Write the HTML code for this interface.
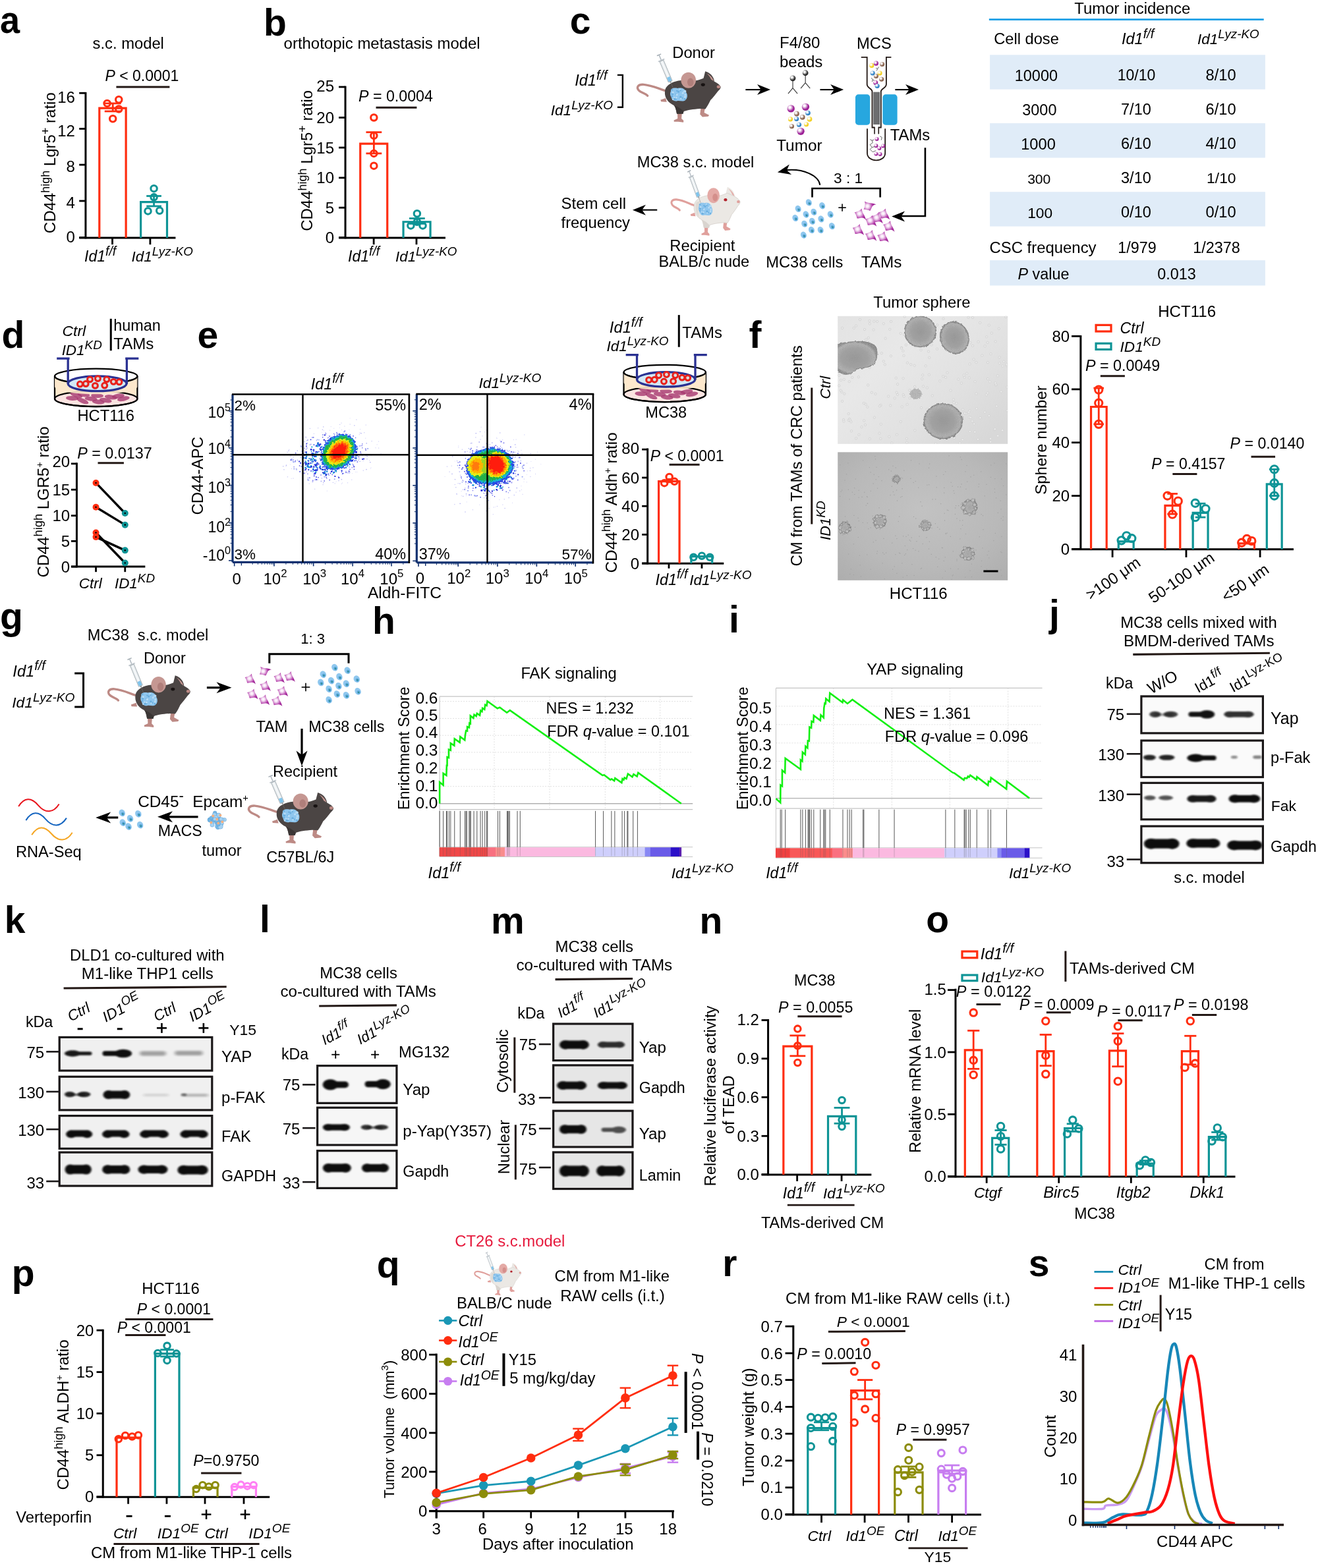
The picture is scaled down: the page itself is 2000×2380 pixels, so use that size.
<!DOCTYPE html>
<html><head><meta charset="utf-8"><title>Figure</title>
<style>html,body{margin:0;padding:0;background:#fff}svg{display:block}text{font-family:"Liberation Sans",sans-serif;fill:#000;white-space:pre}</style></head>
<body>
<svg width="2000" height="2380" viewBox="0 0 2000 2380">
<defs>
<radialGradient id="tamg" cx="0.42" cy="0.45" r="0.55"><stop offset="0" stop-color="#fff"/><stop offset="0.25" stop-color="#f6e3f5"/><stop offset="0.8" stop-color="#b23aa8"/><stop offset="1" stop-color="#a02898"/></radialGradient>
<radialGradient id="sg2b2b2b" cx="0.38" cy="0.36" r="0.65" fx="0.34" fy="0.32"><stop offset="0" stop-color="#fff"/><stop offset="0.18" stop-color="#fff" stop-opacity="0.9"/><stop offset="0.75" stop-color="#2b2b2b"/><stop offset="1" stop-color="#2b2b2b"/></radialGradient>
<radialGradient id="sg9c1f96" cx="0.38" cy="0.36" r="0.65" fx="0.34" fy="0.32"><stop offset="0" stop-color="#fff"/><stop offset="0.18" stop-color="#fff" stop-opacity="0.9"/><stop offset="0.75" stop-color="#9c1f96"/><stop offset="1" stop-color="#9c1f96"/></radialGradient>
<radialGradient id="sg87604a" cx="0.38" cy="0.36" r="0.65" fx="0.34" fy="0.32"><stop offset="0" stop-color="#fff"/><stop offset="0.18" stop-color="#fff" stop-opacity="0.9"/><stop offset="0.75" stop-color="#87604a"/><stop offset="1" stop-color="#87604a"/></radialGradient>
<radialGradient id="sg2a7fc4" cx="0.38" cy="0.36" r="0.65" fx="0.34" fy="0.32"><stop offset="0" stop-color="#fff"/><stop offset="0.18" stop-color="#fff" stop-opacity="0.9"/><stop offset="0.75" stop-color="#2a7fc4"/><stop offset="1" stop-color="#2a7fc4"/></radialGradient>
<radialGradient id="sgf2cf1f" cx="0.38" cy="0.36" r="0.65" fx="0.34" fy="0.32"><stop offset="0" stop-color="#fff"/><stop offset="0.18" stop-color="#fff" stop-opacity="0.9"/><stop offset="0.75" stop-color="#f2cf1f"/><stop offset="1" stop-color="#f2cf1f"/></radialGradient>
<filter id="bl1" x="-50%" y="-50%" width="200%" height="200%"><feGaussianBlur stdDeviation="0.8"/></filter>
<filter id="bl2" x="-50%" y="-50%" width="200%" height="200%"><feGaussianBlur stdDeviation="1.6"/></filter>
<filter id="bl3" x="-50%" y="-50%" width="200%" height="200%"><feGaussianBlur stdDeviation="2.6"/></filter>
<filter id="rough" x="-20%" y="-20%" width="140%" height="140%"><feTurbulence type="fractalNoise" baseFrequency="0.33" numOctaves="2" seed="4" result="n"/><feDisplacementMap in="SourceGraphic" in2="n" scale="8" xChannelSelector="R" yChannelSelector="G"/><feGaussianBlur stdDeviation="0.45"/></filter>
<linearGradient id="mg1" x1="0" y1="0" x2="1" y2="0.8"><stop offset="0" stop-color="#e3e3e3"/><stop offset="0.35" stop-color="#e8e8e8"/><stop offset="0.7" stop-color="#e1e1e1"/><stop offset="1" stop-color="#d8d8d8"/></linearGradient>
<filter id="grain" x="-10%" y="-10%" width="120%" height="120%"><feTurbulence type="fractalNoise" baseFrequency="0.28" numOctaves="2" seed="8" result="d"/><feDisplacementMap in="SourceGraphic" in2="d" scale="3.5" xChannelSelector="R" yChannelSelector="G" result="s"/><feTurbulence type="fractalNoise" baseFrequency="0.85" numOctaves="2" seed="2" result="n"/><feColorMatrix in="n" type="matrix" values="0 0 0 0 0.35  0 0 0 0 0.35  0 0 0 0 0.35  0.9 0.9 0.9 0 -1.05" result="g"/><feComposite in="g" in2="s" operator="in" result="gg"/><feMerge><feMergeNode in="s"/><feMergeNode in="gg"/></feMerge></filter>
<radialGradient id="mg2" cx="0.5" cy="0.45" r="0.75"><stop offset="0" stop-color="#c2c2c2"/><stop offset="0.6" stop-color="#b9b9b9"/><stop offset="1" stop-color="#adadad"/></radialGradient>
<radialGradient id="ms1" cx="0.5" cy="0.5" r="0.5"><stop offset="0" stop-color="#959595"/><stop offset="0.6" stop-color="#a2a2a2"/><stop offset="0.9" stop-color="#b6b6b6"/><stop offset="1" stop-color="#8a8a8a"/></radialGradient>
<radialGradient id="ms2" cx="0.5" cy="0.5" r="0.5"><stop offset="0" stop-color="#a8a8a8"/><stop offset="0.6" stop-color="#b4b4b4"/><stop offset="0.9" stop-color="#a0a0a0"/><stop offset="1" stop-color="#8a8a8a"/></radialGradient>
<clipPath id="mc1"><rect x="1271.22" y="479.83" width="257.93" height="193.98"/></clipPath>
<filter id="bb1" x="-20%" y="-80%" width="140%" height="260%"><feGaussianBlur stdDeviation="1.6 1.3"/></filter>
<filter id="bb2" x="-20%" y="-80%" width="140%" height="260%"><feGaussianBlur stdDeviation="2.4 1.8"/></filter>
</defs>
<rect width="2000" height="2380" fill="#fff"/>
<g id="p-a">
<text transform="translate(-0.09 49.75) scale(0.95 1)" font-size="57" font-weight="bold">a</text>
<text x="140.59" y="73.7" font-size="23.78">s.c. model</text>
<text x="159.41" y="122.9" font-size="23.02"><tspan font-style="italic">P</tspan><tspan> &lt; 0.0001</tspan></text>
<line x1="176.42" y1="131.97" x2="257.37" y2="131.97" stroke="#231815" stroke-width="3" />
<line x1="129.93" y1="139.91" x2="129.93" y2="362.3" stroke="#000" stroke-width="3" />
<line x1="120.18" y1="361" x2="266.44" y2="361" stroke="#000" stroke-width="3" />
<line x1="120.18" y1="141.27" x2="129.93" y2="141.27" stroke="#000" stroke-width="2.8" />
<text x="113.83" y="156.45" font-size="24" text-anchor="end">16</text>
<line x1="120.18" y1="195.46" x2="129.93" y2="195.46" stroke="#000" stroke-width="2.8" />
<text x="113.83" y="207.24" font-size="24" text-anchor="end">12</text>
<line x1="120.18" y1="250.11" x2="129.93" y2="250.11" stroke="#000" stroke-width="2.8" />
<text x="113.83" y="261.43" font-size="24" text-anchor="end">8</text>
<line x1="120.18" y1="304.99" x2="129.93" y2="304.99" stroke="#000" stroke-width="2.8" />
<text x="113.83" y="316.31" font-size="24" text-anchor="end">4</text>
<line x1="120.18" y1="360.54" x2="129.93" y2="360.54" stroke="#000" stroke-width="2.8" />
<text x="113.83" y="368.01" font-size="24" text-anchor="end">0</text>
<line x1="170.52" y1="361" x2="170.52" y2="371.2" stroke="#000" stroke-width="2.8" />
<line x1="227.89" y1="361" x2="227.89" y2="371.2" stroke="#000" stroke-width="2.8" />
<path d="M150.81 361 V164.19 H191.14 V361" fill="none" stroke="#ff2d0f" stroke-width="3.2" stroke-linejoin="miter"/>
<path d="M213.62 361 V306.59 H253.5 V361" fill="none" stroke="#0e9496" stroke-width="3.2" stroke-linejoin="miter"/>
<line x1="171.2" y1="156.92" x2="171.2" y2="168.93" stroke="#ff2d0f" stroke-width="2.8" />
<line x1="158.73" y1="156.92" x2="183.67" y2="156.92" stroke="#ff2d0f" stroke-width="2.8" />
<line x1="158.73" y1="168.93" x2="183.67" y2="168.93" stroke="#ff2d0f" stroke-width="2.8" />
<circle cx="180.27" cy="151.25" r="4.7" fill="none" stroke="#ff2d0f" stroke-width="3.1" />
<circle cx="162.59" cy="156.92" r="4.7" fill="none" stroke="#ff2d0f" stroke-width="3.1" />
<circle cx="180.27" cy="165.53" r="4.7" fill="none" stroke="#ff2d0f" stroke-width="3.1" />
<circle cx="171.2" cy="180.27" r="4.7" fill="none" stroke="#ff2d0f" stroke-width="3.1" />
<line x1="233.56" y1="297.51" x2="233.56" y2="312.93" stroke="#0e9496" stroke-width="2.8" />
<line x1="222.22" y1="297.51" x2="244.9" y2="297.51" stroke="#0e9496" stroke-width="2.8" />
<line x1="222.22" y1="312.93" x2="244.9" y2="312.93" stroke="#0e9496" stroke-width="2.8" />
<circle cx="233.56" cy="286.17" r="4.7" fill="none" stroke="#0e9496" stroke-width="3.1" />
<circle cx="233.56" cy="299.32" r="4.7" fill="none" stroke="#0e9496" stroke-width="3.1" />
<circle cx="224.49" cy="320.41" r="4.7" fill="none" stroke="#0e9496" stroke-width="3.1" />
<circle cx="242.18" cy="319.73" r="4.7" fill="none" stroke="#0e9496" stroke-width="3.1" />
<text x="84.35" y="354.2" font-size="24" transform="rotate(-90 84.35 354.2)"><tspan>CD44</tspan><tspan font-size="18" dy="-9.12">high</tspan><tspan dy="9.12"> Lgr5</tspan><tspan font-size="18" dy="-9.12">+</tspan><tspan dy="9.12"> ratio</tspan></text>
<text x="128.12" y="396.83" font-size="23"><tspan font-style="italic">Id1</tspan><tspan font-style="italic" font-size="19.32" dy="-9.2">f/f</tspan></text>
<text x="199.55" y="396.83" font-size="22.37"><tspan font-style="italic">Id1</tspan><tspan font-style="italic" font-size="18.79" dy="-8.95">Lyz-KO</tspan></text>
</g>
<g id="p-b">
<text transform="translate(399.91 54.29) scale(1 1)" font-size="57" font-weight="bold">b</text>
<text x="430.61" y="73.7" font-size="23.95">orthotopic metastasis model</text>
<text x="543.99" y="154.2" font-size="23.21"><tspan font-style="italic">P</tspan><tspan> = 0.0004</tspan></text>
<line x1="570.52" y1="163.27" x2="632.43" y2="163.27" stroke="#231815" stroke-width="3" />
<line x1="524.04" y1="130.61" x2="524.04" y2="362.3" stroke="#000" stroke-width="3" />
<line x1="514.06" y1="361" x2="675.96" y2="361" stroke="#000" stroke-width="3" />
<line x1="514.06" y1="131.97" x2="524.04" y2="131.97" stroke="#000" stroke-width="2.8" />
<text x="507.03" y="139.07" font-size="24" text-anchor="end">25</text>
<line x1="514.06" y1="178.46" x2="524.04" y2="178.46" stroke="#000" stroke-width="2.8" />
<text x="507.03" y="187.06" font-size="24" text-anchor="end">20</text>
<line x1="514.06" y1="224.04" x2="524.04" y2="224.04" stroke="#000" stroke-width="2.8" />
<text x="507.03" y="232.64" font-size="24" text-anchor="end">15</text>
<line x1="514.06" y1="269.84" x2="524.04" y2="269.84" stroke="#000" stroke-width="2.8" />
<text x="507.03" y="278.44" font-size="24" text-anchor="end">10</text>
<line x1="514.06" y1="315.19" x2="524.04" y2="315.19" stroke="#000" stroke-width="2.8" />
<text x="507.03" y="323.79" font-size="24" text-anchor="end">5</text>
<line x1="514.06" y1="360.54" x2="524.04" y2="360.54" stroke="#000" stroke-width="2.8" />
<text x="507.03" y="369.14" font-size="24" text-anchor="end">0</text>
<line x1="567.12" y1="361" x2="567.12" y2="371.2" stroke="#000" stroke-width="2.8" />
<line x1="631.97" y1="361" x2="631.97" y2="371.2" stroke="#000" stroke-width="2.8" />
<path d="M546.72 361 V218.15 H587.74 V361" fill="none" stroke="#ff2d0f" stroke-width="3.2" stroke-linejoin="miter"/>
<path d="M612.03 361 V336.75 H653.05 V361" fill="none" stroke="#0e9496" stroke-width="3.2" stroke-linejoin="miter"/>
<line x1="567.35" y1="200.68" x2="567.35" y2="232.88" stroke="#ff2d0f" stroke-width="2.8" />
<line x1="555.44" y1="200.68" x2="579.25" y2="200.68" stroke="#ff2d0f" stroke-width="2.8" />
<line x1="555.44" y1="232.88" x2="579.25" y2="232.88" stroke="#ff2d0f" stroke-width="2.8" />
<circle cx="567.35" cy="178.46" r="4.7" fill="none" stroke="#ff2d0f" stroke-width="3.1" />
<circle cx="567.35" cy="205.9" r="4.7" fill="none" stroke="#ff2d0f" stroke-width="3.1" />
<circle cx="567.35" cy="232.88" r="4.7" fill="none" stroke="#ff2d0f" stroke-width="3.1" />
<circle cx="567.35" cy="251.7" r="4.7" fill="none" stroke="#ff2d0f" stroke-width="3.1" />
<line x1="632.88" y1="331.52" x2="632.88" y2="339.46" stroke="#0e9496" stroke-width="2.8" />
<line x1="620.98" y1="331.52" x2="644.78" y2="331.52" stroke="#0e9496" stroke-width="2.8" />
<line x1="620.98" y1="339.46" x2="644.78" y2="339.46" stroke="#0e9496" stroke-width="2.8" />
<circle cx="632.88" cy="324.26" r="4.7" fill="none" stroke="#0e9496" stroke-width="3.1" />
<circle cx="623.36" cy="342.4" r="4.7" fill="none" stroke="#0e9496" stroke-width="3.1" />
<circle cx="641.5" cy="342.4" r="4.7" fill="none" stroke="#0e9496" stroke-width="3.1" />
<circle cx="632.88" cy="336.73" r="4.7" fill="none" stroke="#0e9496" stroke-width="3.1" />
<text x="473.7" y="350.79" font-size="24" transform="rotate(-90 473.7 350.79)"><tspan>CD44</tspan><tspan font-size="18" dy="-9.12">high</tspan><tspan dy="9.12"> Lgr5</tspan><tspan font-size="18" dy="-9.12">+</tspan><tspan dy="9.12"> ratio</tspan></text>
<text x="528.12" y="396.83" font-size="23"><tspan font-style="italic">Id1</tspan><tspan font-style="italic" font-size="19.32" dy="-9.2">f/f</tspan></text>
<text x="600" y="396.83" font-size="22.37"><tspan font-style="italic">Id1</tspan><tspan font-style="italic" font-size="18.79" dy="-8.95">Lyz-KO</tspan></text>
</g>
<g id="p-c">
<text transform="translate(864.87 50.6) scale(1 1)" font-size="57" font-weight="bold">c</text>
<text x="1020.24" y="87.7" font-size="23.75">Donor</text>
<text x="872.22" y="130.16" font-size="23.54"><tspan font-style="italic">Id1</tspan><tspan font-style="italic" font-size="19.77" dy="-9.42">f/f</tspan></text>
<text x="835.71" y="175" font-size="22.62"><tspan font-style="italic">Id1</tspan><tspan font-style="italic" font-size="19" dy="-9.05">Lyz-KO</tspan></text>
<path d="M936.9 113.89 H944.84 V162.7 H936.9" fill="none" stroke="#000" stroke-width="2.4" />
<text x="1182.94" y="72.62" font-size="24.05">F4/80</text>
<text x="1182.94" y="101.59" font-size="24.03">beads</text>
<text x="1300" y="73.81" font-size="23.75">MCS</text>
<text x="1178.17" y="228.57" font-size="24.35">Tumor</text>
<text x="1350.79" y="212.7" font-size="23.78">TAMs</text>
<text x="966.67" y="254.37" font-size="23.7">MC38 s.c. model</text>
<text x="1265.08" y="277.87" font-size="22.64">3 : 1</text>
<text x="851.59" y="317.07" font-size="23.93">Stem cell</text>
<text x="851.59" y="345.64" font-size="23.76">frequency</text>
<text x="1016.27" y="381.35" font-size="23.8">Recipient</text>
<text x="999.6" y="405.16" font-size="23.59">BALB/c nude</text>
<text x="1162.3" y="406.35" font-size="23.67">MC38 cells</text>
<text x="1306.75" y="406.35" font-size="24.25">TAMs</text>
<line x1="1131.35" y1="136.11" x2="1155.05" y2="136.11" stroke="#000" stroke-width="2.1" />
<path d="M1169.05 136.11 L1149.05 128.11 L1154.65 136.11 L1149.05 144.11 Z" fill="#000" />
<line x1="1244.44" y1="136.11" x2="1266.16" y2="136.11" stroke="#000" stroke-width="2.1" />
<path d="M1280.16 136.11 L1260.16 128.11 L1265.76 136.11 L1260.16 144.11 Z" fill="#000" />
<line x1="1358.33" y1="136.11" x2="1380.05" y2="136.11" stroke="#000" stroke-width="2.1" />
<path d="M1394.05 136.11 L1374.05 128.11 L1379.65 136.11 L1374.05 144.11 Z" fill="#000" />
<line x1="997.22" y1="318.65" x2="973.92" y2="318.65" stroke="#000" stroke-width="2.1" />
<path d="M959.92 318.65 L979.92 326.65 L974.32 318.65 L979.92 310.65 Z" fill="#000" />
<path d="M1403.92 224.21 V328.01 H1366.34" fill="none" stroke="#000" stroke-width="2.6" />
<path d="M1353.07 328.45 L1373.07 336.45 L1367.47 328.45 L1373.07 320.45 Z" fill="#000" />
<path d="M1232.51 299.57 V286.01 H1335.68 V299.57" fill="none" stroke="#000" stroke-width="2.7" />
<path d="M1244.3 280.85 C1242.54 266.85 1218.95 255.06 1191.69 258.3" fill="none" stroke="#000" stroke-width="2" />
<path d="M1179.9 261.39 L1201.12 265.06 L1193.98 258.4 L1197.8 249.41 Z" fill="#000" />
<line x1="1272.31" y1="315.19" x2="1283.8" y2="315.19" stroke="#000" stroke-width="1.6" />
<line x1="1278.05" y1="309.59" x2="1278.05" y2="320.79" stroke="#000" stroke-width="1.6" />
<g transform="translate(1227.35 307.38) rotate(-25)">
<ellipse cx="0" cy="0" rx="4.37" ry="5.29" fill="#8fc7ee" />
<ellipse cx="0.3" cy="1.61" rx="2.3" ry="2.53" fill="#5aa6dc" />
<circle cx="0.3" cy="1.84" r="1.2" fill="#2f8f8f" />
</g>
<g transform="translate(1247.69 312.24) rotate(-25)">
<ellipse cx="0" cy="0" rx="4.37" ry="5.29" fill="#8fc7ee" />
<ellipse cx="0.3" cy="1.61" rx="2.3" ry="2.53" fill="#5aa6dc" />
<circle cx="0.3" cy="1.84" r="1.2" fill="#2f8f8f" />
</g>
<g transform="translate(1211.14 316.96) rotate(-25)">
<ellipse cx="0" cy="0" rx="4.37" ry="5.29" fill="#8fc7ee" />
<ellipse cx="0.3" cy="1.61" rx="2.3" ry="2.53" fill="#5aa6dc" />
<circle cx="0.3" cy="1.84" r="1.2" fill="#2f8f8f" />
</g>
<g transform="translate(1234.87 321.82) rotate(-25)">
<ellipse cx="0" cy="0" rx="4.37" ry="5.29" fill="#8fc7ee" />
<ellipse cx="0.3" cy="1.61" rx="2.3" ry="2.53" fill="#5aa6dc" />
<circle cx="0.3" cy="1.84" r="1.2" fill="#2f8f8f" />
</g>
<g transform="translate(1223.08 325.5) rotate(-25)">
<ellipse cx="0" cy="0" rx="4.37" ry="5.29" fill="#8fc7ee" />
<ellipse cx="0.3" cy="1.61" rx="2.3" ry="2.53" fill="#5aa6dc" />
<circle cx="0.3" cy="1.84" r="1.2" fill="#2f8f8f" />
</g>
<g transform="translate(1260.22 325.5) rotate(-25)">
<ellipse cx="0" cy="0" rx="4.37" ry="5.29" fill="#8fc7ee" />
<ellipse cx="0.3" cy="1.61" rx="2.3" ry="2.53" fill="#5aa6dc" />
<circle cx="0.3" cy="1.84" r="1.2" fill="#2f8f8f" />
</g>
<g transform="translate(1206.87 330.96) rotate(-25)">
<ellipse cx="0" cy="0" rx="4.37" ry="5.29" fill="#8fc7ee" />
<ellipse cx="0.3" cy="1.61" rx="2.3" ry="2.53" fill="#5aa6dc" />
<circle cx="0.3" cy="1.84" r="1.2" fill="#2f8f8f" />
</g>
<g transform="translate(1245.92 332.43) rotate(-25)">
<ellipse cx="0" cy="0" rx="4.37" ry="5.29" fill="#8fc7ee" />
<ellipse cx="0.3" cy="1.61" rx="2.3" ry="2.53" fill="#5aa6dc" />
<circle cx="0.3" cy="1.84" r="1.2" fill="#2f8f8f" />
</g>
<g transform="translate(1232.51 335.82) rotate(-25)">
<ellipse cx="0" cy="0" rx="4.37" ry="5.29" fill="#8fc7ee" />
<ellipse cx="0.3" cy="1.61" rx="2.3" ry="2.53" fill="#5aa6dc" />
<circle cx="0.3" cy="1.84" r="1.2" fill="#2f8f8f" />
</g>
<g transform="translate(1220.72 339.8) rotate(-25)">
<ellipse cx="0" cy="0" rx="4.37" ry="5.29" fill="#8fc7ee" />
<ellipse cx="0.3" cy="1.61" rx="2.3" ry="2.53" fill="#5aa6dc" />
<circle cx="0.3" cy="1.84" r="1.2" fill="#2f8f8f" />
</g>
<g transform="translate(1262.43 343.19) rotate(-25)">
<ellipse cx="0" cy="0" rx="4.37" ry="5.29" fill="#8fc7ee" />
<ellipse cx="0.3" cy="1.61" rx="2.3" ry="2.53" fill="#5aa6dc" />
<circle cx="0.3" cy="1.84" r="1.2" fill="#2f8f8f" />
</g>
<g transform="translate(1231.48 349.09) rotate(-25)">
<ellipse cx="0" cy="0" rx="4.37" ry="5.29" fill="#8fc7ee" />
<ellipse cx="0.3" cy="1.61" rx="2.3" ry="2.53" fill="#5aa6dc" />
<circle cx="0.3" cy="1.84" r="1.2" fill="#2f8f8f" />
</g>
<g transform="translate(1245.19 349.09) rotate(-25)">
<ellipse cx="0" cy="0" rx="4.37" ry="5.29" fill="#8fc7ee" />
<ellipse cx="0.3" cy="1.61" rx="2.3" ry="2.53" fill="#5aa6dc" />
<circle cx="0.3" cy="1.84" r="1.2" fill="#2f8f8f" />
</g>
<g transform="translate(1219.4 356.75) rotate(-25)">
<ellipse cx="0" cy="0" rx="4.37" ry="5.29" fill="#8fc7ee" />
<ellipse cx="0.3" cy="1.61" rx="2.3" ry="2.53" fill="#5aa6dc" />
<circle cx="0.3" cy="1.84" r="1.2" fill="#2f8f8f" />
</g>
<g transform="translate(1317.7 312.54) rotate(-55) scale(1.0000)">
<path d="M-8.4 -2.8 C-5 -3.5 0 -5 2.3 -8.6 C2.8 -5 4 -2 5.6 0.5 C7 3 8 5.5 8.8 8.4 C6.5 6 4.5 5.2 2.5 5.4 C0 5.8 -2.5 6.4 -4.6 6.4 C-5.5 3 -6.5 0 -8.4 -2.8Z" fill="url(#tamg)" />
</g>
<g transform="translate(1305.17 325.06) rotate(0) scale(1.0000)">
<path d="M-8.4 -2.8 C-5 -3.5 0 -5 2.3 -8.6 C2.8 -5 4 -2 5.6 0.5 C7 3 8 5.5 8.8 8.4 C6.5 6 4.5 5.2 2.5 5.4 C0 5.8 -2.5 6.4 -4.6 6.4 C-5.5 3 -6.5 0 -8.4 -2.8Z" fill="url(#tamg)" />
</g>
<g transform="translate(1341.28 325.06) rotate(0) scale(1.0000)">
<path d="M-8.4 -2.8 C-5 -3.5 0 -5 2.3 -8.6 C2.8 -5 4 -2 5.6 0.5 C7 3 8 5.5 8.8 8.4 C6.5 6 4.5 5.2 2.5 5.4 C0 5.8 -2.5 6.4 -4.6 6.4 C-5.5 3 -6.5 0 -8.4 -2.8Z" fill="url(#tamg)" />
</g>
<g transform="translate(1330.97 330.96) rotate(0) scale(1.0000)">
<path d="M-8.4 -2.8 C-5 -3.5 0 -5 2.3 -8.6 C2.8 -5 4 -2 5.6 0.5 C7 3 8 5.5 8.8 8.4 C6.5 6 4.5 5.2 2.5 5.4 C0 5.8 -2.5 6.4 -4.6 6.4 C-5.5 3 -6.5 0 -8.4 -2.8Z" fill="url(#tamg)" />
</g>
<g transform="translate(1321.39 335.38) rotate(0) scale(1.0000)">
<path d="M-8.4 -2.8 C-5 -3.5 0 -5 2.3 -8.6 C2.8 -5 4 -2 5.6 0.5 C7 3 8 5.5 8.8 8.4 C6.5 6 4.5 5.2 2.5 5.4 C0 5.8 -2.5 6.4 -4.6 6.4 C-5.5 3 -6.5 0 -8.4 -2.8Z" fill="url(#tamg)" />
</g>
<g transform="translate(1348.65 343.49) rotate(0) scale(1.0000)">
<path d="M-8.4 -2.8 C-5 -3.5 0 -5 2.3 -8.6 C2.8 -5 4 -2 5.6 0.5 C7 3 8 5.5 8.8 8.4 C6.5 6 4.5 5.2 2.5 5.4 C0 5.8 -2.5 6.4 -4.6 6.4 C-5.5 3 -6.5 0 -8.4 -2.8Z" fill="url(#tamg)" />
</g>
<g transform="translate(1302.23 348.64) rotate(0) scale(1.0000)">
<path d="M-8.4 -2.8 C-5 -3.5 0 -5 2.3 -8.6 C2.8 -5 4 -2 5.6 0.5 C7 3 8 5.5 8.8 8.4 C6.5 6 4.5 5.2 2.5 5.4 C0 5.8 -2.5 6.4 -4.6 6.4 C-5.5 3 -6.5 0 -8.4 -2.8Z" fill="url(#tamg)" />
</g>
<g transform="translate(1321.39 357.49) rotate(0) scale(1.0000)">
<path d="M-8.4 -2.8 C-5 -3.5 0 -5 2.3 -8.6 C2.8 -5 4 -2 5.6 0.5 C7 3 8 5.5 8.8 8.4 C6.5 6 4.5 5.2 2.5 5.4 C0 5.8 -2.5 6.4 -4.6 6.4 C-5.5 3 -6.5 0 -8.4 -2.8Z" fill="url(#tamg)" />
</g>
<g transform="translate(1339.81 359.7) rotate(0) scale(1.0000)">
<path d="M-8.4 -2.8 C-5 -3.5 0 -5 2.3 -8.6 C2.8 -5 4 -2 5.6 0.5 C7 3 8 5.5 8.8 8.4 C6.5 6 4.5 5.2 2.5 5.4 C0 5.8 -2.5 6.4 -4.6 6.4 C-5.5 3 -6.5 0 -8.4 -2.8Z" fill="url(#tamg)" />
</g>
<g transform="translate(950 60) scale(0.11338 0.11338)">
<path d="M540 690 C450 665 350 612 235 603 C160 598 135 640 170 680 C200 712 262 722 288 752" fill="none" stroke="#bd8a85" stroke-width="30" stroke-linecap="round"/>
<path d="M530 785 L462 808 L468 832 L545 835 Z" fill="#bd8a85" />
<path d="M1035 525 L1060 425 C1125 445 1172 492 1182 560 Z" fill="#4b4544" />
<path d="M1078 452 C1122 472 1160 512 1176 556 L1140 535 C1125 500 1105 475 1078 452Z" fill="#c59792" />
<path d="M688 985 L748 985 L742 1058 L770 1085 L768 1108 L700 1100 L642 1100 L640 1080 L690 1058 Z" fill="#bd8a85" />
<path d="M1000 920 L1056 920 L1046 978 L1112 1012 L1100 1030 L1022 1036 L990 1000 Z" fill="#bd8a85" />
<path d="M520 700 C520 620 600 572 700 552 C800 532 900 562 960 545 C1000 532 1030 520 1060 512 L1180 560 C1222 585 1252 600 1266 630 C1272 652 1250 672 1230 692 C1200 732 1160 782 1130 812 C1110 852 1092 892 1062 930 L990 925 C900 932 820 942 772 962 L762 995 L680 995 C672 952 662 902 640 882 C570 852 512 782 520 700 Z" fill="#4b4544" />
<path d="M640 882 C662 902 672 952 680 995 L762 995 L772 962 C740 930 700 900 640 882Z" fill="#3b3635" />
<ellipse cx="835" cy="545" rx="100" ry="106" fill="#c59792" />
<ellipse cx="862" cy="572" rx="42" ry="55" fill="#b07f7b" />
<ellipse cx="1030" cy="605" rx="27" ry="21" fill="#171212" />
<ellipse cx="1238" cy="632" rx="24" ry="20" fill="#bd8a85" />
<path d="M600 690 C590 655 640 640 690 652 C740 640 790 655 800 700 C830 740 825 790 790 815 C760 835 720 815 690 820 C650 835 610 810 605 770 C585 740 590 710 600 690Z" fill="#8fc6ee" />
<circle cx="730.24" cy="768.85" r="14.77" fill="#6aaede" />
<circle cx="789.35" cy="768.59" r="15.53" fill="#b9dcf5" />
<circle cx="620.37" cy="730.19" r="15.66" fill="#6aaede" />
<circle cx="735.06" cy="791.13" r="10.68" fill="#b9dcf5" />
<circle cx="701.78" cy="699.52" r="13.26" fill="#6aaede" />
<circle cx="721.18" cy="666.84" r="11.3" fill="#b9dcf5" />
<circle cx="666.7" cy="793.29" r="14.59" fill="#6aaede" />
<circle cx="644.53" cy="776.6" r="10.83" fill="#b9dcf5" />
<circle cx="729.23" cy="682.74" r="10.01" fill="#6aaede" />
<circle cx="776.21" cy="694.32" r="11.29" fill="#b9dcf5" />
<circle cx="796.75" cy="787.14" r="11.74" fill="#6aaede" />
<circle cx="792.87" cy="740.49" r="14.07" fill="#b9dcf5" />
<circle cx="652.88" cy="796.74" r="14.14" fill="#6aaede" />
<circle cx="793.81" cy="790.12" r="11.79" fill="#b9dcf5" />
<circle cx="681.82" cy="688.23" r="10.87" fill="#6aaede" />
<circle cx="627.05" cy="707.19" r="13.62" fill="#b9dcf5" />
<circle cx="615.63" cy="759.91" r="12.03" fill="#6aaede" />
<circle cx="672.34" cy="779.59" r="12.88" fill="#b9dcf5" />
<circle cx="673.42" cy="732.37" r="14.23" fill="#6aaede" />
<circle cx="625.55" cy="801.51" r="10.14" fill="#b9dcf5" />
<circle cx="753.71" cy="783.28" r="10.11" fill="#6aaede" />
<circle cx="760.73" cy="716.27" r="13.47" fill="#b9dcf5" />
<circle cx="616.68" cy="671.54" r="11.09" fill="#6aaede" />
<circle cx="791.71" cy="692.51" r="14.53" fill="#b9dcf5" />
<circle cx="786.99" cy="796.89" r="12.07" fill="#6aaede" />
<circle cx="680.64" cy="738.46" r="14.65" fill="#b9dcf5" />
<g transform="translate(440 203) rotate(-23)">
<rect x="-30" y="-4" width="60" height="13" fill="#a4adb4" rx="3" />
<rect x="-7" y="8" width="14" height="70" fill="#b4bcc3" />
<rect x="-46" y="74" width="92" height="15" fill="#c3cad0" rx="3" />
<rect x="-28" y="89" width="56" height="300" fill="#e6ebee" stroke="#8f999f" stroke-width="6" />
<rect x="-9" y="100" width="18" height="220" fill="#f7f9fa" />
<rect x="-22" y="325" width="44" height="60" fill="#7fc4ec" />
<rect x="-10" y="389" width="20" height="18" fill="#8f999f" />
<line x1="0" y1="405" x2="0" y2="490" stroke="#777" stroke-width="4" />
</g>
</g>
<g transform="translate(1004.46 237.62) scale(0.09365 0.10840)">
<path d="M540 690 C450 665 350 612 235 603 C160 598 135 640 170 680 C200 712 262 722 288 752" fill="none" stroke="#e0a09c" stroke-width="30" stroke-linecap="round"/>
<path d="M530 785 L462 808 L468 832 L545 835 Z" fill="#e0a09c" />
<path d="M1035 525 L1060 425 C1125 445 1172 492 1182 560 Z" fill="#ebe8e4" />
<path d="M1078 452 C1122 472 1160 512 1176 556 L1140 535 C1125 500 1105 475 1078 452Z" fill="#e4aaa6" />
<path d="M688 985 L748 985 L742 1058 L770 1085 L768 1108 L700 1100 L642 1100 L640 1080 L690 1058 Z" fill="#e0a09c" />
<path d="M1000 920 L1056 920 L1046 978 L1112 1012 L1100 1030 L1022 1036 L990 1000 Z" fill="#e0a09c" />
<path d="M520 700 C520 620 600 572 700 552 C800 532 900 562 960 545 C1000 532 1030 520 1060 512 L1180 560 C1222 585 1252 600 1266 630 C1272 652 1250 672 1230 692 C1200 732 1160 782 1130 812 C1110 852 1092 892 1062 930 L990 925 C900 932 820 942 772 962 L762 995 L680 995 C672 952 662 902 640 882 C570 852 512 782 520 700 Z" fill="#ebe8e4" stroke="#d2ccc7" stroke-width="7" />
<path d="M560 640 C530 700 540 790 600 850 C590 780 590 700 620 620Z" fill="#d9d4cf" opacity="0.7"/>
<path d="M640 882 C662 902 672 952 680 995 L762 995 L772 962 C740 930 700 900 640 882Z" fill="#d9d4cf" />
<ellipse cx="835" cy="545" rx="100" ry="106" fill="#e4aaa6" />
<ellipse cx="862" cy="572" rx="42" ry="55" fill="#d48f8b" />
<ellipse cx="1030" cy="605" rx="27" ry="21" fill="#b0202a" />
<ellipse cx="1238" cy="632" rx="24" ry="20" fill="#e0a09c" />
<path d="M600 690 C590 655 640 640 690 652 C740 640 790 655 800 700 C830 740 825 790 790 815 C760 835 720 815 690 820 C650 835 610 810 605 770 C585 740 590 710 600 690Z" fill="#8fc6ee" />
<circle cx="730.24" cy="768.85" r="14.77" fill="#6aaede" />
<circle cx="789.35" cy="768.59" r="15.53" fill="#b9dcf5" />
<circle cx="620.37" cy="730.19" r="15.66" fill="#6aaede" />
<circle cx="735.06" cy="791.13" r="10.68" fill="#b9dcf5" />
<circle cx="701.78" cy="699.52" r="13.26" fill="#6aaede" />
<circle cx="721.18" cy="666.84" r="11.3" fill="#b9dcf5" />
<circle cx="666.7" cy="793.29" r="14.59" fill="#6aaede" />
<circle cx="644.53" cy="776.6" r="10.83" fill="#b9dcf5" />
<circle cx="729.23" cy="682.74" r="10.01" fill="#6aaede" />
<circle cx="776.21" cy="694.32" r="11.29" fill="#b9dcf5" />
<circle cx="796.75" cy="787.14" r="11.74" fill="#6aaede" />
<circle cx="792.87" cy="740.49" r="14.07" fill="#b9dcf5" />
<circle cx="652.88" cy="796.74" r="14.14" fill="#6aaede" />
<circle cx="793.81" cy="790.12" r="11.79" fill="#b9dcf5" />
<circle cx="681.82" cy="688.23" r="10.87" fill="#6aaede" />
<circle cx="627.05" cy="707.19" r="13.62" fill="#b9dcf5" />
<circle cx="615.63" cy="759.91" r="12.03" fill="#6aaede" />
<circle cx="672.34" cy="779.59" r="12.88" fill="#b9dcf5" />
<circle cx="673.42" cy="732.37" r="14.23" fill="#6aaede" />
<circle cx="625.55" cy="801.51" r="10.14" fill="#b9dcf5" />
<circle cx="753.71" cy="783.28" r="10.11" fill="#6aaede" />
<circle cx="760.73" cy="716.27" r="13.47" fill="#b9dcf5" />
<circle cx="616.68" cy="671.54" r="11.09" fill="#6aaede" />
<circle cx="791.71" cy="692.51" r="14.53" fill="#b9dcf5" />
<circle cx="786.99" cy="796.89" r="12.07" fill="#6aaede" />
<circle cx="680.64" cy="738.46" r="14.65" fill="#b9dcf5" />
<g transform="translate(440 203) rotate(-23)">
<rect x="-30" y="-4" width="60" height="13" fill="#a4adb4" rx="3" />
<rect x="-7" y="8" width="14" height="70" fill="#b4bcc3" />
<rect x="-46" y="74" width="92" height="15" fill="#c3cad0" rx="3" />
<rect x="-28" y="89" width="56" height="300" fill="#e6ebee" stroke="#8f999f" stroke-width="6" />
<rect x="-9" y="100" width="18" height="220" fill="#f7f9fa" />
<rect x="-22" y="325" width="44" height="60" fill="#7fc4ec" />
<rect x="-10" y="389" width="20" height="18" fill="#8f999f" />
<line x1="0" y1="405" x2="0" y2="490" stroke="#777" stroke-width="4" />
</g>
</g>
<line x1="1203.02" y1="122.36" x2="1203.02" y2="133.7" stroke="#333" stroke-width="1.1" />
<line x1="1203.02" y1="133.7" x2="1195.94" y2="142.2" stroke="#333" stroke-width="1.1" />
<line x1="1203.02" y1="133.7" x2="1210.11" y2="142.2" stroke="#333" stroke-width="1.1" />
<circle cx="1203.02" cy="118.82" r="4.4" fill="url(#sg2b2b2b)" />
<line x1="1222.15" y1="114.28" x2="1222.15" y2="125.62" stroke="#333" stroke-width="1.1" />
<line x1="1222.15" y1="125.62" x2="1215.07" y2="134.12" stroke="#333" stroke-width="1.1" />
<line x1="1222.15" y1="125.62" x2="1229.24" y2="134.12" stroke="#333" stroke-width="1.1" />
<circle cx="1222.15" cy="110.74" r="4.4" fill="url(#sg2b2b2b)" />
<circle cx="1200.19" cy="164.88" r="5.67" fill="url(#sg9c1f96)" />
<circle cx="1222.44" cy="162.32" r="5.67" fill="url(#sg9c1f96)" />
<circle cx="1208.97" cy="172.67" r="3.83" fill="url(#sg87604a)" />
<circle cx="1225.98" cy="171.54" r="3.83" fill="url(#sg2a7fc4)" />
<circle cx="1217.76" cy="177.91" r="3.83" fill="url(#sg87604a)" />
<circle cx="1199.48" cy="180.89" r="3.54" fill="url(#sgf2cf1f)" />
<circle cx="1208.69" cy="180.46" r="3.54" fill="url(#sg2a7fc4)" />
<circle cx="1228.53" cy="180.89" r="3.83" fill="url(#sgf2cf1f)" />
<circle cx="1212.52" cy="189.25" r="3.54" fill="url(#sg2a7fc4)" />
<circle cx="1223.57" cy="188.68" r="3.54" fill="url(#sgf2cf1f)" />
<circle cx="1201.46" cy="191.8" r="3.54" fill="url(#sg87604a)" />
<circle cx="1215.07" cy="199.31" r="5.67" fill="url(#sg9c1f96)" />
<rect x="1297.98" y="143.33" width="22.25" height="46.34" fill="#27a7df" rx="4.5" />
<rect x="1339.36" y="143.33" width="22.25" height="46.34" fill="#27a7df" rx="4.5" />
<rect x="1325.19" y="139.65" width="9.92" height="49.32" fill="#6d6e70" />
<path d="M1306.76 86.93 H1315.69 V128.03 C1315.69 133.7 1323.49 134.4 1323.49 138.66 V193.5 H1327.03" fill="none" stroke="#231815" stroke-width="1.8" />
<path d="M1352.4 86.93 H1344.89 V128.03 C1344.89 133.7 1336.81 134.4 1336.81 138.66 V193.5 H1333.27" fill="none" stroke="#231815" stroke-width="1.8" />
<line x1="1327.03" y1="192.65" x2="1327.03" y2="203.42" stroke="#231815" stroke-width="1.6" />
<line x1="1333.27" y1="192.65" x2="1333.27" y2="203.42" stroke="#231815" stroke-width="1.6" />
<path d="M1315.98 195.35 V232.19 C1315.98 247.07 1343.19 247.07 1343.19 232.19 V195.35" fill="none" stroke="#231815" stroke-width="1.8" />
<circle cx="1322.78" cy="99.4" r="3.54" fill="url(#sgf2cf1f)" />
<circle cx="1329.44" cy="96.14" r="3.54" fill="url(#sg9c1f96)" />
<circle cx="1338.65" cy="97.56" r="3.54" fill="url(#sg87604a)" />
<circle cx="1324.2" cy="111.02" r="3.54" fill="url(#sg2a7fc4)" />
<circle cx="1335.11" cy="111.02" r="3.54" fill="url(#sgf2cf1f)" />
<circle cx="1329.44" cy="115.56" r="3.54" fill="url(#sg87604a)" />
<circle cx="1337.66" cy="120.23" r="3.54" fill="url(#sg87604a)" />
<circle cx="1328.73" cy="125.48" r="3.54" fill="url(#sg9c1f96)" />
<circle cx="1331.14" cy="130.44" r="3.54" fill="url(#sg2a7fc4)" />
<path d="M1333.69 101.38 l-2 3 l-2.5 -1 m2.5 1 l-1.5 3" fill="none" stroke="#222" stroke-width="0.7" />
<path d="M1322.35 118.11 l2 3 l2.5 1 m-2.5 -1 l-1 3" fill="none" stroke="#222" stroke-width="0.7" />
<circle cx="1330.57" cy="210.94" r="2.98" fill="url(#sg9c1f96)" />
<circle cx="1329.44" cy="221.28" r="2.98" fill="url(#sg9c1f96)" />
<circle cx="1334.4" cy="225.11" r="2.98" fill="url(#sg9c1f96)" />
<circle cx="1340.07" cy="221.56" r="2.98" fill="url(#sg9c1f96)" />
<circle cx="1329.44" cy="233.61" r="2.98" fill="url(#sg9c1f96)" />
<circle cx="1335.53" cy="234.04" r="2.98" fill="url(#sg9c1f96)" />
<path d="M1320.23 211.64 l3 1.5 l3 -1 m-3 1 l1 3.5 l-4 3 l3 4 l4 -1 m-4 1 l-3 3 l4 4 l5 -2 m6 -22 l3 2 l-1 4" fill="none" stroke="#222" stroke-width="0.7" />
<text x="1630.23" y="20.67" font-size="23.95">Tumor incidence</text>
<line x1="1500.83" y1="29.62" x2="1917.73" y2="29.62" stroke="#1c9fe6" stroke-width="2.6" />
<rect x="1502.07" y="83.26" width="417.84" height="52.39" fill="#e0ecf8" />
<rect x="1502.07" y="187.09" width="417.84" height="52.39" fill="#e0ecf8" />
<rect x="1502.07" y="291.24" width="417.84" height="52.39" fill="#e0ecf8" />
<rect x="1502.07" y="395.07" width="417.84" height="38.35" fill="#e0ecf8" />
<text x="1508.31" y="67.44" font-size="23.63">Cell dose</text>
<text x="1701.95" y="67.44" font-size="23.57"><tspan font-style="italic">Id1</tspan><tspan font-style="italic" font-size="19.8" dy="-9.43">f/f</tspan></text>
<text x="1817.01" y="67.44" font-size="22.48"><tspan font-style="italic">Id1</tspan><tspan font-style="italic" font-size="18.88" dy="-8.99">Lyz-KO</tspan></text>
<text x="1539.8" y="122.94" font-size="23.44">10000</text>
<text x="1695.71" y="122.01" font-size="23.05">10/10</text>
<text x="1829.48" y="122.01" font-size="23.71">8/10</text>
<text x="1551.34" y="175.02" font-size="23.41">3000</text>
<text x="1701.01" y="174.39" font-size="23.55">7/10</text>
<text x="1829.48" y="174.39" font-size="23.71">6/10</text>
<text x="1549.16" y="226.78" font-size="23.69">1000</text>
<text x="1701.01" y="226.16" font-size="23.55">6/10</text>
<text x="1829.48" y="226.16" font-size="23.71">4/10</text>
<text x="1559.14" y="279.48" font-size="21.12">300</text>
<text x="1701.01" y="277.92" font-size="23.55">3/10</text>
<text x="1831.04" y="277.92" font-size="22.91">1/10</text>
<text x="1559.14" y="330.93" font-size="22.8">100</text>
<text x="1701.01" y="329.99" font-size="23.55">0/10</text>
<text x="1829.48" y="329.99" font-size="23.71">0/10</text>
<text x="1501.45" y="383.94" font-size="23.91">CSC frequency</text>
<text x="1696.34" y="383.94" font-size="23.3">1/979</text>
<text x="1810.15" y="383.94" font-size="23.45">1/2378</text>
<text x="1544.48" y="424.47" font-size="23.37"><tspan font-style="italic">P</tspan><tspan> value</tspan></text>
<text x="1756.21" y="424.47" font-size="23.43">0.013</text>
</g>
<g id="p-d">
<text transform="translate(2.49 528.46) scale(1 1)" font-size="57" font-weight="bold">d</text>
<text x="94.44" y="509.68" font-size="22.96" font-style="italic">Ctrl</text>
<text x="93.65" y="539.37" font-size="22.44"><tspan font-style="italic">ID1</tspan><tspan font-style="italic" font-size="18.85" dy="-8.98">KD</tspan></text>
<line x1="168.25" y1="483.81" x2="168.25" y2="532.22" stroke="#000" stroke-width="3" />
<text x="172.22" y="502.06" font-size="23.36">human</text>
<text x="172.22" y="530.32" font-size="24.09">TAMs</text>
<text x="117.46" y="639.37" font-size="23.7">HCT116</text>
<path d="M83.02 571.11 V605.24 A62.7 11.9 0 0 0 208.41 605.24 V571.11 A62.7 11.43 0 0 1 83.02 571.11 Z" fill="#fde8cc" />
<ellipse cx="145.71" cy="605.24" rx="62.7" ry="11.9" fill="#fbe4e1" stroke="#000" stroke-width="2.3" />
<ellipse cx="109.52" cy="604.44" rx="9.52" ry="3.49" fill="#a6376f" opacity="0.8" transform="rotate(3.1 109.52 604.44)"/>
<ellipse cx="126.98" cy="598.89" rx="9.52" ry="3.49" fill="#a6376f" opacity="0.8" transform="rotate(7.39 126.98 598.89)"/>
<ellipse cx="125.4" cy="608.41" rx="9.52" ry="3.49" fill="#a6376f" opacity="0.8" transform="rotate(21.97 125.4 608.41)"/>
<ellipse cx="147.62" cy="600.48" rx="9.52" ry="3.49" fill="#a6376f" opacity="0.8" transform="rotate(3.63 147.62 600.48)"/>
<ellipse cx="149.21" cy="610" rx="9.52" ry="3.49" fill="#a6376f" opacity="0.8" transform="rotate(5.31 149.21 610)"/>
<ellipse cx="168.25" cy="602.86" rx="9.52" ry="3.49" fill="#a6376f" opacity="0.8" transform="rotate(8.5 168.25 602.86)"/>
<ellipse cx="179.37" cy="601.27" rx="9.52" ry="3.49" fill="#a6376f" opacity="0.8" transform="rotate(-7.61 179.37 601.27)"/>
<ellipse cx="138.1" cy="605.24" rx="9.52" ry="3.49" fill="#a6376f" opacity="0.8" transform="rotate(5.48 138.1 605.24)"/>
<ellipse cx="160.32" cy="607.62" rx="9.52" ry="3.49" fill="#a6376f" opacity="0.8" transform="rotate(10.2 160.32 607.62)"/>
<ellipse cx="115.87" cy="599.68" rx="9.52" ry="3.49" fill="#a6376f" opacity="0.8" transform="rotate(16.72 115.87 599.68)"/>
<ellipse cx="187.3" cy="605.24" rx="9.52" ry="3.49" fill="#a6376f" opacity="0.8" transform="rotate(-11.24 187.3 605.24)"/>
<ellipse cx="145.71" cy="571.11" rx="62.7" ry="11.43" fill="#fff" stroke="#000" stroke-width="2.3" />
<path d="M83.02 571.11 V605.24 A62.7 11.9 0 0 0 208.41 605.24 V571.11" fill="none" stroke="#000" stroke-width="2.3" />
<path d="M83.02 571.11 A62.7 11.43 0 0 0 208.41 571.11 V586.98 A62.7 11.43 0 0 1 83.02 586.98 Z" fill="#fde8cc" opacity="0.9"/>
<path d="M83.02 571.11 A62.7 11.43 0 0 0 208.41 571.11" fill="none" stroke="#000" stroke-width="2.3" />
<ellipse cx="147.62" cy="582.22" rx="44.44" ry="11.43" fill="#d3e9f5" stroke="#2a3192" stroke-width="3.3" />
<rect x="101.59" y="569.52" width="92.38" height="12.7" fill="#fff" opacity="0"/>
<circle cx="121.43" cy="583.02" r="3.97" fill="#dcdcdc" stroke="#e8211c" stroke-width="3" />
<circle cx="130.16" cy="582.54" r="3.97" fill="#dcdcdc" stroke="#e8211c" stroke-width="3" />
<circle cx="136.51" cy="575.87" r="3.97" fill="#dcdcdc" stroke="#e8211c" stroke-width="3" />
<circle cx="148.41" cy="574.6" r="3.97" fill="#dcdcdc" stroke="#e8211c" stroke-width="3" />
<circle cx="161.9" cy="575.87" r="3.97" fill="#dcdcdc" stroke="#e8211c" stroke-width="3" />
<circle cx="144.44" cy="585.4" r="3.97" fill="#dcdcdc" stroke="#e8211c" stroke-width="3" />
<circle cx="158.73" cy="585.08" r="3.97" fill="#dcdcdc" stroke="#e8211c" stroke-width="3" />
<circle cx="172.22" cy="579.37" r="3.97" fill="#dcdcdc" stroke="#e8211c" stroke-width="3" />
<circle cx="180.95" cy="579.84" r="3.97" fill="#dcdcdc" stroke="#e8211c" stroke-width="3" />
<line x1="103.17" y1="544.13" x2="103.17" y2="583.02" stroke="#2a3192" stroke-width="3.3" />
<line x1="192.38" y1="544.13" x2="192.38" y2="583.02" stroke="#2a3192" stroke-width="3.3" />
<line x1="86.19" y1="544.13" x2="105.56" y2="544.13" stroke="#2a3192" stroke-width="3.3" />
<line x1="190.16" y1="544.13" x2="210.32" y2="544.13" stroke="#2a3192" stroke-width="3.3" />
<text x="73.69" y="876.5" font-size="24.3" transform="rotate(-90 73.69 876.5)"><tspan>CD44</tspan><tspan font-size="18.23" dy="-9.23">high</tspan><tspan dy="9.23"> LGR5</tspan><tspan font-size="14.58" dy="-8.75">+</tspan><tspan dy="8.75"> ratio</tspan></text>
<text x="117.17" y="696.08" font-size="23.33"><tspan font-style="italic">P</tspan><tspan> = 0.0137</tspan></text>
<line x1="148.49" y1="702.71" x2="187.91" y2="702.71" stroke="#231815" stroke-width="3" />
<line x1="116.43" y1="702.34" x2="116.43" y2="861.34" stroke="#000" stroke-width="3" />
<line x1="107.96" y1="860.04" x2="220.34" y2="860.04" stroke="#000" stroke-width="3" />
<line x1="107.96" y1="703.82" x2="116.43" y2="703.82" stroke="#000" stroke-width="2.8" />
<text x="106.12" y="709.42" font-size="24" text-anchor="end">20</text>
<line x1="107.96" y1="743.24" x2="116.43" y2="743.24" stroke="#000" stroke-width="2.8" />
<text x="106.12" y="751.84" font-size="24" text-anchor="end">15</text>
<line x1="107.96" y1="782.67" x2="116.43" y2="782.67" stroke="#000" stroke-width="2.8" />
<text x="106.12" y="791.27" font-size="24" text-anchor="end">10</text>
<line x1="107.96" y1="821.36" x2="116.43" y2="821.36" stroke="#000" stroke-width="2.8" />
<text x="106.12" y="829.96" font-size="24" text-anchor="end">5</text>
<line x1="107.96" y1="860.04" x2="116.43" y2="860.04" stroke="#000" stroke-width="2.8" />
<text x="106.12" y="868.64" font-size="24" text-anchor="end">0</text>
<line x1="145.54" y1="860.04" x2="145.54" y2="868.15" stroke="#000" stroke-width="2.8" />
<line x1="189.76" y1="860.04" x2="189.76" y2="868.15" stroke="#000" stroke-width="2.8" />
<line x1="145.54" y1="732.93" x2="189.76" y2="778.98" stroke="#000" stroke-width="3.4" />
<line x1="145.54" y1="769.77" x2="189.76" y2="796.67" stroke="#000" stroke-width="3.4" />
<line x1="145.54" y1="808.46" x2="189.76" y2="854.52" stroke="#000" stroke-width="3.4" />
<line x1="145.54" y1="815.09" x2="189.76" y2="835.36" stroke="#000" stroke-width="3.4" />
<circle cx="145.54" cy="732.93" r="5" fill="#ff2d0f" />
<circle cx="145.54" cy="732.93" r="1.3" fill="#000" />
<circle cx="145.54" cy="769.77" r="5" fill="#ff2d0f" />
<circle cx="145.54" cy="769.77" r="1.3" fill="#000" />
<circle cx="145.54" cy="808.46" r="5" fill="#ff2d0f" />
<circle cx="145.54" cy="808.46" r="1.3" fill="#000" />
<circle cx="145.54" cy="815.09" r="5" fill="#ff2d0f" />
<circle cx="145.54" cy="815.09" r="1.3" fill="#000" />
<circle cx="189.76" cy="778.98" r="5" fill="#0e9496" />
<circle cx="189.76" cy="778.98" r="1.3" fill="#000" />
<circle cx="189.76" cy="796.67" r="5" fill="#0e9496" />
<circle cx="189.76" cy="796.67" r="1.3" fill="#000" />
<circle cx="189.76" cy="854.52" r="5" fill="#0e9496" />
<circle cx="189.76" cy="854.52" r="1.3" fill="#000" />
<circle cx="189.76" cy="835.36" r="5" fill="#0e9496" />
<circle cx="189.76" cy="835.36" r="1.3" fill="#000" />
<text x="119.75" y="893.21" font-size="22.51" font-style="italic">Ctrl</text>
<text x="173.91" y="893.21" font-size="22.46"><tspan font-style="italic">ID1</tspan><tspan font-style="italic" font-size="18.87" dy="-8.98">KD</tspan></text>
</g>
<g id="p-e">
<text transform="translate(299.45 527.59) scale(1 1)" font-size="57" font-weight="bold">e</text>
<rect x="352.98" y="598.44" width="267.87" height="254.97" fill="#fff" />
<line x1="352.98" y1="598.44" x2="352.98" y2="853.41" stroke="#10306f" stroke-width="3.2" />
<line x1="352.98" y1="853.41" x2="620.85" y2="853.41" stroke="#10306f" stroke-width="3.2" />
<line x1="355.66" y1="853.41" x2="355.66" y2="859.41" stroke="#10306f" stroke-width="1.6" />
<line x1="366.38" y1="853.41" x2="366.38" y2="858.41" stroke="#10306f" stroke-width="1.4" />
<line x1="352.98" y1="850.86" x2="346.98" y2="850.86" stroke="#10306f" stroke-width="1.6" />
<line x1="415.93" y1="853.41" x2="415.93" y2="859.41" stroke="#10306f" stroke-width="1.6" />
<line x1="352.98" y1="793.49" x2="346.98" y2="793.49" stroke="#10306f" stroke-width="1.6" />
<line x1="383.17" y1="853.41" x2="383.17" y2="856.91" stroke="#10306f" stroke-width="1" />
<line x1="352.98" y1="824.68" x2="349.48" y2="824.68" stroke="#10306f" stroke-width="1" />
<line x1="391.42" y1="853.41" x2="391.42" y2="856.91" stroke="#10306f" stroke-width="1" />
<line x1="352.98" y1="816.82" x2="349.48" y2="816.82" stroke="#10306f" stroke-width="1" />
<line x1="397.28" y1="853.41" x2="397.28" y2="856.91" stroke="#10306f" stroke-width="1" />
<line x1="352.98" y1="811.25" x2="349.48" y2="811.25" stroke="#10306f" stroke-width="1" />
<line x1="401.82" y1="853.41" x2="401.82" y2="856.91" stroke="#10306f" stroke-width="1" />
<line x1="352.98" y1="806.93" x2="349.48" y2="806.93" stroke="#10306f" stroke-width="1" />
<line x1="405.53" y1="853.41" x2="405.53" y2="856.91" stroke="#10306f" stroke-width="1" />
<line x1="352.98" y1="803.39" x2="349.48" y2="803.39" stroke="#10306f" stroke-width="1" />
<line x1="408.67" y1="853.41" x2="408.67" y2="856.91" stroke="#10306f" stroke-width="1" />
<line x1="352.98" y1="800.4" x2="349.48" y2="800.4" stroke="#10306f" stroke-width="1" />
<line x1="411.39" y1="853.41" x2="411.39" y2="856.91" stroke="#10306f" stroke-width="1" />
<line x1="352.98" y1="797.82" x2="349.48" y2="797.82" stroke="#10306f" stroke-width="1" />
<line x1="413.79" y1="853.41" x2="413.79" y2="856.91" stroke="#10306f" stroke-width="1" />
<line x1="352.98" y1="795.53" x2="349.48" y2="795.53" stroke="#10306f" stroke-width="1" />
<line x1="475.67" y1="853.41" x2="475.67" y2="859.41" stroke="#10306f" stroke-width="1.6" />
<line x1="352.98" y1="736.63" x2="346.98" y2="736.63" stroke="#10306f" stroke-width="1.6" />
<line x1="433.92" y1="853.41" x2="433.92" y2="856.91" stroke="#10306f" stroke-width="1" />
<line x1="352.98" y1="776.38" x2="349.48" y2="776.38" stroke="#10306f" stroke-width="1" />
<line x1="444.43" y1="853.41" x2="444.43" y2="856.91" stroke="#10306f" stroke-width="1" />
<line x1="352.98" y1="766.36" x2="349.48" y2="766.36" stroke="#10306f" stroke-width="1" />
<line x1="451.9" y1="853.41" x2="451.9" y2="856.91" stroke="#10306f" stroke-width="1" />
<line x1="352.98" y1="759.26" x2="349.48" y2="759.26" stroke="#10306f" stroke-width="1" />
<line x1="457.69" y1="853.41" x2="457.69" y2="856.91" stroke="#10306f" stroke-width="1" />
<line x1="352.98" y1="753.75" x2="349.48" y2="753.75" stroke="#10306f" stroke-width="1" />
<line x1="462.42" y1="853.41" x2="462.42" y2="856.91" stroke="#10306f" stroke-width="1" />
<line x1="352.98" y1="749.25" x2="349.48" y2="749.25" stroke="#10306f" stroke-width="1" />
<line x1="466.42" y1="853.41" x2="466.42" y2="856.91" stroke="#10306f" stroke-width="1" />
<line x1="352.98" y1="745.44" x2="349.48" y2="745.44" stroke="#10306f" stroke-width="1" />
<line x1="469.88" y1="853.41" x2="469.88" y2="856.91" stroke="#10306f" stroke-width="1" />
<line x1="352.98" y1="742.14" x2="349.48" y2="742.14" stroke="#10306f" stroke-width="1" />
<line x1="472.94" y1="853.41" x2="472.94" y2="856.91" stroke="#10306f" stroke-width="1" />
<line x1="352.98" y1="739.24" x2="349.48" y2="739.24" stroke="#10306f" stroke-width="1" />
<line x1="535.14" y1="853.41" x2="535.14" y2="859.41" stroke="#10306f" stroke-width="1.6" />
<line x1="352.98" y1="680.03" x2="346.98" y2="680.03" stroke="#10306f" stroke-width="1.6" />
<line x1="493.57" y1="853.41" x2="493.57" y2="856.91" stroke="#10306f" stroke-width="1" />
<line x1="352.98" y1="719.59" x2="349.48" y2="719.59" stroke="#10306f" stroke-width="1" />
<line x1="504.04" y1="853.41" x2="504.04" y2="856.91" stroke="#10306f" stroke-width="1" />
<line x1="352.98" y1="709.63" x2="349.48" y2="709.63" stroke="#10306f" stroke-width="1" />
<line x1="511.47" y1="853.41" x2="511.47" y2="856.91" stroke="#10306f" stroke-width="1" />
<line x1="352.98" y1="702.55" x2="349.48" y2="702.55" stroke="#10306f" stroke-width="1" />
<line x1="517.23" y1="853.41" x2="517.23" y2="856.91" stroke="#10306f" stroke-width="1" />
<line x1="352.98" y1="697.07" x2="349.48" y2="697.07" stroke="#10306f" stroke-width="1" />
<line x1="521.94" y1="853.41" x2="521.94" y2="856.91" stroke="#10306f" stroke-width="1" />
<line x1="352.98" y1="692.59" x2="349.48" y2="692.59" stroke="#10306f" stroke-width="1" />
<line x1="525.92" y1="853.41" x2="525.92" y2="856.91" stroke="#10306f" stroke-width="1" />
<line x1="352.98" y1="688.8" x2="349.48" y2="688.8" stroke="#10306f" stroke-width="1" />
<line x1="529.37" y1="853.41" x2="529.37" y2="856.91" stroke="#10306f" stroke-width="1" />
<line x1="352.98" y1="685.51" x2="349.48" y2="685.51" stroke="#10306f" stroke-width="1" />
<line x1="532.42" y1="853.41" x2="532.42" y2="856.91" stroke="#10306f" stroke-width="1" />
<line x1="352.98" y1="682.62" x2="349.48" y2="682.62" stroke="#10306f" stroke-width="1" />
<line x1="594.07" y1="853.41" x2="594.07" y2="859.41" stroke="#10306f" stroke-width="1.6" />
<line x1="352.98" y1="623.94" x2="346.98" y2="623.94" stroke="#10306f" stroke-width="1.6" />
<line x1="552.88" y1="853.41" x2="552.88" y2="856.91" stroke="#10306f" stroke-width="1" />
<line x1="352.98" y1="663.14" x2="349.48" y2="663.14" stroke="#10306f" stroke-width="1" />
<line x1="563.25" y1="853.41" x2="563.25" y2="856.91" stroke="#10306f" stroke-width="1" />
<line x1="352.98" y1="653.27" x2="349.48" y2="653.27" stroke="#10306f" stroke-width="1" />
<line x1="570.62" y1="853.41" x2="570.62" y2="856.91" stroke="#10306f" stroke-width="1" />
<line x1="352.98" y1="646.26" x2="349.48" y2="646.26" stroke="#10306f" stroke-width="1" />
<line x1="576.33" y1="853.41" x2="576.33" y2="856.91" stroke="#10306f" stroke-width="1" />
<line x1="352.98" y1="640.82" x2="349.48" y2="640.82" stroke="#10306f" stroke-width="1" />
<line x1="580.99" y1="853.41" x2="580.99" y2="856.91" stroke="#10306f" stroke-width="1" />
<line x1="352.98" y1="636.38" x2="349.48" y2="636.38" stroke="#10306f" stroke-width="1" />
<line x1="584.94" y1="853.41" x2="584.94" y2="856.91" stroke="#10306f" stroke-width="1" />
<line x1="352.98" y1="632.62" x2="349.48" y2="632.62" stroke="#10306f" stroke-width="1" />
<line x1="588.36" y1="853.41" x2="588.36" y2="856.91" stroke="#10306f" stroke-width="1" />
<line x1="352.98" y1="629.37" x2="349.48" y2="629.37" stroke="#10306f" stroke-width="1" />
<line x1="591.37" y1="853.41" x2="591.37" y2="856.91" stroke="#10306f" stroke-width="1" />
<line x1="352.98" y1="626.5" x2="349.48" y2="626.5" stroke="#10306f" stroke-width="1" />
<line x1="611.81" y1="853.41" x2="611.81" y2="856.91" stroke="#10306f" stroke-width="1" />
<line x1="352.98" y1="607.05" x2="349.48" y2="607.05" stroke="#10306f" stroke-width="1" />
<line x1="351.98" y1="598.44" x2="622.15" y2="598.44" stroke="#000" stroke-width="2.6" />
<line x1="620.85" y1="598.44" x2="620.85" y2="854.91" stroke="#000" stroke-width="2.6" />
<text x="471.63" y="590.83" font-size="23.44"><tspan font-style="italic">Id1</tspan><tspan font-style="italic" font-size="19.69" dy="-9.38">f/f</tspan></text>
<text x="355.56" y="622.89" font-size="22.43">2%</text>
<text x="569.27" y="622.89" font-size="23.38">55%</text>
<text x="355.56" y="848.75" font-size="22.43">3%</text>
<text x="569.27" y="848.75" font-size="23.38">40%</text>
<text x="350.04" y="634.07" font-size="23" text-anchor="end"><tspan>10</tspan><tspan font-size="16.1" dy="-10.35">5</tspan></text>
<text x="350.04" y="689.34" font-size="23" text-anchor="end"><tspan>10</tspan><tspan font-size="16.1" dy="-10.35">4</tspan></text>
<text x="350.04" y="748.29" font-size="23" text-anchor="end"><tspan>10</tspan><tspan font-size="16.1" dy="-10.35">3</tspan></text>
<text x="350.04" y="808.35" font-size="23" text-anchor="end"><tspan>10</tspan><tspan font-size="16.1" dy="-10.35">2</tspan></text>
<text x="350.04" y="851.46" font-size="23" text-anchor="end"><tspan>-10</tspan><tspan font-size="16.1" dy="-10.35">0</tspan></text>
<text x="308.16" y="781.56" font-size="24" transform="rotate(-90 308.16 781.56)">CD44-APC</text>
<text x="359.25" y="886.57" font-size="24" text-anchor="middle">0</text>
<text x="417.46" y="886.57" font-size="24" text-anchor="middle"><tspan>10</tspan><tspan font-size="16.8" dy="-10.08">2</tspan></text>
<text x="477.16" y="886.57" font-size="24" text-anchor="middle"><tspan>10</tspan><tspan font-size="16.8" dy="-10.08">3</tspan></text>
<text x="535" y="886.57" font-size="24" text-anchor="middle"><tspan>10</tspan><tspan font-size="16.8" dy="-10.08">4</tspan></text>
<text x="594.33" y="886.57" font-size="24" text-anchor="middle"><tspan>10</tspan><tspan font-size="16.8" dy="-10.08">5</tspan></text>
<text x="614" y="908" font-size="24.6" text-anchor="middle">Aldh-FITC</text>
<rect x="508.5" y="713.0" width="2.4" height="2.4" fill="#2a50ea"/><rect x="553.9" y="680.5" width="1.8" height="1.8" fill="#8a8af0"/><rect x="449.3" y="712.2" width="1.5" height="1.5" fill="#9aa8f4"/><rect x="455.7" y="675.8" width="1.5" height="1.5" fill="#b8b8f6"/><rect x="490.8" y="666.7" width="2" height="2" fill="#1818d8"/><rect x="495.7" y="668.3" width="1.6" height="1.6" fill="#2a50ea"/><rect x="506.6" y="677.0" width="2.4" height="2.4" fill="#20b0d0"/><rect x="475.7" y="657.6" width="1.4" height="1.4" fill="#dcdcfa"/><rect x="504.8" y="671.5" width="2" height="2" fill="#2030e0"/><rect x="526.8" y="732.1" width="1.4" height="1.4" fill="#dcdcfa"/><rect x="514.1" y="672.8" width="2" height="2" fill="#1f8fd8"/><rect x="471.0" y="695.7" width="2" height="2" fill="#2030e0"/><rect x="463.5" y="662.8" width="1.4" height="1.4" fill="#b4b4f2"/><rect x="537.1" y="645.1" width="1.4" height="1.4" fill="#c4c4f6"/><rect x="472.3" y="677.5" width="2" height="2" fill="#20b0d0"/><rect x="540.3" y="636.4" width="1.2" height="1.2" fill="#c4c4f6"/><rect x="504.5" y="672.6" width="1.6" height="1.6" fill="#2030e0"/><rect x="494.6" y="724.1" width="1.2" height="1.2" fill="#2525dd"/><rect x="457.7" y="684.0" width="1.8" height="1.8" fill="#9aa8f4"/><rect x="466.6" y="688.8" width="2" height="2" fill="#2a50ea"/><rect x="524.1" y="685.4" width="1.6" height="1.6" fill="#1818d8"/><rect x="513.8" y="706.3" width="2" height="2" fill="#20b0d0"/><rect x="513.4" y="676.5" width="2.4" height="2.4" fill="#2030e0"/><rect x="466.1" y="727.4" width="1.8" height="1.8" fill="#9aa8f4"/><rect x="523.1" y="664.9" width="1.8" height="1.8" fill="#2525dd"/><rect x="549.0" y="673.1" width="1.5" height="1.5" fill="#8a8af0"/><rect x="465.0" y="679.3" width="1.5" height="1.5" fill="#8a8af0"/><rect x="532.9" y="680.0" width="2" height="2" fill="#20b0d0"/><rect x="529.3" y="685.5" width="2" height="2" fill="#20b0d0"/><rect x="539.2" y="684.7" width="2" height="2" fill="#3040e0"/><rect x="539.0" y="691.2" width="2" height="2" fill="#1f8fd8"/><rect x="484.8" y="680.4" width="2" height="2" fill="#3040e0"/><rect x="541.6" y="691.2" width="1.5" height="1.5" fill="#8a8af0"/><rect x="480.8" y="685.8" width="2" height="2" fill="#20b0d0"/><rect x="493.8" y="657.8" width="1.5" height="1.5" fill="#8a8af0"/><rect x="517.4" y="641.5" width="1.2" height="1.2" fill="#d2d2f8"/><rect x="459.2" y="702.9" width="2" height="2" fill="#2a50ea"/><rect x="486.4" y="720.4" width="1.2" height="1.2" fill="#2525dd"/><rect x="438.1" y="681.7" width="1.2" height="1.2" fill="#d2d2f8"/><rect x="515.1" y="643.8" width="1.2" height="1.2" fill="#c4c4f6"/><rect x="478.2" y="691.7" width="1.6" height="1.6" fill="#1818d8"/><rect x="510.3" y="655.9" width="1.5" height="1.5" fill="#5a5ae8"/><rect x="479.2" y="727.1" width="1.8" height="1.8" fill="#2525dd"/><rect x="495.0" y="725.3" width="1.5" height="1.5" fill="#8a8af0"/><rect x="487.4" y="711.3" width="2.4" height="2.4" fill="#1f8fd8"/><rect x="529.3" y="688.4" width="1.6" height="1.6" fill="#2030e0"/><rect x="448.8" y="710.7" width="1.8" height="1.8" fill="#b8b8f6"/><rect x="441.7" y="725.9" width="1" height="1" fill="#d2d2f8"/><rect x="489.6" y="659.3" width="1.5" height="1.5" fill="#b8b8f6"/><rect x="440.7" y="697.2" width="1.8" height="1.8" fill="#2525dd"/><rect x="505.7" y="669.4" width="2.4" height="2.4" fill="#2030e0"/><rect x="493.8" y="719.8" width="2.4" height="2.4" fill="#20b0d0"/><rect x="561.9" y="688.9" width="1.2" height="1.2" fill="#c4c4f6"/><rect x="561.7" y="710.8" width="1" height="1" fill="#dcdcfa"/><rect x="447.8" y="698.6" width="1.2" height="1.2" fill="#5a5ae8"/><rect x="506.2" y="649.7" width="1" height="1" fill="#d2d2f8"/><rect x="464.1" y="703.5" width="1.6" height="1.6" fill="#1f8fd8"/><rect x="497.3" y="678.6" width="2.4" height="2.4" fill="#20b0d0"/><rect x="524.8" y="690.5" width="1.6" height="1.6" fill="#1818d8"/><rect x="532.3" y="689.9" width="1.6" height="1.6" fill="#1818d8"/><rect x="467.1" y="698.7" width="2" height="2" fill="#2030e0"/><rect x="526.9" y="692.8" width="2" height="2" fill="#1f8fd8"/><rect x="455.7" y="693.8" width="1.2" height="1.2" fill="#9aa8f4"/><rect x="462.3" y="708.7" width="2.4" height="2.4" fill="#20b0d0"/><rect x="461.4" y="679.7" width="1.5" height="1.5" fill="#8a8af0"/><rect x="526.3" y="679.0" width="2" height="2" fill="#1818d8"/><rect x="508.0" y="704.4" width="1.6" height="1.6" fill="#20b0d0"/><rect x="477.2" y="741.8" width="1" height="1" fill="#b4b4f2"/><rect x="509.6" y="664.1" width="2.4" height="2.4" fill="#20b0d0"/><rect x="470.9" y="673.5" width="1.8" height="1.8" fill="#b8b8f6"/><rect x="533.5" y="698.0" width="2.4" height="2.4" fill="#1818d8"/><rect x="536.3" y="707.5" width="1.8" height="1.8" fill="#2525dd"/><rect x="554.5" y="682.7" width="1.2" height="1.2" fill="#2525dd"/><rect x="517.5" y="664.1" width="2" height="2" fill="#3040e0"/><rect x="451.9" y="689.0" width="1.8" height="1.8" fill="#2525dd"/><rect x="455.2" y="701.9" width="1.8" height="1.8" fill="#2525dd"/><rect x="488.7" y="651.5" width="1.4" height="1.4" fill="#c4c4f6"/><rect x="489.1" y="716.4" width="2" height="2" fill="#1818d8"/><rect x="540.3" y="680.9" width="2.4" height="2.4" fill="#1f8fd8"/><rect x="505.6" y="715.7" width="2.4" height="2.4" fill="#2a50ea"/><rect x="525.6" y="681.3" width="2.4" height="2.4" fill="#2030e0"/><rect x="530.5" y="643.3" width="1.4" height="1.4" fill="#dcdcfa"/><rect x="463.9" y="691.4" width="2.4" height="2.4" fill="#20b0d0"/><rect x="519.7" y="702.4" width="2" height="2" fill="#2030e0"/><rect x="542.7" y="698.1" width="1.5" height="1.5" fill="#b8b8f6"/><rect x="447.9" y="686.9" width="1.5" height="1.5" fill="#5a5ae8"/><rect x="433.8" y="705.5" width="1.4" height="1.4" fill="#b4b4f2"/><rect x="487.4" y="676.9" width="2" height="2" fill="#20b0d0"/><rect x="515.9" y="677.5" width="2.4" height="2.4" fill="#2a50ea"/><rect x="445.4" y="710.7" width="1.8" height="1.8" fill="#9aa8f4"/><rect x="463.2" y="705.1" width="1.6" height="1.6" fill="#1f8fd8"/><rect x="456.4" y="707.2" width="1.8" height="1.8" fill="#9aa8f4"/><rect x="544.8" y="659.2" width="1" height="1" fill="#c4c4f6"/><rect x="511.4" y="702.3" width="1.6" height="1.6" fill="#2030e0"/><rect x="515.3" y="679.5" width="2" height="2" fill="#1818d8"/><rect x="504.8" y="731.8" width="1.2" height="1.2" fill="#c4c4f6"/><rect x="458.7" y="712.0" width="1.2" height="1.2" fill="#8a8af0"/><rect x="525.5" y="688.2" width="2.4" height="2.4" fill="#1f8fd8"/><rect x="538.7" y="694.2" width="2.4" height="2.4" fill="#3040e0"/><rect x="476.5" y="713.1" width="2" height="2" fill="#1818d8"/><rect x="528.7" y="693.4" width="2" height="2" fill="#1f8fd8"/><rect x="561.1" y="701.0" width="1.4" height="1.4" fill="#b4b4f2"/><rect x="498.9" y="661.3" width="1.8" height="1.8" fill="#8a8af0"/><rect x="475.6" y="674.3" width="1.6" height="1.6" fill="#2a50ea"/><rect x="490.0" y="647.2" width="1.4" height="1.4" fill="#c4c4f6"/><rect x="474.1" y="699.6" width="2" height="2" fill="#3040e0"/><rect x="478.9" y="676.0" width="2" height="2" fill="#2030e0"/><rect x="534.2" y="718.2" width="1" height="1" fill="#dcdcfa"/><rect x="531.7" y="698.5" width="2.4" height="2.4" fill="#2a50ea"/><rect x="459.7" y="693.7" width="2.4" height="2.4" fill="#1f8fd8"/><rect x="543.5" y="692.7" width="1.8" height="1.8" fill="#b8b8f6"/><rect x="473.0" y="690.7" width="2" height="2" fill="#1818d8"/><rect x="524.9" y="701.4" width="2" height="2" fill="#2a50ea"/><rect x="483.4" y="675.3" width="2.4" height="2.4" fill="#2a50ea"/><rect x="454.4" y="715.1" width="1.5" height="1.5" fill="#2525dd"/><rect x="526.8" y="705.1" width="1.6" height="1.6" fill="#3040e0"/><rect x="439.5" y="692.1" width="1" height="1" fill="#c4c4f6"/><rect x="482.7" y="673.8" width="2.4" height="2.4" fill="#3040e0"/><rect x="511.6" y="660.5" width="1.8" height="1.8" fill="#b8b8f6"/><rect x="520.8" y="701.4" width="2" height="2" fill="#2030e0"/><rect x="508.1" y="722.3" width="1.5" height="1.5" fill="#2525dd"/><rect x="545.9" y="651.0" width="1.2" height="1.2" fill="#dcdcfa"/><rect x="463.0" y="693.9" width="2.4" height="2.4" fill="#3040e0"/><rect x="541.2" y="676.9" width="1.8" height="1.8" fill="#8a8af0"/><rect x="462.8" y="704.5" width="1.6" height="1.6" fill="#3040e0"/><rect x="541.6" y="700.4" width="1.5" height="1.5" fill="#5a5ae8"/><rect x="524.0" y="708.7" width="2" height="2" fill="#2030e0"/><rect x="514.7" y="648.8" width="1" height="1" fill="#dcdcfa"/><rect x="430.5" y="691.7" width="1" height="1" fill="#d2d2f8"/><rect x="471.8" y="684.6" width="1.6" height="1.6" fill="#1f8fd8"/><rect x="520.6" y="679.4" width="2" height="2" fill="#2a50ea"/><rect x="551.2" y="695.6" width="1.8" height="1.8" fill="#2525dd"/><rect x="487.7" y="725.3" width="1.2" height="1.2" fill="#9aa8f4"/><rect x="518.7" y="662.9" width="1.5" height="1.5" fill="#9aa8f4"/><rect x="460.4" y="710.1" width="1.2" height="1.2" fill="#9aa8f4"/><rect x="506.8" y="726.4" width="1.8" height="1.8" fill="#9aa8f4"/><rect x="485.3" y="710.4" width="2" height="2" fill="#1818d8"/><rect x="503.0" y="709.1" width="2" height="2" fill="#1f8fd8"/><rect x="468.6" y="689.2" width="1.6" height="1.6" fill="#3040e0"/><rect x="529.5" y="703.7" width="2.4" height="2.4" fill="#1f8fd8"/><rect x="529.6" y="716.9" width="1.5" height="1.5" fill="#9aa8f4"/><rect x="533.0" y="688.4" width="2" height="2" fill="#2030e0"/><rect x="529.3" y="695.9" width="2" height="2" fill="#2030e0"/><rect x="478.5" y="685.8" width="1.6" height="1.6" fill="#1818d8"/><rect x="504.6" y="676.3" width="2" height="2" fill="#1f8fd8"/><rect x="464.6" y="703.2" width="2" height="2" fill="#1818d8"/><rect x="479.2" y="685.2" width="1.6" height="1.6" fill="#1818d8"/><rect x="458.3" y="658.4" width="1" height="1" fill="#c4c4f6"/><rect x="540.8" y="690.1" width="2" height="2" fill="#2a50ea"/><rect x="533.5" y="664.6" width="1.5" height="1.5" fill="#8a8af0"/><rect x="552.2" y="656.1" width="1.2" height="1.2" fill="#c4c4f6"/><rect x="493.1" y="717.8" width="1.6" height="1.6" fill="#1f8fd8"/><rect x="474.4" y="710.4" width="2" height="2" fill="#20b0d0"/><rect x="450.8" y="697.8" width="1.2" height="1.2" fill="#9aa8f4"/><rect x="521.3" y="654.5" width="1.8" height="1.8" fill="#9aa8f4"/><rect x="504.9" y="671.7" width="2.4" height="2.4" fill="#1f8fd8"/><rect x="477.9" y="726.5" width="1.8" height="1.8" fill="#b8b8f6"/><rect x="490.7" y="653.1" width="1.2" height="1.2" fill="#dcdcfa"/><rect x="491.9" y="659.5" width="1.8" height="1.8" fill="#2525dd"/><rect x="513.3" y="724.2" width="1.8" height="1.8" fill="#2525dd"/><rect x="517.6" y="672.6" width="2" height="2" fill="#3040e0"/><rect x="524.4" y="716.3" width="1.5" height="1.5" fill="#2525dd"/><rect x="538.7" y="694.8" width="1.6" height="1.6" fill="#2030e0"/><rect x="563.4" y="668.9" width="1.4" height="1.4" fill="#d2d2f8"/><rect x="515.4" y="669.8" width="2" height="2" fill="#20b0d0"/><rect x="502.7" y="668.9" width="2.4" height="2.4" fill="#2030e0"/><rect x="574.0" y="679.5" width="1.2" height="1.2" fill="#d2d2f8"/><rect x="529.6" y="694.8" width="1.6" height="1.6" fill="#2030e0"/><rect x="464.1" y="677.1" width="1.5" height="1.5" fill="#8a8af0"/><rect x="472.7" y="687.1" width="2" height="2" fill="#1818d8"/><rect x="513.9" y="666.8" width="2" height="2" fill="#1f8fd8"/><rect x="494.1" y="719.0" width="2" height="2" fill="#2a50ea"/><rect x="524.0" y="714.7" width="1.8" height="1.8" fill="#b8b8f6"/><rect x="492.4" y="674.6" width="1.6" height="1.6" fill="#3040e0"/><rect x="489.1" y="711.9" width="2" height="2" fill="#1818d8"/><rect x="537.8" y="669.3" width="1.5" height="1.5" fill="#b8b8f6"/><rect x="529.1" y="674.5" width="2" height="2" fill="#1f8fd8"/><rect x="554.1" y="664.6" width="1.2" height="1.2" fill="#dcdcfa"/><rect x="554.6" y="644.4" width="1.4" height="1.4" fill="#dcdcfa"/><rect x="518.6" y="679.6" width="2" height="2" fill="#1818d8"/><rect x="523.8" y="703.5" width="2.4" height="2.4" fill="#1818d8"/><rect x="546.8" y="687.2" width="1.5" height="1.5" fill="#8a8af0"/><rect x="478.3" y="704.9" width="2" height="2" fill="#3040e0"/><rect x="495.7" y="677.8" width="2.4" height="2.4" fill="#1818d8"/><rect x="495.8" y="711.4" width="2" height="2" fill="#1818d8"/><rect x="533.6" y="708.9" width="1.5" height="1.5" fill="#8a8af0"/><rect x="555.6" y="672.3" width="1.2" height="1.2" fill="#8a8af0"/><rect x="444.3" y="725.4" width="1.4" height="1.4" fill="#dcdcfa"/><rect x="521.2" y="682.2" width="2.4" height="2.4" fill="#1818d8"/><rect x="484.6" y="708.7" width="2" height="2" fill="#2a50ea"/><rect x="528.3" y="674.8" width="2" height="2" fill="#1818d8"/><rect x="569.5" y="679.3" width="1" height="1" fill="#c4c4f6"/><rect x="548.6" y="675.6" width="1.5" height="1.5" fill="#8a8af0"/><rect x="478.6" y="704.7" width="1.6" height="1.6" fill="#1818d8"/><rect x="480.4" y="701.7" width="2.4" height="2.4" fill="#3040e0"/><rect x="482.8" y="703.7" width="1.6" height="1.6" fill="#1818d8"/><rect x="467.2" y="712.0" width="2" height="2" fill="#3040e0"/><rect x="539.0" y="663.9" width="1.2" height="1.2" fill="#5a5ae8"/><rect x="488.9" y="659.2" width="1.8" height="1.8" fill="#9aa8f4"/><rect x="495.9" y="676.2" width="2" height="2" fill="#2030e0"/><rect x="507.9" y="671.0" width="2.4" height="2.4" fill="#20b0d0"/><rect x="477.5" y="717.1" width="2" height="2" fill="#2a50ea"/><rect x="499.6" y="672.1" width="2" height="2" fill="#2a50ea"/><rect x="435.7" y="723.1" width="1.4" height="1.4" fill="#d2d2f8"/><rect x="491.7" y="715.0" width="2.4" height="2.4" fill="#1f8fd8"/><rect x="524.1" y="657.4" width="1.8" height="1.8" fill="#b8b8f6"/><rect x="500.4" y="708.0" width="1.6" height="1.6" fill="#20b0d0"/><rect x="477.7" y="699.2" width="2" height="2" fill="#3040e0"/><rect x="537.5" y="698.6" width="1.6" height="1.6" fill="#2a50ea"/><rect x="439.8" y="704.5" width="1" height="1" fill="#dcdcfa"/><rect x="494.3" y="709.4" width="2.4" height="2.4" fill="#3040e0"/><rect x="524.6" y="678.7" width="2" height="2" fill="#1818d8"/><rect x="490.2" y="718.0" width="2" height="2" fill="#20b0d0"/><rect x="529.5" y="688.4" width="1.6" height="1.6" fill="#1f8fd8"/><rect x="430.2" y="712.1" width="1.4" height="1.4" fill="#c4c4f6"/><rect x="453.2" y="699.5" width="1.8" height="1.8" fill="#2525dd"/><rect x="522.4" y="653.4" width="1.8" height="1.8" fill="#8a8af0"/><rect x="521.6" y="692.4" width="2.4" height="2.4" fill="#1f8fd8"/><rect x="501.9" y="714.8" width="2" height="2" fill="#1818d8"/><rect x="517.9" y="733.9" width="1" height="1" fill="#d2d2f8"/><rect x="541.6" y="679.6" width="1.6" height="1.6" fill="#3040e0"/><rect x="527.4" y="716.9" width="1.2" height="1.2" fill="#5a5ae8"/><rect x="518.7" y="718.5" width="1.5" height="1.5" fill="#9aa8f4"/><rect x="496.7" y="710.5" width="1.6" height="1.6" fill="#20b0d0"/><rect x="440.2" y="696.7" width="1.4" height="1.4" fill="#c4c4f6"/><rect x="513.8" y="671.0" width="2" height="2" fill="#3040e0"/><rect x="444.3" y="699.9" width="1.8" height="1.8" fill="#9aa8f4"/><rect x="474.1" y="711.7" width="2.4" height="2.4" fill="#2a50ea"/><rect x="522.5" y="702.6" width="2" height="2" fill="#1f8fd8"/><rect x="497.1" y="677.2" width="2" height="2" fill="#3040e0"/><rect x="491.4" y="729.3" width="1.5" height="1.5" fill="#5a5ae8"/><rect x="577.5" y="688.1" width="1.4" height="1.4" fill="#dcdcfa"/><rect x="557.2" y="680.0" width="1.8" height="1.8" fill="#9aa8f4"/><rect x="481.3" y="676.1" width="1.6" height="1.6" fill="#2a50ea"/><rect x="465.4" y="706.9" width="2" height="2" fill="#2a50ea"/><rect x="466.9" y="707.4" width="2" height="2" fill="#3040e0"/><rect x="459.4" y="687.2" width="1.8" height="1.8" fill="#8a8af0"/><rect x="508.5" y="676.6" width="2" height="2" fill="#2a50ea"/><rect x="521.4" y="709.3" width="2" height="2" fill="#2030e0"/><rect x="493.7" y="679.7" width="2" height="2" fill="#1f8fd8"/><rect x="471.0" y="706.0" width="2" height="2" fill="#20b0d0"/><rect x="533.7" y="681.0" width="1.6" height="1.6" fill="#1f8fd8"/><rect x="528.8" y="692.6" width="2" height="2" fill="#20b0d0"/><rect x="554.6" y="690.7" width="1.2" height="1.2" fill="#9aa8f4"/><rect x="526.1" y="682.9" width="1.6" height="1.6" fill="#2030e0"/><rect x="441.7" y="696.0" width="1.8" height="1.8" fill="#9aa8f4"/><rect x="524.3" y="663.8" width="1.2" height="1.2" fill="#8a8af0"/><rect x="494.9" y="714.4" width="2.4" height="2.4" fill="#1f8fd8"/><rect x="476.5" y="717.7" width="2.4" height="2.4" fill="#1818d8"/><rect x="478.0" y="716.5" width="1.6" height="1.6" fill="#2030e0"/><rect x="512.4" y="707.9" width="1.6" height="1.6" fill="#2030e0"/><rect x="546.2" y="685.0" width="1.8" height="1.8" fill="#8a8af0"/><rect x="476.5" y="704.4" width="2" height="2" fill="#3040e0"/><rect x="463.0" y="712.1" width="1.8" height="1.8" fill="#2525dd"/><rect x="516.8" y="675.1" width="2" height="2" fill="#1f8fd8"/><rect x="515.3" y="678.1" width="1.6" height="1.6" fill="#2030e0"/><rect x="511.3" y="666.4" width="2.4" height="2.4" fill="#1818d8"/><rect x="526.4" y="688.0" width="2.4" height="2.4" fill="#1818d8"/><rect x="500.4" y="710.2" width="2.4" height="2.4" fill="#20b0d0"/><rect x="435.4" y="685.8" width="1.2" height="1.2" fill="#b4b4f2"/><rect x="497.3" y="718.7" width="1.6" height="1.6" fill="#3040e0"/><rect x="556.5" y="691.9" width="1.2" height="1.2" fill="#8a8af0"/><rect x="511.2" y="675.6" width="1.6" height="1.6" fill="#1f8fd8"/><rect x="507.9" y="675.0" width="2" height="2" fill="#1f8fd8"/><rect x="529.1" y="675.2" width="1.6" height="1.6" fill="#20b0d0"/><rect x="529.9" y="715.2" width="1.5" height="1.5" fill="#b8b8f6"/><rect x="495.8" y="744.7" width="1" height="1" fill="#d2d2f8"/><rect x="475.1" y="691.1" width="2" height="2" fill="#20b0d0"/><rect x="474.6" y="690.1" width="2" height="2" fill="#20b0d0"/><rect x="486.5" y="729.6" width="1.8" height="1.8" fill="#b8b8f6"/><rect x="529.6" y="691.4" width="2" height="2" fill="#2a50ea"/><rect x="445.5" y="708.1" width="1.2" height="1.2" fill="#5a5ae8"/><rect x="521.7" y="676.5" width="2" height="2" fill="#2030e0"/><rect x="472.4" y="699.5" width="1.6" height="1.6" fill="#3040e0"/><rect x="506.7" y="708.0" width="2" height="2" fill="#2030e0"/><rect x="498.6" y="709.1" width="2" height="2" fill="#1818d8"/><rect x="520.5" y="705.2" width="2" height="2" fill="#2030e0"/><rect x="505.8" y="674.0" width="2" height="2" fill="#2030e0"/><rect x="480.9" y="676.1" width="2.4" height="2.4" fill="#20b0d0"/><rect x="464.0" y="686.5" width="2" height="2" fill="#1f8fd8"/><rect x="549.0" y="690.1" width="1.5" height="1.5" fill="#9aa8f4"/><rect x="470.4" y="697.5" width="2" height="2" fill="#1f8fd8"/><rect x="478.2" y="711.9" width="2" height="2" fill="#1f8fd8"/><rect x="471.3" y="714.1" width="1.6" height="1.6" fill="#2030e0"/><rect x="490.6" y="677.9" width="2" height="2" fill="#3040e0"/><rect x="444.6" y="700.5" width="1.8" height="1.8" fill="#9aa8f4"/><rect x="443.6" y="698.0" width="1.5" height="1.5" fill="#9aa8f4"/><rect x="463.3" y="703.0" width="2" height="2" fill="#3040e0"/><rect x="463.8" y="681.4" width="1.8" height="1.8" fill="#b8b8f6"/><rect x="490.1" y="731.9" width="1.4" height="1.4" fill="#b4b4f2"/><rect x="491.5" y="711.4" width="2" height="2" fill="#3040e0"/><rect x="523.8" y="676.6" width="2" height="2" fill="#20b0d0"/><rect x="478.3" y="706.2" width="2" height="2" fill="#2030e0"/><rect x="515.9" y="662.3" width="1.8" height="1.8" fill="#8a8af0"/><rect x="541.5" y="716.1" width="1" height="1" fill="#dcdcfa"/><rect x="468.4" y="695.1" width="2" height="2" fill="#1f8fd8"/><rect x="531.5" y="697.3" width="2" height="2" fill="#1f8fd8"/><rect x="500.0" y="708.0" width="1.6" height="1.6" fill="#2a50ea"/><rect x="476.3" y="719.0" width="1.8" height="1.8" fill="#8a8af0"/><rect x="501.7" y="647.1" width="1" height="1" fill="#d2d2f8"/><rect x="548.6" y="676.0" width="1.2" height="1.2" fill="#8a8af0"/><rect x="539.8" y="698.2" width="1.2" height="1.2" fill="#2525dd"/><rect x="524.7" y="683.7" width="2" height="2" fill="#1818d8"/><rect x="532.8" y="688.9" width="2" height="2" fill="#20b0d0"/><rect x="467.4" y="727.8" width="1.8" height="1.8" fill="#9aa8f4"/><rect x="464.0" y="691.9" width="2" height="2" fill="#1f8fd8"/><rect x="497.3" y="707.0" width="2" height="2" fill="#1f8fd8"/><rect x="496.2" y="671.0" width="2" height="2" fill="#2030e0"/><rect x="504.8" y="716.9" width="2" height="2" fill="#20b0d0"/><rect x="544.7" y="676.3" width="1.5" height="1.5" fill="#9aa8f4"/><rect x="458.1" y="695.7" width="2" height="2" fill="#20b0d0"/><rect x="540.5" y="694.7" width="1.2" height="1.2" fill="#2525dd"/><rect x="481.1" y="672.2" width="2.4" height="2.4" fill="#20b0d0"/><rect x="485.0" y="673.2" width="2.4" height="2.4" fill="#3040e0"/><rect x="503.6" y="719.9" width="1.2" height="1.2" fill="#2525dd"/><rect x="498.5" y="720.7" width="1.2" height="1.2" fill="#5a5ae8"/><rect x="534.3" y="687.4" width="2" height="2" fill="#2a50ea"/><rect x="545.5" y="699.8" width="1.2" height="1.2" fill="#9aa8f4"/><rect x="505.6" y="671.5" width="2" height="2" fill="#3040e0"/><rect x="475.3" y="684.2" width="1.6" height="1.6" fill="#2030e0"/><rect x="490.9" y="716.7" width="2" height="2" fill="#20b0d0"/><rect x="525.8" y="687.9" width="2.4" height="2.4" fill="#2030e0"/><rect x="478.5" y="691.6" width="2.4" height="2.4" fill="#20b0d0"/><rect x="469.6" y="674.2" width="1.8" height="1.8" fill="#b8b8f6"/><rect x="480.2" y="704.4" width="2" height="2" fill="#1818d8"/><rect x="503.8" y="669.9" width="2" height="2" fill="#1818d8"/><rect x="530.4" y="672.9" width="2" height="2" fill="#20b0d0"/><rect x="527.5" y="699.8" width="2" height="2" fill="#1f8fd8"/><rect x="489.1" y="663.0" width="1.2" height="1.2" fill="#2525dd"/><rect x="539.6" y="685.1" width="2.4" height="2.4" fill="#1818d8"/><rect x="485.6" y="681.7" width="2.4" height="2.4" fill="#1f8fd8"/><rect x="496.3" y="708.1" width="2" height="2" fill="#2030e0"/><rect x="543.9" y="695.7" width="1.8" height="1.8" fill="#b8b8f6"/><rect x="498.4" y="670.4" width="2" height="2" fill="#3040e0"/><rect x="539.9" y="695.2" width="1.6" height="1.6" fill="#20b0d0"/><rect x="473.6" y="699.5" width="1.6" height="1.6" fill="#1f8fd8"/><rect x="464.6" y="715.4" width="1.5" height="1.5" fill="#b8b8f6"/><rect x="478.2" y="704.7" width="2" height="2" fill="#1818d8"/><rect x="491.5" y="722.9" width="1.5" height="1.5" fill="#8a8af0"/><rect x="519.9" y="695.0" width="2.4" height="2.4" fill="#1f8fd8"/><rect x="508.6" y="714.3" width="2.4" height="2.4" fill="#20b0d0"/><rect x="478.5" y="697.6" width="2" height="2" fill="#1f8fd8"/><rect x="468.9" y="724.4" width="1.8" height="1.8" fill="#8a8af0"/><rect x="507.1" y="673.0" width="2.4" height="2.4" fill="#3040e0"/><rect x="464.3" y="685.1" width="1.6" height="1.6" fill="#3040e0"/><rect x="474.6" y="687.3" width="2.4" height="2.4" fill="#1f8fd8"/><rect x="464.1" y="701.2" width="2" height="2" fill="#20b0d0"/><rect x="536.7" y="685.5" width="1.6" height="1.6" fill="#3040e0"/><rect x="500.1" y="652.6" width="1" height="1" fill="#c4c4f6"/><rect x="437.4" y="683.5" width="1.4" height="1.4" fill="#b4b4f2"/><rect x="529.4" y="652.1" width="1" height="1" fill="#dcdcfa"/><rect x="529.5" y="708.0" width="1.5" height="1.5" fill="#9aa8f4"/><rect x="492.5" y="712.5" width="2" height="2" fill="#1818d8"/><rect x="462.5" y="694.4" width="2" height="2" fill="#2a50ea"/><rect x="511.9" y="706.6" width="2" height="2" fill="#2030e0"/><rect x="517.7" y="727.0" width="1.4" height="1.4" fill="#b4b4f2"/><rect x="463.8" y="695.4" width="1.6" height="1.6" fill="#1f8fd8"/><rect x="476.3" y="697.6" width="2" height="2" fill="#2030e0"/><rect x="492.4" y="659.6" width="1.5" height="1.5" fill="#2525dd"/><rect x="490.3" y="707.4" width="2" height="2" fill="#2a50ea"/><rect x="545.6" y="656.6" width="1.2" height="1.2" fill="#c4c4f6"/><rect x="516.1" y="679.4" width="2" height="2" fill="#2a50ea"/><rect x="461.2" y="717.5" width="1.8" height="1.8" fill="#8a8af0"/><rect x="493.0" y="668.4" width="1.6" height="1.6" fill="#1818d8"/><rect x="515.0" y="702.5" width="2" height="2" fill="#20b0d0"/><rect x="500.7" y="666.8" width="2.4" height="2.4" fill="#1818d8"/><rect x="524.0" y="670.6" width="2.4" height="2.4" fill="#1818d8"/><rect x="461.5" y="712.7" width="1.5" height="1.5" fill="#5a5ae8"/><rect x="549.0" y="679.0" width="1.5" height="1.5" fill="#8a8af0"/><rect x="499.4" y="727.8" width="1.5" height="1.5" fill="#5a5ae8"/><rect x="484.3" y="708.7" width="1.6" height="1.6" fill="#2a50ea"/><rect x="521.3" y="679.6" width="2.4" height="2.4" fill="#20b0d0"/><rect x="523.1" y="692.9" width="1.6" height="1.6" fill="#2030e0"/><rect x="482.2" y="649.2" width="1" height="1" fill="#b4b4f2"/><rect x="508.7" y="706.2" width="1.6" height="1.6" fill="#1818d8"/><rect x="474.8" y="681.7" width="2.4" height="2.4" fill="#2a50ea"/><rect x="466.1" y="667.0" width="1.8" height="1.8" fill="#b8b8f6"/><rect x="556.3" y="696.0" width="1.4" height="1.4" fill="#c4c4f6"/><rect x="549.8" y="696.7" width="1.2" height="1.2" fill="#8a8af0"/><rect x="518.0" y="715.8" width="1.2" height="1.2" fill="#2525dd"/><rect x="433.5" y="706.9" width="1.2" height="1.2" fill="#d2d2f8"/><rect x="479.7" y="667.9" width="1.5" height="1.5" fill="#b8b8f6"/><rect x="497.3" y="664.0" width="1.2" height="1.2" fill="#2525dd"/><rect x="481.6" y="671.3" width="2" height="2" fill="#1818d8"/><rect x="495.9" y="673.2" width="2" height="2" fill="#3040e0"/><rect x="469.9" y="707.7" width="2.4" height="2.4" fill="#3040e0"/><rect x="535.3" y="705.3" width="1.8" height="1.8" fill="#8a8af0"/><rect x="539.2" y="715.9" width="1.2" height="1.2" fill="#dcdcfa"/><rect x="513.4" y="729.0" width="1.2" height="1.2" fill="#b4b4f2"/><rect x="482.2" y="724.0" width="1.5" height="1.5" fill="#5a5ae8"/><rect x="484.6" y="706.5" width="2.4" height="2.4" fill="#1f8fd8"/><rect x="531.5" y="678.8" width="1.6" height="1.6" fill="#2030e0"/><rect x="492.0" y="674.2" width="2.4" height="2.4" fill="#1818d8"/><rect x="447.0" y="699.7" width="1.8" height="1.8" fill="#8a8af0"/><rect x="522.9" y="671.1" width="2.4" height="2.4" fill="#3040e0"/><rect x="500.2" y="661.7" width="1.2" height="1.2" fill="#8a8af0"/><rect x="470.3" y="701.9" width="2" height="2" fill="#3040e0"/><rect x="509.9" y="703.2" width="2" height="2" fill="#2030e0"/><rect x="533.0" y="727.6" width="1.4" height="1.4" fill="#dcdcfa"/><rect x="477.2" y="691.9" width="2" height="2" fill="#3040e0"/><rect x="509.7" y="663.8" width="2" height="2" fill="#1818d8"/><rect x="471.9" y="707.5" width="2" height="2" fill="#1818d8"/><rect x="466.5" y="707.0" width="2.4" height="2.4" fill="#2a50ea"/><rect x="473.4" y="693.4" width="1.6" height="1.6" fill="#20b0d0"/><rect x="550.5" y="698.7" width="1.2" height="1.2" fill="#b8b8f6"/><rect x="467.8" y="703.9" width="1.6" height="1.6" fill="#20b0d0"/><rect x="535.5" y="684.2" width="2" height="2" fill="#3040e0"/><rect x="517.4" y="699.2" width="2" height="2" fill="#2030e0"/><rect x="527.0" y="658.5" width="1.5" height="1.5" fill="#b8b8f6"/><rect x="521.5" y="702.1" width="2.4" height="2.4" fill="#3040e0"/><rect x="562.7" y="690.1" width="1.4" height="1.4" fill="#c4c4f6"/><rect x="481.5" y="672.4" width="2.4" height="2.4" fill="#2a50ea"/><rect x="528.8" y="714.5" width="1.5" height="1.5" fill="#2525dd"/><rect x="494.3" y="674.8" width="2" height="2" fill="#1f8fd8"/><rect x="470.8" y="666.6" width="1.5" height="1.5" fill="#2525dd"/><rect x="519.3" y="677.4" width="1.6" height="1.6" fill="#1f8fd8"/><rect x="535.8" y="669.9" width="1.8" height="1.8" fill="#8a8af0"/><rect x="518.8" y="732.4" width="1.2" height="1.2" fill="#dcdcfa"/><rect x="488.4" y="680.7" width="2" height="2" fill="#2030e0"/><rect x="475.8" y="721.5" width="1.8" height="1.8" fill="#5a5ae8"/><rect x="515.1" y="700.1" width="2.4" height="2.4" fill="#2030e0"/><rect x="545.9" y="675.7" width="1.8" height="1.8" fill="#b8b8f6"/><rect x="508.8" y="671.6" width="2.4" height="2.4" fill="#2030e0"/><rect x="530.6" y="634.4" width="1" height="1" fill="#dcdcfa"/><rect x="517.6" y="713.4" width="2" height="2" fill="#2030e0"/><rect x="508.2" y="674.3" width="2.4" height="2.4" fill="#2a50ea"/><rect x="464.1" y="676.2" width="1.8" height="1.8" fill="#5a5ae8"/><rect x="524.2" y="684.0" width="2" height="2" fill="#20b0d0"/><rect x="485.9" y="678.1" width="2" height="2" fill="#2030e0"/><rect x="472.6" y="696.7" width="2" height="2" fill="#20b0d0"/><rect x="463.7" y="710.3" width="1.6" height="1.6" fill="#1818d8"/><rect x="429.0" y="707.1" width="1.4" height="1.4" fill="#c4c4f6"/><rect x="517.4" y="673.9" width="2" height="2" fill="#1818d8"/><rect x="494.1" y="709.8" width="2" height="2" fill="#3040e0"/><rect x="507.6" y="733.1" width="1.4" height="1.4" fill="#dcdcfa"/><rect x="478.2" y="712.9" width="2.4" height="2.4" fill="#2030e0"/><rect x="549.2" y="696.0" width="1.8" height="1.8" fill="#2525dd"/><rect x="465.1" y="668.0" width="1.5" height="1.5" fill="#b8b8f6"/><rect x="480.6" y="709.3" width="2" height="2" fill="#2a50ea"/><rect x="470.9" y="681.1" width="2.4" height="2.4" fill="#1818d8"/><rect x="507.1" y="722.1" width="1.5" height="1.5" fill="#2525dd"/><rect x="444.1" y="696.9" width="1.8" height="1.8" fill="#b8b8f6"/><rect x="479.1" y="723.2" width="1.8" height="1.8" fill="#5a5ae8"/><rect x="464.1" y="664.5" width="1" height="1" fill="#dcdcfa"/><rect x="574.1" y="669.6" width="1" height="1" fill="#c4c4f6"/><rect x="530.1" y="711.7" width="1.5" height="1.5" fill="#5a5ae8"/><rect x="529.8" y="681.1" width="2" height="2" fill="#1818d8"/><rect x="521.0" y="717.9" width="1.2" height="1.2" fill="#9aa8f4"/><rect x="543.9" y="692.6" width="1.2" height="1.2" fill="#5a5ae8"/><rect x="473.5" y="730.4" width="1.8" height="1.8" fill="#b8b8f6"/><rect x="483.1" y="684.7" width="1.6" height="1.6" fill="#3040e0"/><rect x="493.5" y="720.2" width="2" height="2" fill="#1818d8"/><rect x="526.5" y="706.8" width="1.6" height="1.6" fill="#1f8fd8"/><rect x="555.3" y="711.9" width="1.4" height="1.4" fill="#b4b4f2"/><rect x="519.4" y="718.1" width="1.5" height="1.5" fill="#2525dd"/><rect x="519.8" y="694.2" width="2" height="2" fill="#1f8fd8"/><rect x="562.4" y="709.4" width="1" height="1" fill="#d2d2f8"/><rect x="461.2" y="669.7" width="1.5" height="1.5" fill="#b8b8f6"/><rect x="528.8" y="696.4" width="1.6" height="1.6" fill="#1f8fd8"/><rect x="507.7" y="709.3" width="2" height="2" fill="#3040e0"/><rect x="560.2" y="698.5" width="1" height="1" fill="#c4c4f6"/><rect x="512.8" y="722.9" width="1.5" height="1.5" fill="#8a8af0"/><rect x="524.1" y="675.0" width="1.6" height="1.6" fill="#1818d8"/><rect x="504.1" y="674.2" width="1.6" height="1.6" fill="#20b0d0"/><rect x="526.8" y="687.1" width="1.6" height="1.6" fill="#1818d8"/><rect x="522.2" y="664.4" width="1.5" height="1.5" fill="#b8b8f6"/><rect x="456.0" y="676.9" width="1.8" height="1.8" fill="#9aa8f4"/><rect x="477.5" y="727.9" width="1.2" height="1.2" fill="#8a8af0"/><rect x="500.9" y="676.4" width="2.4" height="2.4" fill="#3040e0"/><rect x="515.0" y="699.8" width="2" height="2" fill="#3040e0"/><rect x="467.0" y="702.3" width="2.4" height="2.4" fill="#1818d8"/><rect x="526.4" y="663.5" width="1.5" height="1.5" fill="#b8b8f6"/><rect x="462.6" y="699.3" width="2" height="2" fill="#1f8fd8"/><rect x="506.1" y="657.6" width="1.2" height="1.2" fill="#5a5ae8"/><rect x="482.3" y="671.7" width="1.6" height="1.6" fill="#20b0d0"/><rect x="507.4" y="712.1" width="2" height="2" fill="#1f8fd8"/><rect x="493.0" y="674.7" width="2.4" height="2.4" fill="#1f8fd8"/><rect x="476.0" y="697.1" width="2.4" height="2.4" fill="#1f8fd8"/><rect x="502.1" y="676.1" width="2" height="2" fill="#3040e0"/><rect x="536.3" y="677.0" width="2.4" height="2.4" fill="#2a50ea"/><rect x="466.8" y="707.8" width="2.4" height="2.4" fill="#20b0d0"/><rect x="479.9" y="712.4" width="2.4" height="2.4" fill="#3040e0"/><rect x="493.6" y="722.8" width="1.5" height="1.5" fill="#b8b8f6"/><rect x="486.4" y="681.7" width="2" height="2" fill="#2030e0"/><rect x="478.9" y="707.4" width="2.4" height="2.4" fill="#1f8fd8"/><rect x="571.6" y="674.2" width="1.2" height="1.2" fill="#dcdcfa"/><rect x="475.6" y="718.6" width="1.8" height="1.8" fill="#8a8af0"/><rect x="547.4" y="657.0" width="1.4" height="1.4" fill="#b4b4f2"/><rect x="527.0" y="687.5" width="2" height="2" fill="#1818d8"/><rect x="453.8" y="706.2" width="1.5" height="1.5" fill="#5a5ae8"/><rect x="469.8" y="649.8" width="1.2" height="1.2" fill="#c4c4f6"/><rect x="504.3" y="707.3" width="1.6" height="1.6" fill="#1f8fd8"/><rect x="472.7" y="701.9" width="1.6" height="1.6" fill="#1f8fd8"/><rect x="489.5" y="734.9" width="1.4" height="1.4" fill="#d2d2f8"/><rect x="510.6" y="678.3" width="2" height="2" fill="#2a50ea"/><rect x="468.5" y="708.3" width="2" height="2" fill="#1f8fd8"/><rect x="522.8" y="680.3" width="2" height="2" fill="#1f8fd8"/><rect x="466.8" y="725.0" width="1.2" height="1.2" fill="#8a8af0"/><rect x="535.1" y="660.9" width="1.8" height="1.8" fill="#8a8af0"/><rect x="517.6" y="672.9" width="2" height="2" fill="#2a50ea"/><rect x="529.1" y="678.7" width="2.4" height="2.4" fill="#2a50ea"/><rect x="466.5" y="698.2" width="1.6" height="1.6" fill="#1f8fd8"/><rect x="526.7" y="717.1" width="1.2" height="1.2" fill="#b8b8f6"/><rect x="509.6" y="730.5" width="1" height="1" fill="#d2d2f8"/><rect x="524.5" y="708.4" width="1.6" height="1.6" fill="#20b0d0"/><rect x="474.9" y="663.2" width="1.5" height="1.5" fill="#5a5ae8"/><rect x="480.6" y="684.9" width="1.6" height="1.6" fill="#2030e0"/><rect x="492.4" y="680.3" width="2" height="2" fill="#2a50ea"/><rect x="531.0" y="689.7" width="2" height="2" fill="#2a50ea"/><rect x="474.3" y="694.9" width="2.4" height="2.4" fill="#20b0d0"/><rect x="441.0" y="691.3" width="1.2" height="1.2" fill="#c4c4f6"/><rect x="480.2" y="674.7" width="2" height="2" fill="#1f8fd8"/><rect x="476.5" y="691.8" width="2" height="2" fill="#2030e0"/><rect x="506.9" y="670.5" width="2.4" height="2.4" fill="#1818d8"/><rect x="484.8" y="680.9" width="1.6" height="1.6" fill="#2030e0"/><rect x="481.4" y="727.6" width="1.2" height="1.2" fill="#8a8af0"/><rect x="518.2" y="678.8" width="2" height="2" fill="#2a50ea"/><rect x="462.1" y="685.4" width="1.5" height="1.5" fill="#5a5ae8"/><rect x="472.9" y="696.7" width="2" height="2" fill="#20b0d0"/><rect x="473.0" y="663.1" width="1.8" height="1.8" fill="#9aa8f4"/><rect x="527.7" y="694.0" width="1.6" height="1.6" fill="#20b0d0"/><rect x="530.5" y="686.0" width="2" height="2" fill="#2a50ea"/><rect x="511.8" y="707.0" width="1.6" height="1.6" fill="#3040e0"/><rect x="459.4" y="717.5" width="1.8" height="1.8" fill="#5a5ae8"/><rect x="450.7" y="683.5" width="1.2" height="1.2" fill="#9aa8f4"/><rect x="500.7" y="717.6" width="1.6" height="1.6" fill="#3040e0"/><rect x="512.3" y="668.0" width="2" height="2" fill="#2a50ea"/><rect x="536.8" y="711.7" width="1.2" height="1.2" fill="#2525dd"/><rect x="503.0" y="666.4" width="2.4" height="2.4" fill="#1818d8"/><rect x="529.0" y="685.3" width="2.4" height="2.4" fill="#3040e0"/><rect x="505.7" y="707.0" width="2" height="2" fill="#20b0d0"/><rect x="466.1" y="688.9" width="2.4" height="2.4" fill="#20b0d0"/><rect x="463.5" y="685.8" width="1.6" height="1.6" fill="#3040e0"/><rect x="493.6" y="671.9" width="2" height="2" fill="#3040e0"/><rect x="516.3" y="702.3" width="2" height="2" fill="#1818d8"/><rect x="506.4" y="677.6" width="2.4" height="2.4" fill="#20b0d0"/><rect x="491.3" y="717.4" width="2" height="2" fill="#1818d8"/><rect x="550.7" y="713.6" width="1.2" height="1.2" fill="#c4c4f6"/><rect x="479.3" y="702.8" width="1.6" height="1.6" fill="#1f8fd8"/><rect x="476.3" y="697.0" width="2.4" height="2.4" fill="#2a50ea"/><rect x="525.4" y="684.2" width="2.4" height="2.4" fill="#2030e0"/><rect x="512.1" y="706.0" width="1.6" height="1.6" fill="#3040e0"/><rect x="532.9" y="686.2" width="2" height="2" fill="#1f8fd8"/><rect x="464.9" y="671.8" width="1.8" height="1.8" fill="#9aa8f4"/><rect x="479.9" y="688.4" width="1.6" height="1.6" fill="#1f8fd8"/><rect x="511.0" y="672.3" width="2" height="2" fill="#1818d8"/><rect x="533.0" y="682.9" width="2" height="2" fill="#1f8fd8"/><rect x="488.6" y="708.3" width="1.6" height="1.6" fill="#2030e0"/><rect x="461.9" y="701.5" width="2" height="2" fill="#1818d8"/><rect x="477.6" y="689.4" width="1.6" height="1.6" fill="#1f8fd8"/><rect x="534.6" y="703.8" width="1.2" height="1.2" fill="#8a8af0"/><rect x="461.1" y="682.6" width="1.2" height="1.2" fill="#b8b8f6"/><rect x="458.1" y="693.6" width="1.5" height="1.5" fill="#9aa8f4"/><rect x="530.5" y="668.2" width="2" height="2" fill="#2a50ea"/><rect x="473.8" y="728.5" width="1.8" height="1.8" fill="#8a8af0"/><rect x="461.3" y="690.2" width="2" height="2" fill="#3040e0"/><rect x="484.4" y="708.7" width="2" height="2" fill="#2a50ea"/><rect x="492.1" y="674.8" width="2.4" height="2.4" fill="#2a50ea"/><rect x="519.2" y="672.8" width="1.6" height="1.6" fill="#1818d8"/><rect x="475.0" y="707.4" width="2.4" height="2.4" fill="#3040e0"/><rect x="468.7" y="733.6" width="1" height="1" fill="#b4b4f2"/><rect x="523.0" y="690.3" width="2.4" height="2.4" fill="#1f8fd8"/><rect x="458.1" y="687.7" width="1.2" height="1.2" fill="#8a8af0"/><rect x="510.6" y="676.0" width="2.4" height="2.4" fill="#3040e0"/><rect x="491.9" y="723.4" width="1.2" height="1.2" fill="#9aa8f4"/><rect x="477.8" y="688.1" width="2" height="2" fill="#2a50ea"/><rect x="474.7" y="682.1" width="2" height="2" fill="#3040e0"/><rect x="515.5" y="670.2" width="2" height="2" fill="#2030e0"/><rect x="483.1" y="666.9" width="1.5" height="1.5" fill="#9aa8f4"/><rect x="517.8" y="651.8" width="1.4" height="1.4" fill="#dcdcfa"/><rect x="480.9" y="711.6" width="1.6" height="1.6" fill="#2030e0"/><rect x="442.1" y="710.9" width="1" height="1" fill="#c4c4f6"/><rect x="487.8" y="655.7" width="1" height="1" fill="#dcdcfa"/><rect x="522.4" y="646.5" width="1" height="1" fill="#c4c4f6"/><rect x="480.8" y="666.5" width="1.5" height="1.5" fill="#9aa8f4"/><rect x="524.6" y="688.8" width="2" height="2" fill="#1818d8"/><rect x="478.6" y="685.1" width="1.6" height="1.6" fill="#2030e0"/><rect x="444.4" y="693.2" width="1.2" height="1.2" fill="#b8b8f6"/><rect x="465.7" y="704.8" width="2.4" height="2.4" fill="#1f8fd8"/><rect x="464.4" y="673.1" width="1.5" height="1.5" fill="#2525dd"/><rect x="518.3" y="677.5" width="2" height="2" fill="#3040e0"/><rect x="466.2" y="718.6" width="1.5" height="1.5" fill="#8a8af0"/><rect x="499.8" y="706.0" width="2.4" height="2.4" fill="#3040e0"/><rect x="529.1" y="698.6" width="2" height="2" fill="#20b0d0"/><rect x="478.4" y="715.7" width="2" height="2" fill="#20b0d0"/><rect x="503.8" y="676.0" width="2" height="2" fill="#2030e0"/><rect x="493.2" y="656.4" width="1.8" height="1.8" fill="#b8b8f6"/><rect x="474.2" y="714.9" width="1.6" height="1.6" fill="#20b0d0"/>
<g filter="url(#rough)">
<ellipse cx="513.5" cy="686" rx="30.5" ry="23.5" fill="#2a4ce4" transform="rotate(-47 513.5 686)"/>
<ellipse cx="513.5" cy="686" rx="28.5" ry="21.5" fill="#18b4d4" transform="rotate(-47 513.5 686)"/>
<ellipse cx="513.5" cy="686" rx="26.5" ry="19.5" fill="#22b04a" transform="rotate(-47 513.5 686)"/>
<ellipse cx="514" cy="686" rx="22.5" ry="16" fill="#e6ee18" transform="rotate(-47 514 686)"/>
<ellipse cx="514.3" cy="685.7" rx="19.5" ry="13.5" fill="#ffb400" transform="rotate(-47 514.3 685.7)"/>
<ellipse cx="514.5" cy="685.5" rx="16" ry="11" fill="#ff5a08" transform="rotate(-47 514.5 685.5)"/>
<ellipse cx="514.5" cy="685" rx="12.5" ry="8.5" fill="#ff1a08" transform="rotate(-47 514.5 685)"/>
</g>
<line x1="459.47" y1="598.44" x2="459.47" y2="853.41" stroke="#000" stroke-width="2.4" />
<line x1="352.98" y1="690.18" x2="620.85" y2="690.18" stroke="#000" stroke-width="2.4" />
<rect x="632.31" y="598.16" width="267.69" height="255.78" fill="#fff" />
<line x1="632.31" y1="598.16" x2="632.31" y2="853.95" stroke="#10306f" stroke-width="3.2" />
<line x1="632.31" y1="853.95" x2="900" y2="853.95" stroke="#10306f" stroke-width="3.2" />
<line x1="634.99" y1="853.95" x2="634.99" y2="859.95" stroke="#10306f" stroke-width="1.6" />
<line x1="645.7" y1="853.95" x2="645.7" y2="858.95" stroke="#10306f" stroke-width="1.4" />
<line x1="632.31" y1="851.39" x2="626.31" y2="851.39" stroke="#10306f" stroke-width="1.6" />
<line x1="695.22" y1="853.95" x2="695.22" y2="859.95" stroke="#10306f" stroke-width="1.6" />
<line x1="632.31" y1="793.84" x2="626.31" y2="793.84" stroke="#10306f" stroke-width="1.6" />
<line x1="662.48" y1="853.95" x2="662.48" y2="857.45" stroke="#10306f" stroke-width="1" />
<line x1="632.31" y1="825.12" x2="628.81" y2="825.12" stroke="#10306f" stroke-width="1" />
<line x1="670.73" y1="853.95" x2="670.73" y2="857.45" stroke="#10306f" stroke-width="1" />
<line x1="632.31" y1="817.24" x2="628.81" y2="817.24" stroke="#10306f" stroke-width="1" />
<line x1="676.58" y1="853.95" x2="676.58" y2="857.45" stroke="#10306f" stroke-width="1" />
<line x1="632.31" y1="811.65" x2="628.81" y2="811.65" stroke="#10306f" stroke-width="1" />
<line x1="681.12" y1="853.95" x2="681.12" y2="857.45" stroke="#10306f" stroke-width="1" />
<line x1="632.31" y1="807.31" x2="628.81" y2="807.31" stroke="#10306f" stroke-width="1" />
<line x1="684.83" y1="853.95" x2="684.83" y2="857.45" stroke="#10306f" stroke-width="1" />
<line x1="632.31" y1="803.77" x2="628.81" y2="803.77" stroke="#10306f" stroke-width="1" />
<line x1="687.96" y1="853.95" x2="687.96" y2="857.45" stroke="#10306f" stroke-width="1" />
<line x1="632.31" y1="800.77" x2="628.81" y2="800.77" stroke="#10306f" stroke-width="1" />
<line x1="690.68" y1="853.95" x2="690.68" y2="857.45" stroke="#10306f" stroke-width="1" />
<line x1="632.31" y1="798.17" x2="628.81" y2="798.17" stroke="#10306f" stroke-width="1" />
<line x1="693.08" y1="853.95" x2="693.08" y2="857.45" stroke="#10306f" stroke-width="1" />
<line x1="632.31" y1="795.88" x2="628.81" y2="795.88" stroke="#10306f" stroke-width="1" />
<line x1="754.91" y1="853.95" x2="754.91" y2="859.95" stroke="#10306f" stroke-width="1.6" />
<line x1="632.31" y1="736.8" x2="626.31" y2="736.8" stroke="#10306f" stroke-width="1.6" />
<line x1="713.19" y1="853.95" x2="713.19" y2="857.45" stroke="#10306f" stroke-width="1" />
<line x1="632.31" y1="776.67" x2="628.81" y2="776.67" stroke="#10306f" stroke-width="1" />
<line x1="723.7" y1="853.95" x2="723.7" y2="857.45" stroke="#10306f" stroke-width="1" />
<line x1="632.31" y1="766.62" x2="628.81" y2="766.62" stroke="#10306f" stroke-width="1" />
<line x1="731.16" y1="853.95" x2="731.16" y2="857.45" stroke="#10306f" stroke-width="1" />
<line x1="632.31" y1="759.5" x2="628.81" y2="759.5" stroke="#10306f" stroke-width="1" />
<line x1="736.94" y1="853.95" x2="736.94" y2="857.45" stroke="#10306f" stroke-width="1" />
<line x1="632.31" y1="753.97" x2="628.81" y2="753.97" stroke="#10306f" stroke-width="1" />
<line x1="741.67" y1="853.95" x2="741.67" y2="857.45" stroke="#10306f" stroke-width="1" />
<line x1="632.31" y1="749.45" x2="628.81" y2="749.45" stroke="#10306f" stroke-width="1" />
<line x1="745.67" y1="853.95" x2="745.67" y2="857.45" stroke="#10306f" stroke-width="1" />
<line x1="632.31" y1="745.63" x2="628.81" y2="745.63" stroke="#10306f" stroke-width="1" />
<line x1="749.13" y1="853.95" x2="749.13" y2="857.45" stroke="#10306f" stroke-width="1" />
<line x1="632.31" y1="742.32" x2="628.81" y2="742.32" stroke="#10306f" stroke-width="1" />
<line x1="752.18" y1="853.95" x2="752.18" y2="857.45" stroke="#10306f" stroke-width="1" />
<line x1="632.31" y1="739.41" x2="628.81" y2="739.41" stroke="#10306f" stroke-width="1" />
<line x1="814.34" y1="853.95" x2="814.34" y2="859.95" stroke="#10306f" stroke-width="1.6" />
<line x1="632.31" y1="680.01" x2="626.31" y2="680.01" stroke="#10306f" stroke-width="1.6" />
<line x1="772.8" y1="853.95" x2="772.8" y2="857.45" stroke="#10306f" stroke-width="1" />
<line x1="632.31" y1="719.7" x2="628.81" y2="719.7" stroke="#10306f" stroke-width="1" />
<line x1="783.27" y1="853.95" x2="783.27" y2="857.45" stroke="#10306f" stroke-width="1" />
<line x1="632.31" y1="709.7" x2="628.81" y2="709.7" stroke="#10306f" stroke-width="1" />
<line x1="790.69" y1="853.95" x2="790.69" y2="857.45" stroke="#10306f" stroke-width="1" />
<line x1="632.31" y1="702.61" x2="628.81" y2="702.61" stroke="#10306f" stroke-width="1" />
<line x1="796.45" y1="853.95" x2="796.45" y2="857.45" stroke="#10306f" stroke-width="1" />
<line x1="632.31" y1="697.11" x2="628.81" y2="697.11" stroke="#10306f" stroke-width="1" />
<line x1="801.16" y1="853.95" x2="801.16" y2="857.45" stroke="#10306f" stroke-width="1" />
<line x1="632.31" y1="692.61" x2="628.81" y2="692.61" stroke="#10306f" stroke-width="1" />
<line x1="805.13" y1="853.95" x2="805.13" y2="857.45" stroke="#10306f" stroke-width="1" />
<line x1="632.31" y1="688.81" x2="628.81" y2="688.81" stroke="#10306f" stroke-width="1" />
<line x1="808.58" y1="853.95" x2="808.58" y2="857.45" stroke="#10306f" stroke-width="1" />
<line x1="632.31" y1="685.52" x2="628.81" y2="685.52" stroke="#10306f" stroke-width="1" />
<line x1="811.62" y1="853.95" x2="811.62" y2="857.45" stroke="#10306f" stroke-width="1" />
<line x1="632.31" y1="682.61" x2="628.81" y2="682.61" stroke="#10306f" stroke-width="1" />
<line x1="873.23" y1="853.95" x2="873.23" y2="859.95" stroke="#10306f" stroke-width="1.6" />
<line x1="632.31" y1="623.74" x2="626.31" y2="623.74" stroke="#10306f" stroke-width="1.6" />
<line x1="832.07" y1="853.95" x2="832.07" y2="857.45" stroke="#10306f" stroke-width="1" />
<line x1="632.31" y1="663.07" x2="628.81" y2="663.07" stroke="#10306f" stroke-width="1" />
<line x1="842.44" y1="853.95" x2="842.44" y2="857.45" stroke="#10306f" stroke-width="1" />
<line x1="632.31" y1="653.16" x2="628.81" y2="653.16" stroke="#10306f" stroke-width="1" />
<line x1="849.8" y1="853.95" x2="849.8" y2="857.45" stroke="#10306f" stroke-width="1" />
<line x1="632.31" y1="646.13" x2="628.81" y2="646.13" stroke="#10306f" stroke-width="1" />
<line x1="855.5" y1="853.95" x2="855.5" y2="857.45" stroke="#10306f" stroke-width="1" />
<line x1="632.31" y1="640.68" x2="628.81" y2="640.68" stroke="#10306f" stroke-width="1" />
<line x1="860.17" y1="853.95" x2="860.17" y2="857.45" stroke="#10306f" stroke-width="1" />
<line x1="632.31" y1="636.23" x2="628.81" y2="636.23" stroke="#10306f" stroke-width="1" />
<line x1="864.11" y1="853.95" x2="864.11" y2="857.45" stroke="#10306f" stroke-width="1" />
<line x1="632.31" y1="632.46" x2="628.81" y2="632.46" stroke="#10306f" stroke-width="1" />
<line x1="867.52" y1="853.95" x2="867.52" y2="857.45" stroke="#10306f" stroke-width="1" />
<line x1="632.31" y1="629.19" x2="628.81" y2="629.19" stroke="#10306f" stroke-width="1" />
<line x1="870.54" y1="853.95" x2="870.54" y2="857.45" stroke="#10306f" stroke-width="1" />
<line x1="632.31" y1="626.32" x2="628.81" y2="626.32" stroke="#10306f" stroke-width="1" />
<line x1="890.96" y1="853.95" x2="890.96" y2="857.45" stroke="#10306f" stroke-width="1" />
<line x1="632.31" y1="606.8" x2="628.81" y2="606.8" stroke="#10306f" stroke-width="1" />
<line x1="631.31" y1="598.16" x2="901.3" y2="598.16" stroke="#000" stroke-width="2.6" />
<line x1="900" y1="598.16" x2="900" y2="855.45" stroke="#000" stroke-width="2.6" />
<text x="726.53" y="589.14" font-size="22.73"><tspan font-style="italic">Id1</tspan><tspan font-style="italic" font-size="19.09" dy="-9.09">Lyz-KO</tspan></text>
<text x="635.71" y="622.47" font-size="23.53">2%</text>
<text x="863.61" y="622.47" font-size="23.53">4%</text>
<text x="635.71" y="848.66" font-size="23.45">37%</text>
<text x="852.38" y="848.66" font-size="22.6">57%</text>
<text x="637.41" y="886.26" font-size="24" text-anchor="middle">0</text>
<text x="696.26" y="886.26" font-size="24" text-anchor="middle"><tspan>10</tspan><tspan font-size="16.8" dy="-10.08">2</tspan></text>
<text x="754.76" y="886.26" font-size="24" text-anchor="middle"><tspan>10</tspan><tspan font-size="16.8" dy="-10.08">3</tspan></text>
<text x="814.29" y="886.26" font-size="24" text-anchor="middle"><tspan>10</tspan><tspan font-size="16.8" dy="-10.08">4</tspan></text>
<text x="873.81" y="886.26" font-size="24" text-anchor="middle"><tspan>10</tspan><tspan font-size="16.8" dy="-10.08">5</tspan></text>
<rect x="719.3" y="712.4" width="2" height="2" fill="#1818d8"/><rect x="769.5" y="713.9" width="2" height="2" fill="#1818d8"/><rect x="767.0" y="721.4" width="1.6" height="1.6" fill="#20b0d0"/><rect x="774.1" y="697.3" width="1.6" height="1.6" fill="#20b0d0"/><rect x="719.3" y="706.7" width="1.6" height="1.6" fill="#2030e0"/><rect x="718.5" y="730.9" width="2" height="2" fill="#20b0d0"/><rect x="706.2" y="707.0" width="1.8" height="1.8" fill="#2525dd"/><rect x="778.3" y="727.0" width="1.2" height="1.2" fill="#b8b8f6"/><rect x="718.8" y="699.5" width="2.4" height="2.4" fill="#20b0d0"/><rect x="743.5" y="688.3" width="2" height="2" fill="#1f8fd8"/><rect x="736.0" y="752.0" width="1.2" height="1.2" fill="#5a5ae8"/><rect x="714.1" y="705.8" width="2.4" height="2.4" fill="#2a50ea"/><rect x="737.1" y="774.8" width="1.4" height="1.4" fill="#c4c4f6"/><rect x="710.1" y="737.3" width="1.5" height="1.5" fill="#5a5ae8"/><rect x="692.1" y="749.0" width="1.4" height="1.4" fill="#c4c4f6"/><rect x="694.5" y="701.4" width="1.5" height="1.5" fill="#8a8af0"/><rect x="727.0" y="687.6" width="2.4" height="2.4" fill="#20b0d0"/><rect x="744.1" y="747.1" width="1.2" height="1.2" fill="#2525dd"/><rect x="737.2" y="694.9" width="2.4" height="2.4" fill="#20b0d0"/><rect x="741.4" y="734.8" width="2" height="2" fill="#3040e0"/><rect x="770.7" y="711.6" width="1.6" height="1.6" fill="#2030e0"/><rect x="739.7" y="749.2" width="1.5" height="1.5" fill="#9aa8f4"/><rect x="765.8" y="695.9" width="2.4" height="2.4" fill="#2030e0"/><rect x="728.6" y="726.0" width="2.4" height="2.4" fill="#2030e0"/><rect x="753.7" y="697.5" width="2" height="2" fill="#1f8fd8"/><rect x="729.7" y="695.4" width="2" height="2" fill="#2030e0"/><rect x="708.9" y="712.4" width="2" height="2" fill="#2a50ea"/><rect x="727.9" y="690.6" width="1.6" height="1.6" fill="#20b0d0"/><rect x="697.1" y="733.3" width="1.5" height="1.5" fill="#b8b8f6"/><rect x="725.5" y="729.4" width="2.4" height="2.4" fill="#1f8fd8"/><rect x="764.0" y="721.9" width="1.6" height="1.6" fill="#1818d8"/><rect x="763.2" y="687.6" width="2" height="2" fill="#2030e0"/><rect x="773.7" y="699.2" width="1.6" height="1.6" fill="#1f8fd8"/><rect x="767.3" y="725.9" width="2.4" height="2.4" fill="#1f8fd8"/><rect x="763.2" y="721.7" width="2.4" height="2.4" fill="#2a50ea"/><rect x="804.2" y="710.1" width="1" height="1" fill="#b4b4f2"/><rect x="715.1" y="671.9" width="1.4" height="1.4" fill="#b4b4f2"/><rect x="763.4" y="683.3" width="1.8" height="1.8" fill="#8a8af0"/><rect x="742.5" y="685.8" width="2" height="2" fill="#20b0d0"/><rect x="716.8" y="694.3" width="2" height="2" fill="#2030e0"/><rect x="754.1" y="677.7" width="1.2" height="1.2" fill="#5a5ae8"/><rect x="719.7" y="714.8" width="1.6" height="1.6" fill="#1818d8"/><rect x="745.8" y="688.1" width="2" height="2" fill="#2030e0"/><rect x="691.2" y="739.2" width="1.2" height="1.2" fill="#b4b4f2"/><rect x="721.7" y="720.5" width="1.6" height="1.6" fill="#1f8fd8"/><rect x="708.2" y="723.3" width="1.6" height="1.6" fill="#3040e0"/><rect x="717.2" y="740.3" width="1.5" height="1.5" fill="#5a5ae8"/><rect x="760.5" y="694.6" width="2" height="2" fill="#3040e0"/><rect x="798.7" y="731.2" width="1.2" height="1.2" fill="#dcdcfa"/><rect x="699.8" y="752.0" width="1" height="1" fill="#d2d2f8"/><rect x="717.5" y="704.0" width="2" height="2" fill="#3040e0"/><rect x="714.4" y="698.7" width="2" height="2" fill="#1f8fd8"/><rect x="764.3" y="732.6" width="1.6" height="1.6" fill="#1818d8"/><rect x="749.2" y="677.7" width="1.8" height="1.8" fill="#2525dd"/><rect x="754.1" y="736.7" width="2" height="2" fill="#20b0d0"/><rect x="745.5" y="735.8" width="1.6" height="1.6" fill="#2030e0"/><rect x="760.5" y="698.7" width="2.4" height="2.4" fill="#1f8fd8"/><rect x="759.6" y="669.5" width="1.8" height="1.8" fill="#5a5ae8"/><rect x="763.7" y="731.1" width="2" height="2" fill="#1f8fd8"/><rect x="705.8" y="695.2" width="1.2" height="1.2" fill="#5a5ae8"/><rect x="768.7" y="732.6" width="1.6" height="1.6" fill="#1818d8"/><rect x="733.4" y="738.7" width="2.4" height="2.4" fill="#20b0d0"/><rect x="724.6" y="710.0" width="1.6" height="1.6" fill="#2a50ea"/><rect x="742.6" y="686.7" width="1.6" height="1.6" fill="#20b0d0"/><rect x="738.0" y="664.7" width="1.2" height="1.2" fill="#dcdcfa"/><rect x="717.8" y="700.2" width="2" height="2" fill="#20b0d0"/><rect x="729.6" y="692.4" width="2.4" height="2.4" fill="#20b0d0"/><rect x="724.3" y="715.5" width="2" height="2" fill="#20b0d0"/><rect x="785.3" y="683.5" width="1.2" height="1.2" fill="#d2d2f8"/><rect x="716.3" y="683.5" width="1.8" height="1.8" fill="#5a5ae8"/><rect x="725.5" y="699.3" width="2" height="2" fill="#2a50ea"/><rect x="765.6" y="702.4" width="2" height="2" fill="#1f8fd8"/><rect x="789.0" y="702.2" width="1.8" height="1.8" fill="#5a5ae8"/><rect x="718.0" y="728.6" width="2.4" height="2.4" fill="#2a50ea"/><rect x="753.4" y="729.6" width="2" height="2" fill="#3040e0"/><rect x="774.6" y="710.9" width="1.6" height="1.6" fill="#1f8fd8"/><rect x="723.9" y="734.3" width="1.6" height="1.6" fill="#2a50ea"/><rect x="790.4" y="737.2" width="1" height="1" fill="#d2d2f8"/><rect x="761.5" y="718.7" width="2" height="2" fill="#2030e0"/><rect x="737.6" y="672.6" width="1.5" height="1.5" fill="#8a8af0"/><rect x="782.5" y="746.4" width="1.4" height="1.4" fill="#dcdcfa"/><rect x="736.5" y="730.1" width="2" height="2" fill="#3040e0"/><rect x="773.3" y="695.7" width="1.6" height="1.6" fill="#2a50ea"/><rect x="699.6" y="745.2" width="1" height="1" fill="#d2d2f8"/><rect x="738.0" y="731.5" width="2" height="2" fill="#2030e0"/><rect x="710.3" y="729.9" width="2" height="2" fill="#2a50ea"/><rect x="674.6" y="722.9" width="1" height="1" fill="#dcdcfa"/><rect x="750.3" y="690.1" width="2.4" height="2.4" fill="#1f8fd8"/><rect x="763.1" y="705.9" width="2" height="2" fill="#2030e0"/><rect x="723.4" y="751.7" width="1.5" height="1.5" fill="#5a5ae8"/><rect x="811.9" y="696.7" width="1" height="1" fill="#d2d2f8"/><rect x="782.2" y="721.9" width="1.5" height="1.5" fill="#8a8af0"/><rect x="763.5" y="671.4" width="1.8" height="1.8" fill="#8a8af0"/><rect x="747.2" y="730.8" width="2" height="2" fill="#1f8fd8"/><rect x="761.2" y="730.1" width="2" height="2" fill="#2a50ea"/><rect x="804.7" y="687.9" width="1" height="1" fill="#b4b4f2"/><rect x="794.4" y="713.9" width="1.5" height="1.5" fill="#5a5ae8"/><rect x="755.3" y="729.3" width="2.4" height="2.4" fill="#1818d8"/><rect x="742.0" y="745.3" width="1.6" height="1.6" fill="#2030e0"/><rect x="785.0" y="727.8" width="1.5" height="1.5" fill="#5a5ae8"/><rect x="720.0" y="705.5" width="2" height="2" fill="#2a50ea"/><rect x="787.6" y="693.6" width="1.8" height="1.8" fill="#5a5ae8"/><rect x="772.5" y="683.4" width="1.5" height="1.5" fill="#b8b8f6"/><rect x="740.5" y="677.9" width="1.2" height="1.2" fill="#9aa8f4"/><rect x="740.9" y="743.7" width="1.6" height="1.6" fill="#2030e0"/><rect x="755.3" y="679.3" width="1.8" height="1.8" fill="#b8b8f6"/><rect x="711.0" y="733.6" width="1.2" height="1.2" fill="#b8b8f6"/><rect x="774.3" y="687.4" width="1.2" height="1.2" fill="#b8b8f6"/><rect x="753.6" y="684.9" width="2" height="2" fill="#3040e0"/><rect x="695.1" y="678.5" width="1.2" height="1.2" fill="#dcdcfa"/><rect x="708.8" y="707.7" width="2" height="2" fill="#3040e0"/><rect x="749.0" y="676.5" width="1.8" height="1.8" fill="#b8b8f6"/><rect x="770.8" y="723.0" width="2.4" height="2.4" fill="#3040e0"/><rect x="745.3" y="748.5" width="1.2" height="1.2" fill="#5a5ae8"/><rect x="728.3" y="654.8" width="1.2" height="1.2" fill="#dcdcfa"/><rect x="794.8" y="726.6" width="1" height="1" fill="#b4b4f2"/><rect x="713.1" y="696.8" width="2" height="2" fill="#1818d8"/><rect x="730.3" y="743.5" width="2" height="2" fill="#3040e0"/><rect x="715.3" y="720.7" width="1.6" height="1.6" fill="#3040e0"/><rect x="724.5" y="684.9" width="1.8" height="1.8" fill="#8a8af0"/><rect x="715.2" y="715.3" width="1.6" height="1.6" fill="#1f8fd8"/><rect x="773.8" y="706.4" width="1.6" height="1.6" fill="#2a50ea"/><rect x="700.7" y="731.0" width="1.5" height="1.5" fill="#9aa8f4"/><rect x="707.0" y="751.8" width="1" height="1" fill="#d2d2f8"/><rect x="681.4" y="715.5" width="1.4" height="1.4" fill="#d2d2f8"/><rect x="751.4" y="687.4" width="2" height="2" fill="#1818d8"/><rect x="757.2" y="757.9" width="1.2" height="1.2" fill="#dcdcfa"/><rect x="716.3" y="719.0" width="2" height="2" fill="#2a50ea"/><rect x="724.2" y="727.2" width="2" height="2" fill="#1818d8"/><rect x="784.1" y="706.2" width="1.2" height="1.2" fill="#9aa8f4"/><rect x="783.8" y="708.5" width="1.5" height="1.5" fill="#8a8af0"/><rect x="767.0" y="717.6" width="1.6" height="1.6" fill="#20b0d0"/><rect x="729.4" y="733.5" width="1.6" height="1.6" fill="#2a50ea"/><rect x="720.0" y="690.1" width="2" height="2" fill="#2030e0"/><rect x="768.2" y="704.2" width="2" height="2" fill="#2a50ea"/><rect x="742.6" y="674.3" width="1.2" height="1.2" fill="#9aa8f4"/><rect x="751.2" y="682.4" width="2" height="2" fill="#20b0d0"/><rect x="735.9" y="689.9" width="2" height="2" fill="#2030e0"/><rect x="689.7" y="726.9" width="1" height="1" fill="#d2d2f8"/><rect x="721.4" y="720.4" width="2" height="2" fill="#2a50ea"/><rect x="727.9" y="654.7" width="1.2" height="1.2" fill="#b4b4f2"/><rect x="728.7" y="699.8" width="2.4" height="2.4" fill="#20b0d0"/><rect x="772.6" y="729.7" width="2" height="2" fill="#1818d8"/><rect x="698.0" y="720.8" width="1.2" height="1.2" fill="#b8b8f6"/><rect x="722.8" y="722.4" width="2.4" height="2.4" fill="#1f8fd8"/><rect x="763.8" y="720.4" width="2" height="2" fill="#1818d8"/><rect x="747.2" y="729.5" width="2" height="2" fill="#20b0d0"/><rect x="770.0" y="684.1" width="1.5" height="1.5" fill="#9aa8f4"/><rect x="719.7" y="731.1" width="2" height="2" fill="#1f8fd8"/><rect x="741.8" y="770.9" width="1.4" height="1.4" fill="#d2d2f8"/><rect x="708.2" y="718.5" width="1.6" height="1.6" fill="#2030e0"/><rect x="743.4" y="729.7" width="2.4" height="2.4" fill="#1f8fd8"/><rect x="725.0" y="724.2" width="2" height="2" fill="#1818d8"/><rect x="782.1" y="713.2" width="1.8" height="1.8" fill="#9aa8f4"/><rect x="790.4" y="682.9" width="1.2" height="1.2" fill="#dcdcfa"/><rect x="763.8" y="731.7" width="1.6" height="1.6" fill="#3040e0"/><rect x="777.6" y="694.1" width="1.2" height="1.2" fill="#9aa8f4"/><rect x="771.4" y="692.5" width="2" height="2" fill="#2a50ea"/><rect x="718.5" y="697.8" width="1.6" height="1.6" fill="#1f8fd8"/><rect x="761.8" y="720.7" width="2" height="2" fill="#20b0d0"/><rect x="738.3" y="737.4" width="2" height="2" fill="#2a50ea"/><rect x="753.9" y="767.9" width="1" height="1" fill="#b4b4f2"/><rect x="772.3" y="711.4" width="2.4" height="2.4" fill="#3040e0"/><rect x="723.6" y="726.2" width="1.6" height="1.6" fill="#1f8fd8"/><rect x="724.2" y="682.8" width="1.8" height="1.8" fill="#8a8af0"/><rect x="737.7" y="755.6" width="1.2" height="1.2" fill="#2525dd"/><rect x="724.8" y="720.0" width="1.6" height="1.6" fill="#2a50ea"/><rect x="769.2" y="700.6" width="2" height="2" fill="#2030e0"/><rect x="689.9" y="727.0" width="1.4" height="1.4" fill="#c4c4f6"/><rect x="761.0" y="727.6" width="1.6" height="1.6" fill="#2030e0"/><rect x="706.8" y="749.0" width="1.4" height="1.4" fill="#b4b4f2"/><rect x="721.9" y="694.4" width="1.6" height="1.6" fill="#1f8fd8"/><rect x="733.7" y="747.9" width="1.5" height="1.5" fill="#8a8af0"/><rect x="701.9" y="742.6" width="1.2" height="1.2" fill="#b8b8f6"/><rect x="716.7" y="743.8" width="1.5" height="1.5" fill="#8a8af0"/><rect x="778.9" y="725.0" width="1.5" height="1.5" fill="#5a5ae8"/><rect x="716.1" y="711.5" width="2" height="2" fill="#2a50ea"/><rect x="736.5" y="688.9" width="2.4" height="2.4" fill="#3040e0"/><rect x="748.8" y="743.3" width="1.6" height="1.6" fill="#1f8fd8"/><rect x="726.5" y="733.5" width="2" height="2" fill="#1818d8"/><rect x="722.3" y="703.6" width="1.6" height="1.6" fill="#2a50ea"/><rect x="746.1" y="747.8" width="1.5" height="1.5" fill="#8a8af0"/><rect x="737.3" y="748.2" width="1.8" height="1.8" fill="#b8b8f6"/><rect x="732.9" y="690.3" width="2" height="2" fill="#1f8fd8"/><rect x="778.1" y="685.6" width="1.5" height="1.5" fill="#5a5ae8"/><rect x="767.4" y="745.4" width="1.8" height="1.8" fill="#8a8af0"/><rect x="742.6" y="682.8" width="2" height="2" fill="#2a50ea"/><rect x="702.8" y="729.6" width="1.2" height="1.2" fill="#b8b8f6"/><rect x="718.2" y="715.7" width="2" height="2" fill="#2030e0"/><rect x="716.2" y="735.4" width="2" height="2" fill="#1f8fd8"/><rect x="760.2" y="729.9" width="1.6" height="1.6" fill="#1818d8"/><rect x="769.3" y="723.3" width="2.4" height="2.4" fill="#3040e0"/><rect x="694.6" y="733.0" width="1.4" height="1.4" fill="#d2d2f8"/><rect x="700.2" y="711.3" width="1.5" height="1.5" fill="#2525dd"/><rect x="739.1" y="741.5" width="2" height="2" fill="#2a50ea"/><rect x="746.2" y="729.2" width="2" height="2" fill="#2030e0"/><rect x="763.8" y="689.8" width="1.6" height="1.6" fill="#2a50ea"/><rect x="689.1" y="764.9" width="1.4" height="1.4" fill="#d2d2f8"/><rect x="750.7" y="681.3" width="1.6" height="1.6" fill="#1818d8"/><rect x="794.2" y="705.3" width="1.5" height="1.5" fill="#5a5ae8"/><rect x="777.1" y="762.8" width="1" height="1" fill="#d2d2f8"/><rect x="714.2" y="750.3" width="1.8" height="1.8" fill="#9aa8f4"/><rect x="746.9" y="751.0" width="1.2" height="1.2" fill="#2525dd"/><rect x="713.3" y="691.5" width="1.2" height="1.2" fill="#8a8af0"/><rect x="765.6" y="713.8" width="2" height="2" fill="#1818d8"/><rect x="728.5" y="666.4" width="1.2" height="1.2" fill="#c4c4f6"/><rect x="725.0" y="727.8" width="2" height="2" fill="#20b0d0"/><rect x="714.8" y="718.7" width="1.6" height="1.6" fill="#1f8fd8"/><rect x="747.9" y="680.5" width="1.6" height="1.6" fill="#2030e0"/><rect x="725.7" y="697.6" width="2.4" height="2.4" fill="#2a50ea"/><rect x="779.0" y="704.2" width="1.6" height="1.6" fill="#1f8fd8"/><rect x="735.4" y="741.0" width="2.4" height="2.4" fill="#2a50ea"/><rect x="704.3" y="742.2" width="1.8" height="1.8" fill="#8a8af0"/><rect x="761.8" y="743.8" width="1.2" height="1.2" fill="#5a5ae8"/><rect x="720.6" y="707.0" width="2" height="2" fill="#2030e0"/><rect x="774.5" y="710.1" width="2.4" height="2.4" fill="#3040e0"/><rect x="774.9" y="723.9" width="2" height="2" fill="#2a50ea"/><rect x="757.7" y="724.9" width="2" height="2" fill="#20b0d0"/><rect x="699.0" y="723.2" width="1.5" height="1.5" fill="#5a5ae8"/><rect x="790.8" y="742.8" width="1.2" height="1.2" fill="#dcdcfa"/><rect x="798.9" y="719.9" width="1" height="1" fill="#dcdcfa"/><rect x="768.2" y="690.9" width="2" height="2" fill="#2030e0"/><rect x="714.7" y="696.7" width="2.4" height="2.4" fill="#2030e0"/><rect x="721.7" y="732.7" width="2" height="2" fill="#1f8fd8"/><rect x="758.3" y="722.1" width="2" height="2" fill="#3040e0"/><rect x="774.9" y="714.7" width="1.6" height="1.6" fill="#3040e0"/><rect x="729.3" y="698.2" width="2.4" height="2.4" fill="#1f8fd8"/><rect x="708.5" y="709.4" width="2.4" height="2.4" fill="#2a50ea"/><rect x="739.0" y="729.5" width="2" height="2" fill="#1f8fd8"/><rect x="719.4" y="725.0" width="1.6" height="1.6" fill="#1818d8"/><rect x="719.0" y="699.6" width="2.4" height="2.4" fill="#2030e0"/><rect x="740.0" y="674.8" width="1.2" height="1.2" fill="#9aa8f4"/><rect x="748.7" y="691.0" width="2" height="2" fill="#1818d8"/><rect x="731.0" y="731.6" width="1.6" height="1.6" fill="#1f8fd8"/><rect x="760.3" y="700.8" width="1.6" height="1.6" fill="#3040e0"/><rect x="772.0" y="716.7" width="2" height="2" fill="#1f8fd8"/><rect x="710.6" y="696.2" width="1.2" height="1.2" fill="#2525dd"/><rect x="783.6" y="740.1" width="1.2" height="1.2" fill="#8a8af0"/><rect x="722.0" y="683.8" width="1.2" height="1.2" fill="#5a5ae8"/><rect x="755.3" y="684.2" width="2" height="2" fill="#2a50ea"/><rect x="732.5" y="742.4" width="2" height="2" fill="#1f8fd8"/><rect x="751.2" y="769.2" width="1" height="1" fill="#dcdcfa"/><rect x="711.6" y="701.7" width="2" height="2" fill="#2030e0"/><rect x="717.3" y="735.6" width="2" height="2" fill="#2a50ea"/><rect x="707.6" y="713.1" width="2.4" height="2.4" fill="#2a50ea"/><rect x="710.8" y="708.7" width="2" height="2" fill="#1818d8"/><rect x="777.4" y="705.5" width="2" height="2" fill="#1f8fd8"/><rect x="747.7" y="780.1" width="1.2" height="1.2" fill="#d2d2f8"/><rect x="752.5" y="742.0" width="2" height="2" fill="#1818d8"/><rect x="748.4" y="696.6" width="2" height="2" fill="#3040e0"/><rect x="732.4" y="678.0" width="1.2" height="1.2" fill="#5a5ae8"/><rect x="739.4" y="743.9" width="2" height="2" fill="#1f8fd8"/><rect x="753.6" y="743.3" width="1.6" height="1.6" fill="#1818d8"/><rect x="766.1" y="709.3" width="2" height="2" fill="#1818d8"/><rect x="717.3" y="712.6" width="2" height="2" fill="#2a50ea"/><rect x="757.9" y="740.3" width="2" height="2" fill="#1f8fd8"/><rect x="788.0" y="744.4" width="1.4" height="1.4" fill="#d2d2f8"/><rect x="704.9" y="685.2" width="1.5" height="1.5" fill="#8a8af0"/><rect x="758.0" y="656.3" width="1.4" height="1.4" fill="#c4c4f6"/><rect x="758.1" y="667.7" width="1.4" height="1.4" fill="#dcdcfa"/><rect x="777.6" y="692.9" width="1.2" height="1.2" fill="#5a5ae8"/><rect x="717.6" y="713.0" width="2" height="2" fill="#2030e0"/><rect x="785.3" y="719.5" width="1.8" height="1.8" fill="#2525dd"/><rect x="684.6" y="706.6" width="1.2" height="1.2" fill="#d2d2f8"/><rect x="758.5" y="739.3" width="2.4" height="2.4" fill="#20b0d0"/><rect x="738.4" y="731.4" width="2.4" height="2.4" fill="#1818d8"/><rect x="760.5" y="679.3" width="1.2" height="1.2" fill="#9aa8f4"/><rect x="737.4" y="689.5" width="1.6" height="1.6" fill="#2030e0"/><rect x="745.9" y="744.5" width="2" height="2" fill="#1818d8"/><rect x="781.0" y="674.2" width="1.4" height="1.4" fill="#b4b4f2"/><rect x="777.9" y="717.1" width="2.4" height="2.4" fill="#3040e0"/><rect x="713.6" y="672.3" width="1.2" height="1.2" fill="#b4b4f2"/><rect x="695.3" y="676.4" width="1" height="1" fill="#d2d2f8"/><rect x="731.5" y="661.3" width="1" height="1" fill="#b4b4f2"/><rect x="756.7" y="696.9" width="2.4" height="2.4" fill="#2030e0"/><rect x="769.1" y="691.1" width="2.4" height="2.4" fill="#3040e0"/><rect x="714.0" y="722.9" width="1.6" height="1.6" fill="#1818d8"/><rect x="708.9" y="732.8" width="1.5" height="1.5" fill="#b8b8f6"/><rect x="745.3" y="691.0" width="1.6" height="1.6" fill="#20b0d0"/><rect x="780.0" y="701.6" width="1.2" height="1.2" fill="#2525dd"/><rect x="770.0" y="732.8" width="1.6" height="1.6" fill="#1818d8"/><rect x="721.3" y="705.4" width="1.6" height="1.6" fill="#20b0d0"/><rect x="768.7" y="682.7" width="1.2" height="1.2" fill="#9aa8f4"/><rect x="803.7" y="713.8" width="1.4" height="1.4" fill="#c4c4f6"/><rect x="720.9" y="698.1" width="1.6" height="1.6" fill="#2030e0"/><rect x="746.9" y="681.2" width="2" height="2" fill="#2a50ea"/><rect x="735.6" y="729.2" width="2" height="2" fill="#2a50ea"/><rect x="738.0" y="664.9" width="1.2" height="1.2" fill="#dcdcfa"/><rect x="722.6" y="729.0" width="2" height="2" fill="#1818d8"/><rect x="704.9" y="705.4" width="1.8" height="1.8" fill="#2525dd"/><rect x="737.7" y="652.4" width="1.2" height="1.2" fill="#c4c4f6"/><rect x="714.7" y="719.5" width="2.4" height="2.4" fill="#2030e0"/><rect x="686.1" y="692.2" width="1.4" height="1.4" fill="#b4b4f2"/><rect x="760.8" y="703.6" width="2" height="2" fill="#2030e0"/><rect x="746.2" y="678.9" width="1.8" height="1.8" fill="#2525dd"/><rect x="786.3" y="684.9" width="1.2" height="1.2" fill="#c4c4f6"/><rect x="751.1" y="728.4" width="2" height="2" fill="#20b0d0"/><rect x="711.4" y="750.5" width="1.5" height="1.5" fill="#5a5ae8"/><rect x="769.8" y="729.7" width="1.6" height="1.6" fill="#3040e0"/><rect x="733.1" y="730.9" width="2.4" height="2.4" fill="#2030e0"/><rect x="716.4" y="686.4" width="1.5" height="1.5" fill="#5a5ae8"/><rect x="706.1" y="733.9" width="1.2" height="1.2" fill="#b8b8f6"/><rect x="765.3" y="726.8" width="2" height="2" fill="#3040e0"/><rect x="723.5" y="715.6" width="2" height="2" fill="#3040e0"/><rect x="721.6" y="657.0" width="1.4" height="1.4" fill="#b4b4f2"/><rect x="781.3" y="700.6" width="1.2" height="1.2" fill="#2525dd"/><rect x="697.5" y="763.7" width="1.4" height="1.4" fill="#b4b4f2"/><rect x="740.1" y="730.6" width="1.6" height="1.6" fill="#1818d8"/><rect x="740.9" y="759.0" width="1.2" height="1.2" fill="#9aa8f4"/><rect x="791.8" y="707.9" width="1.8" height="1.8" fill="#9aa8f4"/><rect x="765.5" y="770.9" width="1.2" height="1.2" fill="#b4b4f2"/><rect x="762.2" y="712.0" width="2.4" height="2.4" fill="#3040e0"/><rect x="761.3" y="682.1" width="1.8" height="1.8" fill="#b8b8f6"/><rect x="708.4" y="684.6" width="1.2" height="1.2" fill="#b8b8f6"/><rect x="723.0" y="687.6" width="2.4" height="2.4" fill="#1f8fd8"/><rect x="734.6" y="743.5" width="2.4" height="2.4" fill="#1818d8"/><rect x="748.0" y="734.7" width="2" height="2" fill="#3040e0"/><rect x="747.0" y="735.7" width="1.6" height="1.6" fill="#1f8fd8"/><rect x="722.0" y="700.8" width="2" height="2" fill="#3040e0"/><rect x="758.2" y="698.1" width="2.4" height="2.4" fill="#1818d8"/><rect x="762.2" y="667.1" width="1" height="1" fill="#c4c4f6"/><rect x="721.1" y="663.2" width="1.4" height="1.4" fill="#d2d2f8"/><rect x="721.4" y="752.1" width="1.8" height="1.8" fill="#9aa8f4"/><rect x="755.0" y="735.3" width="2" height="2" fill="#1818d8"/><rect x="717.4" y="714.4" width="2" height="2" fill="#1f8fd8"/><rect x="685.3" y="718.7" width="1.4" height="1.4" fill="#b4b4f2"/><rect x="762.5" y="715.8" width="1.6" height="1.6" fill="#1f8fd8"/><rect x="768.9" y="710.4" width="2" height="2" fill="#1f8fd8"/><rect x="738.4" y="735.1" width="2" height="2" fill="#20b0d0"/><rect x="805.3" y="700.0" width="1" height="1" fill="#dcdcfa"/><rect x="779.6" y="750.8" width="1.4" height="1.4" fill="#c4c4f6"/><rect x="760.5" y="739.9" width="2" height="2" fill="#3040e0"/><rect x="713.4" y="681.8" width="1.5" height="1.5" fill="#9aa8f4"/><rect x="784.4" y="704.8" width="1.5" height="1.5" fill="#5a5ae8"/><rect x="719.5" y="751.6" width="1.8" height="1.8" fill="#8a8af0"/><rect x="731.6" y="727.0" width="2" height="2" fill="#1f8fd8"/><rect x="699.5" y="725.3" width="1.5" height="1.5" fill="#8a8af0"/><rect x="746.9" y="731.2" width="2.4" height="2.4" fill="#1f8fd8"/><rect x="713.8" y="732.0" width="2" height="2" fill="#3040e0"/><rect x="757.7" y="726.0" width="1.6" height="1.6" fill="#1f8fd8"/><rect x="772.8" y="722.5" width="2" height="2" fill="#2a50ea"/><rect x="720.1" y="713.1" width="1.6" height="1.6" fill="#20b0d0"/><rect x="762.8" y="717.6" width="1.6" height="1.6" fill="#20b0d0"/><rect x="696.9" y="700.4" width="1.5" height="1.5" fill="#5a5ae8"/><rect x="775.1" y="684.9" width="1.8" height="1.8" fill="#5a5ae8"/><rect x="765.8" y="689.6" width="2" height="2" fill="#1818d8"/><rect x="760.8" y="742.3" width="1.2" height="1.2" fill="#b8b8f6"/><rect x="737.6" y="690.0" width="1.6" height="1.6" fill="#1818d8"/><rect x="764.8" y="729.2" width="2.4" height="2.4" fill="#1818d8"/><rect x="714.4" y="719.5" width="1.6" height="1.6" fill="#20b0d0"/><rect x="757.4" y="727.1" width="2.4" height="2.4" fill="#3040e0"/><rect x="712.8" y="681.4" width="1.5" height="1.5" fill="#8a8af0"/><rect x="693.1" y="749.5" width="1" height="1" fill="#c4c4f6"/><rect x="716.1" y="693.7" width="1.6" height="1.6" fill="#1818d8"/><rect x="710.5" y="697.2" width="1.2" height="1.2" fill="#8a8af0"/><rect x="714.4" y="716.3" width="1.6" height="1.6" fill="#2030e0"/><rect x="752.7" y="733.8" width="2" height="2" fill="#2030e0"/><rect x="776.1" y="725.5" width="2.4" height="2.4" fill="#2a50ea"/><rect x="743.8" y="684.9" width="2" height="2" fill="#2030e0"/><rect x="720.9" y="726.2" width="1.6" height="1.6" fill="#20b0d0"/><rect x="749.7" y="695.3" width="2.4" height="2.4" fill="#1f8fd8"/><rect x="716.9" y="773.3" width="1" height="1" fill="#b4b4f2"/><rect x="712.8" y="685.6" width="1.2" height="1.2" fill="#8a8af0"/><rect x="737.4" y="731.2" width="1.6" height="1.6" fill="#20b0d0"/><rect x="726.4" y="670.1" width="1.8" height="1.8" fill="#b8b8f6"/><rect x="763.8" y="715.1" width="1.6" height="1.6" fill="#1818d8"/><rect x="771.5" y="754.8" width="1.4" height="1.4" fill="#c4c4f6"/><rect x="768.8" y="692.0" width="2" height="2" fill="#20b0d0"/><rect x="712.2" y="693.8" width="1.8" height="1.8" fill="#b8b8f6"/><rect x="716.0" y="694.5" width="1.6" height="1.6" fill="#2030e0"/><rect x="710.8" y="680.1" width="1.2" height="1.2" fill="#9aa8f4"/><rect x="771.0" y="691.3" width="2" height="2" fill="#2a50ea"/><rect x="745.4" y="684.6" width="2" height="2" fill="#2a50ea"/><rect x="775.2" y="711.0" width="1.6" height="1.6" fill="#20b0d0"/><rect x="713.1" y="718.6" width="2.4" height="2.4" fill="#1818d8"/><rect x="690.0" y="699.5" width="1" height="1" fill="#dcdcfa"/><rect x="767.6" y="710.6" width="2" height="2" fill="#20b0d0"/><rect x="718.5" y="720.9" width="1.6" height="1.6" fill="#1818d8"/><rect x="780.5" y="707.4" width="1.2" height="1.2" fill="#2525dd"/><rect x="724.1" y="719.4" width="2" height="2" fill="#20b0d0"/><rect x="706.2" y="730.7" width="1.5" height="1.5" fill="#2525dd"/><rect x="742.9" y="678.1" width="1.8" height="1.8" fill="#5a5ae8"/><rect x="741.0" y="694.8" width="2.4" height="2.4" fill="#20b0d0"/><rect x="689.8" y="735.1" width="1" height="1" fill="#b4b4f2"/><rect x="779.1" y="709.6" width="1.6" height="1.6" fill="#20b0d0"/><rect x="728.8" y="727.9" width="2" height="2" fill="#20b0d0"/><rect x="786.2" y="694.2" width="1.2" height="1.2" fill="#b8b8f6"/><rect x="727.2" y="765.6" width="1.2" height="1.2" fill="#dcdcfa"/><rect x="746.4" y="692.1" width="2" height="2" fill="#3040e0"/><rect x="722.5" y="699.7" width="2.4" height="2.4" fill="#1f8fd8"/><rect x="781.3" y="693.0" width="1.5" height="1.5" fill="#b8b8f6"/><rect x="779.9" y="700.8" width="1.5" height="1.5" fill="#b8b8f6"/><rect x="765.5" y="682.8" width="1.2" height="1.2" fill="#2525dd"/><rect x="724.0" y="705.0" width="2" height="2" fill="#1f8fd8"/><rect x="720.3" y="740.7" width="1.2" height="1.2" fill="#b8b8f6"/><rect x="747.2" y="695.2" width="2" height="2" fill="#1818d8"/><rect x="744.9" y="736.0" width="1.6" height="1.6" fill="#20b0d0"/><rect x="795.2" y="659.3" width="1.2" height="1.2" fill="#d2d2f8"/><rect x="785.4" y="699.4" width="1.8" height="1.8" fill="#b8b8f6"/><rect x="743.5" y="687.0" width="1.6" height="1.6" fill="#20b0d0"/><rect x="714.4" y="711.6" width="2" height="2" fill="#1f8fd8"/><rect x="746.3" y="677.7" width="1.5" height="1.5" fill="#5a5ae8"/><rect x="710.4" y="697.8" width="1.8" height="1.8" fill="#9aa8f4"/><rect x="750.9" y="728.1" width="2.4" height="2.4" fill="#1818d8"/><rect x="751.6" y="675.5" width="1.5" height="1.5" fill="#5a5ae8"/><rect x="693.0" y="699.0" width="1.2" height="1.2" fill="#b4b4f2"/><rect x="747.0" y="694.9" width="2" height="2" fill="#20b0d0"/><rect x="721.3" y="732.3" width="2" height="2" fill="#2030e0"/><rect x="708.9" y="689.9" width="1.5" height="1.5" fill="#5a5ae8"/><rect x="722.4" y="704.8" width="1.6" height="1.6" fill="#20b0d0"/><rect x="761.3" y="688.8" width="2" height="2" fill="#20b0d0"/><rect x="746.5" y="751.1" width="1.2" height="1.2" fill="#9aa8f4"/><rect x="780.5" y="693.8" width="1.2" height="1.2" fill="#b8b8f6"/><rect x="693.7" y="705.8" width="1.5" height="1.5" fill="#9aa8f4"/><rect x="791.3" y="688.5" width="1.4" height="1.4" fill="#c4c4f6"/><rect x="700.8" y="681.6" width="1.2" height="1.2" fill="#c4c4f6"/><rect x="794.5" y="730.8" width="1" height="1" fill="#dcdcfa"/><rect x="814.9" y="685.6" width="1" height="1" fill="#d2d2f8"/><rect x="762.1" y="713.8" width="1.6" height="1.6" fill="#2a50ea"/><rect x="782.0" y="678.3" width="1.2" height="1.2" fill="#c4c4f6"/><rect x="745.9" y="678.3" width="1.2" height="1.2" fill="#9aa8f4"/><rect x="762.3" y="721.2" width="2" height="2" fill="#1818d8"/><rect x="730.9" y="698.3" width="2.4" height="2.4" fill="#20b0d0"/><rect x="737.1" y="729.4" width="2" height="2" fill="#1818d8"/><rect x="800.0" y="714.4" width="1" height="1" fill="#d2d2f8"/><rect x="785.1" y="687.5" width="1.5" height="1.5" fill="#5a5ae8"/><rect x="794.9" y="690.5" width="1" height="1" fill="#dcdcfa"/><rect x="721.3" y="699.1" width="2" height="2" fill="#2a50ea"/><rect x="751.5" y="688.7" width="2" height="2" fill="#3040e0"/><rect x="781.6" y="718.5" width="1.2" height="1.2" fill="#b8b8f6"/><rect x="728.3" y="723.9" width="2" height="2" fill="#1818d8"/><rect x="723.0" y="708.4" width="2" height="2" fill="#2030e0"/><rect x="721.7" y="717.9" width="1.6" height="1.6" fill="#1f8fd8"/><rect x="763.6" y="731.4" width="2" height="2" fill="#3040e0"/><rect x="696.8" y="705.5" width="1.5" height="1.5" fill="#2525dd"/><rect x="734.8" y="655.1" width="1.2" height="1.2" fill="#dcdcfa"/><rect x="798.9" y="702.5" width="1.2" height="1.2" fill="#c4c4f6"/><rect x="738.0" y="760.0" width="1.4" height="1.4" fill="#c4c4f6"/><rect x="722.8" y="698.0" width="2" height="2" fill="#20b0d0"/><rect x="716.1" y="716.1" width="2" height="2" fill="#20b0d0"/><rect x="757.1" y="732.5" width="2" height="2" fill="#1f8fd8"/><rect x="755.7" y="688.2" width="2" height="2" fill="#2030e0"/><rect x="774.5" y="723.4" width="2" height="2" fill="#1f8fd8"/><rect x="721.6" y="689.2" width="2" height="2" fill="#2030e0"/><rect x="736.4" y="691.4" width="1.6" height="1.6" fill="#3040e0"/><rect x="720.0" y="714.7" width="2.4" height="2.4" fill="#2a50ea"/><rect x="766.4" y="721.2" width="2" height="2" fill="#1f8fd8"/><rect x="754.3" y="698.4" width="2" height="2" fill="#2030e0"/><rect x="781.7" y="714.1" width="1.8" height="1.8" fill="#b8b8f6"/><rect x="754.7" y="694.6" width="1.6" height="1.6" fill="#1f8fd8"/><rect x="775.5" y="731.6" width="1.8" height="1.8" fill="#8a8af0"/><rect x="761.1" y="688.2" width="2" height="2" fill="#1818d8"/><rect x="778.8" y="666.9" width="1.2" height="1.2" fill="#dcdcfa"/><rect x="712.4" y="716.1" width="2" height="2" fill="#20b0d0"/><rect x="808.2" y="709.1" width="1.4" height="1.4" fill="#d2d2f8"/><rect x="749.9" y="753.0" width="1.2" height="1.2" fill="#2525dd"/><rect x="777.7" y="726.6" width="1.5" height="1.5" fill="#5a5ae8"/><rect x="776.7" y="710.4" width="2.4" height="2.4" fill="#20b0d0"/><rect x="704.2" y="714.9" width="1.5" height="1.5" fill="#2525dd"/><rect x="765.3" y="683.1" width="1.5" height="1.5" fill="#2525dd"/><rect x="766.7" y="727.0" width="2" height="2" fill="#20b0d0"/><rect x="762.8" y="691.0" width="2" height="2" fill="#2030e0"/><rect x="766.3" y="732.2" width="2.4" height="2.4" fill="#3040e0"/><rect x="772.7" y="743.6" width="1.8" height="1.8" fill="#9aa8f4"/><rect x="705.1" y="740.2" width="1.2" height="1.2" fill="#b8b8f6"/><rect x="702.1" y="752.7" width="1.2" height="1.2" fill="#b4b4f2"/><rect x="709.1" y="743.9" width="1.8" height="1.8" fill="#9aa8f4"/><rect x="753.3" y="664.7" width="1.4" height="1.4" fill="#dcdcfa"/><rect x="772.6" y="716.7" width="2" height="2" fill="#3040e0"/><rect x="747.1" y="735.7" width="1.6" height="1.6" fill="#3040e0"/><rect x="726.6" y="736.6" width="2" height="2" fill="#1818d8"/><rect x="718.2" y="728.2" width="2" height="2" fill="#1818d8"/><rect x="792.4" y="749.7" width="1.4" height="1.4" fill="#dcdcfa"/><rect x="812.1" y="718.9" width="1" height="1" fill="#c4c4f6"/><rect x="761.8" y="686.4" width="2" height="2" fill="#3040e0"/><rect x="707.1" y="690.1" width="1.8" height="1.8" fill="#2525dd"/><rect x="804.4" y="723.1" width="1" height="1" fill="#b4b4f2"/><rect x="714.2" y="723.9" width="2.4" height="2.4" fill="#2030e0"/><rect x="740.0" y="735.5" width="2" height="2" fill="#2a50ea"/><rect x="695.8" y="709.1" width="1.8" height="1.8" fill="#b8b8f6"/><rect x="708.4" y="705.3" width="2" height="2" fill="#2030e0"/><rect x="714.1" y="725.0" width="2.4" height="2.4" fill="#20b0d0"/><rect x="722.8" y="720.3" width="2" height="2" fill="#2030e0"/><rect x="752.7" y="737.6" width="2.4" height="2.4" fill="#1f8fd8"/><rect x="766.2" y="710.5" width="2" height="2" fill="#2030e0"/><rect x="714.6" y="709.0" width="2" height="2" fill="#2a50ea"/><rect x="737.4" y="750.9" width="1.8" height="1.8" fill="#5a5ae8"/><rect x="791.7" y="722.8" width="1.8" height="1.8" fill="#9aa8f4"/><rect x="767.0" y="717.2" width="2" height="2" fill="#1f8fd8"/><rect x="762.2" y="765.5" width="1.2" height="1.2" fill="#d2d2f8"/><rect x="734.1" y="732.4" width="2" height="2" fill="#3040e0"/><rect x="702.3" y="691.1" width="1.2" height="1.2" fill="#b8b8f6"/><rect x="733.9" y="677.9" width="1.5" height="1.5" fill="#9aa8f4"/><rect x="745.6" y="678.3" width="1.5" height="1.5" fill="#5a5ae8"/><rect x="741.2" y="683.8" width="2.4" height="2.4" fill="#1f8fd8"/><rect x="773.0" y="701.0" width="2" height="2" fill="#1f8fd8"/><rect x="762.7" y="687.6" width="2.4" height="2.4" fill="#1f8fd8"/><rect x="732.9" y="697.5" width="2" height="2" fill="#2a50ea"/><rect x="728.6" y="737.3" width="2.4" height="2.4" fill="#20b0d0"/><rect x="729.5" y="647.8" width="1.2" height="1.2" fill="#dcdcfa"/><rect x="738.1" y="740.2" width="2.4" height="2.4" fill="#2030e0"/><rect x="711.8" y="705.0" width="2" height="2" fill="#1818d8"/><rect x="728.4" y="754.0" width="1.5" height="1.5" fill="#5a5ae8"/><rect x="754.2" y="733.6" width="1.6" height="1.6" fill="#1818d8"/><rect x="774.8" y="715.9" width="2" height="2" fill="#1f8fd8"/><rect x="777.1" y="688.5" width="1.8" height="1.8" fill="#b8b8f6"/><rect x="772.7" y="707.5" width="2.4" height="2.4" fill="#20b0d0"/><rect x="727.5" y="729.2" width="2" height="2" fill="#20b0d0"/><rect x="721.0" y="731.1" width="2" height="2" fill="#3040e0"/><rect x="782.6" y="666.5" width="1.2" height="1.2" fill="#dcdcfa"/><rect x="712.9" y="729.8" width="2" height="2" fill="#20b0d0"/><rect x="722.5" y="682.1" width="1.2" height="1.2" fill="#2525dd"/><rect x="730.5" y="731.4" width="2" height="2" fill="#1818d8"/><rect x="769.1" y="687.4" width="1.5" height="1.5" fill="#b8b8f6"/><rect x="719.2" y="697.2" width="2" height="2" fill="#20b0d0"/><rect x="762.2" y="738.3" width="1.6" height="1.6" fill="#20b0d0"/><rect x="705.3" y="776.4" width="1.4" height="1.4" fill="#c4c4f6"/><rect x="709.8" y="739.6" width="1.8" height="1.8" fill="#8a8af0"/><rect x="734.0" y="755.0" width="1.2" height="1.2" fill="#b8b8f6"/><rect x="711.8" y="718.9" width="2" height="2" fill="#2a50ea"/><rect x="718.6" y="706.9" width="2" height="2" fill="#1818d8"/><rect x="771.4" y="739.4" width="1.2" height="1.2" fill="#2525dd"/><rect x="696.6" y="715.3" width="1.5" height="1.5" fill="#b8b8f6"/><rect x="785.6" y="708.5" width="1.2" height="1.2" fill="#8a8af0"/><rect x="734.6" y="694.1" width="1.6" height="1.6" fill="#2030e0"/><rect x="766.9" y="692.0" width="2" height="2" fill="#2a50ea"/><rect x="721.1" y="723.7" width="2" height="2" fill="#1818d8"/><rect x="764.9" y="690.4" width="2.4" height="2.4" fill="#1818d8"/><rect x="792.7" y="706.0" width="1.5" height="1.5" fill="#9aa8f4"/><rect x="728.1" y="724.0" width="1.6" height="1.6" fill="#1f8fd8"/><rect x="747.9" y="734.3" width="2" height="2" fill="#3040e0"/><rect x="723.7" y="728.0" width="2.4" height="2.4" fill="#3040e0"/><rect x="793.2" y="710.5" width="1.2" height="1.2" fill="#2525dd"/><rect x="757.9" y="729.5" width="2" height="2" fill="#1818d8"/><rect x="726.6" y="728.8" width="2.4" height="2.4" fill="#2a50ea"/><rect x="729.4" y="743.2" width="2.4" height="2.4" fill="#1818d8"/><rect x="750.3" y="693.2" width="2.4" height="2.4" fill="#2030e0"/><rect x="753.2" y="728.2" width="2.4" height="2.4" fill="#2030e0"/><rect x="779.7" y="713.7" width="2" height="2" fill="#2a50ea"/><rect x="757.8" y="736.8" width="2.4" height="2.4" fill="#2030e0"/><rect x="701.5" y="728.5" width="1.2" height="1.2" fill="#5a5ae8"/><rect x="717.3" y="735.2" width="2" height="2" fill="#20b0d0"/><rect x="739.0" y="738.0" width="2" height="2" fill="#2030e0"/><rect x="761.8" y="683.7" width="2" height="2" fill="#3040e0"/><rect x="718.8" y="703.6" width="2" height="2" fill="#2a50ea"/><rect x="721.3" y="731.9" width="1.6" height="1.6" fill="#2030e0"/><rect x="762.0" y="680.4" width="1.2" height="1.2" fill="#9aa8f4"/><rect x="721.4" y="692.6" width="1.6" height="1.6" fill="#2a50ea"/><rect x="770.9" y="747.2" width="1.2" height="1.2" fill="#8a8af0"/><rect x="720.1" y="709.0" width="2" height="2" fill="#20b0d0"/><rect x="762.5" y="742.9" width="1.2" height="1.2" fill="#2525dd"/><rect x="738.9" y="753.7" width="1.5" height="1.5" fill="#9aa8f4"/><rect x="719.5" y="751.0" width="1.8" height="1.8" fill="#9aa8f4"/><rect x="774.1" y="677.7" width="1.5" height="1.5" fill="#5a5ae8"/><rect x="756.8" y="729.7" width="2" height="2" fill="#3040e0"/><rect x="731.1" y="691.3" width="2" height="2" fill="#1f8fd8"/><rect x="740.9" y="730.5" width="2" height="2" fill="#20b0d0"/><rect x="752.8" y="729.3" width="1.6" height="1.6" fill="#1f8fd8"/><rect x="708.4" y="708.9" width="2" height="2" fill="#2030e0"/><rect x="705.1" y="704.6" width="1.5" height="1.5" fill="#8a8af0"/><rect x="723.1" y="690.9" width="1.6" height="1.6" fill="#1818d8"/><rect x="758.8" y="676.8" width="1.2" height="1.2" fill="#8a8af0"/><rect x="762.5" y="688.6" width="1.6" height="1.6" fill="#3040e0"/><rect x="778.8" y="701.2" width="1.5" height="1.5" fill="#2525dd"/><rect x="764.7" y="757.2" width="1.2" height="1.2" fill="#c4c4f6"/><rect x="731.0" y="694.1" width="2" height="2" fill="#3040e0"/><rect x="766.1" y="701.2" width="2.4" height="2.4" fill="#2a50ea"/><rect x="705.7" y="717.7" width="1.5" height="1.5" fill="#5a5ae8"/><rect x="714.3" y="679.8" width="1.5" height="1.5" fill="#5a5ae8"/><rect x="723.3" y="677.8" width="1.2" height="1.2" fill="#8a8af0"/><rect x="677.8" y="707.5" width="1.4" height="1.4" fill="#d2d2f8"/><rect x="748.7" y="769.4" width="1.2" height="1.2" fill="#d2d2f8"/><rect x="727.9" y="691.9" width="2" height="2" fill="#1f8fd8"/><rect x="714.3" y="691.3" width="1.8" height="1.8" fill="#5a5ae8"/><rect x="766.7" y="731.2" width="1.6" height="1.6" fill="#2a50ea"/><rect x="701.3" y="709.1" width="1.8" height="1.8" fill="#5a5ae8"/><rect x="721.9" y="690.6" width="2.4" height="2.4" fill="#1f8fd8"/><rect x="740.8" y="733.9" width="1.6" height="1.6" fill="#2030e0"/><rect x="762.7" y="716.2" width="1.6" height="1.6" fill="#2030e0"/><rect x="731.0" y="691.9" width="2" height="2" fill="#1818d8"/><rect x="734.3" y="736.9" width="2" height="2" fill="#2a50ea"/><rect x="820.3" y="704.1" width="1" height="1" fill="#dcdcfa"/><rect x="739.2" y="693.6" width="2" height="2" fill="#3040e0"/><rect x="767.9" y="725.0" width="2.4" height="2.4" fill="#1f8fd8"/><rect x="758.8" y="736.2" width="2" height="2" fill="#1818d8"/><rect x="771.3" y="692.4" width="2" height="2" fill="#3040e0"/><rect x="707.7" y="761.4" width="1" height="1" fill="#d2d2f8"/><rect x="746.0" y="671.4" width="1.5" height="1.5" fill="#b8b8f6"/><rect x="721.0" y="739.1" width="2" height="2" fill="#2a50ea"/><rect x="780.6" y="685.8" width="1.2" height="1.2" fill="#8a8af0"/><rect x="752.9" y="663.6" width="1" height="1" fill="#dcdcfa"/><rect x="768.5" y="699.6" width="2" height="2" fill="#1f8fd8"/><rect x="776.3" y="706.3" width="1.6" height="1.6" fill="#3040e0"/><rect x="769.8" y="732.6" width="1.6" height="1.6" fill="#1f8fd8"/><rect x="789.6" y="699.1" width="1.2" height="1.2" fill="#9aa8f4"/><rect x="751.3" y="732.7" width="2.4" height="2.4" fill="#1818d8"/><rect x="781.5" y="718.2" width="1.2" height="1.2" fill="#8a8af0"/><rect x="711.3" y="731.0" width="2" height="2" fill="#2030e0"/>
<g filter="url(#rough)">
<ellipse cx="743" cy="708" rx="36.5" ry="28" fill="#2a4ce4" transform="rotate(-8 743 708)"/>
<ellipse cx="743" cy="707.5" rx="34" ry="25.5" fill="#18b4d4" transform="rotate(-8 743 707.5)"/>
<ellipse cx="743" cy="707" rx="31.5" ry="23" fill="#22b04a" transform="rotate(-8 743 707)"/>
<ellipse cx="753" cy="705.5" rx="19.5" ry="19.5" fill="#e6ee18" transform="rotate(-30 753 705.5)"/>
<ellipse cx="723.5" cy="707" rx="14.5" ry="16" fill="#e6ee18" transform="rotate(0 723.5 707)"/>
<ellipse cx="738" cy="707" rx="10" ry="12" fill="#9ad420" transform="rotate(0 738 707)"/>
<ellipse cx="753" cy="705.5" rx="16.5" ry="17" fill="#ffb400" transform="rotate(-30 753 705.5)"/>
<ellipse cx="723" cy="707" rx="10" ry="11.5" fill="#ffb400" transform="rotate(0 723 707)"/>
<ellipse cx="753" cy="705" rx="13.5" ry="15" fill="#ff5a08" transform="rotate(-35 753 705)"/>
<ellipse cx="721.5" cy="707.5" rx="6" ry="7" fill="#ff7a08" transform="rotate(0 721.5 707.5)"/>
<ellipse cx="753" cy="705" rx="11" ry="13.5" fill="#ff1a08" transform="rotate(-35 753 705)"/>
</g>
<line x1="739.46" y1="598.16" x2="739.46" y2="853.95" stroke="#000" stroke-width="2.4" />
<line x1="632.31" y1="690.68" x2="900" y2="690.68" stroke="#000" stroke-width="2.4" />
<text x="924.83" y="505.13" font-size="23.76"><tspan font-style="italic">Id1</tspan><tspan font-style="italic" font-size="19.96" dy="-9.5">f/f</tspan></text>
<text x="920.41" y="533.36" font-size="22.56"><tspan font-style="italic">Id1</tspan><tspan font-style="italic" font-size="18.95" dy="-9.03">Lyz-KO</tspan></text>
<line x1="1030.27" y1="478.1" x2="1030.27" y2="526.73" stroke="#000" stroke-width="3" />
<text x="1035.37" y="512.61" font-size="23.87">TAMs</text>
<text x="979.25" y="634.38" font-size="23.59">MC38</text>
<path d="M946.51 565.04 V598.42 A62.19 11.65 0 0 0 1070.9 598.42 V565.04 A62.19 11.18 0 0 1 946.51 565.04 Z" fill="#fde8cc" />
<ellipse cx="1008.71" cy="598.42" rx="62.19" ry="11.65" fill="#fbe4e1" stroke="#000" stroke-width="2.3" />
<ellipse cx="972.81" cy="597.65" rx="9.45" ry="3.42" fill="#a6376f" opacity="0.8" transform="rotate(3.1 972.81 597.65)"/>
<ellipse cx="990.13" cy="592.21" rx="9.45" ry="3.42" fill="#a6376f" opacity="0.8" transform="rotate(7.39 990.13 592.21)"/>
<ellipse cx="988.55" cy="601.53" rx="9.45" ry="3.42" fill="#a6376f" opacity="0.8" transform="rotate(21.97 988.55 601.53)"/>
<ellipse cx="1010.59" cy="593.76" rx="9.45" ry="3.42" fill="#a6376f" opacity="0.8" transform="rotate(3.63 1010.59 593.76)"/>
<ellipse cx="1012.17" cy="603.08" rx="9.45" ry="3.42" fill="#a6376f" opacity="0.8" transform="rotate(5.31 1012.17 603.08)"/>
<ellipse cx="1031.06" cy="596.09" rx="9.45" ry="3.42" fill="#a6376f" opacity="0.8" transform="rotate(8.5 1031.06 596.09)"/>
<ellipse cx="1042.09" cy="594.54" rx="9.45" ry="3.42" fill="#a6376f" opacity="0.8" transform="rotate(-7.61 1042.09 594.54)"/>
<ellipse cx="1001.15" cy="598.42" rx="9.45" ry="3.42" fill="#a6376f" opacity="0.8" transform="rotate(5.48 1001.15 598.42)"/>
<ellipse cx="1023.19" cy="600.75" rx="9.45" ry="3.42" fill="#a6376f" opacity="0.8" transform="rotate(10.2 1023.19 600.75)"/>
<ellipse cx="979.1" cy="592.99" rx="9.45" ry="3.42" fill="#a6376f" opacity="0.8" transform="rotate(16.72 979.1 592.99)"/>
<ellipse cx="1049.96" cy="598.42" rx="9.45" ry="3.42" fill="#a6376f" opacity="0.8" transform="rotate(-11.24 1049.96 598.42)"/>
<ellipse cx="1008.71" cy="565.04" rx="62.19" ry="11.18" fill="#fff" stroke="#000" stroke-width="2.3" />
<path d="M946.51 565.04 V598.42 A62.19 11.65 0 0 0 1070.9 598.42 V565.04" fill="none" stroke="#000" stroke-width="2.3" />
<path d="M946.51 565.04 A62.19 11.18 0 0 0 1070.9 565.04 V580.56 A62.19 11.18 0 0 1 946.51 580.56 Z" fill="#fde8cc" opacity="0.9"/>
<path d="M946.51 565.04 A62.19 11.18 0 0 0 1070.9 565.04" fill="none" stroke="#000" stroke-width="2.3" />
<ellipse cx="1010.59" cy="575.91" rx="44.09" ry="11.18" fill="#d3e9f5" stroke="#2a3192" stroke-width="3.3" />
<rect x="964.93" y="563.48" width="91.64" height="12.42" fill="#fff" opacity="0"/>
<circle cx="984.61" cy="576.68" r="3.94" fill="#dcdcdc" stroke="#e8211c" stroke-width="3" />
<circle cx="993.27" cy="576.22" r="3.94" fill="#dcdcdc" stroke="#e8211c" stroke-width="3" />
<circle cx="999.57" cy="569.7" r="3.94" fill="#dcdcdc" stroke="#e8211c" stroke-width="3" />
<circle cx="1011.38" cy="568.45" r="3.94" fill="#dcdcdc" stroke="#e8211c" stroke-width="3" />
<circle cx="1024.77" cy="569.7" r="3.94" fill="#dcdcdc" stroke="#e8211c" stroke-width="3" />
<circle cx="1007.45" cy="579.01" r="3.94" fill="#dcdcdc" stroke="#e8211c" stroke-width="3" />
<circle cx="1021.62" cy="578.7" r="3.94" fill="#dcdcdc" stroke="#e8211c" stroke-width="3" />
<circle cx="1035" cy="573.11" r="3.94" fill="#dcdcdc" stroke="#e8211c" stroke-width="3" />
<circle cx="1043.66" cy="573.58" r="3.94" fill="#dcdcdc" stroke="#e8211c" stroke-width="3" />
<line x1="966.51" y1="538.64" x2="966.51" y2="576.68" stroke="#2a3192" stroke-width="3.3" />
<line x1="1055" y1="538.64" x2="1055" y2="576.68" stroke="#2a3192" stroke-width="3.3" />
<line x1="949.66" y1="538.64" x2="968.87" y2="538.64" stroke="#2a3192" stroke-width="3.3" />
<line x1="1052.79" y1="538.64" x2="1072.79" y2="538.64" stroke="#2a3192" stroke-width="3.3" />
<line x1="982.65" y1="680.48" x2="982.65" y2="856.61" stroke="#000" stroke-width="3" />
<line x1="974.15" y1="855.31" x2="1098.3" y2="855.31" stroke="#000" stroke-width="3" />
<line x1="974.15" y1="682.18" x2="982.65" y2="682.18" stroke="#000" stroke-width="2.8" />
<text x="970.07" y="688.78" font-size="24" text-anchor="end">80</text>
<line x1="974.15" y1="725.03" x2="982.65" y2="725.03" stroke="#000" stroke-width="2.8" />
<text x="970.07" y="733.63" font-size="24" text-anchor="end">60</text>
<line x1="974.15" y1="768.23" x2="982.65" y2="768.23" stroke="#000" stroke-width="2.8" />
<text x="970.07" y="776.83" font-size="24" text-anchor="end">40</text>
<line x1="974.15" y1="811.43" x2="982.65" y2="811.43" stroke="#000" stroke-width="2.8" />
<text x="970.07" y="820.03" font-size="24" text-anchor="end">20</text>
<line x1="974.15" y1="854.97" x2="982.65" y2="854.97" stroke="#000" stroke-width="2.8" />
<text x="970.07" y="863.57" font-size="24" text-anchor="end">0</text>
<line x1="1014.97" y1="855.31" x2="1014.97" y2="862.79" stroke="#000" stroke-width="2.8" />
<line x1="1064.97" y1="855.31" x2="1064.97" y2="862.79" stroke="#000" stroke-width="2.8" />
<text x="986.73" y="699.68" font-size="23"><tspan font-style="italic">P</tspan><tspan> &lt; 0.0001</tspan></text>
<line x1="1015.65" y1="705.31" x2="1061.56" y2="705.31" stroke="#231815" stroke-width="3" />
<path d="M999.56 855.31 V730.72 H1031.05 V855.31" fill="none" stroke="#ff2d0f" stroke-width="3.2" stroke-linejoin="miter"/>
<path d="M1048.88 855.31 V844.66 H1080.71 V855.31" fill="none" stroke="#0e9496" stroke-width="3.2" stroke-linejoin="miter"/>
<line x1="1015.65" y1="727.41" x2="1015.65" y2="731.84" stroke="#ff2d0f" stroke-width="2.8" />
<line x1="1010.54" y1="727.41" x2="1020.75" y2="727.41" stroke="#ff2d0f" stroke-width="2.8" />
<line x1="1010.54" y1="731.84" x2="1020.75" y2="731.84" stroke="#ff2d0f" stroke-width="2.8" />
<circle cx="1015.65" cy="724.01" r="4.7" fill="none" stroke="#ff2d0f" stroke-width="3.1" />
<circle cx="1008.16" cy="733.2" r="4.7" fill="none" stroke="#ff2d0f" stroke-width="3.1" />
<circle cx="1023.47" cy="730.82" r="4.7" fill="none" stroke="#ff2d0f" stroke-width="3.1" />
<circle cx="1052.38" cy="845.78" r="4.7" fill="none" stroke="#0e9496" stroke-width="3.1" />
<circle cx="1064.97" cy="843.74" r="4.7" fill="none" stroke="#0e9496" stroke-width="3.1" />
<circle cx="1077.21" cy="845.78" r="4.7" fill="none" stroke="#0e9496" stroke-width="3.1" />
<text x="935.53" y="869.45" font-size="24.3" transform="rotate(-90 935.53 869.45)"><tspan>CD44</tspan><tspan font-size="18.23" dy="-9.23">high</tspan><tspan dy="9.23"> Aldh</tspan><tspan font-size="14.58" dy="-8.75">+</tspan><tspan dy="8.75"> ratio</tspan></text>
<text x="994.56" y="887.78" font-size="23.43"><tspan font-style="italic">Id1</tspan><tspan font-style="italic" font-size="19.68" dy="-9.37">f/f</tspan></text>
<text x="1046.26" y="887.78" font-size="22.56"><tspan font-style="italic">Id1</tspan><tspan font-style="italic" font-size="18.95" dy="-9.03">Lyz-KO</tspan></text>
</g>
<g id="p-f">
<text transform="translate(1136.39 528.26) scale(1 1)" font-size="57" font-weight="bold">f</text>
<text x="1325.31" y="466.8" font-size="23.77">Tumor sphere</text>
<text x="1216.9" y="859.52" font-size="24" transform="rotate(-90 1216.9 859.52)">CM from TAMs of CRC patients</text>
<line x1="1231.79" y1="588.54" x2="1231.79" y2="795.57" stroke="#231815" stroke-width="3" />
<text x="1260.33" y="605.86" font-size="22.5" transform="rotate(-90 1260.33 605.86)" font-style="italic">Ctrl</text>
<text x="1260.33" y="820.09" font-size="22" transform="rotate(-90 1260.33 820.09)"><tspan font-style="italic">ID1</tspan><tspan font-style="italic" font-size="18.48" dy="-8.8">KD</tspan></text>
<text x="1349.82" y="908.58" font-size="24.09">HCT116</text>
<rect x="1271.22" y="479.83" width="257.93" height="193.98" fill="url(#mg1)" />
<g clip-path="url(#mc1)">
<circle cx="1313.8" cy="613.6" r="1.7" fill="#eaeaea" stroke="#cfcfcf" stroke-width="0.7"/><circle cx="1435.0" cy="572.8" r="1.7" fill="#eaeaea" stroke="#cfcfcf" stroke-width="0.7"/><circle cx="1326.9" cy="633.6" r="1.7" fill="#eaeaea" stroke="#cfcfcf" stroke-width="0.7"/><circle cx="1479.6" cy="579.2" r="1.7" fill="#eaeaea" stroke="#cfcfcf" stroke-width="0.7"/><circle cx="1401.5" cy="525.6" r="1.7" fill="#eaeaea" stroke="#cfcfcf" stroke-width="0.7"/><circle cx="1272.0" cy="551.8" r="1.7" fill="#eaeaea" stroke="#cfcfcf" stroke-width="0.7"/><circle cx="1422.2" cy="493.3" r="1.7" fill="#eaeaea" stroke="#cfcfcf" stroke-width="0.7"/><circle cx="1476.0" cy="524.9" r="1.7" fill="#eaeaea" stroke="#cfcfcf" stroke-width="0.7"/><circle cx="1331.2" cy="488.0" r="1.7" fill="#eaeaea" stroke="#cfcfcf" stroke-width="0.7"/><circle cx="1528.5" cy="623.1" r="1.7" fill="#eaeaea" stroke="#cfcfcf" stroke-width="0.7"/><circle cx="1496.9" cy="599.3" r="1.7" fill="#eaeaea" stroke="#cfcfcf" stroke-width="0.7"/><circle cx="1280.0" cy="543.6" r="1.7" fill="#eaeaea" stroke="#cfcfcf" stroke-width="0.7"/><circle cx="1399.6" cy="502.3" r="1.7" fill="#eaeaea" stroke="#cfcfcf" stroke-width="0.7"/><circle cx="1516.8" cy="551.3" r="1.7" fill="#eaeaea" stroke="#cfcfcf" stroke-width="0.7"/><circle cx="1311.2" cy="638.4" r="1.7" fill="#eaeaea" stroke="#cfcfcf" stroke-width="0.7"/><circle cx="1303.4" cy="659.8" r="1.7" fill="#eaeaea" stroke="#cfcfcf" stroke-width="0.7"/><circle cx="1388.1" cy="586.9" r="1.7" fill="#eaeaea" stroke="#cfcfcf" stroke-width="0.7"/><circle cx="1359.7" cy="573.8" r="1.7" fill="#eaeaea" stroke="#cfcfcf" stroke-width="0.7"/><circle cx="1319.4" cy="487.0" r="1.7" fill="#eaeaea" stroke="#cfcfcf" stroke-width="0.7"/><circle cx="1494.6" cy="525.4" r="1.7" fill="#eaeaea" stroke="#cfcfcf" stroke-width="0.7"/><circle cx="1472.5" cy="520.3" r="1.7" fill="#eaeaea" stroke="#cfcfcf" stroke-width="0.7"/><circle cx="1521.1" cy="653.2" r="1.7" fill="#eaeaea" stroke="#cfcfcf" stroke-width="0.7"/><circle cx="1465.9" cy="627.8" r="1.7" fill="#eaeaea" stroke="#cfcfcf" stroke-width="0.7"/><circle cx="1421.0" cy="621.4" r="1.7" fill="#eaeaea" stroke="#cfcfcf" stroke-width="0.7"/><circle cx="1302.8" cy="572.2" r="1.7" fill="#eaeaea" stroke="#cfcfcf" stroke-width="0.7"/><circle cx="1484.5" cy="518.8" r="1.7" fill="#eaeaea" stroke="#cfcfcf" stroke-width="0.7"/><circle cx="1509.3" cy="652.0" r="1.7" fill="#eaeaea" stroke="#cfcfcf" stroke-width="0.7"/><circle cx="1376.9" cy="550.7" r="1.7" fill="#eaeaea" stroke="#cfcfcf" stroke-width="0.7"/><circle cx="1387.6" cy="554.7" r="1.7" fill="#eaeaea" stroke="#cfcfcf" stroke-width="0.7"/><circle cx="1527.8" cy="554.8" r="1.7" fill="#eaeaea" stroke="#cfcfcf" stroke-width="0.7"/><circle cx="1278.1" cy="497.9" r="1.7" fill="#eaeaea" stroke="#cfcfcf" stroke-width="0.7"/><circle cx="1456.4" cy="672.4" r="1.7" fill="#eaeaea" stroke="#cfcfcf" stroke-width="0.7"/><circle cx="1399.2" cy="575.2" r="1.7" fill="#eaeaea" stroke="#cfcfcf" stroke-width="0.7"/><circle cx="1413.2" cy="625.0" r="1.7" fill="#eaeaea" stroke="#cfcfcf" stroke-width="0.7"/><circle cx="1328.5" cy="597.9" r="1.7" fill="#eaeaea" stroke="#cfcfcf" stroke-width="0.7"/><circle cx="1414.8" cy="600.6" r="1.7" fill="#eaeaea" stroke="#cfcfcf" stroke-width="0.7"/><circle cx="1317.8" cy="512.8" r="1.7" fill="#eaeaea" stroke="#cfcfcf" stroke-width="0.7"/><circle cx="1361.0" cy="659.7" r="1.7" fill="#eaeaea" stroke="#cfcfcf" stroke-width="0.7"/><circle cx="1360.6" cy="595.7" r="1.7" fill="#eaeaea" stroke="#cfcfcf" stroke-width="0.7"/><circle cx="1350.3" cy="499.9" r="1.7" fill="#eaeaea" stroke="#cfcfcf" stroke-width="0.7"/><circle cx="1288.2" cy="637.7" r="1.7" fill="#eaeaea" stroke="#cfcfcf" stroke-width="0.7"/><circle cx="1471.6" cy="552.5" r="1.7" fill="#eaeaea" stroke="#cfcfcf" stroke-width="0.7"/><circle cx="1447.5" cy="610.9" r="1.7" fill="#eaeaea" stroke="#cfcfcf" stroke-width="0.7"/><circle cx="1503.0" cy="665.7" r="1.7" fill="#eaeaea" stroke="#cfcfcf" stroke-width="0.7"/><circle cx="1376.2" cy="671.7" r="1.7" fill="#eaeaea" stroke="#cfcfcf" stroke-width="0.7"/><circle cx="1519.2" cy="594.4" r="1.7" fill="#eaeaea" stroke="#cfcfcf" stroke-width="0.7"/><circle cx="1499.0" cy="575.1" r="1.7" fill="#eaeaea" stroke="#cfcfcf" stroke-width="0.7"/><circle cx="1368.1" cy="527.8" r="1.7" fill="#eaeaea" stroke="#cfcfcf" stroke-width="0.7"/><circle cx="1497.2" cy="511.3" r="1.7" fill="#eaeaea" stroke="#cfcfcf" stroke-width="0.7"/><circle cx="1289.1" cy="636.0" r="1.7" fill="#eaeaea" stroke="#cfcfcf" stroke-width="0.7"/><circle cx="1470.8" cy="573.6" r="1.7" fill="#eaeaea" stroke="#cfcfcf" stroke-width="0.7"/><circle cx="1487.1" cy="489.9" r="1.7" fill="#eaeaea" stroke="#cfcfcf" stroke-width="0.7"/><circle cx="1337.8" cy="536.1" r="1.7" fill="#eaeaea" stroke="#cfcfcf" stroke-width="0.7"/><circle cx="1379.4" cy="512.9" r="1.7" fill="#eaeaea" stroke="#cfcfcf" stroke-width="0.7"/><circle cx="1289.1" cy="545.4" r="1.7" fill="#eaeaea" stroke="#cfcfcf" stroke-width="0.7"/><circle cx="1503.1" cy="670.6" r="1.7" fill="#eaeaea" stroke="#cfcfcf" stroke-width="0.7"/><circle cx="1463.6" cy="572.7" r="1.7" fill="#eaeaea" stroke="#cfcfcf" stroke-width="0.7"/><circle cx="1336.3" cy="665.8" r="1.7" fill="#eaeaea" stroke="#cfcfcf" stroke-width="0.7"/><circle cx="1406.8" cy="621.2" r="1.7" fill="#eaeaea" stroke="#cfcfcf" stroke-width="0.7"/><circle cx="1278.5" cy="521.0" r="1.7" fill="#eaeaea" stroke="#cfcfcf" stroke-width="0.7"/><circle cx="1487.4" cy="634.1" r="1.7" fill="#eaeaea" stroke="#cfcfcf" stroke-width="0.7"/><circle cx="1498.6" cy="596.5" r="1.7" fill="#eaeaea" stroke="#cfcfcf" stroke-width="0.7"/><circle cx="1381.1" cy="592.6" r="1.7" fill="#eaeaea" stroke="#cfcfcf" stroke-width="0.7"/><circle cx="1490.3" cy="539.6" r="1.7" fill="#eaeaea" stroke="#cfcfcf" stroke-width="0.7"/><circle cx="1409.0" cy="533.4" r="1.7" fill="#eaeaea" stroke="#cfcfcf" stroke-width="0.7"/><circle cx="1469.4" cy="481.8" r="1.7" fill="#eaeaea" stroke="#cfcfcf" stroke-width="0.7"/><circle cx="1448.0" cy="664.9" r="1.7" fill="#eaeaea" stroke="#cfcfcf" stroke-width="0.7"/><circle cx="1277.3" cy="595.0" r="1.7" fill="#eaeaea" stroke="#cfcfcf" stroke-width="0.7"/><circle cx="1437.3" cy="645.0" r="1.7" fill="#eaeaea" stroke="#cfcfcf" stroke-width="0.7"/><circle cx="1421.9" cy="529.7" r="1.7" fill="#eaeaea" stroke="#cfcfcf" stroke-width="0.7"/><circle cx="1375.8" cy="665.8" r="1.7" fill="#eaeaea" stroke="#cfcfcf" stroke-width="0.7"/><circle cx="1504.8" cy="505.7" r="1.7" fill="#eaeaea" stroke="#cfcfcf" stroke-width="0.7"/><circle cx="1295.7" cy="498.0" r="1.7" fill="#eaeaea" stroke="#cfcfcf" stroke-width="0.7"/><circle cx="1277.8" cy="566.5" r="1.7" fill="#eaeaea" stroke="#cfcfcf" stroke-width="0.7"/><circle cx="1307.5" cy="648.1" r="1.7" fill="#eaeaea" stroke="#cfcfcf" stroke-width="0.7"/><circle cx="1440.2" cy="504.4" r="1.7" fill="#eaeaea" stroke="#cfcfcf" stroke-width="0.7"/><circle cx="1410.2" cy="542.7" r="1.7" fill="#eaeaea" stroke="#cfcfcf" stroke-width="0.7"/><circle cx="1398.6" cy="522.4" r="1.7" fill="#eaeaea" stroke="#cfcfcf" stroke-width="0.7"/><circle cx="1314.1" cy="515.5" r="1.7" fill="#eaeaea" stroke="#cfcfcf" stroke-width="0.7"/><circle cx="1368.7" cy="617.5" r="1.7" fill="#eaeaea" stroke="#cfcfcf" stroke-width="0.7"/><circle cx="1413.1" cy="488.8" r="1.7" fill="#eaeaea" stroke="#cfcfcf" stroke-width="0.7"/><circle cx="1454.6" cy="649.3" r="1.7" fill="#eaeaea" stroke="#cfcfcf" stroke-width="0.7"/><circle cx="1470.9" cy="633.2" r="1.7" fill="#eaeaea" stroke="#cfcfcf" stroke-width="0.7"/><circle cx="1273.2" cy="569.8" r="1.7" fill="#eaeaea" stroke="#cfcfcf" stroke-width="0.7"/><circle cx="1287.6" cy="628.0" r="1.7" fill="#eaeaea" stroke="#cfcfcf" stroke-width="0.7"/><circle cx="1316.4" cy="617.8" r="1.7" fill="#eaeaea" stroke="#cfcfcf" stroke-width="0.7"/><circle cx="1336.5" cy="615.0" r="1.7" fill="#eaeaea" stroke="#cfcfcf" stroke-width="0.7"/><circle cx="1352.1" cy="488.0" r="1.7" fill="#eaeaea" stroke="#cfcfcf" stroke-width="0.7"/><circle cx="1371.5" cy="539.8" r="1.7" fill="#eaeaea" stroke="#cfcfcf" stroke-width="0.7"/><circle cx="1503.5" cy="537.1" r="1.7" fill="#eaeaea" stroke="#cfcfcf" stroke-width="0.7"/><circle cx="1401.0" cy="586.4" r="1.7" fill="#eaeaea" stroke="#cfcfcf" stroke-width="0.7"/><circle cx="1515.8" cy="498.9" r="1.7" fill="#eaeaea" stroke="#cfcfcf" stroke-width="0.7"/><circle cx="1426.3" cy="578.4" r="1.7" fill="#eaeaea" stroke="#cfcfcf" stroke-width="0.7"/><circle cx="1460.7" cy="667.4" r="1.7" fill="#eaeaea" stroke="#cfcfcf" stroke-width="0.7"/><circle cx="1351.2" cy="615.5" r="1.7" fill="#eaeaea" stroke="#cfcfcf" stroke-width="0.7"/><circle cx="1406.8" cy="588.6" r="1.7" fill="#eaeaea" stroke="#cfcfcf" stroke-width="0.7"/><circle cx="1287.7" cy="637.9" r="1.7" fill="#eaeaea" stroke="#cfcfcf" stroke-width="0.7"/><circle cx="1523.2" cy="548.7" r="1.7" fill="#eaeaea" stroke="#cfcfcf" stroke-width="0.7"/><circle cx="1353.3" cy="672.5" r="1.7" fill="#eaeaea" stroke="#cfcfcf" stroke-width="0.7"/><circle cx="1299.0" cy="494.6" r="1.7" fill="#eaeaea" stroke="#cfcfcf" stroke-width="0.7"/><circle cx="1290.1" cy="637.8" r="1.7" fill="#eaeaea" stroke="#cfcfcf" stroke-width="0.7"/><circle cx="1467.2" cy="566.7" r="1.7" fill="#eaeaea" stroke="#cfcfcf" stroke-width="0.7"/><circle cx="1431.5" cy="483.7" r="1.7" fill="#eaeaea" stroke="#cfcfcf" stroke-width="0.7"/><circle cx="1437.5" cy="565.7" r="1.7" fill="#eaeaea" stroke="#cfcfcf" stroke-width="0.7"/><circle cx="1404.7" cy="555.4" r="1.7" fill="#eaeaea" stroke="#cfcfcf" stroke-width="0.7"/><circle cx="1374.8" cy="523.6" r="1.7" fill="#eaeaea" stroke="#cfcfcf" stroke-width="0.7"/><circle cx="1283.8" cy="564.0" r="1.7" fill="#eaeaea" stroke="#cfcfcf" stroke-width="0.7"/><circle cx="1334.9" cy="616.4" r="1.7" fill="#eaeaea" stroke="#cfcfcf" stroke-width="0.7"/><circle cx="1482.0" cy="620.2" r="1.7" fill="#eaeaea" stroke="#cfcfcf" stroke-width="0.7"/><circle cx="1388.8" cy="525.7" r="1.7" fill="#eaeaea" stroke="#cfcfcf" stroke-width="0.7"/><circle cx="1370.6" cy="574.3" r="1.7" fill="#eaeaea" stroke="#cfcfcf" stroke-width="0.7"/><circle cx="1434.2" cy="666.7" r="1.7" fill="#eaeaea" stroke="#cfcfcf" stroke-width="0.7"/><circle cx="1293.2" cy="572.9" r="1.7" fill="#eaeaea" stroke="#cfcfcf" stroke-width="0.7"/><circle cx="1398.1" cy="618.9" r="1.7" fill="#eaeaea" stroke="#cfcfcf" stroke-width="0.7"/><circle cx="1500.9" cy="631.0" r="1.7" fill="#eaeaea" stroke="#cfcfcf" stroke-width="0.7"/><circle cx="1432.9" cy="627.0" r="1.7" fill="#eaeaea" stroke="#cfcfcf" stroke-width="0.7"/><circle cx="1443.5" cy="646.4" r="1.7" fill="#eaeaea" stroke="#cfcfcf" stroke-width="0.7"/><circle cx="1451.5" cy="612.3" r="1.7" fill="#eaeaea" stroke="#cfcfcf" stroke-width="0.7"/><circle cx="1334.5" cy="657.6" r="1.7" fill="#eaeaea" stroke="#cfcfcf" stroke-width="0.7"/><circle cx="1370.8" cy="599.1" r="1.7" fill="#eaeaea" stroke="#cfcfcf" stroke-width="0.7"/><circle cx="1484.0" cy="666.8" r="1.7" fill="#eaeaea" stroke="#cfcfcf" stroke-width="0.7"/><circle cx="1526.4" cy="481.1" r="1.7" fill="#eaeaea" stroke="#cfcfcf" stroke-width="0.7"/><circle cx="1351.9" cy="540.3" r="1.7" fill="#eaeaea" stroke="#cfcfcf" stroke-width="0.7"/><circle cx="1372.1" cy="508.0" r="1.7" fill="#eaeaea" stroke="#cfcfcf" stroke-width="0.7"/><circle cx="1413.9" cy="495.3" r="1.7" fill="#eaeaea" stroke="#cfcfcf" stroke-width="0.7"/><circle cx="1349.3" cy="662.8" r="1.7" fill="#eaeaea" stroke="#cfcfcf" stroke-width="0.7"/><circle cx="1462.7" cy="569.5" r="1.7" fill="#eaeaea" stroke="#cfcfcf" stroke-width="0.7"/><circle cx="1299.1" cy="665.3" r="1.7" fill="#eaeaea" stroke="#cfcfcf" stroke-width="0.7"/><circle cx="1452.8" cy="519.8" r="1.7" fill="#eaeaea" stroke="#cfcfcf" stroke-width="0.7"/><circle cx="1357.7" cy="604.3" r="1.7" fill="#eaeaea" stroke="#cfcfcf" stroke-width="0.7"/><circle cx="1447.0" cy="530.4" r="1.7" fill="#eaeaea" stroke="#cfcfcf" stroke-width="0.7"/><circle cx="1516.6" cy="542.3" r="1.7" fill="#eaeaea" stroke="#cfcfcf" stroke-width="0.7"/><circle cx="1336.8" cy="643.8" r="1.7" fill="#eaeaea" stroke="#cfcfcf" stroke-width="0.7"/><circle cx="1310.8" cy="612.0" r="1.7" fill="#eaeaea" stroke="#cfcfcf" stroke-width="0.7"/><circle cx="1322.8" cy="595.8" r="1.7" fill="#eaeaea" stroke="#cfcfcf" stroke-width="0.7"/><circle cx="1342.8" cy="553.3" r="1.7" fill="#eaeaea" stroke="#cfcfcf" stroke-width="0.7"/><circle cx="1513.9" cy="570.4" r="1.7" fill="#eaeaea" stroke="#cfcfcf" stroke-width="0.7"/><circle cx="1383.9" cy="599.5" r="1.7" fill="#eaeaea" stroke="#cfcfcf" stroke-width="0.7"/><circle cx="1343.6" cy="513.6" r="1.7" fill="#eaeaea" stroke="#cfcfcf" stroke-width="0.7"/><circle cx="1370.4" cy="532.7" r="1.7" fill="#eaeaea" stroke="#cfcfcf" stroke-width="0.7"/><circle cx="1319.8" cy="666.2" r="1.7" fill="#eaeaea" stroke="#cfcfcf" stroke-width="0.7"/><circle cx="1280.1" cy="637.0" r="1.7" fill="#eaeaea" stroke="#cfcfcf" stroke-width="0.7"/><circle cx="1512.3" cy="616.5" r="1.7" fill="#eaeaea" stroke="#cfcfcf" stroke-width="0.7"/><circle cx="1276.1" cy="577.0" r="1.7" fill="#eaeaea" stroke="#cfcfcf" stroke-width="0.7"/><circle cx="1281.3" cy="597.7" r="1.7" fill="#eaeaea" stroke="#cfcfcf" stroke-width="0.7"/><circle cx="1451.9" cy="526.4" r="1.7" fill="#eaeaea" stroke="#cfcfcf" stroke-width="0.7"/><circle cx="1273.2" cy="585.4" r="1.7" fill="#eaeaea" stroke="#cfcfcf" stroke-width="0.7"/><circle cx="1295.6" cy="539.8" r="1.7" fill="#eaeaea" stroke="#cfcfcf" stroke-width="0.7"/><circle cx="1388.3" cy="653.3" r="1.7" fill="#eaeaea" stroke="#cfcfcf" stroke-width="0.7"/><circle cx="1366.7" cy="506.0" r="1.7" fill="#eaeaea" stroke="#cfcfcf" stroke-width="0.7"/><circle cx="1475.4" cy="639.3" r="1.7" fill="#eaeaea" stroke="#cfcfcf" stroke-width="0.7"/><circle cx="1407.8" cy="489.4" r="1.7" fill="#eaeaea" stroke="#cfcfcf" stroke-width="0.7"/><circle cx="1319.6" cy="558.0" r="1.7" fill="#eaeaea" stroke="#cfcfcf" stroke-width="0.7"/><circle cx="1413.6" cy="523.5" r="1.7" fill="#eaeaea" stroke="#cfcfcf" stroke-width="0.7"/><circle cx="1478.2" cy="643.4" r="1.7" fill="#eaeaea" stroke="#cfcfcf" stroke-width="0.7"/><circle cx="1509.8" cy="651.2" r="1.7" fill="#eaeaea" stroke="#cfcfcf" stroke-width="0.7"/><circle cx="1275.8" cy="592.7" r="1.7" fill="#eaeaea" stroke="#cfcfcf" stroke-width="0.7"/><circle cx="1292.0" cy="654.3" r="1.7" fill="#eaeaea" stroke="#cfcfcf" stroke-width="0.7"/><circle cx="1463.9" cy="627.1" r="1.7" fill="#eaeaea" stroke="#cfcfcf" stroke-width="0.7"/><circle cx="1319.8" cy="491.4" r="1.7" fill="#eaeaea" stroke="#cfcfcf" stroke-width="0.7"/><circle cx="1481.5" cy="597.5" r="1.7" fill="#eaeaea" stroke="#cfcfcf" stroke-width="0.7"/><circle cx="1431.2" cy="571.2" r="1.7" fill="#eaeaea" stroke="#cfcfcf" stroke-width="0.7"/><circle cx="1477.6" cy="545.4" r="1.7" fill="#eaeaea" stroke="#cfcfcf" stroke-width="0.7"/><circle cx="1340.8" cy="548.3" r="1.7" fill="#eaeaea" stroke="#cfcfcf" stroke-width="0.7"/><circle cx="1348.1" cy="601.5" r="1.7" fill="#eaeaea" stroke="#cfcfcf" stroke-width="0.7"/><circle cx="1500.8" cy="493.6" r="1.7" fill="#eaeaea" stroke="#cfcfcf" stroke-width="0.7"/><circle cx="1288.7" cy="579.1" r="1.7" fill="#eaeaea" stroke="#cfcfcf" stroke-width="0.7"/><circle cx="1446.1" cy="516.6" r="1.7" fill="#eaeaea" stroke="#cfcfcf" stroke-width="0.7"/><circle cx="1340.8" cy="491.2" r="1.7" fill="#eaeaea" stroke="#cfcfcf" stroke-width="0.7"/><circle cx="1280.8" cy="575.9" r="1.7" fill="#eaeaea" stroke="#cfcfcf" stroke-width="0.7"/><circle cx="1446.8" cy="606.5" r="1.7" fill="#eaeaea" stroke="#cfcfcf" stroke-width="0.7"/><circle cx="1312.0" cy="500.0" r="1.7" fill="#eaeaea" stroke="#cfcfcf" stroke-width="0.7"/><circle cx="1511.3" cy="584.3" r="1.7" fill="#eaeaea" stroke="#cfcfcf" stroke-width="0.7"/><circle cx="1376.6" cy="613.8" r="1.7" fill="#eaeaea" stroke="#cfcfcf" stroke-width="0.7"/><circle cx="1458.9" cy="581.6" r="1.7" fill="#eaeaea" stroke="#cfcfcf" stroke-width="0.7"/><circle cx="1291.4" cy="640.3" r="1.7" fill="#eaeaea" stroke="#cfcfcf" stroke-width="0.7"/><circle cx="1326.3" cy="487.7" r="1.7" fill="#eaeaea" stroke="#cfcfcf" stroke-width="0.7"/><circle cx="1362.1" cy="583.1" r="1.7" fill="#eaeaea" stroke="#cfcfcf" stroke-width="0.7"/><circle cx="1433.3" cy="513.6" r="1.7" fill="#eaeaea" stroke="#cfcfcf" stroke-width="0.7"/><circle cx="1454.3" cy="575.6" r="1.7" fill="#eaeaea" stroke="#cfcfcf" stroke-width="0.7"/><circle cx="1313.0" cy="644.9" r="1.7" fill="#eaeaea" stroke="#cfcfcf" stroke-width="0.7"/><circle cx="1479.3" cy="655.6" r="1.7" fill="#eaeaea" stroke="#cfcfcf" stroke-width="0.7"/><circle cx="1446.5" cy="522.0" r="1.7" fill="#eaeaea" stroke="#cfcfcf" stroke-width="0.7"/><circle cx="1471.8" cy="654.9" r="1.7" fill="#eaeaea" stroke="#cfcfcf" stroke-width="0.7"/><circle cx="1408.8" cy="656.1" r="1.7" fill="#eaeaea" stroke="#cfcfcf" stroke-width="0.7"/><circle cx="1521.5" cy="555.5" r="1.7" fill="#eaeaea" stroke="#cfcfcf" stroke-width="0.7"/><circle cx="1514.1" cy="661.5" r="1.7" fill="#eaeaea" stroke="#cfcfcf" stroke-width="0.7"/><circle cx="1476.0" cy="482.0" r="1.7" fill="#eaeaea" stroke="#cfcfcf" stroke-width="0.7"/><circle cx="1362.0" cy="598.9" r="1.7" fill="#eaeaea" stroke="#cfcfcf" stroke-width="0.7"/><circle cx="1427.8" cy="626.4" r="1.7" fill="#eaeaea" stroke="#cfcfcf" stroke-width="0.7"/><circle cx="1438.1" cy="511.1" r="1.7" fill="#eaeaea" stroke="#cfcfcf" stroke-width="0.7"/><circle cx="1511.3" cy="583.8" r="1.7" fill="#eaeaea" stroke="#cfcfcf" stroke-width="0.7"/><circle cx="1498.6" cy="519.9" r="1.7" fill="#eaeaea" stroke="#cfcfcf" stroke-width="0.7"/><circle cx="1528.6" cy="587.5" r="1.7" fill="#eaeaea" stroke="#cfcfcf" stroke-width="0.7"/><circle cx="1471.3" cy="623.4" r="1.7" fill="#eaeaea" stroke="#cfcfcf" stroke-width="0.7"/><circle cx="1498.9" cy="550.1" r="1.7" fill="#eaeaea" stroke="#cfcfcf" stroke-width="0.7"/><circle cx="1292.6" cy="558.5" r="1.7" fill="#eaeaea" stroke="#cfcfcf" stroke-width="0.7"/><circle cx="1317.2" cy="584.5" r="1.7" fill="#eaeaea" stroke="#cfcfcf" stroke-width="0.7"/><circle cx="1481.4" cy="550.1" r="1.7" fill="#eaeaea" stroke="#cfcfcf" stroke-width="0.7"/><circle cx="1305.0" cy="485.1" r="1.7" fill="#eaeaea" stroke="#cfcfcf" stroke-width="0.7"/><circle cx="1380.3" cy="592.4" r="1.7" fill="#eaeaea" stroke="#cfcfcf" stroke-width="0.7"/><circle cx="1278.0" cy="608.9" r="1.7" fill="#eaeaea" stroke="#cfcfcf" stroke-width="0.7"/><circle cx="1325.6" cy="500.6" r="1.7" fill="#eaeaea" stroke="#cfcfcf" stroke-width="0.7"/><circle cx="1510.5" cy="581.3" r="1.7" fill="#eaeaea" stroke="#cfcfcf" stroke-width="0.7"/><circle cx="1502.1" cy="579.5" r="1.7" fill="#eaeaea" stroke="#cfcfcf" stroke-width="0.7"/><circle cx="1302.9" cy="526.4" r="1.7" fill="#eaeaea" stroke="#cfcfcf" stroke-width="0.7"/><circle cx="1380.6" cy="604.1" r="1.7" fill="#eaeaea" stroke="#cfcfcf" stroke-width="0.7"/><circle cx="1470.1" cy="625.6" r="1.7" fill="#eaeaea" stroke="#cfcfcf" stroke-width="0.7"/><circle cx="1439.1" cy="528.9" r="1.7" fill="#eaeaea" stroke="#cfcfcf" stroke-width="0.7"/><circle cx="1382.2" cy="553.2" r="1.7" fill="#eaeaea" stroke="#cfcfcf" stroke-width="0.7"/><circle cx="1397.5" cy="531.3" r="1.7" fill="#eaeaea" stroke="#cfcfcf" stroke-width="0.7"/><circle cx="1409.9" cy="568.8" r="1.7" fill="#eaeaea" stroke="#cfcfcf" stroke-width="0.7"/><circle cx="1280.4" cy="639.5" r="1.7" fill="#eaeaea" stroke="#cfcfcf" stroke-width="0.7"/><circle cx="1422.5" cy="635.5" r="1.7" fill="#eaeaea" stroke="#cfcfcf" stroke-width="0.7"/><circle cx="1461.2" cy="621.6" r="1.7" fill="#eaeaea" stroke="#cfcfcf" stroke-width="0.7"/><circle cx="1527.5" cy="552.9" r="1.7" fill="#eaeaea" stroke="#cfcfcf" stroke-width="0.7"/><circle cx="1372.7" cy="480.6" r="1.7" fill="#eaeaea" stroke="#cfcfcf" stroke-width="0.7"/><circle cx="1442.6" cy="592.6" r="1.7" fill="#eaeaea" stroke="#cfcfcf" stroke-width="0.7"/><circle cx="1419.9" cy="673.3" r="1.7" fill="#eaeaea" stroke="#cfcfcf" stroke-width="0.7"/><circle cx="1322.0" cy="523.9" r="1.7" fill="#eaeaea" stroke="#cfcfcf" stroke-width="0.7"/><circle cx="1460.6" cy="637.4" r="1.7" fill="#eaeaea" stroke="#cfcfcf" stroke-width="0.7"/><circle cx="1395.8" cy="490.5" r="1.7" fill="#eaeaea" stroke="#cfcfcf" stroke-width="0.7"/><circle cx="1366.8" cy="640.1" r="1.7" fill="#eaeaea" stroke="#cfcfcf" stroke-width="0.7"/><circle cx="1400.1" cy="569.3" r="1.7" fill="#eaeaea" stroke="#cfcfcf" stroke-width="0.7"/><circle cx="1371.7" cy="601.7" r="1.7" fill="#eaeaea" stroke="#cfcfcf" stroke-width="0.7"/><circle cx="1425.6" cy="614.3" r="1.7" fill="#eaeaea" stroke="#cfcfcf" stroke-width="0.7"/><circle cx="1494.4" cy="625.6" r="1.7" fill="#eaeaea" stroke="#cfcfcf" stroke-width="0.7"/><circle cx="1367.9" cy="528.4" r="1.7" fill="#eaeaea" stroke="#cfcfcf" stroke-width="0.7"/><circle cx="1472.9" cy="633.6" r="1.7" fill="#eaeaea" stroke="#cfcfcf" stroke-width="0.7"/><circle cx="1510.6" cy="518.4" r="1.7" fill="#eaeaea" stroke="#cfcfcf" stroke-width="0.7"/>
<g filter="url(#grain)">
<ellipse cx="1396.45" cy="503.27" rx="23.98" ry="23.45" fill="url(#ms1)" stroke="#787878" stroke-width="1.1" transform="rotate(0 1396.45 503.27)"/>
<ellipse cx="1448.41" cy="512.6" rx="21.32" ry="24.51" fill="url(#ms1)" stroke="#787878" stroke-width="1.1" transform="rotate(-20 1448.41 512.6)"/>
<ellipse cx="1431.09" cy="639.17" rx="29.31" ry="26.65" fill="url(#ms1)" stroke="#787878" stroke-width="1.1" transform="rotate(0 1431.09 639.17)"/>
<path d="M1263.23 531.25 C1265 529.7 1267.67 524.06 1273.88 521.93 C1280.1 519.79 1293.2 518.77 1300.53 518.46 C1307.86 518.15 1313.05 518.6 1317.85 520.06 C1322.65 521.53 1327.22 523.61 1329.31 527.26 C1331.39 530.9 1330.95 537.69 1330.37 541.91 C1329.8 546.13 1328.6 549.9 1325.84 552.57 C1323.09 555.23 1318.07 556.65 1313.85 557.9 C1309.63 559.14 1304.08 558.7 1300.53 560.03 C1296.98 561.36 1295.65 564.56 1292.54 565.89 C1289.43 567.22 1285.43 568.47 1281.88 568.02 C1278.33 567.58 1274.33 565.36 1271.22 563.23 C1268.11 561.1 1264.56 560.56 1263.23 555.23 C1261.89 549.9 1263.23 535.25 1263.23 531.25Z" fill="url(#ms1)" stroke="#787878" stroke-width="1.1" />
<ellipse cx="1389.79" cy="597.87" rx="9" ry="8" fill="#bdbdbd"/>
</g>
</g>
<rect x="1271.22" y="686.33" width="257.93" height="194.51" fill="url(#mg2)" />
<rect x="1488.5" y="859.2" width="1.2" height="1.2" fill="#a3a3a3"/><rect x="1292.8" y="746.6" width="1.2" height="1.2" fill="#a3a3a3"/><rect x="1434.1" y="715.4" width="1.2" height="1.2" fill="#a3a3a3"/><rect x="1484.3" y="738.3" width="1.2" height="1.2" fill="#a3a3a3"/><rect x="1446.5" y="744.3" width="1.2" height="1.2" fill="#a3a3a3"/><rect x="1328.6" y="727.1" width="1.2" height="1.2" fill="#a3a3a3"/><rect x="1399.6" y="824.9" width="1.2" height="1.2" fill="#a3a3a3"/><rect x="1328.5" y="819.7" width="1.2" height="1.2" fill="#a3a3a3"/><rect x="1358.3" y="812.6" width="1.2" height="1.2" fill="#a3a3a3"/><rect x="1366.7" y="724.5" width="1.2" height="1.2" fill="#a3a3a3"/><rect x="1309.0" y="698.3" width="1.2" height="1.2" fill="#a3a3a3"/><rect x="1450.0" y="767.0" width="1.2" height="1.2" fill="#a3a3a3"/><rect x="1304.5" y="857.2" width="1.2" height="1.2" fill="#a3a3a3"/><rect x="1439.5" y="691.2" width="1.2" height="1.2" fill="#a3a3a3"/><rect x="1457.3" y="802.0" width="1.2" height="1.2" fill="#a3a3a3"/><rect x="1385.9" y="783.8" width="1.2" height="1.2" fill="#a3a3a3"/><rect x="1517.6" y="759.4" width="1.2" height="1.2" fill="#a3a3a3"/><rect x="1434.8" y="809.9" width="1.2" height="1.2" fill="#a3a3a3"/><rect x="1366.1" y="754.0" width="1.2" height="1.2" fill="#a3a3a3"/><rect x="1464.9" y="809.9" width="1.2" height="1.2" fill="#a3a3a3"/><rect x="1389.2" y="786.4" width="1.2" height="1.2" fill="#a3a3a3"/><rect x="1330.0" y="839.6" width="1.2" height="1.2" fill="#a3a3a3"/><rect x="1278.3" y="811.4" width="1.2" height="1.2" fill="#a3a3a3"/><rect x="1388.7" y="729.9" width="1.2" height="1.2" fill="#a3a3a3"/><rect x="1422.2" y="799.8" width="1.2" height="1.2" fill="#a3a3a3"/><rect x="1295.3" y="781.8" width="1.2" height="1.2" fill="#a3a3a3"/><rect x="1315.1" y="841.5" width="1.2" height="1.2" fill="#a3a3a3"/><rect x="1356.2" y="750.6" width="1.2" height="1.2" fill="#a3a3a3"/><rect x="1327.9" y="696.4" width="1.2" height="1.2" fill="#a3a3a3"/><rect x="1320.6" y="716.4" width="1.2" height="1.2" fill="#a3a3a3"/><rect x="1431.7" y="850.8" width="1.2" height="1.2" fill="#a3a3a3"/><rect x="1329.3" y="708.7" width="1.2" height="1.2" fill="#a3a3a3"/><rect x="1408.9" y="709.5" width="1.2" height="1.2" fill="#a3a3a3"/><rect x="1376.1" y="834.1" width="1.2" height="1.2" fill="#a3a3a3"/><rect x="1324.8" y="822.3" width="1.2" height="1.2" fill="#a3a3a3"/><rect x="1410.0" y="703.5" width="1.2" height="1.2" fill="#a3a3a3"/><rect x="1334.8" y="802.9" width="1.2" height="1.2" fill="#a3a3a3"/><rect x="1297.7" y="726.5" width="1.2" height="1.2" fill="#a3a3a3"/><rect x="1419.7" y="845.2" width="1.2" height="1.2" fill="#a3a3a3"/><rect x="1405.4" y="815.3" width="1.2" height="1.2" fill="#a3a3a3"/><rect x="1275.5" y="745.6" width="1.2" height="1.2" fill="#a3a3a3"/><rect x="1354.0" y="863.6" width="1.2" height="1.2" fill="#a3a3a3"/><rect x="1364.0" y="838.7" width="1.2" height="1.2" fill="#a3a3a3"/><rect x="1281.9" y="783.4" width="1.2" height="1.2" fill="#a3a3a3"/><rect x="1499.6" y="836.1" width="1.2" height="1.2" fill="#a3a3a3"/><rect x="1420.4" y="722.3" width="1.2" height="1.2" fill="#a3a3a3"/><rect x="1508.4" y="702.5" width="1.2" height="1.2" fill="#a3a3a3"/><rect x="1518.2" y="837.1" width="1.2" height="1.2" fill="#a3a3a3"/><rect x="1456.0" y="789.6" width="1.2" height="1.2" fill="#a3a3a3"/><rect x="1314.9" y="753.0" width="1.2" height="1.2" fill="#a3a3a3"/><rect x="1441.8" y="813.8" width="1.2" height="1.2" fill="#a3a3a3"/><rect x="1372.1" y="841.9" width="1.2" height="1.2" fill="#a3a3a3"/><rect x="1286.8" y="742.6" width="1.2" height="1.2" fill="#a3a3a3"/><rect x="1296.2" y="749.9" width="1.2" height="1.2" fill="#a3a3a3"/><rect x="1474.6" y="832.7" width="1.2" height="1.2" fill="#a3a3a3"/><rect x="1311.1" y="746.7" width="1.2" height="1.2" fill="#a3a3a3"/><rect x="1301.7" y="815.0" width="1.2" height="1.2" fill="#a3a3a3"/><rect x="1385.6" y="731.9" width="1.2" height="1.2" fill="#a3a3a3"/><rect x="1368.2" y="854.3" width="1.2" height="1.2" fill="#a3a3a3"/><rect x="1381.2" y="820.6" width="1.2" height="1.2" fill="#a3a3a3"/><rect x="1432.6" y="778.6" width="1.2" height="1.2" fill="#a3a3a3"/><rect x="1414.5" y="757.4" width="1.2" height="1.2" fill="#a3a3a3"/><rect x="1323.6" y="782.6" width="1.2" height="1.2" fill="#a3a3a3"/><rect x="1350.5" y="750.9" width="1.2" height="1.2" fill="#a3a3a3"/><rect x="1320.6" y="863.6" width="1.2" height="1.2" fill="#a3a3a3"/><rect x="1381.3" y="725.8" width="1.2" height="1.2" fill="#a3a3a3"/><rect x="1281.3" y="728.5" width="1.2" height="1.2" fill="#a3a3a3"/><rect x="1493.7" y="752.2" width="1.2" height="1.2" fill="#a3a3a3"/><rect x="1442.6" y="731.7" width="1.2" height="1.2" fill="#a3a3a3"/><rect x="1438.4" y="774.1" width="1.2" height="1.2" fill="#a3a3a3"/><rect x="1460.2" y="789.2" width="1.2" height="1.2" fill="#a3a3a3"/><rect x="1368.5" y="741.2" width="1.2" height="1.2" fill="#a3a3a3"/><rect x="1424.1" y="847.8" width="1.2" height="1.2" fill="#a3a3a3"/><rect x="1448.8" y="779.9" width="1.2" height="1.2" fill="#a3a3a3"/><rect x="1356.6" y="859.3" width="1.2" height="1.2" fill="#a3a3a3"/><rect x="1488.1" y="715.3" width="1.2" height="1.2" fill="#a3a3a3"/><rect x="1445.7" y="836.3" width="1.2" height="1.2" fill="#a3a3a3"/><rect x="1444.8" y="873.4" width="1.2" height="1.2" fill="#a3a3a3"/><rect x="1496.4" y="734.7" width="1.2" height="1.2" fill="#a3a3a3"/><rect x="1526.3" y="750.4" width="1.2" height="1.2" fill="#a3a3a3"/><rect x="1369.7" y="875.7" width="1.2" height="1.2" fill="#a3a3a3"/><rect x="1315.7" y="763.5" width="1.2" height="1.2" fill="#a3a3a3"/><rect x="1432.2" y="739.8" width="1.2" height="1.2" fill="#a3a3a3"/><rect x="1341.0" y="840.6" width="1.2" height="1.2" fill="#a3a3a3"/><rect x="1428.8" y="830.8" width="1.2" height="1.2" fill="#a3a3a3"/><rect x="1473.8" y="855.6" width="1.2" height="1.2" fill="#a3a3a3"/><rect x="1500.1" y="846.2" width="1.2" height="1.2" fill="#a3a3a3"/><rect x="1521.7" y="783.6" width="1.2" height="1.2" fill="#a3a3a3"/><rect x="1451.4" y="786.4" width="1.2" height="1.2" fill="#a3a3a3"/><rect x="1519.4" y="813.7" width="1.2" height="1.2" fill="#a3a3a3"/><rect x="1382.6" y="815.4" width="1.2" height="1.2" fill="#a3a3a3"/><rect x="1348.1" y="712.1" width="1.2" height="1.2" fill="#a3a3a3"/><rect x="1371.3" y="713.6" width="1.2" height="1.2" fill="#a3a3a3"/><rect x="1274.2" y="705.0" width="1.2" height="1.2" fill="#a3a3a3"/><rect x="1388.6" y="834.6" width="1.2" height="1.2" fill="#a3a3a3"/><rect x="1285.5" y="810.1" width="1.2" height="1.2" fill="#a3a3a3"/><rect x="1301.5" y="785.7" width="1.2" height="1.2" fill="#a3a3a3"/><rect x="1348.3" y="773.3" width="1.2" height="1.2" fill="#a3a3a3"/><rect x="1454.0" y="767.0" width="1.2" height="1.2" fill="#a3a3a3"/><rect x="1372.7" y="827.9" width="1.2" height="1.2" fill="#a3a3a3"/><rect x="1302.6" y="754.5" width="1.2" height="1.2" fill="#a3a3a3"/><rect x="1451.4" y="848.4" width="1.2" height="1.2" fill="#a3a3a3"/><rect x="1521.9" y="736.8" width="1.2" height="1.2" fill="#a3a3a3"/><rect x="1432.0" y="747.5" width="1.2" height="1.2" fill="#a3a3a3"/><rect x="1451.4" y="850.6" width="1.2" height="1.2" fill="#a3a3a3"/><rect x="1307.5" y="753.8" width="1.2" height="1.2" fill="#a3a3a3"/><rect x="1511.0" y="755.2" width="1.2" height="1.2" fill="#a3a3a3"/><rect x="1433.7" y="845.2" width="1.2" height="1.2" fill="#a3a3a3"/><rect x="1344.0" y="838.5" width="1.2" height="1.2" fill="#a3a3a3"/><rect x="1274.1" y="752.9" width="1.2" height="1.2" fill="#a3a3a3"/><rect x="1315.6" y="753.9" width="1.2" height="1.2" fill="#a3a3a3"/><rect x="1327.3" y="692.0" width="1.2" height="1.2" fill="#a3a3a3"/><rect x="1477.2" y="720.6" width="1.2" height="1.2" fill="#a3a3a3"/><rect x="1418.8" y="794.2" width="1.2" height="1.2" fill="#a3a3a3"/><rect x="1488.9" y="850.7" width="1.2" height="1.2" fill="#a3a3a3"/><rect x="1431.1" y="719.8" width="1.2" height="1.2" fill="#a3a3a3"/><rect x="1466.4" y="706.0" width="1.2" height="1.2" fill="#a3a3a3"/><rect x="1509.0" y="746.7" width="1.2" height="1.2" fill="#a3a3a3"/><rect x="1337.4" y="729.0" width="1.2" height="1.2" fill="#a3a3a3"/><rect x="1373.8" y="840.0" width="1.2" height="1.2" fill="#a3a3a3"/><rect x="1490.3" y="831.3" width="1.2" height="1.2" fill="#a3a3a3"/><rect x="1458.4" y="734.3" width="1.2" height="1.2" fill="#a3a3a3"/><rect x="1354.8" y="745.9" width="1.2" height="1.2" fill="#a3a3a3"/><rect x="1383.3" y="856.1" width="1.2" height="1.2" fill="#a3a3a3"/><rect x="1526.1" y="703.3" width="1.2" height="1.2" fill="#a3a3a3"/><rect x="1518.2" y="864.5" width="1.2" height="1.2" fill="#a3a3a3"/><rect x="1390.3" y="821.0" width="1.2" height="1.2" fill="#a3a3a3"/><rect x="1472.4" y="723.2" width="1.2" height="1.2" fill="#a3a3a3"/><rect x="1429.6" y="876.8" width="1.2" height="1.2" fill="#a3a3a3"/><rect x="1496.8" y="863.2" width="1.2" height="1.2" fill="#a3a3a3"/><rect x="1294.7" y="825.2" width="1.2" height="1.2" fill="#a3a3a3"/><rect x="1396.8" y="862.8" width="1.2" height="1.2" fill="#a3a3a3"/><rect x="1315.6" y="793.1" width="1.2" height="1.2" fill="#a3a3a3"/><rect x="1303.8" y="842.5" width="1.2" height="1.2" fill="#a3a3a3"/><rect x="1456.7" y="693.1" width="1.2" height="1.2" fill="#a3a3a3"/><rect x="1351.8" y="714.5" width="1.2" height="1.2" fill="#a3a3a3"/><rect x="1434.6" y="808.8" width="1.2" height="1.2" fill="#a3a3a3"/><rect x="1289.1" y="870.8" width="1.2" height="1.2" fill="#a3a3a3"/><rect x="1518.3" y="772.3" width="1.2" height="1.2" fill="#a3a3a3"/><rect x="1419.0" y="757.3" width="1.2" height="1.2" fill="#a3a3a3"/><rect x="1427.1" y="764.1" width="1.2" height="1.2" fill="#a3a3a3"/><rect x="1385.1" y="832.0" width="1.2" height="1.2" fill="#a3a3a3"/><rect x="1320.6" y="744.7" width="1.2" height="1.2" fill="#a3a3a3"/><rect x="1467.1" y="730.6" width="1.2" height="1.2" fill="#a3a3a3"/><rect x="1290.7" y="863.2" width="1.2" height="1.2" fill="#a3a3a3"/><rect x="1313.7" y="766.5" width="1.2" height="1.2" fill="#a3a3a3"/><rect x="1352.8" y="737.7" width="1.2" height="1.2" fill="#a3a3a3"/><rect x="1362.7" y="790.9" width="1.2" height="1.2" fill="#a3a3a3"/><rect x="1302.7" y="790.1" width="1.2" height="1.2" fill="#a3a3a3"/><rect x="1286.2" y="702.4" width="1.2" height="1.2" fill="#a3a3a3"/><rect x="1324.6" y="733.5" width="1.2" height="1.2" fill="#a3a3a3"/><rect x="1359.9" y="743.4" width="1.2" height="1.2" fill="#a3a3a3"/><rect x="1485.7" y="814.2" width="1.2" height="1.2" fill="#a3a3a3"/><rect x="1393.4" y="836.1" width="1.2" height="1.2" fill="#a3a3a3"/><rect x="1447.4" y="748.1" width="1.2" height="1.2" fill="#a3a3a3"/><rect x="1429.6" y="831.1" width="1.2" height="1.2" fill="#a3a3a3"/><rect x="1408.9" y="832.5" width="1.2" height="1.2" fill="#a3a3a3"/><rect x="1433.9" y="866.4" width="1.2" height="1.2" fill="#a3a3a3"/><rect x="1340.3" y="816.9" width="1.2" height="1.2" fill="#a3a3a3"/><rect x="1521.3" y="789.1" width="1.2" height="1.2" fill="#a3a3a3"/><rect x="1503.1" y="705.4" width="1.2" height="1.2" fill="#a3a3a3"/><rect x="1456.9" y="738.4" width="1.2" height="1.2" fill="#a3a3a3"/><rect x="1463.7" y="768.9" width="1.2" height="1.2" fill="#a3a3a3"/><rect x="1409.1" y="735.1" width="1.2" height="1.2" fill="#a3a3a3"/><rect x="1338.5" y="854.3" width="1.2" height="1.2" fill="#a3a3a3"/><rect x="1436.6" y="808.6" width="1.2" height="1.2" fill="#a3a3a3"/><rect x="1302.6" y="743.7" width="1.2" height="1.2" fill="#a3a3a3"/><rect x="1519.1" y="726.4" width="1.2" height="1.2" fill="#a3a3a3"/><rect x="1409.8" y="821.7" width="1.2" height="1.2" fill="#a3a3a3"/><rect x="1402.8" y="794.2" width="1.2" height="1.2" fill="#a3a3a3"/><rect x="1519.6" y="838.1" width="1.2" height="1.2" fill="#a3a3a3"/><rect x="1333.4" y="770.2" width="1.2" height="1.2" fill="#a3a3a3"/><rect x="1379.8" y="819.2" width="1.2" height="1.2" fill="#a3a3a3"/><rect x="1444.6" y="737.5" width="1.2" height="1.2" fill="#a3a3a3"/><rect x="1449.0" y="770.4" width="1.2" height="1.2" fill="#a3a3a3"/><rect x="1277.1" y="743.5" width="1.2" height="1.2" fill="#a3a3a3"/><rect x="1368.9" y="725.2" width="1.2" height="1.2" fill="#a3a3a3"/><rect x="1443.5" y="878.8" width="1.2" height="1.2" fill="#a3a3a3"/><rect x="1509.8" y="808.8" width="1.2" height="1.2" fill="#a3a3a3"/><rect x="1490.9" y="782.1" width="1.2" height="1.2" fill="#a3a3a3"/><rect x="1422.2" y="859.8" width="1.2" height="1.2" fill="#a3a3a3"/><rect x="1288.4" y="757.1" width="1.2" height="1.2" fill="#a3a3a3"/><rect x="1368.2" y="753.0" width="1.2" height="1.2" fill="#a3a3a3"/><rect x="1381.9" y="698.2" width="1.2" height="1.2" fill="#a3a3a3"/><rect x="1445.7" y="872.0" width="1.2" height="1.2" fill="#a3a3a3"/><rect x="1332.7" y="723.0" width="1.2" height="1.2" fill="#a3a3a3"/><rect x="1358.2" y="841.0" width="1.2" height="1.2" fill="#a3a3a3"/><rect x="1330.7" y="836.1" width="1.2" height="1.2" fill="#a3a3a3"/><rect x="1317.1" y="802.1" width="1.2" height="1.2" fill="#a3a3a3"/><rect x="1456.3" y="817.3" width="1.2" height="1.2" fill="#a3a3a3"/><rect x="1294.7" y="871.9" width="1.2" height="1.2" fill="#a3a3a3"/><rect x="1488.5" y="780.0" width="1.2" height="1.2" fill="#a3a3a3"/><rect x="1491.4" y="803.2" width="1.2" height="1.2" fill="#a3a3a3"/><rect x="1316.0" y="763.8" width="1.2" height="1.2" fill="#a3a3a3"/><rect x="1481.6" y="776.7" width="1.2" height="1.2" fill="#a3a3a3"/><rect x="1283.9" y="719.2" width="1.2" height="1.2" fill="#a3a3a3"/><rect x="1320.5" y="800.3" width="1.2" height="1.2" fill="#a3a3a3"/><rect x="1436.7" y="773.6" width="1.2" height="1.2" fill="#a3a3a3"/><rect x="1375.7" y="873.1" width="1.2" height="1.2" fill="#a3a3a3"/><rect x="1360.3" y="817.0" width="1.2" height="1.2" fill="#a3a3a3"/><rect x="1325.2" y="786.4" width="1.2" height="1.2" fill="#a3a3a3"/><rect x="1318.8" y="709.0" width="1.2" height="1.2" fill="#a3a3a3"/><rect x="1358.7" y="709.3" width="1.2" height="1.2" fill="#a3a3a3"/><rect x="1370.0" y="813.3" width="1.2" height="1.2" fill="#a3a3a3"/><rect x="1412.7" y="840.8" width="1.2" height="1.2" fill="#a3a3a3"/><rect x="1394.4" y="703.4" width="1.2" height="1.2" fill="#a3a3a3"/><rect x="1457.9" y="764.8" width="1.2" height="1.2" fill="#a3a3a3"/><rect x="1464.0" y="875.6" width="1.2" height="1.2" fill="#a3a3a3"/><rect x="1406.3" y="735.5" width="1.2" height="1.2" fill="#a3a3a3"/><rect x="1364.1" y="783.4" width="1.2" height="1.2" fill="#a3a3a3"/><rect x="1354.3" y="706.7" width="1.2" height="1.2" fill="#a3a3a3"/><rect x="1374.4" y="813.9" width="1.2" height="1.2" fill="#a3a3a3"/><rect x="1480.4" y="834.3" width="1.2" height="1.2" fill="#a3a3a3"/><rect x="1497.7" y="841.9" width="1.2" height="1.2" fill="#a3a3a3"/><rect x="1377.7" y="811.6" width="1.2" height="1.2" fill="#a3a3a3"/><rect x="1287.0" y="840.5" width="1.2" height="1.2" fill="#a3a3a3"/><rect x="1453.0" y="738.4" width="1.2" height="1.2" fill="#a3a3a3"/><rect x="1393.1" y="739.6" width="1.2" height="1.2" fill="#a3a3a3"/><rect x="1475.1" y="769.6" width="1.2" height="1.2" fill="#a3a3a3"/><rect x="1471.5" y="865.6" width="1.2" height="1.2" fill="#a3a3a3"/><rect x="1470.7" y="760.6" width="1.2" height="1.2" fill="#a3a3a3"/><rect x="1360.2" y="869.8" width="1.2" height="1.2" fill="#a3a3a3"/><rect x="1502.9" y="723.8" width="1.2" height="1.2" fill="#a3a3a3"/><rect x="1365.2" y="839.4" width="1.2" height="1.2" fill="#a3a3a3"/><rect x="1465.3" y="741.8" width="1.2" height="1.2" fill="#a3a3a3"/><rect x="1386.5" y="872.9" width="1.2" height="1.2" fill="#a3a3a3"/><rect x="1296.1" y="740.1" width="1.2" height="1.2" fill="#a3a3a3"/><rect x="1441.9" y="862.4" width="1.2" height="1.2" fill="#a3a3a3"/><rect x="1513.7" y="777.8" width="1.2" height="1.2" fill="#a3a3a3"/><rect x="1473.9" y="875.0" width="1.2" height="1.2" fill="#a3a3a3"/><rect x="1356.9" y="731.1" width="1.2" height="1.2" fill="#a3a3a3"/><rect x="1339.1" y="838.3" width="1.2" height="1.2" fill="#a3a3a3"/><rect x="1308.7" y="792.7" width="1.2" height="1.2" fill="#a3a3a3"/><rect x="1509.3" y="726.0" width="1.2" height="1.2" fill="#a3a3a3"/><rect x="1432.9" y="789.5" width="1.2" height="1.2" fill="#a3a3a3"/><rect x="1518.6" y="786.3" width="1.2" height="1.2" fill="#a3a3a3"/><rect x="1397.9" y="861.7" width="1.2" height="1.2" fill="#a3a3a3"/><rect x="1464.3" y="715.2" width="1.2" height="1.2" fill="#a3a3a3"/><rect x="1477.3" y="764.2" width="1.2" height="1.2" fill="#a3a3a3"/><rect x="1519.2" y="873.2" width="1.2" height="1.2" fill="#a3a3a3"/><rect x="1398.5" y="767.5" width="1.2" height="1.2" fill="#a3a3a3"/><rect x="1330.9" y="740.5" width="1.2" height="1.2" fill="#a3a3a3"/><rect x="1325.6" y="719.6" width="1.2" height="1.2" fill="#a3a3a3"/><rect x="1458.6" y="697.0" width="1.2" height="1.2" fill="#a3a3a3"/><rect x="1425.3" y="802.6" width="1.2" height="1.2" fill="#a3a3a3"/><rect x="1460.0" y="796.7" width="1.2" height="1.2" fill="#a3a3a3"/><rect x="1508.7" y="741.5" width="1.2" height="1.2" fill="#a3a3a3"/><rect x="1296.9" y="799.7" width="1.2" height="1.2" fill="#a3a3a3"/><rect x="1341.6" y="878.0" width="1.2" height="1.2" fill="#a3a3a3"/><rect x="1507.3" y="820.0" width="1.2" height="1.2" fill="#a3a3a3"/><rect x="1484.9" y="734.3" width="1.2" height="1.2" fill="#a3a3a3"/><rect x="1396.4" y="761.1" width="1.2" height="1.2" fill="#a3a3a3"/><rect x="1360.9" y="759.3" width="1.2" height="1.2" fill="#a3a3a3"/><rect x="1394.5" y="813.5" width="1.2" height="1.2" fill="#a3a3a3"/><rect x="1279.6" y="791.3" width="1.2" height="1.2" fill="#a3a3a3"/><rect x="1305.7" y="874.3" width="1.2" height="1.2" fill="#a3a3a3"/><rect x="1413.3" y="800.9" width="1.2" height="1.2" fill="#a3a3a3"/><rect x="1353.2" y="823.5" width="1.2" height="1.2" fill="#a3a3a3"/><rect x="1453.5" y="862.9" width="1.2" height="1.2" fill="#a3a3a3"/><rect x="1420.7" y="739.2" width="1.2" height="1.2" fill="#a3a3a3"/>
<g filter="url(#grain)">
<ellipse cx="1360.48" cy="727.1" rx="5.33" ry="5.33" fill="url(#ms2)" stroke="#747474" stroke-width="1.2" transform="rotate(0 1360.48 727.1)"/>
<circle cx="1358.09" cy="722.81" r="0.99" fill="#c8c8c8" stroke="#7c7c7c" stroke-width="0.8" />
<circle cx="1361.46" cy="722.07" r="1.16" fill="#c8c8c8" stroke="#7c7c7c" stroke-width="0.8" />
<circle cx="1364.43" cy="723.91" r="1.04" fill="#c8c8c8" stroke="#7c7c7c" stroke-width="0.8" />
<circle cx="1365.33" cy="727.19" r="1.07" fill="#c8c8c8" stroke="#7c7c7c" stroke-width="0.8" />
<circle cx="1363.34" cy="729.6" r="1.13" fill="#c8c8c8" stroke="#7c7c7c" stroke-width="0.8" />
<circle cx="1361.28" cy="732.35" r="1.21" fill="#c8c8c8" stroke="#7c7c7c" stroke-width="0.8" />
<circle cx="1358.02" cy="731.11" r="1.46" fill="#c8c8c8" stroke="#7c7c7c" stroke-width="0.8" />
<circle cx="1355.21" cy="728.85" r="1.12" fill="#c8c8c8" stroke="#7c7c7c" stroke-width="0.8" />
<circle cx="1355.81" cy="725.24" r="1.46" fill="#c8c8c8" stroke="#7c7c7c" stroke-width="0.8" />
<ellipse cx="1335.17" cy="791.04" rx="9.59" ry="9.59" fill="url(#ms2)" stroke="#747474" stroke-width="1.2" transform="rotate(0 1335.17 791.04)"/>
<circle cx="1326.24" cy="788.18" r="2.13" fill="#c8c8c8" stroke="#7c7c7c" stroke-width="0.8" />
<circle cx="1330.75" cy="784.01" r="2.63" fill="#c8c8c8" stroke="#7c7c7c" stroke-width="0.8" />
<circle cx="1336.22" cy="783.56" r="2.29" fill="#c8c8c8" stroke="#7c7c7c" stroke-width="0.8" />
<circle cx="1341.75" cy="785.14" r="2.71" fill="#c8c8c8" stroke="#7c7c7c" stroke-width="0.8" />
<circle cx="1342.7" cy="790.81" r="2.49" fill="#c8c8c8" stroke="#7c7c7c" stroke-width="0.8" />
<circle cx="1341.01" cy="795.66" r="1.91" fill="#c8c8c8" stroke="#7c7c7c" stroke-width="0.8" />
<circle cx="1336.84" cy="799.19" r="2.47" fill="#c8c8c8" stroke="#7c7c7c" stroke-width="0.8" />
<circle cx="1330.94" cy="798.83" r="2.82" fill="#c8c8c8" stroke="#7c7c7c" stroke-width="0.8" />
<circle cx="1328.4" cy="793.7" r="2.34" fill="#c8c8c8" stroke="#7c7c7c" stroke-width="0.8" />
<ellipse cx="1281.88" cy="800.9" rx="8.53" ry="8.53" fill="url(#ms2)" stroke="#747474" stroke-width="1.2" transform="rotate(0 1281.88 800.9)"/>
<circle cx="1280.41" cy="793.65" r="1.8" fill="#c8c8c8" stroke="#7c7c7c" stroke-width="0.8" />
<circle cx="1286.06" cy="793.27" r="1.68" fill="#c8c8c8" stroke="#7c7c7c" stroke-width="0.8" />
<circle cx="1288.17" cy="798.46" r="1.58" fill="#c8c8c8" stroke="#7c7c7c" stroke-width="0.8" />
<circle cx="1289.34" cy="803.46" r="2.21" fill="#c8c8c8" stroke="#7c7c7c" stroke-width="0.8" />
<circle cx="1285.29" cy="806.59" r="2.48" fill="#c8c8c8" stroke="#7c7c7c" stroke-width="0.8" />
<circle cx="1280.63" cy="808.67" r="1.74" fill="#c8c8c8" stroke="#7c7c7c" stroke-width="0.8" />
<circle cx="1275.23" cy="806.64" r="2.41" fill="#c8c8c8" stroke="#7c7c7c" stroke-width="0.8" />
<circle cx="1274.97" cy="800.98" r="2.42" fill="#c8c8c8" stroke="#7c7c7c" stroke-width="0.8" />
<circle cx="1276.97" cy="796.86" r="1.89" fill="#c8c8c8" stroke="#7c7c7c" stroke-width="0.8" />
<ellipse cx="1404.45" cy="797.71" rx="7.46" ry="7.46" fill="url(#ms2)" stroke="#747474" stroke-width="1.2" transform="rotate(0 1404.45 797.71)"/>
<circle cx="1410.16" cy="795" r="2.2" fill="#c8c8c8" stroke="#7c7c7c" stroke-width="0.8" />
<circle cx="1410.25" cy="799.24" r="1.69" fill="#c8c8c8" stroke="#7c7c7c" stroke-width="0.8" />
<circle cx="1407.76" cy="802.42" r="2.08" fill="#c8c8c8" stroke="#7c7c7c" stroke-width="0.8" />
<circle cx="1403.95" cy="803.39" r="2.1" fill="#c8c8c8" stroke="#7c7c7c" stroke-width="0.8" />
<circle cx="1400.12" cy="802.02" r="1.84" fill="#c8c8c8" stroke="#7c7c7c" stroke-width="0.8" />
<circle cx="1396.96" cy="798.34" r="1.58" fill="#c8c8c8" stroke="#7c7c7c" stroke-width="0.8" />
<circle cx="1399.06" cy="793.89" r="1.91" fill="#c8c8c8" stroke="#7c7c7c" stroke-width="0.8" />
<circle cx="1402.75" cy="791.19" r="1.71" fill="#c8c8c8" stroke="#7c7c7c" stroke-width="0.8" />
<circle cx="1407.42" cy="791.47" r="1.62" fill="#c8c8c8" stroke="#7c7c7c" stroke-width="0.8" />
<ellipse cx="1471.59" cy="769.73" rx="11.19" ry="11.19" fill="url(#ms2)" stroke="#747474" stroke-width="1.2" transform="rotate(0 1471.59 769.73)"/>
<circle cx="1479.81" cy="771.65" r="2.03" fill="#c8c8c8" stroke="#7c7c7c" stroke-width="0.8" />
<circle cx="1477.69" cy="777.91" r="2.79" fill="#c8c8c8" stroke="#7c7c7c" stroke-width="0.8" />
<circle cx="1470.94" cy="780.67" r="2.22" fill="#c8c8c8" stroke="#7c7c7c" stroke-width="0.8" />
<circle cx="1464.39" cy="777.32" r="2.62" fill="#c8c8c8" stroke="#7c7c7c" stroke-width="0.8" />
<circle cx="1461.76" cy="770.83" r="3.13" fill="#c8c8c8" stroke="#7c7c7c" stroke-width="0.8" />
<circle cx="1463.39" cy="764.25" r="2.6" fill="#c8c8c8" stroke="#7c7c7c" stroke-width="0.8" />
<circle cx="1468.71" cy="759.78" r="2.21" fill="#c8c8c8" stroke="#7c7c7c" stroke-width="0.8" />
<circle cx="1476.16" cy="759.44" r="2.71" fill="#c8c8c8" stroke="#7c7c7c" stroke-width="0.8" />
<circle cx="1478.79" cy="766.23" r="2.66" fill="#c8c8c8" stroke="#7c7c7c" stroke-width="0.8" />
<ellipse cx="1468.93" cy="840.34" rx="9.59" ry="9.59" fill="url(#ms2)" stroke="#747474" stroke-width="1.2" transform="rotate(0 1468.93 840.34)"/>
<circle cx="1459.62" cy="843.68" r="2.85" fill="#c8c8c8" stroke="#7c7c7c" stroke-width="0.8" />
<circle cx="1461.29" cy="837.51" r="2.03" fill="#c8c8c8" stroke="#7c7c7c" stroke-width="0.8" />
<circle cx="1464.07" cy="831.76" r="2.05" fill="#c8c8c8" stroke="#7c7c7c" stroke-width="0.8" />
<circle cx="1470.17" cy="833.68" r="2.01" fill="#c8c8c8" stroke="#7c7c7c" stroke-width="0.8" />
<circle cx="1475.34" cy="835.08" r="2.5" fill="#c8c8c8" stroke="#7c7c7c" stroke-width="0.8" />
<circle cx="1475.87" cy="840.43" r="2.11" fill="#c8c8c8" stroke="#7c7c7c" stroke-width="0.8" />
<circle cx="1475.85" cy="846.33" r="2.12" fill="#c8c8c8" stroke="#7c7c7c" stroke-width="0.8" />
<circle cx="1470.07" cy="847.55" r="2.55" fill="#c8c8c8" stroke="#7c7c7c" stroke-width="0.8" />
<circle cx="1464.7" cy="847.34" r="2.53" fill="#c8c8c8" stroke="#7c7c7c" stroke-width="0.8" />
</g>
<line x1="1492.38" y1="866.98" x2="1514.49" y2="866.98" stroke="#000" stroke-width="3" />
<text x="1757.21" y="480.63" font-size="24.08">HCT116</text>
<rect x="1663.07" y="493.36" width="22.95" height="9.66" fill="none" stroke="#ff2d0f" stroke-width="3.2" />
<text x="1699.58" y="505.92" font-size="23.14" font-style="italic">Ctrl</text>
<rect x="1663.07" y="521.26" width="22.95" height="9.13" fill="none" stroke="#0e9496" stroke-width="3.2" />
<text x="1699.58" y="533.82" font-size="22.6"><tspan font-style="italic">ID1</tspan><tspan font-style="italic" font-size="18.98" dy="-9.04">KD</tspan></text>
<line x1="1639.87" y1="509.01" x2="1639.87" y2="834.95" stroke="#000" stroke-width="3" />
<line x1="1626.05" y1="833.65" x2="1962.95" y2="833.65" stroke="#000" stroke-width="3" />
<line x1="1626.05" y1="510.31" x2="1639.87" y2="510.31" stroke="#000" stroke-width="2.8" />
<text x="1623.18" y="518.91" font-size="24" text-anchor="end">80</text>
<line x1="1626.05" y1="590.89" x2="1639.87" y2="590.89" stroke="#000" stroke-width="2.8" />
<text x="1623.18" y="599.49" font-size="24" text-anchor="end">60</text>
<line x1="1626.05" y1="671.72" x2="1639.87" y2="671.72" stroke="#000" stroke-width="2.8" />
<text x="1623.18" y="680.32" font-size="24" text-anchor="end">40</text>
<line x1="1626.05" y1="752.56" x2="1639.87" y2="752.56" stroke="#000" stroke-width="2.8" />
<text x="1623.18" y="761.16" font-size="24" text-anchor="end">20</text>
<line x1="1626.05" y1="833.39" x2="1639.87" y2="833.39" stroke="#000" stroke-width="2.8" />
<text x="1623.18" y="841.99" font-size="24" text-anchor="end">0</text>
<line x1="1688.11" y1="833.65" x2="1688.11" y2="845.91" stroke="#000" stroke-width="2.8" />
<line x1="1799.97" y1="833.65" x2="1799.97" y2="845.91" stroke="#000" stroke-width="2.8" />
<line x1="1912.1" y1="833.65" x2="1912.1" y2="845.91" stroke="#000" stroke-width="2.8" />
<text x="1646.91" y="563.29" font-size="23.31"><tspan font-style="italic">P</tspan><tspan> = 0.0049</tspan></text>
<line x1="1669.86" y1="570.81" x2="1706.88" y2="570.81" stroke="#231815" stroke-width="3" />
<text x="1747.3" y="712.44" font-size="23.05"><tspan font-style="italic">P</tspan><tspan> = 0.4157</tspan></text>
<line x1="1779.37" y1="719.44" x2="1816.4" y2="719.44" stroke="#231815" stroke-width="3" />
<text x="1866.47" y="680.63" font-size="23.21"><tspan font-style="italic">P</tspan><tspan> = 0.0140</tspan></text>
<line x1="1898.54" y1="693.36" x2="1935.05" y2="693.36" stroke="#231815" stroke-width="3" />
<path d="M1655.55 833.65 V617.52 H1679.21 V833.65" fill="none" stroke="#ff2d0f" stroke-width="3.2" stroke-linejoin="miter"/>
<path d="M1697.27 833.65 V821.95 H1720.15 V833.65" fill="none" stroke="#0e9496" stroke-width="3.2" stroke-linejoin="miter"/>
<path d="M1767.94 833.65 V767.45 H1790.81 V833.65" fill="none" stroke="#ff2d0f" stroke-width="3.2" stroke-linejoin="miter"/>
<path d="M1810.18 833.65 V778.41 H1833.05 V833.65" fill="none" stroke="#0e9496" stroke-width="3.2" stroke-linejoin="miter"/>
<path d="M1879.8 833.65 V824.82 H1903.46 V833.65" fill="none" stroke="#ff2d0f" stroke-width="3.2" stroke-linejoin="miter"/>
<path d="M1922.3 833.65 V734.86 H1945.18 V833.65" fill="none" stroke="#0e9496" stroke-width="3.2" stroke-linejoin="miter"/>
<line x1="1667.25" y1="589.06" x2="1667.25" y2="643.82" stroke="#ff2d0f" stroke-width="2.8" />
<line x1="1659.43" y1="589.06" x2="1675.07" y2="589.06" stroke="#ff2d0f" stroke-width="2.8" />
<line x1="1659.43" y1="643.82" x2="1675.07" y2="643.82" stroke="#ff2d0f" stroke-width="2.8" />
<circle cx="1667.25" cy="591.67" r="5.6" fill="none" stroke="#ff2d0f" stroke-width="3.1" />
<circle cx="1667.25" cy="611.75" r="5.6" fill="none" stroke="#ff2d0f" stroke-width="3.1" />
<circle cx="1667.25" cy="643.82" r="5.6" fill="none" stroke="#ff2d0f" stroke-width="3.1" />
<circle cx="1701.67" cy="820.35" r="5.6" fill="none" stroke="#0e9496" stroke-width="3.1" />
<circle cx="1709.49" cy="813.31" r="5.6" fill="none" stroke="#0e9496" stroke-width="3.1" />
<circle cx="1717.31" cy="817.22" r="5.6" fill="none" stroke="#0e9496" stroke-width="3.1" />
<line x1="1779.11" y1="749.43" x2="1779.11" y2="780.2" stroke="#ff2d0f" stroke-width="2.8" />
<line x1="1771.29" y1="749.43" x2="1786.94" y2="749.43" stroke="#ff2d0f" stroke-width="2.8" />
<line x1="1771.29" y1="780.2" x2="1786.94" y2="780.2" stroke="#ff2d0f" stroke-width="2.8" />
<circle cx="1771.55" cy="752.56" r="5.6" fill="none" stroke="#ff2d0f" stroke-width="3.1" />
<circle cx="1787.72" cy="760.64" r="5.6" fill="none" stroke="#ff2d0f" stroke-width="3.1" />
<circle cx="1779.11" cy="780.72" r="5.6" fill="none" stroke="#ff2d0f" stroke-width="3.1" />
<line x1="1821.62" y1="764.29" x2="1821.62" y2="785.15" stroke="#0e9496" stroke-width="2.8" />
<line x1="1813.79" y1="764.29" x2="1829.44" y2="764.29" stroke="#0e9496" stroke-width="2.8" />
<line x1="1813.79" y1="785.15" x2="1829.44" y2="785.15" stroke="#0e9496" stroke-width="2.8" />
<circle cx="1813.79" cy="763.77" r="5.6" fill="none" stroke="#0e9496" stroke-width="3.1" />
<circle cx="1829.44" cy="772.37" r="5.6" fill="none" stroke="#0e9496" stroke-width="3.1" />
<circle cx="1813.79" cy="785.15" r="5.6" fill="none" stroke="#0e9496" stroke-width="3.1" />
<circle cx="1884.2" cy="823.74" r="5.6" fill="none" stroke="#ff2d0f" stroke-width="3.1" />
<circle cx="1892.02" cy="818.01" r="5.6" fill="none" stroke="#ff2d0f" stroke-width="3.1" />
<circle cx="1899.32" cy="821.13" r="5.6" fill="none" stroke="#ff2d0f" stroke-width="3.1" />
<line x1="1933.74" y1="712.4" x2="1933.74" y2="752.56" stroke="#0e9496" stroke-width="2.8" />
<line x1="1925.92" y1="712.4" x2="1941.56" y2="712.4" stroke="#0e9496" stroke-width="2.8" />
<line x1="1925.92" y1="752.56" x2="1941.56" y2="752.56" stroke="#0e9496" stroke-width="2.8" />
<circle cx="1933.74" cy="712.4" r="5.6" fill="none" stroke="#0e9496" stroke-width="3.1" />
<circle cx="1933.74" cy="733.26" r="5.6" fill="none" stroke="#0e9496" stroke-width="3.1" />
<circle cx="1933.74" cy="752.56" r="5.6" fill="none" stroke="#0e9496" stroke-width="3.1" />
<text x="1587.76" y="750.73" font-size="24" transform="rotate(-90 1587.76 750.73)">Sphere number</text>
<text x="1732.44" y="857.64" font-size="24" text-anchor="end" transform="rotate(-35 1732.44 857.64)">&gt;100 μm</text>
<text x="1844.56" y="850.34" font-size="24" text-anchor="end" transform="rotate(-35 1844.56 850.34)">50-100 μm</text>
<text x="1927.48" y="868.07" font-size="24" text-anchor="end" transform="rotate(-35 1927.48 868.07)">&lt;50 μm</text>
</g>
<g id="p-g">
<text transform="translate(0 955) scale(1 1)" font-size="57" font-weight="bold">g</text>
<text x="132.86" y="972.42" font-size="23.58">MC38  s.c. model</text>
<text x="217.93" y="1006.52" font-size="23.49">Donor</text>
<text x="456.24" y="976.64" font-size="22.13">1: 3</text>
<path d="M408.79 1006.82 V992.76 H529 V1006.82" fill="none" stroke="#000" stroke-width="3" />
<text x="19.33" y="1026.91" font-size="23.71"><tspan font-style="italic">Id1</tspan><tspan font-style="italic" font-size="19.92" dy="-9.48">f/f</tspan></text>
<text x="18.28" y="1074.36" font-size="22.81"><tspan font-style="italic">Id1</tspan><tspan font-style="italic" font-size="19.16" dy="-9.12">Lyz-KO</tspan></text>
<path d="M113.18 1021.93 H126.54 V1072.9 H113.18" fill="none" stroke="#000" stroke-width="3" />
<g transform="translate(147.3 976.4) scale(0.11170 0.11520)">
<path d="M540 690 C450 665 350 612 235 603 C160 598 135 640 170 680 C200 712 262 722 288 752" fill="none" stroke="#bd8a85" stroke-width="30" stroke-linecap="round"/>
<path d="M530 785 L462 808 L468 832 L545 835 Z" fill="#bd8a85" />
<path d="M1035 525 L1060 425 C1125 445 1172 492 1182 560 Z" fill="#4b4544" />
<path d="M1078 452 C1122 472 1160 512 1176 556 L1140 535 C1125 500 1105 475 1078 452Z" fill="#c59792" />
<path d="M688 985 L748 985 L742 1058 L770 1085 L768 1108 L700 1100 L642 1100 L640 1080 L690 1058 Z" fill="#bd8a85" />
<path d="M1000 920 L1056 920 L1046 978 L1112 1012 L1100 1030 L1022 1036 L990 1000 Z" fill="#bd8a85" />
<path d="M520 700 C520 620 600 572 700 552 C800 532 900 562 960 545 C1000 532 1030 520 1060 512 L1180 560 C1222 585 1252 600 1266 630 C1272 652 1250 672 1230 692 C1200 732 1160 782 1130 812 C1110 852 1092 892 1062 930 L990 925 C900 932 820 942 772 962 L762 995 L680 995 C672 952 662 902 640 882 C570 852 512 782 520 700 Z" fill="#4b4544" />
<path d="M640 882 C662 902 672 952 680 995 L762 995 L772 962 C740 930 700 900 640 882Z" fill="#3b3635" />
<ellipse cx="835" cy="545" rx="100" ry="106" fill="#c59792" />
<ellipse cx="862" cy="572" rx="42" ry="55" fill="#b07f7b" />
<ellipse cx="1030" cy="605" rx="27" ry="21" fill="#171212" />
<ellipse cx="1238" cy="632" rx="24" ry="20" fill="#bd8a85" />
<path d="M600 690 C590 655 640 640 690 652 C740 640 790 655 800 700 C830 740 825 790 790 815 C760 835 720 815 690 820 C650 835 610 810 605 770 C585 740 590 710 600 690Z" fill="#8fc6ee" />
<circle cx="730.24" cy="768.85" r="14.77" fill="#6aaede" />
<circle cx="789.35" cy="768.59" r="15.53" fill="#b9dcf5" />
<circle cx="620.37" cy="730.19" r="15.66" fill="#6aaede" />
<circle cx="735.06" cy="791.13" r="10.68" fill="#b9dcf5" />
<circle cx="701.78" cy="699.52" r="13.26" fill="#6aaede" />
<circle cx="721.18" cy="666.84" r="11.3" fill="#b9dcf5" />
<circle cx="666.7" cy="793.29" r="14.59" fill="#6aaede" />
<circle cx="644.53" cy="776.6" r="10.83" fill="#b9dcf5" />
<circle cx="729.23" cy="682.74" r="10.01" fill="#6aaede" />
<circle cx="776.21" cy="694.32" r="11.29" fill="#b9dcf5" />
<circle cx="796.75" cy="787.14" r="11.74" fill="#6aaede" />
<circle cx="792.87" cy="740.49" r="14.07" fill="#b9dcf5" />
<circle cx="652.88" cy="796.74" r="14.14" fill="#6aaede" />
<circle cx="793.81" cy="790.12" r="11.79" fill="#b9dcf5" />
<circle cx="681.82" cy="688.23" r="10.87" fill="#6aaede" />
<circle cx="627.05" cy="707.19" r="13.62" fill="#b9dcf5" />
<circle cx="615.63" cy="759.91" r="12.03" fill="#6aaede" />
<circle cx="672.34" cy="779.59" r="12.88" fill="#b9dcf5" />
<circle cx="673.42" cy="732.37" r="14.23" fill="#6aaede" />
<circle cx="625.55" cy="801.51" r="10.14" fill="#b9dcf5" />
<circle cx="753.71" cy="783.28" r="10.11" fill="#6aaede" />
<circle cx="760.73" cy="716.27" r="13.47" fill="#b9dcf5" />
<circle cx="616.68" cy="671.54" r="11.09" fill="#6aaede" />
<circle cx="791.71" cy="692.51" r="14.53" fill="#b9dcf5" />
<circle cx="786.99" cy="796.89" r="12.07" fill="#6aaede" />
<circle cx="680.64" cy="738.46" r="14.65" fill="#b9dcf5" />
<g transform="translate(440 203) rotate(-23)">
<rect x="-30" y="-4" width="60" height="13" fill="#a4adb4" rx="3" />
<rect x="-7" y="8" width="14" height="70" fill="#b4bcc3" />
<rect x="-46" y="74" width="92" height="15" fill="#c3cad0" rx="3" />
<rect x="-28" y="89" width="56" height="300" fill="#e6ebee" stroke="#8f999f" stroke-width="6" />
<rect x="-9" y="100" width="18" height="220" fill="#f7f9fa" />
<rect x="-22" y="325" width="44" height="60" fill="#7fc4ec" />
<rect x="-10" y="389" width="20" height="18" fill="#8f999f" />
<line x1="0" y1="405" x2="0" y2="490" stroke="#777" stroke-width="4" />
</g>
</g>
<line x1="313.88" y1="1043.73" x2="335.39" y2="1043.73" stroke="#000" stroke-width="3.2" />
<path d="M351.49 1043.73 L328.49 1035.23 L334.93 1043.73 L328.49 1052.23 Z" fill="#000" />
<g transform="translate(400.7 1018.42) rotate(-55) scale(0.9500)">
<path d="M-8.4 -2.8 C-5 -3.5 0 -5 2.3 -8.6 C2.8 -5 4 -2 5.6 0.5 C7 3 8 5.5 8.8 8.4 C6.5 6 4.5 5.2 2.5 5.4 C0 5.8 -2.5 6.4 -4.6 6.4 C-5.5 3 -6.5 0 -8.4 -2.8Z" fill="url(#tamg)" />
</g>
<g transform="translate(379.61 1030.72) rotate(0) scale(0.9500)">
<path d="M-8.4 -2.8 C-5 -3.5 0 -5 2.3 -8.6 C2.8 -5 4 -2 5.6 0.5 C7 3 8 5.5 8.8 8.4 C6.5 6 4.5 5.2 2.5 5.4 C0 5.8 -2.5 6.4 -4.6 6.4 C-5.5 3 -6.5 0 -8.4 -2.8Z" fill="url(#tamg)" />
</g>
<g transform="translate(423.55 1028.96) rotate(0) scale(0.9500)">
<path d="M-8.4 -2.8 C-5 -3.5 0 -5 2.3 -8.6 C2.8 -5 4 -2 5.6 0.5 C7 3 8 5.5 8.8 8.4 C6.5 6 4.5 5.2 2.5 5.4 C0 5.8 -2.5 6.4 -4.6 6.4 C-5.5 3 -6.5 0 -8.4 -2.8Z" fill="url(#tamg)" />
</g>
<g transform="translate(439.37 1027.21) rotate(0) scale(0.9500)">
<path d="M-8.4 -2.8 C-5 -3.5 0 -5 2.3 -8.6 C2.8 -5 4 -2 5.6 0.5 C7 3 8 5.5 8.8 8.4 C6.5 6 4.5 5.2 2.5 5.4 C0 5.8 -2.5 6.4 -4.6 6.4 C-5.5 3 -6.5 0 -8.4 -2.8Z" fill="url(#tamg)" />
</g>
<g transform="translate(402.46 1041.27) rotate(0) scale(0.9500)">
<path d="M-8.4 -2.8 C-5 -3.5 0 -5 2.3 -8.6 C2.8 -5 4 -2 5.6 0.5 C7 3 8 5.5 8.8 8.4 C6.5 6 4.5 5.2 2.5 5.4 C0 5.8 -2.5 6.4 -4.6 6.4 C-5.5 3 -6.5 0 -8.4 -2.8Z" fill="url(#tamg)" />
</g>
<g transform="translate(383.13 1053.57) rotate(0) scale(0.9500)">
<path d="M-8.4 -2.8 C-5 -3.5 0 -5 2.3 -8.6 C2.8 -5 4 -2 5.6 0.5 C7 3 8 5.5 8.8 8.4 C6.5 6 4.5 5.2 2.5 5.4 C0 5.8 -2.5 6.4 -4.6 6.4 C-5.5 3 -6.5 0 -8.4 -2.8Z" fill="url(#tamg)" />
</g>
<g transform="translate(428.82 1049.35) rotate(0) scale(0.9500)">
<path d="M-8.4 -2.8 C-5 -3.5 0 -5 2.3 -8.6 C2.8 -5 4 -2 5.6 0.5 C7 3 8 5.5 8.8 8.4 C6.5 6 4.5 5.2 2.5 5.4 C0 5.8 -2.5 6.4 -4.6 6.4 C-5.5 3 -6.5 0 -8.4 -2.8Z" fill="url(#tamg)" />
</g>
<g transform="translate(400.7 1062.36) rotate(0) scale(0.9500)">
<path d="M-8.4 -2.8 C-5 -3.5 0 -5 2.3 -8.6 C2.8 -5 4 -2 5.6 0.5 C7 3 8 5.5 8.8 8.4 C6.5 6 4.5 5.2 2.5 5.4 C0 5.8 -2.5 6.4 -4.6 6.4 C-5.5 3 -6.5 0 -8.4 -2.8Z" fill="url(#tamg)" />
</g>
<g transform="translate(420.04 1064.11) rotate(0) scale(0.9500)">
<path d="M-8.4 -2.8 C-5 -3.5 0 -5 2.3 -8.6 C2.8 -5 4 -2 5.6 0.5 C7 3 8 5.5 8.8 8.4 C6.5 6 4.5 5.2 2.5 5.4 C0 5.8 -2.5 6.4 -4.6 6.4 C-5.5 3 -6.5 0 -8.4 -2.8Z" fill="url(#tamg)" />
</g>
<line x1="457.64" y1="1043.02" x2="470.3" y2="1043.02" stroke="#000" stroke-width="1.6" />
<line x1="463.97" y1="1036.7" x2="463.97" y2="1049.35" stroke="#000" stroke-width="1.6" />
<g transform="translate(507.91 1013.15) rotate(-25)">
<ellipse cx="0" cy="0" rx="4.56" ry="5.52" fill="#8fc7ee" />
<ellipse cx="0.3" cy="1.68" rx="2.4" ry="2.64" fill="#5aa6dc" />
<circle cx="0.3" cy="1.92" r="1.25" fill="#2f8f8f" />
</g>
<g transform="translate(527.24 1017.72) rotate(-25)">
<ellipse cx="0" cy="0" rx="4.56" ry="5.52" fill="#8fc7ee" />
<ellipse cx="0.3" cy="1.68" rx="2.4" ry="2.64" fill="#5aa6dc" />
<circle cx="0.3" cy="1.92" r="1.25" fill="#2f8f8f" />
</g>
<g transform="translate(490.33 1023.69) rotate(-25)">
<ellipse cx="0" cy="0" rx="4.56" ry="5.52" fill="#8fc7ee" />
<ellipse cx="0.3" cy="1.68" rx="2.4" ry="2.64" fill="#5aa6dc" />
<circle cx="0.3" cy="1.92" r="1.25" fill="#2f8f8f" />
</g>
<g transform="translate(514.94 1027.21) rotate(-25)">
<ellipse cx="0" cy="0" rx="4.56" ry="5.52" fill="#8fc7ee" />
<ellipse cx="0.3" cy="1.68" rx="2.4" ry="2.64" fill="#5aa6dc" />
<circle cx="0.3" cy="1.92" r="1.25" fill="#2f8f8f" />
</g>
<g transform="translate(541.3 1030.72) rotate(-25)">
<ellipse cx="0" cy="0" rx="4.56" ry="5.52" fill="#8fc7ee" />
<ellipse cx="0.3" cy="1.68" rx="2.4" ry="2.64" fill="#5aa6dc" />
<circle cx="0.3" cy="1.92" r="1.25" fill="#2f8f8f" />
</g>
<g transform="translate(486.82 1035.99) rotate(-25)">
<ellipse cx="0" cy="0" rx="4.56" ry="5.52" fill="#8fc7ee" />
<ellipse cx="0.3" cy="1.68" rx="2.4" ry="2.64" fill="#5aa6dc" />
<circle cx="0.3" cy="1.92" r="1.25" fill="#2f8f8f" />
</g>
<g transform="translate(502.64 1033.18) rotate(-25)">
<ellipse cx="0" cy="0" rx="4.56" ry="5.52" fill="#8fc7ee" />
<ellipse cx="0.3" cy="1.68" rx="2.4" ry="2.64" fill="#5aa6dc" />
<circle cx="0.3" cy="1.92" r="1.25" fill="#2f8f8f" />
</g>
<g transform="translate(525.48 1037.75) rotate(-25)">
<ellipse cx="0" cy="0" rx="4.56" ry="5.52" fill="#8fc7ee" />
<ellipse cx="0.3" cy="1.68" rx="2.4" ry="2.64" fill="#5aa6dc" />
<circle cx="0.3" cy="1.92" r="1.25" fill="#2f8f8f" />
</g>
<g transform="translate(499.12 1045.83) rotate(-25)">
<ellipse cx="0" cy="0" rx="4.56" ry="5.52" fill="#8fc7ee" />
<ellipse cx="0.3" cy="1.68" rx="2.4" ry="2.64" fill="#5aa6dc" />
<circle cx="0.3" cy="1.92" r="1.25" fill="#2f8f8f" />
</g>
<g transform="translate(513.88 1041.27) rotate(-25)">
<ellipse cx="0" cy="0" rx="4.56" ry="5.52" fill="#8fc7ee" />
<ellipse cx="0.3" cy="1.68" rx="2.4" ry="2.64" fill="#5aa6dc" />
<circle cx="0.3" cy="1.92" r="1.25" fill="#2f8f8f" />
</g>
<g transform="translate(543.06 1049.35) rotate(-25)">
<ellipse cx="0" cy="0" rx="4.56" ry="5.52" fill="#8fc7ee" />
<ellipse cx="0.3" cy="1.68" rx="2.4" ry="2.64" fill="#5aa6dc" />
<circle cx="0.3" cy="1.92" r="1.25" fill="#2f8f8f" />
</g>
<g transform="translate(511.42 1053.57) rotate(-25)">
<ellipse cx="0" cy="0" rx="4.56" ry="5.52" fill="#8fc7ee" />
<ellipse cx="0.3" cy="1.68" rx="2.4" ry="2.64" fill="#5aa6dc" />
<circle cx="0.3" cy="1.92" r="1.25" fill="#2f8f8f" />
</g>
<g transform="translate(525.48 1055.33) rotate(-25)">
<ellipse cx="0" cy="0" rx="4.56" ry="5.52" fill="#8fc7ee" />
<ellipse cx="0.3" cy="1.68" rx="2.4" ry="2.64" fill="#5aa6dc" />
<circle cx="0.3" cy="1.92" r="1.25" fill="#2f8f8f" />
</g>
<g transform="translate(499.12 1062.36) rotate(-25)">
<ellipse cx="0" cy="0" rx="4.56" ry="5.52" fill="#8fc7ee" />
<ellipse cx="0.3" cy="1.68" rx="2.4" ry="2.64" fill="#5aa6dc" />
<circle cx="0.3" cy="1.92" r="1.25" fill="#2f8f8f" />
</g>
<text x="388.4" y="1111.26" font-size="23.64">TAM</text>
<text x="468.19" y="1111.26" font-size="23.31">MC38 cells</text>
<line x1="458" y1="1106" x2="458" y2="1146.43" stroke="#000" stroke-width="3.2" />
<path d="M458 1162.53 L466.5 1139.53 L458 1145.97 L449.5 1139.53 Z" fill="#000" />
<text x="414.06" y="1179.05" font-size="23.52">Recipient</text>
<g transform="translate(359.7 1154.6) scale(0.11550 0.11360)">
<path d="M540 690 C450 665 350 612 235 603 C160 598 135 640 170 680 C200 712 262 722 288 752" fill="none" stroke="#bd8a85" stroke-width="30" stroke-linecap="round"/>
<path d="M530 785 L462 808 L468 832 L545 835 Z" fill="#bd8a85" />
<path d="M1035 525 L1060 425 C1125 445 1172 492 1182 560 Z" fill="#4b4544" />
<path d="M1078 452 C1122 472 1160 512 1176 556 L1140 535 C1125 500 1105 475 1078 452Z" fill="#c59792" />
<path d="M688 985 L748 985 L742 1058 L770 1085 L768 1108 L700 1100 L642 1100 L640 1080 L690 1058 Z" fill="#bd8a85" />
<path d="M1000 920 L1056 920 L1046 978 L1112 1012 L1100 1030 L1022 1036 L990 1000 Z" fill="#bd8a85" />
<path d="M520 700 C520 620 600 572 700 552 C800 532 900 562 960 545 C1000 532 1030 520 1060 512 L1180 560 C1222 585 1252 600 1266 630 C1272 652 1250 672 1230 692 C1200 732 1160 782 1130 812 C1110 852 1092 892 1062 930 L990 925 C900 932 820 942 772 962 L762 995 L680 995 C672 952 662 902 640 882 C570 852 512 782 520 700 Z" fill="#4b4544" />
<path d="M640 882 C662 902 672 952 680 995 L762 995 L772 962 C740 930 700 900 640 882Z" fill="#3b3635" />
<ellipse cx="835" cy="545" rx="100" ry="106" fill="#c59792" />
<ellipse cx="862" cy="572" rx="42" ry="55" fill="#b07f7b" />
<ellipse cx="1030" cy="605" rx="27" ry="21" fill="#171212" />
<ellipse cx="1238" cy="632" rx="24" ry="20" fill="#bd8a85" />
<path d="M600 690 C590 655 640 640 690 652 C740 640 790 655 800 700 C830 740 825 790 790 815 C760 835 720 815 690 820 C650 835 610 810 605 770 C585 740 590 710 600 690Z" fill="#8fc6ee" />
<circle cx="730.24" cy="768.85" r="14.77" fill="#6aaede" />
<circle cx="789.35" cy="768.59" r="15.53" fill="#b9dcf5" />
<circle cx="620.37" cy="730.19" r="15.66" fill="#6aaede" />
<circle cx="735.06" cy="791.13" r="10.68" fill="#b9dcf5" />
<circle cx="701.78" cy="699.52" r="13.26" fill="#6aaede" />
<circle cx="721.18" cy="666.84" r="11.3" fill="#b9dcf5" />
<circle cx="666.7" cy="793.29" r="14.59" fill="#6aaede" />
<circle cx="644.53" cy="776.6" r="10.83" fill="#b9dcf5" />
<circle cx="729.23" cy="682.74" r="10.01" fill="#6aaede" />
<circle cx="776.21" cy="694.32" r="11.29" fill="#b9dcf5" />
<circle cx="796.75" cy="787.14" r="11.74" fill="#6aaede" />
<circle cx="792.87" cy="740.49" r="14.07" fill="#b9dcf5" />
<circle cx="652.88" cy="796.74" r="14.14" fill="#6aaede" />
<circle cx="793.81" cy="790.12" r="11.79" fill="#b9dcf5" />
<circle cx="681.82" cy="688.23" r="10.87" fill="#6aaede" />
<circle cx="627.05" cy="707.19" r="13.62" fill="#b9dcf5" />
<circle cx="615.63" cy="759.91" r="12.03" fill="#6aaede" />
<circle cx="672.34" cy="779.59" r="12.88" fill="#b9dcf5" />
<circle cx="673.42" cy="732.37" r="14.23" fill="#6aaede" />
<circle cx="625.55" cy="801.51" r="10.14" fill="#b9dcf5" />
<circle cx="753.71" cy="783.28" r="10.11" fill="#6aaede" />
<circle cx="760.73" cy="716.27" r="13.47" fill="#b9dcf5" />
<circle cx="616.68" cy="671.54" r="11.09" fill="#6aaede" />
<circle cx="791.71" cy="692.51" r="14.53" fill="#b9dcf5" />
<circle cx="786.99" cy="796.89" r="12.07" fill="#6aaede" />
<circle cx="680.64" cy="738.46" r="14.65" fill="#b9dcf5" />
<g transform="translate(440 203) rotate(-23)">
<rect x="-30" y="-4" width="60" height="13" fill="#a4adb4" rx="3" />
<rect x="-7" y="8" width="14" height="70" fill="#b4bcc3" />
<rect x="-46" y="74" width="92" height="15" fill="#c3cad0" rx="3" />
<rect x="-28" y="89" width="56" height="300" fill="#e6ebee" stroke="#8f999f" stroke-width="6" />
<rect x="-9" y="100" width="18" height="220" fill="#f7f9fa" />
<rect x="-22" y="325" width="44" height="60" fill="#7fc4ec" />
<rect x="-10" y="389" width="20" height="18" fill="#8f999f" />
<line x1="0" y1="405" x2="0" y2="490" stroke="#777" stroke-width="4" />
</g>
</g>
<text x="209.14" y="1225.04" font-size="24.4"><tspan>CD45</tspan><tspan font-size="21.96" dy="-10.25">-</tspan><tspan dy="10.25">  Epcam</tspan><tspan font-size="14.64" dy="-8.78">+</tspan></text>
<line x1="300.53" y1="1239.86" x2="255.12" y2="1239.86" stroke="#000" stroke-width="3.2" />
<path d="M239.02 1239.86 L262.02 1248.36 L255.58 1239.86 L262.02 1231.36 Z" fill="#000" />
<text x="239.72" y="1269.28" font-size="23.24">MACS</text>
<circle cx="323.11" cy="1246.08" r="2.77" fill="#74b6e4" stroke="#5a9fd4" stroke-width="0.5" />
<circle cx="329.67" cy="1244.18" r="3.2" fill="#a6d3f3" stroke="#5a9fd4" stroke-width="0.5" />
<circle cx="331.34" cy="1243.08" r="3.27" fill="#a6d3f3" stroke="#5a9fd4" stroke-width="0.5" />
<circle cx="328.04" cy="1243.47" r="3.05" fill="#74b6e4" stroke="#5a9fd4" stroke-width="0.5" />
<circle cx="327.23" cy="1237.77" r="3.47" fill="#a6d3f3" stroke="#5a9fd4" stroke-width="0.5" />
<circle cx="331.98" cy="1248.66" r="2.73" fill="#a6d3f3" stroke="#5a9fd4" stroke-width="0.5" />
<circle cx="318.34" cy="1244.19" r="3.31" fill="#74b6e4" stroke="#5a9fd4" stroke-width="0.5" />
<circle cx="330.26" cy="1238.2" r="3.5" fill="#a6d3f3" stroke="#5a9fd4" stroke-width="0.5" />
<circle cx="333.7" cy="1247.87" r="3.41" fill="#a6d3f3" stroke="#5a9fd4" stroke-width="0.5" />
<circle cx="328.24" cy="1237.83" r="2.71" fill="#74b6e4" stroke="#5a9fd4" stroke-width="0.5" />
<circle cx="328.83" cy="1249.08" r="2.94" fill="#a6d3f3" stroke="#5a9fd4" stroke-width="0.5" />
<circle cx="330.89" cy="1240.53" r="3.66" fill="#a6d3f3" stroke="#5a9fd4" stroke-width="0.5" />
<circle cx="330.76" cy="1243.21" r="3.05" fill="#74b6e4" stroke="#5a9fd4" stroke-width="0.5" />
<circle cx="328.09" cy="1244.66" r="3.11" fill="#a6d3f3" stroke="#5a9fd4" stroke-width="0.5" />
<circle cx="331.87" cy="1242.88" r="3.32" fill="#a6d3f3" stroke="#5a9fd4" stroke-width="0.5" />
<circle cx="335.3" cy="1250.31" r="3.67" fill="#74b6e4" stroke="#5a9fd4" stroke-width="0.5" />
<circle cx="329.49" cy="1245.22" r="2.7" fill="#a6d3f3" stroke="#5a9fd4" stroke-width="0.5" />
<circle cx="328.32" cy="1244.35" r="2.7" fill="#a6d3f3" stroke="#5a9fd4" stroke-width="0.5" />
<circle cx="318.36" cy="1244.84" r="3.1" fill="#74b6e4" stroke="#5a9fd4" stroke-width="0.5" />
<circle cx="322.26" cy="1249.86" r="2.71" fill="#a6d3f3" stroke="#5a9fd4" stroke-width="0.5" />
<circle cx="325.78" cy="1242.68" r="3.33" fill="#a6d3f3" stroke="#5a9fd4" stroke-width="0.5" />
<circle cx="331.23" cy="1244.08" r="3.27" fill="#74b6e4" stroke="#5a9fd4" stroke-width="0.5" />
<circle cx="326.41" cy="1242.33" r="2.92" fill="#a6d3f3" stroke="#5a9fd4" stroke-width="0.5" />
<circle cx="340.78" cy="1244.19" r="2.75" fill="#a6d3f3" stroke="#5a9fd4" stroke-width="0.5" />
<circle cx="326.19" cy="1233.88" r="2.88" fill="#74b6e4" stroke="#5a9fd4" stroke-width="0.5" />
<circle cx="327.96" cy="1243.48" r="3.04" fill="#a6d3f3" stroke="#5a9fd4" stroke-width="0.5" />
<circle cx="325.44" cy="1237.16" r="3.53" fill="#a6d3f3" stroke="#5a9fd4" stroke-width="0.5" />
<circle cx="334.51" cy="1247.76" r="3.64" fill="#74b6e4" stroke="#5a9fd4" stroke-width="0.5" />
<circle cx="323.13" cy="1241.01" r="3.08" fill="#a6d3f3" stroke="#5a9fd4" stroke-width="0.5" />
<circle cx="337.51" cy="1243.85" r="2.62" fill="#a6d3f3" stroke="#5a9fd4" stroke-width="0.5" />
<circle cx="331.09" cy="1238.98" r="3.12" fill="#74b6e4" stroke="#5a9fd4" stroke-width="0.5" />
<circle cx="330.91" cy="1251.48" r="2.99" fill="#a6d3f3" stroke="#5a9fd4" stroke-width="0.5" />
<circle cx="336.69" cy="1249.21" r="2.72" fill="#a6d3f3" stroke="#5a9fd4" stroke-width="0.5" />
<circle cx="329.57" cy="1243.36" r="3.54" fill="#74b6e4" stroke="#5a9fd4" stroke-width="0.5" />
<circle cx="331.96" cy="1237.52" r="3.45" fill="#a6d3f3" stroke="#5a9fd4" stroke-width="0.5" />
<circle cx="329.41" cy="1254.18" r="3.11" fill="#a6d3f3" stroke="#5a9fd4" stroke-width="0.5" />
<circle cx="330.65" cy="1255.77" r="3.08" fill="#74b6e4" stroke="#5a9fd4" stroke-width="0.5" />
<circle cx="321.98" cy="1252.13" r="3.04" fill="#a6d3f3" stroke="#5a9fd4" stroke-width="0.5" />
<circle cx="327.32" cy="1241.14" r="3.61" fill="#a6d3f3" stroke="#5a9fd4" stroke-width="0.5" />
<circle cx="329.19" cy="1246.51" r="3.77" fill="#74b6e4" stroke="#5a9fd4" stroke-width="0.5" />
<circle cx="334.5" cy="1254.44" r="3.78" fill="#a6d3f3" stroke="#5a9fd4" stroke-width="0.5" />
<circle cx="328.67" cy="1244.1" r="2.67" fill="#a6d3f3" stroke="#5a9fd4" stroke-width="0.5" />
<circle cx="330.98" cy="1250.9" r="3.33" fill="#74b6e4" stroke="#5a9fd4" stroke-width="0.5" />
<circle cx="335.33" cy="1243.29" r="2.77" fill="#a6d3f3" stroke="#5a9fd4" stroke-width="0.5" />
<circle cx="326.07" cy="1243.28" r="2.7" fill="#a6d3f3" stroke="#5a9fd4" stroke-width="0.5" />
<circle cx="320.61" cy="1241.43" r="2.68" fill="#74b6e4" stroke="#5a9fd4" stroke-width="0.5" />
<circle cx="323.3" cy="1238.6" r="2" fill="#f6b080" />
<circle cx="334.3" cy="1237.6" r="2" fill="#f6b080" />
<circle cx="320.3" cy="1248.6" r="2" fill="#f6b080" />
<circle cx="331.3" cy="1249.6" r="2" fill="#f6b080" />
<circle cx="337.3" cy="1247.6" r="2" fill="#f6b080" />
<circle cx="329.3" cy="1243.6" r="2" fill="#f6b080" />
<text x="306.5" y="1299.06" font-size="23.51">tumor</text>
<text x="404.22" y="1308.64" font-size="23.45">C57BL/6J</text>
<g transform="translate(185.24 1233.88) rotate(-25)">
<ellipse cx="0" cy="0" rx="4.56" ry="5.52" fill="#8fc7ee" />
<ellipse cx="0.3" cy="1.68" rx="2.4" ry="2.64" fill="#5aa6dc" />
<circle cx="0.3" cy="1.92" r="1.25" fill="#2f8f8f" />
</g>
<g transform="translate(209.84 1235.29) rotate(-25)">
<ellipse cx="0" cy="0" rx="4.56" ry="5.52" fill="#8fc7ee" />
<ellipse cx="0.3" cy="1.68" rx="2.4" ry="2.64" fill="#5aa6dc" />
<circle cx="0.3" cy="1.92" r="1.25" fill="#2f8f8f" />
</g>
<g transform="translate(197.54 1242.32) rotate(-25)">
<ellipse cx="0" cy="0" rx="4.56" ry="5.52" fill="#8fc7ee" />
<ellipse cx="0.3" cy="1.68" rx="2.4" ry="2.64" fill="#5aa6dc" />
<circle cx="0.3" cy="1.92" r="1.25" fill="#2f8f8f" />
</g>
<g transform="translate(186.29 1248.65) rotate(-25)">
<ellipse cx="0" cy="0" rx="4.56" ry="5.52" fill="#8fc7ee" />
<ellipse cx="0.3" cy="1.68" rx="2.4" ry="2.64" fill="#5aa6dc" />
<circle cx="0.3" cy="1.92" r="1.25" fill="#2f8f8f" />
</g>
<g transform="translate(212.65 1252.16) rotate(-25)">
<ellipse cx="0" cy="0" rx="4.56" ry="5.52" fill="#8fc7ee" />
<ellipse cx="0.3" cy="1.68" rx="2.4" ry="2.64" fill="#5aa6dc" />
<circle cx="0.3" cy="1.92" r="1.25" fill="#2f8f8f" />
</g>
<g transform="translate(195.08 1254.62) rotate(-25)">
<ellipse cx="0" cy="0" rx="4.56" ry="5.52" fill="#8fc7ee" />
<ellipse cx="0.3" cy="1.68" rx="2.4" ry="2.64" fill="#5aa6dc" />
<circle cx="0.3" cy="1.92" r="1.25" fill="#2f8f8f" />
</g>
<line x1="179.26" y1="1240.91" x2="161.27" y2="1240.91" stroke="#000" stroke-width="3.2" />
<path d="M145.17 1240.91 L168.17 1249.41 L161.73 1240.91 L168.17 1232.41 Z" fill="#000" />
<path d="M28.12 1224.04 C36.91 1209.98 47.45 1209.98 58 1222.28 S80.84 1234.59 89.63 1220.53" fill="none" stroke="#e8141c" stroke-width="2" />
<path d="M39.37 1245.13 C48.15 1231.07 58.7 1231.07 69.24 1243.37 S92.09 1255.68 100.88 1241.62" fill="none" stroke="#1565c0" stroke-width="2" />
<path d="M48.15 1267.28 C56.94 1253.22 67.49 1253.22 78.03 1265.52 S100.88 1277.82 109.67 1263.76" fill="none" stroke="#f5a623" stroke-width="2" />
<text x="23.9" y="1301.31" font-size="23.63">RNA-Seq</text>
</g>
<g id="p-h">
<text transform="translate(565 961.5) scale(1 1)" font-size="57" font-weight="bold">h</text>
<text x="790.39" y="1030.41" font-size="23.78">FAK signaling</text>
<text x="621.03" y="1229.15" font-size="23.49" transform="rotate(-90 621.03 1229.15)">Enrichment Score</text>
<line x1="667.14" y1="1064.52" x2="1051.19" y2="1064.52" stroke="#d8d8d8" stroke-width="0.8" stroke-dasharray="2 2"/>
<line x1="667.14" y1="1090.48" x2="1051.19" y2="1090.48" stroke="#d8d8d8" stroke-width="0.8" stroke-dasharray="2 2"/>
<line x1="667.14" y1="1116.19" x2="1051.19" y2="1116.19" stroke="#d8d8d8" stroke-width="0.8" stroke-dasharray="2 2"/>
<line x1="667.14" y1="1141.9" x2="1051.19" y2="1141.9" stroke="#d8d8d8" stroke-width="0.8" stroke-dasharray="2 2"/>
<line x1="667.14" y1="1167.86" x2="1051.19" y2="1167.86" stroke="#d8d8d8" stroke-width="0.8" stroke-dasharray="2 2"/>
<line x1="667.14" y1="1193.57" x2="1051.19" y2="1193.57" stroke="#d8d8d8" stroke-width="0.8" stroke-dasharray="2 2"/>
<line x1="750" y1="1057.14" x2="750" y2="1228.57" stroke="#d8d8d8" stroke-width="0.8" stroke-dasharray="2 2"/>
<line x1="834.05" y1="1057.14" x2="834.05" y2="1228.57" stroke="#d8d8d8" stroke-width="0.8" stroke-dasharray="2 2"/>
<line x1="918.33" y1="1057.14" x2="918.33" y2="1228.57" stroke="#d8d8d8" stroke-width="0.8" stroke-dasharray="2 2"/>
<line x1="1001.67" y1="1057.14" x2="1001.67" y2="1228.57" stroke="#d8d8d8" stroke-width="0.8" stroke-dasharray="2 2"/>
<line x1="667.14" y1="1057.14" x2="1051.19" y2="1057.14" stroke="#c4c4c4" stroke-width="1.3" />
<line x1="667.14" y1="1228.57" x2="1051.19" y2="1228.57" stroke="#c4c4c4" stroke-width="1.3" />
<line x1="667.14" y1="1219.76" x2="1051.19" y2="1219.76" stroke="#b0b0b0" stroke-width="1.3" />
<line x1="667.14" y1="1057.14" x2="667.14" y2="1300.48" stroke="#c4c4c4" stroke-width="1" />
<line x1="667.14" y1="1285.71" x2="1051.19" y2="1285.71" stroke="#c4c4c4" stroke-width="1" />
<line x1="667.14" y1="1300.48" x2="1051.19" y2="1300.48" stroke="#c4c4c4" stroke-width="1" />
<rect x="666.67" y="1286.21" width="73.63" height="13.76" fill="#f04848" />
<rect x="740" y="1286.21" width="12.2" height="13.76" fill="#f87080" />
<rect x="751.9" y="1286.21" width="14.35" height="13.76" fill="#f98c8c" />
<rect x="765.95" y="1286.21" width="137.44" height="13.76" fill="#fbb9e0" />
<rect x="903.1" y="1286.21" width="75.78" height="13.76" fill="#cfcffc" />
<rect x="978.57" y="1286.21" width="8.63" height="13.76" fill="#8888f4" />
<rect x="986.9" y="1286.21" width="31.25" height="13.76" fill="#6a5be8" />
<rect x="1017.86" y="1286.21" width="13.4" height="13.76" fill="#2b10c8" />
<rect x="1030.95" y="1286.21" width="3.16" height="13.76" fill="#5a20b0" />
<line x1="667.14" y1="1230.95" x2="667.14" y2="1285.71" stroke="#222" stroke-width="0.9" opacity="0.85"/>
<line x1="667.14" y1="1285.71" x2="667.14" y2="1299.48" stroke="#555" stroke-width="0.9" opacity="0.3"/>
<line x1="672.62" y1="1230.95" x2="672.62" y2="1285.71" stroke="#222" stroke-width="0.9" opacity="0.85"/>
<line x1="672.62" y1="1285.71" x2="672.62" y2="1299.48" stroke="#555" stroke-width="0.9" opacity="0.3"/>
<line x1="677.38" y1="1230.95" x2="677.38" y2="1285.71" stroke="#222" stroke-width="0.9" opacity="0.85"/>
<line x1="677.38" y1="1285.71" x2="677.38" y2="1299.48" stroke="#555" stroke-width="0.9" opacity="0.3"/>
<line x1="678.57" y1="1230.95" x2="678.57" y2="1285.71" stroke="#222" stroke-width="0.9" opacity="0.85"/>
<line x1="678.57" y1="1285.71" x2="678.57" y2="1299.48" stroke="#555" stroke-width="0.9" opacity="0.3"/>
<line x1="681.43" y1="1230.95" x2="681.43" y2="1285.71" stroke="#222" stroke-width="0.9" opacity="0.85"/>
<line x1="681.43" y1="1285.71" x2="681.43" y2="1299.48" stroke="#555" stroke-width="0.9" opacity="0.3"/>
<line x1="683.81" y1="1230.95" x2="683.81" y2="1285.71" stroke="#222" stroke-width="0.9" opacity="0.85"/>
<line x1="683.81" y1="1285.71" x2="683.81" y2="1299.48" stroke="#555" stroke-width="0.9" opacity="0.3"/>
<line x1="689.76" y1="1230.95" x2="689.76" y2="1285.71" stroke="#222" stroke-width="0.9" opacity="0.85"/>
<line x1="689.76" y1="1285.71" x2="689.76" y2="1299.48" stroke="#555" stroke-width="0.9" opacity="0.3"/>
<line x1="698.33" y1="1230.95" x2="698.33" y2="1285.71" stroke="#222" stroke-width="0.9" opacity="0.85"/>
<line x1="698.33" y1="1285.71" x2="698.33" y2="1299.48" stroke="#555" stroke-width="0.9" opacity="0.3"/>
<line x1="705.48" y1="1230.95" x2="705.48" y2="1285.71" stroke="#222" stroke-width="0.9" opacity="0.85"/>
<line x1="705.48" y1="1285.71" x2="705.48" y2="1299.48" stroke="#555" stroke-width="0.9" opacity="0.3"/>
<line x1="707.14" y1="1230.95" x2="707.14" y2="1285.71" stroke="#222" stroke-width="0.9" opacity="0.85"/>
<line x1="707.14" y1="1285.71" x2="707.14" y2="1299.48" stroke="#555" stroke-width="0.9" opacity="0.3"/>
<line x1="708.33" y1="1230.95" x2="708.33" y2="1285.71" stroke="#222" stroke-width="0.9" opacity="0.85"/>
<line x1="708.33" y1="1285.71" x2="708.33" y2="1299.48" stroke="#555" stroke-width="0.9" opacity="0.3"/>
<line x1="711.9" y1="1230.95" x2="711.9" y2="1285.71" stroke="#222" stroke-width="0.9" opacity="0.85"/>
<line x1="711.9" y1="1285.71" x2="711.9" y2="1299.48" stroke="#555" stroke-width="0.9" opacity="0.3"/>
<line x1="713.1" y1="1230.95" x2="713.1" y2="1285.71" stroke="#222" stroke-width="0.9" opacity="0.85"/>
<line x1="713.1" y1="1285.71" x2="713.1" y2="1299.48" stroke="#555" stroke-width="0.9" opacity="0.3"/>
<line x1="714.29" y1="1230.95" x2="714.29" y2="1285.71" stroke="#222" stroke-width="0.9" opacity="0.85"/>
<line x1="714.29" y1="1285.71" x2="714.29" y2="1299.48" stroke="#555" stroke-width="0.9" opacity="0.3"/>
<line x1="719.05" y1="1230.95" x2="719.05" y2="1285.71" stroke="#222" stroke-width="0.9" opacity="0.85"/>
<line x1="719.05" y1="1285.71" x2="719.05" y2="1299.48" stroke="#555" stroke-width="0.9" opacity="0.3"/>
<line x1="723.81" y1="1230.95" x2="723.81" y2="1285.71" stroke="#222" stroke-width="0.9" opacity="0.85"/>
<line x1="723.81" y1="1285.71" x2="723.81" y2="1299.48" stroke="#555" stroke-width="0.9" opacity="0.3"/>
<line x1="729.05" y1="1230.95" x2="729.05" y2="1285.71" stroke="#222" stroke-width="0.9" opacity="0.85"/>
<line x1="729.05" y1="1285.71" x2="729.05" y2="1299.48" stroke="#555" stroke-width="0.9" opacity="0.3"/>
<line x1="732.14" y1="1230.95" x2="732.14" y2="1285.71" stroke="#222" stroke-width="0.9" opacity="0.85"/>
<line x1="732.14" y1="1285.71" x2="732.14" y2="1299.48" stroke="#555" stroke-width="0.9" opacity="0.3"/>
<line x1="735.71" y1="1230.95" x2="735.71" y2="1285.71" stroke="#222" stroke-width="0.9" opacity="0.85"/>
<line x1="735.71" y1="1285.71" x2="735.71" y2="1299.48" stroke="#555" stroke-width="0.9" opacity="0.3"/>
<line x1="738.57" y1="1230.95" x2="738.57" y2="1285.71" stroke="#222" stroke-width="0.9" opacity="0.85"/>
<line x1="738.57" y1="1285.71" x2="738.57" y2="1299.48" stroke="#555" stroke-width="0.9" opacity="0.3"/>
<line x1="739.76" y1="1230.95" x2="739.76" y2="1285.71" stroke="#222" stroke-width="0.9" opacity="0.85"/>
<line x1="739.76" y1="1285.71" x2="739.76" y2="1299.48" stroke="#555" stroke-width="0.9" opacity="0.3"/>
<line x1="755.48" y1="1230.95" x2="755.48" y2="1285.71" stroke="#222" stroke-width="0.9" opacity="0.85"/>
<line x1="755.48" y1="1285.71" x2="755.48" y2="1299.48" stroke="#555" stroke-width="0.9" opacity="0.3"/>
<line x1="758.33" y1="1230.95" x2="758.33" y2="1285.71" stroke="#222" stroke-width="0.9" opacity="0.85"/>
<line x1="758.33" y1="1285.71" x2="758.33" y2="1299.48" stroke="#555" stroke-width="0.9" opacity="0.3"/>
<line x1="769.52" y1="1230.95" x2="769.52" y2="1285.71" stroke="#222" stroke-width="0.9" opacity="0.85"/>
<line x1="769.52" y1="1285.71" x2="769.52" y2="1299.48" stroke="#555" stroke-width="0.9" opacity="0.3"/>
<line x1="770.71" y1="1230.95" x2="770.71" y2="1285.71" stroke="#222" stroke-width="0.9" opacity="0.85"/>
<line x1="770.71" y1="1285.71" x2="770.71" y2="1299.48" stroke="#555" stroke-width="0.9" opacity="0.3"/>
<line x1="771.9" y1="1230.95" x2="771.9" y2="1285.71" stroke="#222" stroke-width="0.9" opacity="0.85"/>
<line x1="771.9" y1="1285.71" x2="771.9" y2="1299.48" stroke="#555" stroke-width="0.9" opacity="0.3"/>
<line x1="773.33" y1="1230.95" x2="773.33" y2="1285.71" stroke="#222" stroke-width="0.9" opacity="0.85"/>
<line x1="773.33" y1="1285.71" x2="773.33" y2="1299.48" stroke="#555" stroke-width="0.9" opacity="0.3"/>
<line x1="785" y1="1230.95" x2="785" y2="1285.71" stroke="#222" stroke-width="0.9" opacity="0.85"/>
<line x1="785" y1="1285.71" x2="785" y2="1299.48" stroke="#555" stroke-width="0.9" opacity="0.3"/>
<line x1="789.29" y1="1230.95" x2="789.29" y2="1285.71" stroke="#222" stroke-width="0.9" opacity="0.85"/>
<line x1="789.29" y1="1285.71" x2="789.29" y2="1299.48" stroke="#555" stroke-width="0.9" opacity="0.3"/>
<line x1="903.57" y1="1230.95" x2="903.57" y2="1285.71" stroke="#222" stroke-width="0.9" opacity="0.85"/>
<line x1="903.57" y1="1285.71" x2="903.57" y2="1299.48" stroke="#555" stroke-width="0.9" opacity="0.3"/>
<line x1="915.48" y1="1230.95" x2="915.48" y2="1285.71" stroke="#222" stroke-width="0.9" opacity="0.85"/>
<line x1="915.48" y1="1285.71" x2="915.48" y2="1299.48" stroke="#555" stroke-width="0.9" opacity="0.3"/>
<line x1="927.86" y1="1230.95" x2="927.86" y2="1285.71" stroke="#222" stroke-width="0.9" opacity="0.85"/>
<line x1="927.86" y1="1285.71" x2="927.86" y2="1299.48" stroke="#555" stroke-width="0.9" opacity="0.3"/>
<line x1="932.86" y1="1230.95" x2="932.86" y2="1285.71" stroke="#222" stroke-width="0.9" opacity="0.85"/>
<line x1="932.86" y1="1285.71" x2="932.86" y2="1299.48" stroke="#555" stroke-width="0.9" opacity="0.3"/>
<line x1="944.05" y1="1230.95" x2="944.05" y2="1285.71" stroke="#222" stroke-width="0.9" opacity="0.85"/>
<line x1="944.05" y1="1285.71" x2="944.05" y2="1299.48" stroke="#555" stroke-width="0.9" opacity="0.3"/>
<line x1="947.62" y1="1230.95" x2="947.62" y2="1285.71" stroke="#222" stroke-width="0.9" opacity="0.85"/>
<line x1="947.62" y1="1285.71" x2="947.62" y2="1299.48" stroke="#555" stroke-width="0.9" opacity="0.3"/>
<line x1="951.9" y1="1230.95" x2="951.9" y2="1285.71" stroke="#222" stroke-width="0.9" opacity="0.85"/>
<line x1="951.9" y1="1285.71" x2="951.9" y2="1299.48" stroke="#555" stroke-width="0.9" opacity="0.3"/>
<line x1="952.86" y1="1230.95" x2="952.86" y2="1285.71" stroke="#222" stroke-width="0.9" opacity="0.85"/>
<line x1="952.86" y1="1285.71" x2="952.86" y2="1299.48" stroke="#555" stroke-width="0.9" opacity="0.3"/>
<line x1="960.71" y1="1230.95" x2="960.71" y2="1285.71" stroke="#222" stroke-width="0.9" opacity="0.85"/>
<line x1="960.71" y1="1285.71" x2="960.71" y2="1299.48" stroke="#555" stroke-width="0.9" opacity="0.3"/>
<line x1="967.38" y1="1230.95" x2="967.38" y2="1285.71" stroke="#222" stroke-width="0.9" opacity="0.85"/>
<line x1="967.38" y1="1285.71" x2="967.38" y2="1299.48" stroke="#555" stroke-width="0.9" opacity="0.3"/>
<polyline points="667.14,1219.76 667.14,1187.14 672.62,1191.67 672.62,1173.81 677.38,1176.9 677.86,1161.9 678.57,1161.9 678.57,1149.05 680.95,1150 680.95,1137.62 683.81,1138.81 683.81,1128.1 689.29,1131.67 689.76,1121.43 697.62,1126.9 698.33,1118.1 705.24,1123.33 705.95,1115.71 707.14,1109.05 709.05,1109.52 709.05,1103.1 711.9,1104.29 712.38,1097.62 713.81,1098.33 713.81,1086.43 718.33,1090 719.52,1084.76 722.62,1087.14 723.81,1082.86 728.1,1085.71 729.29,1078.57 731.43,1080 732.14,1075 735.24,1076.9 736.19,1069.76 738.57,1070.95 739.52,1064.29 754.76,1075.24 758.33,1073.81 769.05,1081.67 773.81,1078.1 914.29,1176.9 916.67,1176.19 926.19,1183.57 928.1,1182.38 932.14,1185.24 933.33,1181.19 943.33,1188.1 944.52,1182.14 946.43,1183.57 947.62,1180.48 950.48,1182.14 952.86,1174.52 959.52,1179.29 961.43,1175.24 966.67,1178.57 968.33,1172.86 1033.81,1219.76" fill="none" stroke="#12f012" stroke-width="2.6" stroke-linejoin="miter" />
<text x="664.5" y="1067.8" font-size="24.5" text-anchor="end">0.6</text>
<text x="664.5" y="1094" font-size="24.5" text-anchor="end">0.5</text>
<text x="664.5" y="1120.2" font-size="24.5" text-anchor="end">0.4</text>
<text x="664.5" y="1146.9" font-size="24.5" text-anchor="end">0.3</text>
<text x="664.5" y="1173.8" font-size="24.5" text-anchor="end">0.2</text>
<text x="664.5" y="1200.5" font-size="24.5" text-anchor="end">0.1</text>
<text x="664.5" y="1227.4" font-size="24.5" text-anchor="end">0.0</text>
<text x="828.57" y="1083.17" font-size="23.4">NES = 1.232</text>
<text x="830.24" y="1118.17" font-size="23.36"><tspan>FDR </tspan><tspan font-style="italic">q</tspan><tspan>-value = 0.101</tspan></text>
<text x="649.59" y="1332.82" font-size="23.58"><tspan font-style="italic">Id1</tspan><tspan font-style="italic" font-size="19.8" dy="-9.43">f/f</tspan></text>
<text x="1018.73" y="1332.82" font-size="22.58"><tspan font-style="italic">Id1</tspan><tspan font-style="italic" font-size="18.97" dy="-9.03">Lyz-KO</tspan></text>
</g>
<g id="p-i">
<text transform="translate(1106 959.8) scale(1 1)" font-size="57" font-weight="bold">i</text>
<text x="1315.18" y="1023.67" font-size="23.9">YAP signaling</text>
<text x="1134.8" y="1229.15" font-size="23.49" transform="rotate(-90 1134.8 1229.15)">Enrichment Score</text>
<line x1="1177.46" y1="1071.91" x2="1581.55" y2="1071.91" stroke="#d8d8d8" stroke-width="0.8" stroke-dasharray="2 2"/>
<line x1="1177.46" y1="1099.84" x2="1581.55" y2="1099.84" stroke="#d8d8d8" stroke-width="0.8" stroke-dasharray="2 2"/>
<line x1="1177.46" y1="1127.78" x2="1581.55" y2="1127.78" stroke="#d8d8d8" stroke-width="0.8" stroke-dasharray="2 2"/>
<line x1="1177.46" y1="1155.47" x2="1581.55" y2="1155.47" stroke="#d8d8d8" stroke-width="0.8" stroke-dasharray="2 2"/>
<line x1="1177.46" y1="1183.4" x2="1581.55" y2="1183.4" stroke="#d8d8d8" stroke-width="0.8" stroke-dasharray="2 2"/>
<line x1="1264.76" y1="1044.47" x2="1264.76" y2="1227.06" stroke="#d8d8d8" stroke-width="0.8" stroke-dasharray="2 2"/>
<line x1="1353.32" y1="1044.47" x2="1353.32" y2="1227.06" stroke="#d8d8d8" stroke-width="0.8" stroke-dasharray="2 2"/>
<line x1="1441.37" y1="1044.47" x2="1441.37" y2="1227.06" stroke="#d8d8d8" stroke-width="0.8" stroke-dasharray="2 2"/>
<line x1="1529.67" y1="1044.47" x2="1529.67" y2="1227.06" stroke="#d8d8d8" stroke-width="0.8" stroke-dasharray="2 2"/>
<line x1="1177.46" y1="1044.47" x2="1581.55" y2="1044.47" stroke="#c4c4c4" stroke-width="1.3" />
<line x1="1177.46" y1="1227.06" x2="1581.55" y2="1227.06" stroke="#c4c4c4" stroke-width="1.3" />
<line x1="1177.46" y1="1211.59" x2="1581.55" y2="1211.59" stroke="#b0b0b0" stroke-width="1.3" />
<line x1="1177.46" y1="1044.47" x2="1177.46" y2="1302.29" stroke="#c4c4c4" stroke-width="1" />
<line x1="1177.46" y1="1286.83" x2="1581.55" y2="1286.83" stroke="#c4c4c4" stroke-width="1" />
<line x1="1177.46" y1="1302.29" x2="1581.55" y2="1302.29" stroke="#c4c4c4" stroke-width="1" />
<rect x="1176.96" y="1287.33" width="22" height="14.47" fill="#f04040" />
<rect x="1198.66" y="1287.33" width="64.41" height="14.47" fill="#f85858" />
<rect x="1262.77" y="1287.33" width="16.01" height="14.47" fill="#fa7080" />
<rect x="1278.48" y="1287.33" width="15.77" height="14.47" fill="#fb8c8c" />
<rect x="1293.95" y="1287.33" width="139.49" height="14.47" fill="#fbb9e0" />
<rect x="1433.14" y="1287.33" width="80.62" height="14.47" fill="#cfcffc" />
<rect x="1513.45" y="1287.33" width="6.54" height="14.47" fill="#8888f4" />
<rect x="1519.69" y="1287.33" width="35.47" height="14.47" fill="#6a5be8" />
<rect x="1554.86" y="1287.33" width="7.53" height="14.47" fill="#2b10c8" />
<line x1="1184.2" y1="1228.71" x2="1184.2" y2="1286.83" stroke="#222" stroke-width="0.9" opacity="0.85"/>
<line x1="1184.2" y1="1286.83" x2="1184.2" y2="1301.29" stroke="#555" stroke-width="0.9" opacity="0.3"/>
<line x1="1186.19" y1="1228.71" x2="1186.19" y2="1286.83" stroke="#222" stroke-width="0.9" opacity="0.85"/>
<line x1="1186.19" y1="1286.83" x2="1186.19" y2="1301.29" stroke="#555" stroke-width="0.9" opacity="0.3"/>
<line x1="1191.68" y1="1228.71" x2="1191.68" y2="1286.83" stroke="#222" stroke-width="0.9" opacity="0.85"/>
<line x1="1191.68" y1="1286.83" x2="1191.68" y2="1301.29" stroke="#555" stroke-width="0.9" opacity="0.3"/>
<line x1="1214.88" y1="1228.71" x2="1214.88" y2="1286.83" stroke="#222" stroke-width="0.9" opacity="0.85"/>
<line x1="1214.88" y1="1286.83" x2="1214.88" y2="1301.29" stroke="#555" stroke-width="0.9" opacity="0.3"/>
<line x1="1217.87" y1="1228.71" x2="1217.87" y2="1286.83" stroke="#222" stroke-width="0.9" opacity="0.85"/>
<line x1="1217.87" y1="1286.83" x2="1217.87" y2="1301.29" stroke="#555" stroke-width="0.9" opacity="0.3"/>
<line x1="1222.36" y1="1228.71" x2="1222.36" y2="1286.83" stroke="#222" stroke-width="0.9" opacity="0.85"/>
<line x1="1222.36" y1="1286.83" x2="1222.36" y2="1301.29" stroke="#555" stroke-width="0.9" opacity="0.3"/>
<line x1="1226.1" y1="1228.71" x2="1226.1" y2="1286.83" stroke="#222" stroke-width="0.9" opacity="0.85"/>
<line x1="1226.1" y1="1286.83" x2="1226.1" y2="1301.29" stroke="#555" stroke-width="0.9" opacity="0.3"/>
<line x1="1227.35" y1="1228.71" x2="1227.35" y2="1286.83" stroke="#222" stroke-width="0.9" opacity="0.85"/>
<line x1="1227.35" y1="1286.83" x2="1227.35" y2="1301.29" stroke="#555" stroke-width="0.9" opacity="0.3"/>
<line x1="1228.6" y1="1228.71" x2="1228.6" y2="1286.83" stroke="#222" stroke-width="0.9" opacity="0.85"/>
<line x1="1228.6" y1="1286.83" x2="1228.6" y2="1301.29" stroke="#555" stroke-width="0.9" opacity="0.3"/>
<line x1="1231.09" y1="1228.71" x2="1231.09" y2="1286.83" stroke="#222" stroke-width="0.9" opacity="0.85"/>
<line x1="1231.09" y1="1286.83" x2="1231.09" y2="1301.29" stroke="#555" stroke-width="0.9" opacity="0.3"/>
<line x1="1234.83" y1="1228.71" x2="1234.83" y2="1286.83" stroke="#222" stroke-width="0.9" opacity="0.85"/>
<line x1="1234.83" y1="1286.83" x2="1234.83" y2="1301.29" stroke="#555" stroke-width="0.9" opacity="0.3"/>
<line x1="1244.81" y1="1228.71" x2="1244.81" y2="1286.83" stroke="#222" stroke-width="0.9" opacity="0.85"/>
<line x1="1244.81" y1="1286.83" x2="1244.81" y2="1301.29" stroke="#555" stroke-width="0.9" opacity="0.3"/>
<line x1="1249.8" y1="1228.71" x2="1249.8" y2="1286.83" stroke="#222" stroke-width="0.9" opacity="0.85"/>
<line x1="1249.8" y1="1286.83" x2="1249.8" y2="1301.29" stroke="#555" stroke-width="0.9" opacity="0.3"/>
<line x1="1251.05" y1="1228.71" x2="1251.05" y2="1286.83" stroke="#222" stroke-width="0.9" opacity="0.85"/>
<line x1="1251.05" y1="1286.83" x2="1251.05" y2="1301.29" stroke="#555" stroke-width="0.9" opacity="0.3"/>
<line x1="1252.79" y1="1228.71" x2="1252.79" y2="1286.83" stroke="#222" stroke-width="0.9" opacity="0.85"/>
<line x1="1252.79" y1="1286.83" x2="1252.79" y2="1301.29" stroke="#555" stroke-width="0.9" opacity="0.3"/>
<line x1="1259.28" y1="1228.71" x2="1259.28" y2="1286.83" stroke="#222" stroke-width="0.9" opacity="0.85"/>
<line x1="1259.28" y1="1286.83" x2="1259.28" y2="1301.29" stroke="#555" stroke-width="0.9" opacity="0.3"/>
<line x1="1278.98" y1="1228.71" x2="1278.98" y2="1286.83" stroke="#222" stroke-width="0.9" opacity="0.85"/>
<line x1="1278.98" y1="1286.83" x2="1278.98" y2="1301.29" stroke="#555" stroke-width="0.9" opacity="0.3"/>
<line x1="1285.97" y1="1228.71" x2="1285.97" y2="1286.83" stroke="#222" stroke-width="0.9" opacity="0.85"/>
<line x1="1285.97" y1="1286.83" x2="1285.97" y2="1301.29" stroke="#555" stroke-width="0.9" opacity="0.3"/>
<line x1="1289.21" y1="1228.71" x2="1289.21" y2="1286.83" stroke="#222" stroke-width="0.9" opacity="0.85"/>
<line x1="1289.21" y1="1286.83" x2="1289.21" y2="1301.29" stroke="#555" stroke-width="0.9" opacity="0.3"/>
<line x1="1292.2" y1="1228.71" x2="1292.2" y2="1286.83" stroke="#222" stroke-width="0.9" opacity="0.85"/>
<line x1="1292.2" y1="1286.83" x2="1292.2" y2="1301.29" stroke="#555" stroke-width="0.9" opacity="0.3"/>
<line x1="1309.66" y1="1228.71" x2="1309.66" y2="1286.83" stroke="#222" stroke-width="0.9" opacity="0.85"/>
<line x1="1309.66" y1="1286.83" x2="1309.66" y2="1301.29" stroke="#555" stroke-width="0.9" opacity="0.3"/>
<line x1="1310.91" y1="1228.71" x2="1310.91" y2="1286.83" stroke="#222" stroke-width="0.9" opacity="0.85"/>
<line x1="1310.91" y1="1286.83" x2="1310.91" y2="1301.29" stroke="#555" stroke-width="0.9" opacity="0.3"/>
<line x1="1333.86" y1="1228.71" x2="1333.86" y2="1286.83" stroke="#222" stroke-width="0.9" opacity="0.85"/>
<line x1="1333.86" y1="1286.83" x2="1333.86" y2="1301.29" stroke="#555" stroke-width="0.9" opacity="0.3"/>
<line x1="1357.06" y1="1228.71" x2="1357.06" y2="1286.83" stroke="#222" stroke-width="0.9" opacity="0.85"/>
<line x1="1357.06" y1="1286.83" x2="1357.06" y2="1301.29" stroke="#555" stroke-width="0.9" opacity="0.3"/>
<line x1="1434.88" y1="1228.71" x2="1434.88" y2="1286.83" stroke="#222" stroke-width="0.9" opacity="0.85"/>
<line x1="1434.88" y1="1286.83" x2="1434.88" y2="1301.29" stroke="#555" stroke-width="0.9" opacity="0.3"/>
<line x1="1448.85" y1="1228.71" x2="1448.85" y2="1286.83" stroke="#222" stroke-width="0.9" opacity="0.85"/>
<line x1="1448.85" y1="1286.83" x2="1448.85" y2="1301.29" stroke="#555" stroke-width="0.9" opacity="0.3"/>
<line x1="1463.07" y1="1228.71" x2="1463.07" y2="1286.83" stroke="#222" stroke-width="0.9" opacity="0.85"/>
<line x1="1463.07" y1="1286.83" x2="1463.07" y2="1301.29" stroke="#555" stroke-width="0.9" opacity="0.3"/>
<line x1="1464.32" y1="1228.71" x2="1464.32" y2="1286.83" stroke="#222" stroke-width="0.9" opacity="0.85"/>
<line x1="1464.32" y1="1286.83" x2="1464.32" y2="1301.29" stroke="#555" stroke-width="0.9" opacity="0.3"/>
<line x1="1466.31" y1="1228.71" x2="1466.31" y2="1286.83" stroke="#222" stroke-width="0.9" opacity="0.85"/>
<line x1="1466.31" y1="1286.83" x2="1466.31" y2="1301.29" stroke="#555" stroke-width="0.9" opacity="0.3"/>
<line x1="1469.8" y1="1228.71" x2="1469.8" y2="1286.83" stroke="#222" stroke-width="0.9" opacity="0.85"/>
<line x1="1469.8" y1="1286.83" x2="1469.8" y2="1301.29" stroke="#555" stroke-width="0.9" opacity="0.3"/>
<line x1="1472.3" y1="1228.71" x2="1472.3" y2="1286.83" stroke="#222" stroke-width="0.9" opacity="0.85"/>
<line x1="1472.3" y1="1286.83" x2="1472.3" y2="1301.29" stroke="#555" stroke-width="0.9" opacity="0.3"/>
<line x1="1482.27" y1="1228.71" x2="1482.27" y2="1286.83" stroke="#222" stroke-width="0.9" opacity="0.85"/>
<line x1="1482.27" y1="1286.83" x2="1482.27" y2="1301.29" stroke="#555" stroke-width="0.9" opacity="0.3"/>
<line x1="1499.24" y1="1228.71" x2="1499.24" y2="1286.83" stroke="#222" stroke-width="0.9" opacity="0.85"/>
<line x1="1499.24" y1="1286.83" x2="1499.24" y2="1301.29" stroke="#555" stroke-width="0.9" opacity="0.3"/>
<line x1="1503.48" y1="1228.71" x2="1503.48" y2="1286.83" stroke="#222" stroke-width="0.9" opacity="0.85"/>
<line x1="1503.48" y1="1286.83" x2="1503.48" y2="1301.29" stroke="#555" stroke-width="0.9" opacity="0.3"/>
<line x1="1527.42" y1="1228.71" x2="1527.42" y2="1286.83" stroke="#222" stroke-width="0.9" opacity="0.85"/>
<line x1="1527.42" y1="1286.83" x2="1527.42" y2="1301.29" stroke="#555" stroke-width="0.9" opacity="0.3"/>
<polyline points="1177.46,1212.09 1184.2,1218.33 1184.44,1191.64 1186.94,1193.38 1186.94,1169.19 1191.18,1172.68 1191.68,1150.98 1214.88,1167.69 1214.88,1153.47 1217.37,1155.47 1217.87,1141.75 1221.86,1145.24 1222.36,1132.77 1225.35,1135.26 1225.85,1124.29 1227.85,1124.79 1228.35,1103.58 1231.09,1104.83 1231.59,1094.85 1234.33,1096.1 1234.83,1086.12 1244.81,1093.61 1245.56,1085.38 1249.8,1089.37 1250.3,1074.9 1251.54,1067.42 1252.79,1067.91 1253.29,1060.43 1258.53,1064.92 1259.28,1051.95 1278.48,1066.17 1279.23,1062.43 1285.97,1067.91 1289.71,1064.92 1293.45,1061.93 1445.61,1172.68 1448.1,1173.43 1462.57,1183.9 1463.82,1180.91 1467.31,1181.41 1468.81,1178.42 1470.55,1179.66 1472.3,1176.67 1481.78,1183.4 1482.52,1179.16 1499.24,1192.14 1499.99,1185.9 1502.98,1186.65 1503.73,1180.41 1527.17,1197.62 1527.92,1185.9 1562.1,1211.59" fill="none" stroke="#12f012" stroke-width="2.6" stroke-linejoin="miter" />
<text x="1171" y="1083.2" font-size="24.5" text-anchor="end">0.5</text>
<text x="1171" y="1111.14" font-size="24.5" text-anchor="end">0.4</text>
<text x="1171" y="1138.58" font-size="24.5" text-anchor="end">0.3</text>
<text x="1171" y="1167.26" font-size="24.5" text-anchor="end">0.2</text>
<text x="1171" y="1194.7" font-size="24.5" text-anchor="end">0.1</text>
<text x="1171" y="1222.89" font-size="24.5" text-anchor="end">0.0</text>
<text x="1341.34" y="1090.71" font-size="23.11">NES = 1.361</text>
<text x="1342.84" y="1125.63" font-size="23.5"><tspan>FDR </tspan><tspan font-style="italic">q</tspan><tspan>-value = 0.096</tspan></text>
<text x="1162.14" y="1332.82" font-size="23.14"><tspan font-style="italic">Id1</tspan><tspan font-style="italic" font-size="19.44" dy="-9.25">f/f</tspan></text>
<text x="1530.98" y="1332.82" font-size="22.58"><tspan font-style="italic">Id1</tspan><tspan font-style="italic" font-size="18.97" dy="-9.03">Lyz-KO</tspan></text>
</g>
<g id="p-j">
<text transform="translate(1592 951) scale(1 1)" font-size="57" font-weight="bold">j</text>
<text x="1700.24" y="952.62" font-size="23.89">MC38 cells mixed with</text>
<text x="1705" y="980.71" font-size="24.15">BMDM-derived TAMs</text>
<line x1="1719.29" y1="993.33" x2="1926.9" y2="991.19" stroke="#231815" stroke-width="3.1" />
<text x="1678.1" y="1045" font-size="23.16">kDa</text>
<text x="1746.67" y="1053.81" font-size="24" transform="rotate(-28 1746.67 1053.81)">W/O</text>
<text x="1818.1" y="1052.14" font-size="22" transform="rotate(-28 1818.1 1052.14)"><tspan>Id1</tspan><tspan font-size="18.48" dy="-8.8">f/f</tspan></text>
<text x="1870.95" y="1051.43" font-size="22" transform="rotate(-28 1870.95 1051.43)"><tspan>Id1</tspan><tspan font-size="18.48" dy="-8.8">Lyz-KO</tspan></text>
<rect x="1731.91" y="1056.91" width="184.5" height="55.93" fill="#fafafa" stroke="#1a1718" stroke-width="3.2" />
<rect x="1731.91" y="1124.06" width="184.5" height="55.46" fill="#fafafa" stroke="#1a1718" stroke-width="3.2" />
<rect x="1731.91" y="1188.34" width="184.5" height="55.46" fill="#fafafa" stroke="#1a1718" stroke-width="3.2" />
<rect x="1731.91" y="1254.06" width="184.5" height="55.7" fill="#fafafa" stroke="#1a1718" stroke-width="3.2" />
<text x="1706.19" y="1092.88" font-size="24" text-anchor="end">75</text>
<line x1="1709.76" y1="1083.81" x2="1730.71" y2="1083.81" stroke="#1a1718" stroke-width="2.6" />
<text x="1706.19" y="1153.59" font-size="24" text-anchor="end">130</text>
<line x1="1709.76" y1="1144.29" x2="1730.71" y2="1144.29" stroke="#1a1718" stroke-width="2.6" />
<text x="1706.19" y="1215.5" font-size="24" text-anchor="end">130</text>
<line x1="1709.76" y1="1205.71" x2="1730.71" y2="1205.71" stroke="#1a1718" stroke-width="2.6" />
<text x="1706.19" y="1315.5" font-size="24" text-anchor="end">33</text>
<line x1="1709.76" y1="1304.52" x2="1730.71" y2="1304.52" stroke="#1a1718" stroke-width="2.6" />
<text x="1928.1" y="1098.57" font-size="24.85">Yap</text>
<text x="1928.1" y="1158.1" font-size="23.57">p-Fak</text>
<text x="1928.81" y="1230.71" font-size="22.85">Fak</text>
<text x="1928.1" y="1292.62" font-size="23.23">Gapdh</text>
<text x="1781.19" y="1340.24" font-size="23.62">s.c. model</text>
<g filter="url(#bb1)" opacity="0.8" fill="#0a0a0a"><ellipse cx="1752.86" cy="1084.29" rx="8.57" ry="4.65"/><ellipse cx="1776.43" cy="1084.29" rx="10.71" ry="4.65"/></g>
<g filter="url(#bb1)" opacity="0.35" fill="#0a0a0a"><rect x="1751.43" y="1082.85" width="28.57" height="3.83" rx="1.92"/></g>
<g filter="url(#bb1)" opacity="0.98" fill="#0a0a0a"><rect x="1803.51" y="1080.51" width="37.5" height="7.56" rx="3.78"/><ellipse cx="1831.43" cy="1084.29" rx="11.67" ry="6.3"/></g>
<g filter="url(#bb1)" opacity="0.85" fill="#0a0a0a"><rect x="1860.1" y="1080.1" width="39.81" height="8.38" rx="3.72"/><ellipse cx="1866.43" cy="1084.29" rx="9.05" ry="4.65"/><ellipse cx="1893.57" cy="1084.29" rx="9.05" ry="4.65"/></g>
<g filter="url(#bb1)" opacity="0.9" fill="#0a0a0a"><ellipse cx="1744.29" cy="1149.76" rx="9.52" ry="4.11"/><ellipse cx="1770.48" cy="1149.76" rx="11.9" ry="4.11"/></g>
<g filter="url(#bb1)" opacity="1" fill="#0a0a0a"><rect x="1803.75" y="1146.86" width="41.79" height="7.23" rx="3.61"/><ellipse cx="1814.43" cy="1150.48" rx="13" ry="6.02"/></g>
<g filter="url(#bb1)" opacity="0.45" fill="#0a0a0a"><rect x="1868.1" y="1147.1" width="9.52" height="4.38" rx="2.19"/></g>
<g filter="url(#bb1)" opacity="0.5" fill="#0a0a0a"><rect x="1901.43" y="1146.82" width="13.1" height="4.93" rx="2.46"/></g>
<g filter="url(#bb1)" opacity="0.7" fill="#0a0a0a"><ellipse cx="1744.76" cy="1210.95" rx="8.81" ry="3.56"/><ellipse cx="1768.99" cy="1210.95" rx="11.01" ry="3.56"/></g>
<g filter="url(#bb1)" opacity="0.95" fill="#0a0a0a"><rect x="1804.07" y="1207.45" width="38.76" height="9.86" rx="4.38"/><ellipse cx="1810.24" cy="1212.38" rx="8.81" ry="5.48"/><ellipse cx="1836.67" cy="1212.38" rx="8.81" ry="5.48"/></g>
<g filter="url(#bb1)" opacity="1" fill="#0a0a0a"><rect x="1867.38" y="1206.96" width="41.9" height="10.84" rx="4.82"/><ellipse cx="1874.05" cy="1212.38" rx="9.52" ry="6.02"/><ellipse cx="1902.62" cy="1212.38" rx="9.52" ry="6.02"/></g>
<g filter="url(#bb1)" opacity="1" fill="#0a0a0a"><rect x="1739.17" y="1273.57" width="47.14" height="14.29" rx="6.35"/><ellipse cx="1746.67" cy="1280.71" rx="10.71" ry="7.94"/><ellipse cx="1778.81" cy="1280.71" rx="10.71" ry="7.94"/></g>
<g filter="url(#bb1)" opacity="1" fill="#0a0a0a"><rect x="1803.31" y="1273.59" width="45.05" height="12.81" rx="5.7"/><ellipse cx="1810.48" cy="1280" rx="10.24" ry="7.12"/><ellipse cx="1841.19" cy="1280" rx="10.24" ry="7.12"/></g>
<g filter="url(#bb1)" opacity="1" fill="#0a0a0a"><rect x="1865.36" y="1276.44" width="47.14" height="13.31" rx="5.91"/><ellipse cx="1872.86" cy="1283.1" rx="10.71" ry="7.39"/><ellipse cx="1905" cy="1283.1" rx="10.71" ry="7.39"/></g>
</g>
<g id="p-k">
<text transform="translate(6.8 1416.37) scale(1 1)" font-size="57" font-weight="bold">k</text>
<text x="106.12" y="1457.85" font-size="23.84">DLD1 co-cultured with</text>
<text x="123.81" y="1485.88" font-size="24.05">M1-like THP1 cells</text>
<line x1="96.6" y1="1500" x2="343.67" y2="1497.82" stroke="#231815" stroke-width="3.1" />
<text x="38.91" y="1558.53" font-size="23.26">kDa</text>
<text x="107.48" y="1550.88" font-size="22.5" transform="rotate(-28 107.48 1550.88)" font-style="italic">Ctrl</text>
<text x="160.54" y="1551.97" font-size="22.5" transform="rotate(-28 160.54 1551.97)"><tspan font-style="italic">ID1</tspan><tspan font-style="italic" font-size="18.9" dy="-9">OE</tspan></text>
<text x="238.1" y="1550.88" font-size="22.5" transform="rotate(-28 238.1 1550.88)" font-style="italic">Ctrl</text>
<text x="291.7" y="1551.43" font-size="22.5" transform="rotate(-28 291.7 1551.43)"><tspan font-style="italic">ID1</tspan><tspan font-style="italic" font-size="18.9" dy="-9">OE</tspan></text>
<line x1="117.63" y1="1561.77" x2="125.63" y2="1561.77" stroke="#000" stroke-width="3" />
<line x1="177.77" y1="1561.77" x2="185.77" y2="1561.77" stroke="#000" stroke-width="3" />
<line x1="237.94" y1="1560.41" x2="252.94" y2="1560.41" stroke="#000" stroke-width="2.6" />
<line x1="245.44" y1="1552.91" x2="245.44" y2="1567.91" stroke="#000" stroke-width="2.6" />
<line x1="301.34" y1="1560.41" x2="316.34" y2="1560.41" stroke="#000" stroke-width="2.6" />
<line x1="308.84" y1="1552.91" x2="308.84" y2="1567.91" stroke="#000" stroke-width="2.6" />
<text x="348.3" y="1570.78" font-size="22.94">Y15</text>
<rect x="90.18" y="1574.4" width="231.61" height="50.66" fill="#f0f0f0" stroke="#1a1718" stroke-width="3.2" />
<rect x="90.18" y="1634.26" width="231.61" height="50.66" fill="#f0f0f0" stroke="#1a1718" stroke-width="3.2" />
<rect x="90.18" y="1693.58" width="231.61" height="49.84" fill="#f0f0f0" stroke="#1a1718" stroke-width="3.2" />
<rect x="90.18" y="1749.09" width="231.61" height="50.93" fill="#f0f0f0" stroke="#1a1718" stroke-width="3.2" />
<text x="67.21" y="1606.28" font-size="24" text-anchor="end">75</text>
<line x1="70.2" y1="1596.33" x2="88.98" y2="1596.33" stroke="#1a1718" stroke-width="2.6" />
<text x="67.21" y="1666.69" font-size="24" text-anchor="end">130</text>
<line x1="70.2" y1="1657.01" x2="88.98" y2="1657.01" stroke="#1a1718" stroke-width="2.6" />
<text x="67.21" y="1723.83" font-size="24" text-anchor="end">130</text>
<line x1="70.2" y1="1714.15" x2="88.98" y2="1714.15" stroke="#1a1718" stroke-width="2.6" />
<text x="67.21" y="1803.56" font-size="24" text-anchor="end">33</text>
<line x1="70.2" y1="1793.06" x2="88.98" y2="1793.06" stroke="#1a1718" stroke-width="2.6" />
<text x="336.05" y="1611.59" font-size="24.01">YAP</text>
<text x="336.05" y="1673.63" font-size="23.99">p-FAK</text>
<text x="336.05" y="1733.23" font-size="23.76">FAK</text>
<text x="336.05" y="1793.36" font-size="23.34">GAPDH</text>
<g filter="url(#bb1)" opacity="0.95" fill="#0a0a0a"><rect x="100.14" y="1596.23" width="39.18" height="5.63" rx="2.82"/><ellipse cx="110.15" cy="1599.05" rx="12.19" ry="4.69"/></g>
<g filter="url(#bb1)" opacity="1" fill="#0a0a0a"><rect x="155.54" y="1595.29" width="42.12" height="7.51" rx="3.76"/><ellipse cx="186.9" cy="1599.05" rx="13.1" ry="6.26"/></g>
<g filter="url(#bb2)" opacity="0.35" fill="#0a0a0a"><rect x="212.24" y="1595.61" width="39.46" height="6.88" rx="3.44"/></g>
<g filter="url(#bb2)" opacity="0.35" fill="#0a0a0a"><rect x="265.31" y="1595.06" width="42.18" height="6.88" rx="3.44"/></g>
<g filter="url(#bb1)" opacity="0.9" fill="#0a0a0a"><ellipse cx="105.85" cy="1661.09" rx="7.89" ry="4.07"/><ellipse cx="127.55" cy="1661.09" rx="9.86" ry="4.07"/></g>
<g filter="url(#bb1)" opacity="0.6" fill="#0a0a0a"><rect x="108.84" y="1660.07" width="19.05" height="3.13" rx="1.56"/></g>
<g filter="url(#bb1)" opacity="1" fill="#0a0a0a"><rect x="158.91" y="1655.72" width="35.92" height="11.83" rx="5.26"/><ellipse cx="164.63" cy="1661.63" rx="8.16" ry="6.57"/><ellipse cx="189.12" cy="1661.63" rx="8.16" ry="6.57"/></g>
<g filter="url(#bb2)" opacity="0.15" fill="#0a0a0a"><rect x="217.69" y="1660.61" width="38.1" height="3.13" rx="1.56"/></g>
<g filter="url(#bb2)" opacity="0.3" fill="#0a0a0a"><rect x="276.19" y="1660.57" width="39.46" height="3.76" rx="1.88"/></g>
<g filter="url(#bb1)" opacity="0.5" fill="#0a0a0a"><rect x="274.83" y="1659.76" width="8.16" height="3.76" rx="1.88"/></g>
<g filter="url(#bb1)" opacity="1" fill="#0a0a0a"><rect x="102.54" y="1715.43" width="35.2" height="10.14" rx="4.51"/><ellipse cx="108.14" cy="1721.5" rx="8" ry="5.63"/><ellipse cx="132.14" cy="1721.5" rx="8" ry="5.63"/></g>
<g filter="url(#bb1)" opacity="1" fill="#0a0a0a"><rect x="157.58" y="1715.43" width="36.4" height="10.14" rx="4.51"/><ellipse cx="163.37" cy="1721.5" rx="8.27" ry="5.63"/><ellipse cx="188.19" cy="1721.5" rx="8.27" ry="5.63"/></g>
<g filter="url(#bb1)" opacity="1" fill="#0a0a0a"><rect x="214.86" y="1715.43" width="38.31" height="10.14" rx="4.51"/><ellipse cx="220.95" cy="1721.5" rx="8.71" ry="5.63"/><ellipse cx="247.07" cy="1721.5" rx="8.71" ry="5.63"/></g>
<g filter="url(#bb1)" opacity="1" fill="#0a0a0a"><rect x="276" y="1715.43" width="37.12" height="10.14" rx="4.51"/><ellipse cx="281.9" cy="1721.5" rx="8.44" ry="5.63"/><ellipse cx="307.21" cy="1721.5" rx="8.44" ry="5.63"/></g>
<g filter="url(#bb1)" opacity="1" fill="#0a0a0a"><rect x="100.92" y="1768.34" width="35.44" height="13.52" rx="6.01"/><ellipse cx="106.56" cy="1775.1" rx="8.05" ry="7.51"/><ellipse cx="130.72" cy="1775.1" rx="8.05" ry="7.51"/></g>
<g filter="url(#bb1)" opacity="1" fill="#0a0a0a"><rect x="157.63" y="1768.91" width="37.12" height="12.39" rx="5.51"/><ellipse cx="163.54" cy="1775.1" rx="8.44" ry="6.88"/><ellipse cx="188.84" cy="1775.1" rx="8.44" ry="6.88"/></g>
<g filter="url(#bb1)" opacity="1" fill="#0a0a0a"><rect x="212.22" y="1769.19" width="39.51" height="11.83" rx="5.26"/><ellipse cx="218.5" cy="1775.1" rx="8.98" ry="6.57"/><ellipse cx="245.44" cy="1775.1" rx="8.98" ry="6.57"/></g>
<g filter="url(#bb1)" opacity="1" fill="#0a0a0a"><rect x="272.16" y="1769.44" width="40.71" height="12.96" rx="5.76"/><ellipse cx="278.64" cy="1775.92" rx="9.25" ry="7.2"/><ellipse cx="306.39" cy="1775.92" rx="9.25" ry="7.2"/></g>
</g>
<g id="p-l">
<text transform="translate(394 1415.4) scale(1 1)" font-size="57" font-weight="bold">l</text>
<text x="485.3" y="1485.25" font-size="23.75">MC38 cells</text>
<text x="425.44" y="1513.31" font-size="24.13">co-cultured with TAMs</text>
<line x1="484.18" y1="1527.03" x2="602.02" y2="1525.9" stroke="#231815" stroke-width="3.1" />
<text x="492.78" y="1586.51" font-size="22" transform="rotate(-28 492.78 1586.51)"><tspan font-style="italic">Id1</tspan><tspan font-style="italic" font-size="18.48" dy="-8.8">f/f</tspan></text>
<text x="546.65" y="1585.76" font-size="22" transform="rotate(-28 546.65 1585.76)"><tspan font-style="italic">Id1</tspan><tspan font-style="italic" font-size="18.48" dy="-8.8">Lyz-KO</tspan></text>
<text x="426.94" y="1607.96" font-size="23.14">kDa</text>
<line x1="503.24" y1="1600.73" x2="515.24" y2="1600.73" stroke="#000" stroke-width="1.8" />
<line x1="509.24" y1="1594.73" x2="509.24" y2="1606.73" stroke="#000" stroke-width="1.8" />
<line x1="563.1" y1="1600.73" x2="575.1" y2="1600.73" stroke="#000" stroke-width="1.8" />
<line x1="569.1" y1="1594.73" x2="569.1" y2="1606.73" stroke="#000" stroke-width="1.8" />
<text x="605.01" y="1604.97" font-size="23.61">MG132</text>
<rect x="481.63" y="1617.64" width="120.31" height="56.71" fill="#f6f6f6" stroke="#1a1718" stroke-width="3.2" />
<rect x="481.63" y="1681.24" width="120.31" height="56.71" fill="#f6f6f6" stroke="#1a1718" stroke-width="3.2" />
<rect x="481.63" y="1746.71" width="120.31" height="56.71" fill="#f6f6f6" stroke="#1a1718" stroke-width="3.2" />
<text x="455.37" y="1654.96" font-size="24" text-anchor="end">75</text>
<line x1="459.11" y1="1646.37" x2="478.56" y2="1646.37" stroke="#1a1718" stroke-width="2.6" />
<text x="455.37" y="1721.55" font-size="24" text-anchor="end">75</text>
<line x1="459.11" y1="1712.21" x2="478.56" y2="1712.21" stroke="#1a1718" stroke-width="2.6" />
<text x="455.37" y="1803.86" font-size="24" text-anchor="end">33</text>
<line x1="459.11" y1="1794.14" x2="478.56" y2="1794.14" stroke="#1a1718" stroke-width="2.6" />
<text x="611.37" y="1661.83" font-size="24.13">Yap</text>
<text x="611.37" y="1724.68" font-size="24.07">p-Yap(Y357)</text>
<text x="611.37" y="1786.41" font-size="23.3">Gapdh</text>
<g filter="url(#bb1)" opacity="1" fill="#0a0a0a"><rect x="491.84" y="1641.46" width="37.04" height="9.81" rx="4.9"/><ellipse cx="501.31" cy="1646.37" rx="11.52" ry="8.17"/></g>
<g filter="url(#bb1)" opacity="1" fill="#0a0a0a"><rect x="553.57" y="1640.97" width="37.04" height="9.29" rx="4.65"/><ellipse cx="581.14" cy="1645.62" rx="11.52" ry="7.74"/></g>
<g filter="url(#bb1)" opacity="1" fill="#0a0a0a"><rect x="492.26" y="1706.44" width="36.21" height="9.29" rx="4.13"/><ellipse cx="498.02" cy="1711.09" rx="8.23" ry="5.16"/><ellipse cx="522.71" cy="1711.09" rx="8.23" ry="5.16"/></g>
<g filter="url(#bb1)" opacity="0.85" fill="#0a0a0a"><ellipse cx="556" cy="1711.09" rx="8.23" ry="3.87"/><ellipse cx="578.64" cy="1711.09" rx="10.29" ry="3.87"/></g>
<g filter="url(#bb1)" opacity="0.6" fill="#0a0a0a"><rect x="557.13" y="1709.74" width="22.45" height="3.44" rx="1.72"/></g>
<g filter="url(#bb1)" opacity="1" fill="#0a0a0a"><rect x="492.37" y="1766.62" width="37.86" height="12.39" rx="5.51"/><ellipse cx="498.39" cy="1772.82" rx="8.6" ry="6.88"/><ellipse cx="524.21" cy="1772.82" rx="8.6" ry="6.88"/></g>
<g filter="url(#bb1)" opacity="1" fill="#0a0a0a"><rect x="551.37" y="1767.01" width="36.21" height="11.62" rx="5.16"/><ellipse cx="557.13" cy="1772.82" rx="8.23" ry="6.45"/><ellipse cx="581.82" cy="1772.82" rx="8.23" ry="6.45"/></g>
</g>
<g id="p-m">
<text transform="translate(744.93 1416.54) scale(1 1)" font-size="57" font-weight="bold">m</text>
<text x="842.57" y="1444.85" font-size="23.98">MC38 cells</text>
<text x="783.46" y="1473.28" font-size="24.17">co-cultured with TAMs</text>
<line x1="842.57" y1="1486.62" x2="960.04" y2="1485.5" stroke="#231815" stroke-width="3.1" />
<text x="785.33" y="1546.23" font-size="23.14">kDa</text>
<text x="850.8" y="1545.36" font-size="22" transform="rotate(-28 850.8 1545.36)"><tspan font-style="italic">Id1</tspan><tspan font-style="italic" font-size="18.48" dy="-8.8">f/f</tspan></text>
<text x="905.05" y="1545.36" font-size="22" transform="rotate(-28 905.05 1545.36)"><tspan font-style="italic">Id1</tspan><tspan font-style="italic" font-size="18.48" dy="-8.8">Lyz-KO</tspan></text>
<rect x="839.66" y="1554.04" width="120.31" height="55.59" fill="#e6e6e6" stroke="#1a1718" stroke-width="3.2" />
<rect x="839.66" y="1616.89" width="120.31" height="56.34" fill="#e6e6e6" stroke="#1a1718" stroke-width="3.2" />
<rect x="839.66" y="1686.1" width="120.31" height="54.84" fill="#e6e6e6" stroke="#1a1718" stroke-width="3.2" />
<rect x="839.66" y="1748.95" width="120.31" height="55.59" fill="#e6e6e6" stroke="#1a1718" stroke-width="3.2" />
<text x="814.52" y="1594.35" font-size="24" text-anchor="end">75</text>
<line x1="817.88" y1="1585.01" x2="835.84" y2="1585.01" stroke="#1a1718" stroke-width="2.6" />
<text x="812.64" y="1677.41" font-size="24" text-anchor="end">33</text>
<line x1="817.88" y1="1666.2" x2="835.84" y2="1666.2" stroke="#1a1718" stroke-width="2.6" />
<text x="814.52" y="1722.67" font-size="24" text-anchor="end">75</text>
<line x1="817.88" y1="1712.96" x2="835.84" y2="1712.96" stroke="#1a1718" stroke-width="2.6" />
<text x="814.52" y="1783.28" font-size="24" text-anchor="end">75</text>
<line x1="817.88" y1="1772.07" x2="835.84" y2="1772.07" stroke="#1a1718" stroke-width="2.6" />
<text x="770.87" y="1658.71" font-size="23.79" transform="rotate(-90 770.87 1658.71)">Cytosolic</text>
<line x1="780.85" y1="1574.54" x2="780.85" y2="1658.71" stroke="#231815" stroke-width="3" />
<text x="773.49" y="1782.17" font-size="23.88" transform="rotate(-90 773.49 1782.17)">Nuclear</text>
<line x1="782.34" y1="1707.35" x2="782.34" y2="1790.4" stroke="#231815" stroke-width="3" />
<text x="969.77" y="1598.23" font-size="24.13">Yap</text>
<text x="969.77" y="1659.21" font-size="23.3">Gapdh</text>
<text x="969.77" y="1729.17" font-size="24.13">Yap</text>
<text x="969.77" y="1792.02" font-size="23.35">Lamin</text>
<g filter="url(#bb1)" opacity="1" fill="#0a0a0a"><rect x="851.63" y="1579.57" width="39.51" height="12.39" rx="5.51"/><ellipse cx="857.91" cy="1585.76" rx="8.98" ry="6.88"/><ellipse cx="884.85" cy="1585.76" rx="8.98" ry="6.88"/></g>
<g filter="url(#bb1)" opacity="0.85" fill="#0a0a0a"><rect x="909.39" y="1581.5" width="36.21" height="8.52" rx="3.79"/><ellipse cx="915.15" cy="1585.76" rx="8.23" ry="4.73"/><ellipse cx="939.84" cy="1585.76" rx="8.23" ry="4.73"/></g>
<g filter="url(#bb1)" opacity="1" fill="#0a0a0a"><rect x="847.89" y="1641.68" width="39.51" height="11.62" rx="5.16"/><ellipse cx="854.17" cy="1647.49" rx="8.98" ry="6.45"/><ellipse cx="881.11" cy="1647.49" rx="8.98" ry="6.45"/></g>
<g filter="url(#bb1)" opacity="1" fill="#0a0a0a"><rect x="909.61" y="1642.46" width="39.51" height="10.07" rx="4.47"/><ellipse cx="915.9" cy="1647.49" rx="8.98" ry="5.59"/><ellipse cx="942.84" cy="1647.49" rx="8.98" ry="5.59"/></g>
<g filter="url(#bb1)" opacity="1" fill="#0a0a0a"><rect x="851.4" y="1707.89" width="36.21" height="12.39" rx="5.51"/><ellipse cx="857.16" cy="1714.08" rx="8.23" ry="6.88"/><ellipse cx="881.86" cy="1714.08" rx="8.23" ry="6.88"/></g>
<g filter="url(#bb1)" opacity="0.7" fill="#0a0a0a"><rect x="912.63" y="1711.73" width="35.35" height="6.2" rx="3.1"/><ellipse cx="938.95" cy="1714.83" rx="11" ry="5.16"/></g>
<g filter="url(#bb1)" opacity="1" fill="#0a0a0a"><rect x="851.63" y="1769.56" width="39.51" height="15.49" rx="6.88"/><ellipse cx="857.91" cy="1777.31" rx="8.98" ry="8.6"/><ellipse cx="884.85" cy="1777.31" rx="8.98" ry="8.6"/></g>
<g filter="url(#bb1)" opacity="1" fill="#0a0a0a"><rect x="907.63" y="1769.95" width="37.86" height="14.71" rx="6.54"/><ellipse cx="913.66" cy="1777.31" rx="8.6" ry="8.17"/><ellipse cx="939.47" cy="1777.31" rx="8.6" ry="8.17"/></g>
</g>
<g id="p-n">
<text transform="translate(1061.44 1416.74) scale(1 1)" font-size="57" font-weight="bold">n</text>
<text x="1205.12" y="1496.34" font-size="23.4">MC38</text>
<text x="1181.05" y="1537.08" font-size="23.31"><tspan font-style="italic">P</tspan><tspan> = 0.0055</tspan></text>
<line x1="1210.36" y1="1542.74" x2="1277.55" y2="1542.74" stroke="#231815" stroke-width="3" />
<line x1="1165.57" y1="1547.02" x2="1165.57" y2="1784.21" stroke="#000" stroke-width="3" />
<line x1="1155.56" y1="1782.91" x2="1322.34" y2="1782.91" stroke="#000" stroke-width="3" />
<line x1="1155.56" y1="1548.45" x2="1165.57" y2="1548.45" stroke="#000" stroke-width="2.8" />
<text x="1151.75" y="1555.55" font-size="24" text-anchor="end">1.2</text>
<line x1="1155.56" y1="1606.83" x2="1165.57" y2="1606.83" stroke="#000" stroke-width="2.8" />
<text x="1151.75" y="1615.43" font-size="24" text-anchor="end">0.9</text>
<line x1="1155.56" y1="1665.44" x2="1165.57" y2="1665.44" stroke="#000" stroke-width="2.8" />
<text x="1151.75" y="1674.04" font-size="24" text-anchor="end">0.6</text>
<line x1="1155.56" y1="1724.29" x2="1165.57" y2="1724.29" stroke="#000" stroke-width="2.8" />
<text x="1151.75" y="1732.89" font-size="24" text-anchor="end">0.3</text>
<line x1="1155.56" y1="1782.67" x2="1165.57" y2="1782.67" stroke="#000" stroke-width="2.8" />
<text x="1151.75" y="1791.27" font-size="24" text-anchor="end">0.0</text>
<line x1="1209.64" y1="1782.91" x2="1209.64" y2="1792.91" stroke="#000" stroke-width="2.8" />
<line x1="1277.07" y1="1782.91" x2="1277.07" y2="1792.91" stroke="#000" stroke-width="2.8" />
<path d="M1188.85 1782.91 V1588.18 H1231.87 V1782.91" fill="none" stroke="#ff2d0f" stroke-width="3.2" stroke-linejoin="miter"/>
<path d="M1256.52 1782.91 V1694.44 H1298.82 V1782.91" fill="none" stroke="#0e9496" stroke-width="3.2" stroke-linejoin="miter"/>
<line x1="1210.36" y1="1571.8" x2="1210.36" y2="1602.78" stroke="#ff2d0f" stroke-width="2.8" />
<line x1="1198.45" y1="1571.8" x2="1222.27" y2="1571.8" stroke="#ff2d0f" stroke-width="2.8" />
<line x1="1198.45" y1="1602.78" x2="1222.27" y2="1602.78" stroke="#ff2d0f" stroke-width="2.8" />
<circle cx="1210.36" cy="1561.56" r="4.7" fill="none" stroke="#ff2d0f" stroke-width="3.1" />
<circle cx="1210.36" cy="1587.29" r="4.7" fill="none" stroke="#ff2d0f" stroke-width="3.1" />
<circle cx="1210.36" cy="1613.02" r="4.7" fill="none" stroke="#ff2d0f" stroke-width="3.1" />
<line x1="1277.55" y1="1681.41" x2="1277.55" y2="1705.23" stroke="#0e9496" stroke-width="2.8" />
<line x1="1265.64" y1="1681.41" x2="1289.46" y2="1681.41" stroke="#0e9496" stroke-width="2.8" />
<line x1="1265.64" y1="1705.23" x2="1289.46" y2="1705.23" stroke="#0e9496" stroke-width="2.8" />
<circle cx="1277.55" cy="1669.97" r="4.7" fill="none" stroke="#0e9496" stroke-width="3.1" />
<circle cx="1277.55" cy="1699.75" r="4.7" fill="none" stroke="#0e9496" stroke-width="3.1" />
<circle cx="1277.55" cy="1710" r="4.7" fill="none" stroke="#0e9496" stroke-width="3.1" />
<text x="1085.57" y="1800.54" font-size="23.82" transform="rotate(-90 1085.57 1800.54)">Relative luciferase activity</text>
<text x="1114.16" y="1721.2" font-size="23.57" transform="rotate(-90 1114.16 1721.2)">of TEAD</text>
<text x="1187.72" y="1818.71" font-size="23.14"><tspan font-style="italic">Id1</tspan><tspan font-style="italic" font-size="19.44" dy="-9.26">f/f</tspan></text>
<text x="1248.96" y="1818.71" font-size="22.48"><tspan font-style="italic">Id1</tspan><tspan font-style="italic" font-size="18.88" dy="-8.99">Lyz-KO</tspan></text>
<line x1="1194.87" y1="1829.13" x2="1296.61" y2="1829.13" stroke="#231815" stroke-width="2.8" />
<text x="1155.08" y="1863.98" font-size="23.34">TAMs-derived CM</text>
</g>
<g id="p-o">
<text transform="translate(1405.36 1415.47) scale(1 1)" font-size="57" font-weight="bold">o</text>
<rect x="1459.99" y="1444.07" width="22.8" height="9.74" fill="none" stroke="#ff2d0f" stroke-width="3.2" />
<text x="1487.72" y="1455.61" font-size="24.13"><tspan font-style="italic">Id1</tspan><tspan font-style="italic" font-size="20.27" dy="-9.65">f/f</tspan></text>
<rect x="1459.99" y="1479.99" width="22.8" height="8.65" fill="none" stroke="#0e9496" stroke-width="3.2" />
<text x="1488.81" y="1491.17" font-size="22.85"><tspan font-style="italic">Id1</tspan><tspan font-style="italic" font-size="19.2" dy="-9.14">Lyz-KO</tspan></text>
<line x1="1616.89" y1="1443.5" x2="1616.89" y2="1489.94" stroke="#231815" stroke-width="3" />
<text x="1623.06" y="1478.47" font-size="23.77">TAMs-derived CM</text>
<line x1="1449.99" y1="1500.83" x2="1449.99" y2="1787.32" stroke="#000" stroke-width="3" />
<line x1="1438.01" y1="1786.02" x2="1874.51" y2="1786.02" stroke="#000" stroke-width="3" />
<line x1="1438.01" y1="1502.64" x2="1449.99" y2="1502.64" stroke="#000" stroke-width="2.8" />
<text x="1435.83" y="1509.74" font-size="24" text-anchor="end">1.5</text>
<line x1="1438.01" y1="1596.98" x2="1449.99" y2="1596.98" stroke="#000" stroke-width="2.8" />
<text x="1435.83" y="1605.58" font-size="24" text-anchor="end">1.0</text>
<line x1="1438.01" y1="1691.32" x2="1449.99" y2="1691.32" stroke="#000" stroke-width="2.8" />
<text x="1435.83" y="1699.92" font-size="24" text-anchor="end">0.5</text>
<line x1="1438.01" y1="1785.66" x2="1449.99" y2="1785.66" stroke="#000" stroke-width="2.8" />
<text x="1435.83" y="1794.26" font-size="24" text-anchor="end">0.0</text>
<line x1="1497.16" y1="1786.02" x2="1497.16" y2="1795.82" stroke="#000" stroke-width="2.8" />
<line x1="1606.73" y1="1786.02" x2="1606.73" y2="1795.82" stroke="#000" stroke-width="2.8" />
<line x1="1716.31" y1="1786.02" x2="1716.31" y2="1795.82" stroke="#000" stroke-width="2.8" />
<line x1="1826.26" y1="1786.02" x2="1826.26" y2="1795.82" stroke="#000" stroke-width="2.8" />
<text x="1450.71" y="1512.94" font-size="23.49"><tspan font-style="italic">P</tspan><tspan> = 0.0122</tspan></text>
<line x1="1481.55" y1="1524.41" x2="1518.56" y2="1524.41" stroke="#231815" stroke-width="3" />
<text x="1546.87" y="1532.89" font-size="23.34"><tspan font-style="italic">P</tspan><tspan> = 0.0009</tspan></text>
<line x1="1587.87" y1="1536.75" x2="1624.88" y2="1536.75" stroke="#231815" stroke-width="3" />
<text x="1664.79" y="1543.05" font-size="23.48"><tspan font-style="italic">P</tspan><tspan> = 0.0117</tspan></text>
<line x1="1696.36" y1="1548.72" x2="1733.73" y2="1548.72" stroke="#231815" stroke-width="3" />
<text x="1780.9" y="1532.89" font-size="23.34"><tspan font-style="italic">P</tspan><tspan> = 0.0198</tspan></text>
<line x1="1808.84" y1="1540.38" x2="1846.21" y2="1540.38" stroke="#231815" stroke-width="3" />
<path d="M1464.29 1786.02 V1593.86 H1489.75 V1786.02" fill="none" stroke="#ff2d0f" stroke-width="3.2" stroke-linejoin="miter"/>
<path d="M1505.65 1786.02 V1727.39 H1530.75 V1786.02" fill="none" stroke="#0e9496" stroke-width="3.2" stroke-linejoin="miter"/>
<path d="M1573.86 1786.02 V1595.68 H1598.97 V1786.02" fill="none" stroke="#ff2d0f" stroke-width="3.2" stroke-linejoin="miter"/>
<path d="M1615.59 1786.02 V1712.51 H1640.69 V1786.02" fill="none" stroke="#0e9496" stroke-width="3.2" stroke-linejoin="miter"/>
<path d="M1683.44 1786.02 V1594.95 H1708.55 V1786.02" fill="none" stroke="#ff2d0f" stroke-width="3.2" stroke-linejoin="miter"/>
<path d="M1725.17 1786.02 V1766.22 H1750.27 V1786.02" fill="none" stroke="#0e9496" stroke-width="3.2" stroke-linejoin="miter"/>
<path d="M1793.39 1786.02 V1595.68 H1818.49 V1786.02" fill="none" stroke="#ff2d0f" stroke-width="3.2" stroke-linejoin="miter"/>
<path d="M1834.39 1786.02 V1725.58 H1859.85 V1786.02" fill="none" stroke="#0e9496" stroke-width="3.2" stroke-linejoin="miter"/>
<line x1="1477.2" y1="1564.33" x2="1477.2" y2="1622.38" stroke="#ff2d0f" stroke-width="2.8" />
<line x1="1468.13" y1="1564.33" x2="1486.27" y2="1564.33" stroke="#ff2d0f" stroke-width="2.8" />
<line x1="1468.13" y1="1622.38" x2="1486.27" y2="1622.38" stroke="#ff2d0f" stroke-width="2.8" />
<circle cx="1477.2" cy="1537.11" r="5.2" fill="none" stroke="#ff2d0f" stroke-width="3.1" />
<circle cx="1477.2" cy="1609.32" r="5.2" fill="none" stroke="#ff2d0f" stroke-width="3.1" />
<circle cx="1477.2" cy="1631.45" r="5.2" fill="none" stroke="#ff2d0f" stroke-width="3.1" />
<line x1="1518.56" y1="1715.63" x2="1518.56" y2="1737.4" stroke="#0e9496" stroke-width="2.8" />
<line x1="1509.49" y1="1715.63" x2="1527.63" y2="1715.63" stroke="#0e9496" stroke-width="2.8" />
<line x1="1509.49" y1="1737.4" x2="1527.63" y2="1737.4" stroke="#0e9496" stroke-width="2.8" />
<circle cx="1518.56" cy="1709.46" r="5.2" fill="none" stroke="#0e9496" stroke-width="3.1" />
<circle cx="1518.56" cy="1724.7" r="5.2" fill="none" stroke="#0e9496" stroke-width="3.1" />
<circle cx="1518.56" cy="1743.93" r="5.2" fill="none" stroke="#0e9496" stroke-width="3.1" />
<line x1="1586.78" y1="1570.49" x2="1586.78" y2="1617.66" stroke="#ff2d0f" stroke-width="2.8" />
<line x1="1577.71" y1="1570.49" x2="1595.85" y2="1570.49" stroke="#ff2d0f" stroke-width="2.8" />
<line x1="1577.71" y1="1617.66" x2="1595.85" y2="1617.66" stroke="#ff2d0f" stroke-width="2.8" />
<circle cx="1586.78" cy="1549.81" r="5.2" fill="none" stroke="#ff2d0f" stroke-width="3.1" />
<circle cx="1586.78" cy="1602.06" r="5.2" fill="none" stroke="#ff2d0f" stroke-width="3.1" />
<circle cx="1586.78" cy="1630.36" r="5.2" fill="none" stroke="#ff2d0f" stroke-width="3.1" />
<line x1="1627.78" y1="1705.83" x2="1627.78" y2="1717.45" stroke="#0e9496" stroke-width="2.8" />
<line x1="1618.71" y1="1705.83" x2="1636.85" y2="1705.83" stroke="#0e9496" stroke-width="2.8" />
<line x1="1618.71" y1="1717.45" x2="1636.85" y2="1717.45" stroke="#0e9496" stroke-width="2.8" />
<circle cx="1627.78" cy="1700.03" r="5.2" fill="none" stroke="#0e9496" stroke-width="3.1" />
<circle cx="1619.43" cy="1721.07" r="5.2" fill="none" stroke="#0e9496" stroke-width="3.1" />
<circle cx="1636.85" cy="1713.09" r="5.2" fill="none" stroke="#0e9496" stroke-width="3.1" />
<line x1="1696.36" y1="1568.68" x2="1696.36" y2="1618.75" stroke="#ff2d0f" stroke-width="2.8" />
<line x1="1687.29" y1="1568.68" x2="1705.43" y2="1568.68" stroke="#ff2d0f" stroke-width="2.8" />
<line x1="1687.29" y1="1618.75" x2="1705.43" y2="1618.75" stroke="#ff2d0f" stroke-width="2.8" />
<circle cx="1696.36" cy="1557.79" r="5.2" fill="none" stroke="#ff2d0f" stroke-width="3.1" />
<circle cx="1696.36" cy="1580.29" r="5.2" fill="none" stroke="#ff2d0f" stroke-width="3.1" />
<circle cx="1696.36" cy="1641.25" r="5.2" fill="none" stroke="#ff2d0f" stroke-width="3.1" />
<line x1="1738.08" y1="1761.71" x2="1738.08" y2="1767.52" stroke="#0e9496" stroke-width="2.8" />
<line x1="1729.01" y1="1761.71" x2="1747.16" y2="1761.71" stroke="#0e9496" stroke-width="2.8" />
<line x1="1729.01" y1="1767.52" x2="1747.16" y2="1767.52" stroke="#0e9496" stroke-width="2.8" />
<circle cx="1729.38" cy="1768.97" r="5.2" fill="none" stroke="#0e9496" stroke-width="3.1" />
<circle cx="1738.08" cy="1760.99" r="5.2" fill="none" stroke="#0e9496" stroke-width="3.1" />
<circle cx="1746.43" cy="1764.62" r="5.2" fill="none" stroke="#0e9496" stroke-width="3.1" />
<line x1="1806.3" y1="1572.31" x2="1806.3" y2="1615.85" stroke="#ff2d0f" stroke-width="2.8" />
<line x1="1797.23" y1="1572.31" x2="1815.37" y2="1572.31" stroke="#ff2d0f" stroke-width="2.8" />
<line x1="1797.23" y1="1615.85" x2="1815.37" y2="1615.85" stroke="#ff2d0f" stroke-width="2.8" />
<circle cx="1806.3" cy="1549.81" r="5.2" fill="none" stroke="#ff2d0f" stroke-width="3.1" />
<circle cx="1797.95" cy="1620.2" r="5.2" fill="none" stroke="#ff2d0f" stroke-width="3.1" />
<circle cx="1813.56" cy="1614.03" r="5.2" fill="none" stroke="#ff2d0f" stroke-width="3.1" />
<line x1="1847.3" y1="1718.53" x2="1847.3" y2="1730.15" stroke="#0e9496" stroke-width="2.8" />
<line x1="1838.23" y1="1718.53" x2="1856.37" y2="1718.53" stroke="#0e9496" stroke-width="2.8" />
<line x1="1838.23" y1="1730.15" x2="1856.37" y2="1730.15" stroke="#0e9496" stroke-width="2.8" />
<circle cx="1847.3" cy="1712" r="5.2" fill="none" stroke="#0e9496" stroke-width="3.1" />
<circle cx="1838.96" cy="1731.96" r="5.2" fill="none" stroke="#0e9496" stroke-width="3.1" />
<circle cx="1855.28" cy="1725.79" r="5.2" fill="none" stroke="#0e9496" stroke-width="3.1" />
<text x="1396.78" y="1750.1" font-size="23.97" transform="rotate(-90 1396.78 1750.1)">Relative mRNA level</text>
<text x="1477.92" y="1817.73" font-size="22.75" font-style="italic">Ctgf</text>
<text x="1583.15" y="1817.73" font-size="23.89" font-style="italic">Birc5</text>
<text x="1693.82" y="1817.73" font-size="23.33" font-style="italic">Itgb2</text>
<text x="1805.57" y="1817.73" font-size="23.09" font-style="italic">Dkk1</text>
<text x="1630.32" y="1849.66" font-size="23.12">MC38</text>
</g>
<g id="p-p">
<text transform="translate(17.69 1952.39) scale(1 1)" font-size="57" font-weight="bold">p</text>
<text x="215.21" y="1964.18" font-size="23.99">HCT116</text>
<text x="207.84" y="1995.14" font-size="23.03"><tspan font-style="italic">P</tspan><tspan> &lt; 0.0001</tspan></text>
<line x1="190.15" y1="2002.39" x2="323.41" y2="2002.39" stroke="#231815" stroke-width="3" />
<text x="177.77" y="2023.15" font-size="23.03"><tspan font-style="italic">P</tspan><tspan> &lt; 0.0001</tspan></text>
<line x1="190.15" y1="2026.57" x2="251.47" y2="2026.57" stroke="#231815" stroke-width="3" />
<text x="293.34" y="2225.09" font-size="23.26"><tspan font-style="italic">P</tspan><tspan>=0.9750</tspan></text>
<line x1="305.13" y1="2235.88" x2="366.45" y2="2235.88" stroke="#231815" stroke-width="3" />
<line x1="156.25" y1="2017.72" x2="156.25" y2="2273.45" stroke="#000" stroke-width="3" />
<line x1="146.52" y1="2272.15" x2="409.2" y2="2272.15" stroke="#000" stroke-width="3" />
<line x1="146.52" y1="2019.2" x2="156.25" y2="2019.2" stroke="#000" stroke-width="2.8" />
<text x="142.39" y="2027.8" font-size="24" text-anchor="end">20</text>
<line x1="146.52" y1="2082.58" x2="156.25" y2="2082.58" stroke="#000" stroke-width="2.8" />
<text x="142.39" y="2091.18" font-size="24" text-anchor="end">15</text>
<line x1="146.52" y1="2145.38" x2="156.25" y2="2145.38" stroke="#000" stroke-width="2.8" />
<text x="142.39" y="2153.98" font-size="24" text-anchor="end">10</text>
<line x1="146.52" y1="2208.76" x2="156.25" y2="2208.76" stroke="#000" stroke-width="2.8" />
<text x="142.39" y="2217.36" font-size="24" text-anchor="end">5</text>
<line x1="146.52" y1="2271.85" x2="156.25" y2="2271.85" stroke="#000" stroke-width="2.8" />
<text x="142.39" y="2280.45" font-size="24" text-anchor="end">0</text>
<line x1="194.58" y1="2272.15" x2="194.58" y2="2282.76" stroke="#000" stroke-width="2.8" />
<line x1="252.95" y1="2272.15" x2="252.95" y2="2282.76" stroke="#000" stroke-width="2.8" />
<line x1="311.03" y1="2272.15" x2="311.03" y2="2282.76" stroke="#000" stroke-width="2.8" />
<line x1="369.99" y1="2272.15" x2="369.99" y2="2282.76" stroke="#000" stroke-width="2.8" />
<path d="M177.01 2272.15 V2182.06 H213.02 V2272.15" fill="none" stroke="#ff2d0f" stroke-width="3.2" stroke-linejoin="miter"/>
<path d="M235.39 2272.15 V2054.7 H271.98 V2272.15" fill="none" stroke="#0e9496" stroke-width="3.2" stroke-linejoin="miter"/>
<path d="M293.46 2272.15 V2258.12 H330.06 V2272.15" fill="none" stroke="#8c8c0a" stroke-width="3.2" stroke-linejoin="miter"/>
<path d="M351.84 2272.15 V2256.65 H388.44 V2272.15" fill="none" stroke="#ff80f4" stroke-width="3.2" stroke-linejoin="miter"/>
<circle cx="179.83" cy="2184.29" r="4.7" fill="none" stroke="#ff2d0f" stroke-width="3.1" />
<circle cx="190.15" cy="2178.99" r="4.7" fill="none" stroke="#ff2d0f" stroke-width="3.1" />
<circle cx="200.47" cy="2180.46" r="4.7" fill="none" stroke="#ff2d0f" stroke-width="3.1" />
<circle cx="209.91" cy="2178.4" r="4.7" fill="none" stroke="#ff2d0f" stroke-width="3.1" />
<line x1="253.54" y1="2048.68" x2="253.54" y2="2059" stroke="#0e9496" stroke-width="2.8" />
<line x1="243.22" y1="2048.68" x2="263.86" y2="2048.68" stroke="#0e9496" stroke-width="2.8" />
<line x1="243.22" y1="2059" x2="263.86" y2="2059" stroke="#0e9496" stroke-width="2.8" />
<circle cx="253.54" cy="2042.78" r="4.7" fill="none" stroke="#0e9496" stroke-width="3.1" />
<circle cx="239.39" cy="2053.99" r="4.7" fill="none" stroke="#0e9496" stroke-width="3.1" />
<circle cx="267.69" cy="2054.58" r="4.7" fill="none" stroke="#0e9496" stroke-width="3.1" />
<circle cx="253.54" cy="2064.89" r="4.7" fill="none" stroke="#0e9496" stroke-width="3.1" />
<circle cx="297.76" cy="2260.06" r="4.7" fill="none" stroke="#8c8c0a" stroke-width="3.1" />
<circle cx="307.49" cy="2254.16" r="4.7" fill="none" stroke="#8c8c0a" stroke-width="3.1" />
<circle cx="316.92" cy="2256.52" r="4.7" fill="none" stroke="#8c8c0a" stroke-width="3.1" />
<circle cx="326.65" cy="2254.16" r="4.7" fill="none" stroke="#8c8c0a" stroke-width="3.1" />
<circle cx="355.84" cy="2257.11" r="4.7" fill="none" stroke="#ff80f4" stroke-width="3.1" />
<circle cx="365.57" cy="2253.57" r="4.7" fill="none" stroke="#ff80f4" stroke-width="3.1" />
<circle cx="375.29" cy="2255.64" r="4.7" fill="none" stroke="#ff80f4" stroke-width="3.1" />
<circle cx="384.73" cy="2254.16" r="4.7" fill="none" stroke="#ff80f4" stroke-width="3.1" />
<text x="104.18" y="2261.53" font-size="24.18" transform="rotate(-90 104.18 2261.53)"><tspan>CD44</tspan><tspan font-size="18.13" dy="-9.19">high</tspan><tspan dy="9.19"> ALDH</tspan><tspan font-size="14.51" dy="-8.7">+</tspan><tspan dy="8.7"> ratio</tspan></text>
<text x="24.17" y="2310.59" font-size="23.77">Verteporfin</text>
<line x1="191.55" y1="2301.33" x2="200.55" y2="2301.33" stroke="#000" stroke-width="2.8" />
<line x1="249.92" y1="2301.33" x2="258.92" y2="2301.33" stroke="#000" stroke-width="2.8" />
<line x1="305.79" y1="2298.68" x2="320.39" y2="2298.68" stroke="#000" stroke-width="2.5" />
<line x1="313.09" y1="2291.38" x2="313.09" y2="2305.98" stroke="#000" stroke-width="2.5" />
<line x1="364.75" y1="2298.68" x2="379.35" y2="2298.68" stroke="#000" stroke-width="2.5" />
<line x1="372.05" y1="2291.38" x2="372.05" y2="2305.98" stroke="#000" stroke-width="2.5" />
<text x="171.88" y="2334.76" font-size="22.75" font-style="italic">Ctrl</text>
<text x="238.8" y="2334.76" font-size="22.78"><tspan font-style="italic">ID1</tspan><tspan font-style="italic" font-size="19.13" dy="-9.11">OE</tspan></text>
<text x="310.44" y="2334.76" font-size="22.75" font-style="italic">Ctrl</text>
<text x="377.36" y="2334.76" font-size="22.78"><tspan font-style="italic">ID1</tspan><tspan font-style="italic" font-size="19.13" dy="-9.11">OE</tspan></text>
<line x1="172.46" y1="2343.49" x2="393.57" y2="2343.49" stroke="#231815" stroke-width="2.8" />
<text x="137.97" y="2365.13" font-size="23.91">CM from M1-like THP-1 cells</text>
</g>
<g id="p-q">
<text transform="translate(571.75 1938.78) scale(1 1)" font-size="57" font-weight="bold">q</text>
<text x="690.16" y="1892.35" font-size="23.89" style="fill:#e6193c">CT26 s.c.model</text>
<g transform="translate(710.5 1886.6) scale(0.06350 0.07180)">
<path d="M540 690 C450 665 350 612 235 603 C160 598 135 640 170 680 C200 712 262 722 288 752" fill="none" stroke="#e0a09c" stroke-width="30" stroke-linecap="round"/>
<path d="M530 785 L462 808 L468 832 L545 835 Z" fill="#e0a09c" />
<path d="M1035 525 L1060 425 C1125 445 1172 492 1182 560 Z" fill="#ebe8e4" />
<path d="M1078 452 C1122 472 1160 512 1176 556 L1140 535 C1125 500 1105 475 1078 452Z" fill="#e4aaa6" />
<path d="M688 985 L748 985 L742 1058 L770 1085 L768 1108 L700 1100 L642 1100 L640 1080 L690 1058 Z" fill="#e0a09c" />
<path d="M1000 920 L1056 920 L1046 978 L1112 1012 L1100 1030 L1022 1036 L990 1000 Z" fill="#e0a09c" />
<path d="M520 700 C520 620 600 572 700 552 C800 532 900 562 960 545 C1000 532 1030 520 1060 512 L1180 560 C1222 585 1252 600 1266 630 C1272 652 1250 672 1230 692 C1200 732 1160 782 1130 812 C1110 852 1092 892 1062 930 L990 925 C900 932 820 942 772 962 L762 995 L680 995 C672 952 662 902 640 882 C570 852 512 782 520 700 Z" fill="#ebe8e4" stroke="#d2ccc7" stroke-width="7" />
<path d="M560 640 C530 700 540 790 600 850 C590 780 590 700 620 620Z" fill="#d9d4cf" opacity="0.7"/>
<path d="M640 882 C662 902 672 952 680 995 L762 995 L772 962 C740 930 700 900 640 882Z" fill="#d9d4cf" />
<ellipse cx="835" cy="545" rx="100" ry="106" fill="#e4aaa6" />
<ellipse cx="862" cy="572" rx="42" ry="55" fill="#d48f8b" />
<ellipse cx="1030" cy="605" rx="27" ry="21" fill="#b0202a" />
<ellipse cx="1238" cy="632" rx="24" ry="20" fill="#e0a09c" />
<path d="M600 690 C590 655 640 640 690 652 C740 640 790 655 800 700 C830 740 825 790 790 815 C760 835 720 815 690 820 C650 835 610 810 605 770 C585 740 590 710 600 690Z" fill="#8fc6ee" />
<circle cx="730.24" cy="768.85" r="14.77" fill="#6aaede" />
<circle cx="789.35" cy="768.59" r="15.53" fill="#b9dcf5" />
<circle cx="620.37" cy="730.19" r="15.66" fill="#6aaede" />
<circle cx="735.06" cy="791.13" r="10.68" fill="#b9dcf5" />
<circle cx="701.78" cy="699.52" r="13.26" fill="#6aaede" />
<circle cx="721.18" cy="666.84" r="11.3" fill="#b9dcf5" />
<circle cx="666.7" cy="793.29" r="14.59" fill="#6aaede" />
<circle cx="644.53" cy="776.6" r="10.83" fill="#b9dcf5" />
<circle cx="729.23" cy="682.74" r="10.01" fill="#6aaede" />
<circle cx="776.21" cy="694.32" r="11.29" fill="#b9dcf5" />
<circle cx="796.75" cy="787.14" r="11.74" fill="#6aaede" />
<circle cx="792.87" cy="740.49" r="14.07" fill="#b9dcf5" />
<circle cx="652.88" cy="796.74" r="14.14" fill="#6aaede" />
<circle cx="793.81" cy="790.12" r="11.79" fill="#b9dcf5" />
<circle cx="681.82" cy="688.23" r="10.87" fill="#6aaede" />
<circle cx="627.05" cy="707.19" r="13.62" fill="#b9dcf5" />
<circle cx="615.63" cy="759.91" r="12.03" fill="#6aaede" />
<circle cx="672.34" cy="779.59" r="12.88" fill="#b9dcf5" />
<circle cx="673.42" cy="732.37" r="14.23" fill="#6aaede" />
<circle cx="625.55" cy="801.51" r="10.14" fill="#b9dcf5" />
<circle cx="753.71" cy="783.28" r="10.11" fill="#6aaede" />
<circle cx="760.73" cy="716.27" r="13.47" fill="#b9dcf5" />
<circle cx="616.68" cy="671.54" r="11.09" fill="#6aaede" />
<circle cx="791.71" cy="692.51" r="14.53" fill="#b9dcf5" />
<circle cx="786.99" cy="796.89" r="12.07" fill="#6aaede" />
<circle cx="680.64" cy="738.46" r="14.65" fill="#b9dcf5" />
<g transform="translate(440 203) rotate(-23)">
<rect x="-30" y="-4" width="60" height="13" fill="#a4adb4" rx="3" />
<rect x="-7" y="8" width="14" height="70" fill="#b4bcc3" />
<rect x="-46" y="74" width="92" height="15" fill="#c3cad0" rx="3" />
<rect x="-28" y="89" width="56" height="300" fill="#e6ebee" stroke="#8f999f" stroke-width="6" />
<rect x="-9" y="100" width="18" height="220" fill="#f7f9fa" />
<rect x="-22" y="325" width="44" height="60" fill="#7fc4ec" />
<rect x="-10" y="389" width="20" height="18" fill="#8f999f" />
<line x1="0" y1="405" x2="0" y2="490" stroke="#777" stroke-width="4" />
</g>
</g>
<text x="693.02" y="1986" font-size="23.84">BALB/C nude</text>
<text x="841.59" y="1945.36" font-size="23.81">CM from M1-like</text>
<text x="850.16" y="1974.89" font-size="24.15">RAW cells (i.t.)</text>
<line x1="666.03" y1="2004.44" x2="693.33" y2="2004.44" stroke="#1a97b5" stroke-width="2.6" />
<circle cx="679.68" cy="2004.44" r="6.6" fill="#1a97b5" />
<text x="695.56" y="2012.98" font-size="23.47" font-style="italic">Ctrl</text>
<line x1="666.03" y1="2034.6" x2="693.33" y2="2034.6" stroke="#ff2d0f" stroke-width="2.6" />
<circle cx="679.68" cy="2034.6" r="6.6" fill="#ff2d0f" />
<text x="695.56" y="2045.36" font-size="23.04"><tspan font-style="italic">Id1</tspan><tspan font-style="italic" font-size="19.36" dy="-9.22">OE</tspan></text>
<line x1="666.03" y1="2066.98" x2="693.33" y2="2066.98" stroke="#8c8c0a" stroke-width="2.6" />
<circle cx="679.68" cy="2066.98" r="6.6" fill="#8c8c0a" />
<text x="697.78" y="2071.71" font-size="23.47" font-style="italic">Ctrl</text>
<line x1="666.03" y1="2096.51" x2="693.33" y2="2096.51" stroke="#c77df0" stroke-width="2.6" />
<circle cx="679.68" cy="2096.51" r="6.6" fill="#c77df0" />
<text x="697.78" y="2103.46" font-size="23.04"><tspan font-style="italic">Id1</tspan><tspan font-style="italic" font-size="19.36" dy="-9.22">OE</tspan></text>
<line x1="764.44" y1="2054.29" x2="764.44" y2="2103.81" stroke="#000" stroke-width="4" />
<text x="771.75" y="2071.71" font-size="23.73">Y15</text>
<text x="773.33" y="2100.28" font-size="23.89">5 mg/kg/day</text>
<line x1="662.22" y1="2054.6" x2="662.22" y2="2304.44" stroke="#000" stroke-width="3" />
<line x1="651.11" y1="2293.65" x2="1022.99" y2="2293.65" stroke="#000" stroke-width="3" />
<line x1="651.11" y1="2056.19" x2="662.22" y2="2056.19" stroke="#000" stroke-width="2.8" />
<text x="648.25" y="2064.79" font-size="24" text-anchor="end">800</text>
<line x1="651.11" y1="2115.56" x2="662.22" y2="2115.56" stroke="#000" stroke-width="2.8" />
<text x="648.25" y="2124.16" font-size="24" text-anchor="end">600</text>
<line x1="651.11" y1="2174.92" x2="662.22" y2="2174.92" stroke="#000" stroke-width="2.8" />
<text x="648.25" y="2183.52" font-size="24" text-anchor="end">400</text>
<line x1="651.11" y1="2233.97" x2="662.22" y2="2233.97" stroke="#000" stroke-width="2.8" />
<text x="648.25" y="2242.57" font-size="24" text-anchor="end">200</text>
<line x1="651.11" y1="2293.33" x2="662.22" y2="2293.33" stroke="#000" stroke-width="2.8" />
<text x="648.25" y="2301.93" font-size="24" text-anchor="end">0</text>
<line x1="662.22" y1="2293.65" x2="662.22" y2="2304.44" stroke="#000" stroke-width="2.8" />
<text x="662.22" y="2329.25" font-size="24" text-anchor="middle">3</text>
<line x1="733.65" y1="2293.65" x2="733.65" y2="2304.44" stroke="#000" stroke-width="2.8" />
<text x="732.06" y="2329.25" font-size="24" text-anchor="middle">6</text>
<line x1="805.71" y1="2293.65" x2="805.71" y2="2304.44" stroke="#000" stroke-width="2.8" />
<text x="802.86" y="2329.25" font-size="24" text-anchor="middle">9</text>
<line x1="877.46" y1="2293.65" x2="877.46" y2="2304.44" stroke="#000" stroke-width="2.8" />
<text x="877.14" y="2329.25" font-size="24" text-anchor="middle">12</text>
<line x1="948.89" y1="2293.65" x2="948.89" y2="2304.44" stroke="#000" stroke-width="2.8" />
<text x="947.3" y="2329.25" font-size="24" text-anchor="middle">15</text>
<line x1="1020.95" y1="2293.65" x2="1020.95" y2="2304.44" stroke="#000" stroke-width="2.8" />
<text x="1013.65" y="2329.25" font-size="24" text-anchor="middle">18</text>
<text x="732.06" y="2352.03" font-size="23.87">Days after inoculation</text>
<text x="597.74" y="2274.29" font-size="21.76" transform="rotate(-90 597.74 2274.29)"><tspan>Tumor volume  (mm</tspan><tspan font-size="15.23" dy="-9.14">3</tspan><tspan dy="9.14">)</tspan></text>
<line x1="1020.95" y1="2204.44" x2="1020.95" y2="2219.68" stroke="#c77df0" stroke-width="2.4" />
<line x1="1012.7" y1="2204.44" x2="1029.21" y2="2204.44" stroke="#c77df0" stroke-width="2.4" />
<line x1="1012.7" y1="2219.68" x2="1029.21" y2="2219.68" stroke="#c77df0" stroke-width="2.4" />
<line x1="948.89" y1="2221.9" x2="948.89" y2="2236.19" stroke="#c77df0" stroke-width="2.4" />
<line x1="940.63" y1="2221.9" x2="957.14" y2="2221.9" stroke="#c77df0" stroke-width="2.4" />
<line x1="940.63" y1="2236.19" x2="957.14" y2="2236.19" stroke="#c77df0" stroke-width="2.4" />
<polyline points="662.22,2283.81 733.65,2266.35 805.71,2260 877.46,2242.54 948.89,2228.25 1020.95,2210.79" fill="none" stroke="#c77df0" stroke-width="2.8" stroke-linejoin="round" />
<circle cx="662.22" cy="2283.81" r="6.8" fill="#c77df0" />
<circle cx="733.65" cy="2266.35" r="6.8" fill="#c77df0" />
<circle cx="805.71" cy="2260" r="6.8" fill="#c77df0" />
<circle cx="877.46" cy="2242.54" r="6.8" fill="#c77df0" />
<circle cx="948.89" cy="2228.25" r="6.8" fill="#c77df0" />
<circle cx="1020.95" cy="2210.79" r="6.8" fill="#c77df0" />
<line x1="948.89" y1="2222.54" x2="948.89" y2="2239.37" stroke="#8c8c0a" stroke-width="2.4" />
<line x1="940.63" y1="2222.54" x2="957.14" y2="2222.54" stroke="#8c8c0a" stroke-width="2.4" />
<line x1="940.63" y1="2239.37" x2="957.14" y2="2239.37" stroke="#8c8c0a" stroke-width="2.4" />
<line x1="1020.95" y1="2202.86" x2="1020.95" y2="2213.97" stroke="#8c8c0a" stroke-width="2.4" />
<line x1="1012.7" y1="2202.86" x2="1029.21" y2="2202.86" stroke="#8c8c0a" stroke-width="2.4" />
<line x1="1012.7" y1="2213.97" x2="1029.21" y2="2213.97" stroke="#8c8c0a" stroke-width="2.4" />
<polyline points="662.22,2280.63 733.65,2267.3 805.71,2261.59 877.46,2240.95 948.89,2230.79 1020.95,2208.57" fill="none" stroke="#8c8c0a" stroke-width="2.8" stroke-linejoin="round" />
<circle cx="662.22" cy="2280.63" r="6.8" fill="#8c8c0a" />
<circle cx="733.65" cy="2267.3" r="6.8" fill="#8c8c0a" />
<circle cx="805.71" cy="2261.59" r="6.8" fill="#8c8c0a" />
<circle cx="877.46" cy="2240.95" r="6.8" fill="#8c8c0a" />
<circle cx="948.89" cy="2230.79" r="6.8" fill="#8c8c0a" />
<circle cx="1020.95" cy="2208.57" r="6.8" fill="#8c8c0a" />
<line x1="1020.95" y1="2152.7" x2="1020.95" y2="2178.41" stroke="#1a97b5" stroke-width="2.4" />
<line x1="1012.7" y1="2152.7" x2="1029.21" y2="2152.7" stroke="#1a97b5" stroke-width="2.4" />
<line x1="1012.7" y1="2178.41" x2="1029.21" y2="2178.41" stroke="#1a97b5" stroke-width="2.4" />
<polyline points="662.22,2266.98 733.65,2254.6 805.71,2248.25 877.46,2224.13 948.89,2198.73 1020.95,2165.71" fill="none" stroke="#1a97b5" stroke-width="2.8" stroke-linejoin="round" />
<circle cx="662.22" cy="2266.98" r="6.8" fill="#1a97b5" />
<circle cx="733.65" cy="2254.6" r="6.8" fill="#1a97b5" />
<circle cx="805.71" cy="2248.25" r="6.8" fill="#1a97b5" />
<circle cx="877.46" cy="2224.13" r="6.8" fill="#1a97b5" />
<circle cx="948.89" cy="2198.73" r="6.8" fill="#1a97b5" />
<circle cx="1020.95" cy="2165.71" r="6.8" fill="#1a97b5" />
<line x1="877.46" y1="2168.57" x2="877.46" y2="2186.98" stroke="#ff2d0f" stroke-width="2.4" />
<line x1="869.21" y1="2168.57" x2="885.71" y2="2168.57" stroke="#ff2d0f" stroke-width="2.4" />
<line x1="869.21" y1="2186.98" x2="885.71" y2="2186.98" stroke="#ff2d0f" stroke-width="2.4" />
<line x1="948.89" y1="2106.67" x2="948.89" y2="2137.14" stroke="#ff2d0f" stroke-width="2.4" />
<line x1="940.63" y1="2106.67" x2="957.14" y2="2106.67" stroke="#ff2d0f" stroke-width="2.4" />
<line x1="940.63" y1="2137.14" x2="957.14" y2="2137.14" stroke="#ff2d0f" stroke-width="2.4" />
<line x1="1020.95" y1="2072.7" x2="1020.95" y2="2102.86" stroke="#ff2d0f" stroke-width="2.4" />
<line x1="1012.7" y1="2072.7" x2="1029.21" y2="2072.7" stroke="#ff2d0f" stroke-width="2.4" />
<line x1="1012.7" y1="2102.86" x2="1029.21" y2="2102.86" stroke="#ff2d0f" stroke-width="2.4" />
<polyline points="662.22,2266.35 733.65,2242.54 805.71,2213.02 877.46,2178.1 948.89,2121.9 1020.95,2087.94" fill="none" stroke="#ff2d0f" stroke-width="2.8" stroke-linejoin="round" />
<circle cx="662.22" cy="2266.35" r="6.8" fill="#ff2d0f" />
<circle cx="733.65" cy="2242.54" r="6.8" fill="#ff2d0f" />
<circle cx="805.71" cy="2213.02" r="6.8" fill="#ff2d0f" />
<circle cx="877.46" cy="2178.1" r="6.8" fill="#ff2d0f" />
<circle cx="948.89" cy="2121.9" r="6.8" fill="#ff2d0f" />
<circle cx="1020.95" cy="2087.94" r="6.8" fill="#ff2d0f" />
<text x="1050.16" y="2053.65" font-size="24" transform="rotate(90 1050.16 2053.65)"><tspan font-style="italic">P</tspan><tspan> &lt; 0.0001</tspan></text>
<line x1="1040.63" y1="2082.22" x2="1040.63" y2="2174.92" stroke="#000" stroke-width="4" />
<text x="1065.4" y="2174.29" font-size="23" transform="rotate(90 1065.4 2174.29)"><tspan font-style="italic">P</tspan><tspan> = 0.0210</tspan></text>
<line x1="1059.05" y1="2172.7" x2="1059.05" y2="2215.56" stroke="#000" stroke-width="4" />
</g>
<g id="p-r">
<text transform="translate(1096.33 1937.19) scale(1 1)" font-size="57" font-weight="bold">r</text>
<text x="1192.11" y="1978.87" font-size="24.04">CM from M1-like RAW cells (i.t.)</text>
<text x="1269.66" y="2014.24" font-size="22.82"><tspan font-style="italic">P</tspan><tspan> &lt; 0.0001</tspan></text>
<line x1="1256.87" y1="2021.36" x2="1373.88" y2="2020.54" stroke="#231815" stroke-width="3" />
<text x="1209.25" y="2063.22" font-size="23.21"><tspan font-style="italic">P</tspan><tspan> = 0.0010</tspan></text>
<line x1="1247.35" y1="2069.52" x2="1298.5" y2="2068.71" stroke="#231815" stroke-width="3" />
<text x="1359.73" y="2178.32" font-size="23.04"><tspan font-style="italic">P</tspan><tspan> = 0.9957</tspan></text>
<line x1="1385.31" y1="2185.17" x2="1436.46" y2="2185.17" stroke="#231815" stroke-width="3" />
<line x1="1203.81" y1="2011.84" x2="1203.81" y2="2300.21" stroke="#000" stroke-width="3" />
<line x1="1191.56" y1="2298.91" x2="1488.98" y2="2298.91" stroke="#000" stroke-width="3" />
<line x1="1191.56" y1="2013.2" x2="1203.81" y2="2013.2" stroke="#000" stroke-width="2.8" />
<text x="1187.76" y="2021.8" font-size="24" text-anchor="end">0.7</text>
<line x1="1191.56" y1="2054.01" x2="1203.81" y2="2054.01" stroke="#000" stroke-width="2.8" />
<text x="1187.76" y="2062.61" font-size="24" text-anchor="end">0.6</text>
<line x1="1191.56" y1="2094.56" x2="1203.81" y2="2094.56" stroke="#000" stroke-width="2.8" />
<text x="1187.76" y="2103.16" font-size="24" text-anchor="end">0.5</text>
<line x1="1191.56" y1="2135.37" x2="1203.81" y2="2135.37" stroke="#000" stroke-width="2.8" />
<text x="1187.76" y="2143.97" font-size="24" text-anchor="end">0.4</text>
<line x1="1191.56" y1="2176.19" x2="1203.81" y2="2176.19" stroke="#000" stroke-width="2.8" />
<text x="1187.76" y="2184.79" font-size="24" text-anchor="end">0.3</text>
<line x1="1191.56" y1="2217.01" x2="1203.81" y2="2217.01" stroke="#000" stroke-width="2.8" />
<text x="1187.76" y="2225.61" font-size="24" text-anchor="end">0.2</text>
<line x1="1191.56" y1="2257.82" x2="1203.81" y2="2257.82" stroke="#000" stroke-width="2.8" />
<text x="1187.76" y="2266.42" font-size="24" text-anchor="end">0.1</text>
<line x1="1191.56" y1="2298.64" x2="1203.81" y2="2298.64" stroke="#000" stroke-width="2.8" />
<text x="1187.76" y="2307.24" font-size="24" text-anchor="end">0.0</text>
<line x1="1246.53" y1="2298.91" x2="1246.53" y2="2311.16" stroke="#000" stroke-width="2.8" />
<line x1="1312.11" y1="2298.91" x2="1312.11" y2="2311.16" stroke="#000" stroke-width="2.8" />
<line x1="1378.5" y1="2298.91" x2="1378.5" y2="2311.16" stroke="#000" stroke-width="2.8" />
<line x1="1444.63" y1="2298.91" x2="1444.63" y2="2311.16" stroke="#000" stroke-width="2.8" />
<path d="M1225.82 2298.91 V2167.72 H1267.52 V2298.91" fill="none" stroke="#0e9496" stroke-width="3.2" stroke-linejoin="miter"/>
<path d="M1291.67 2298.91 V2110.58 H1333.64 V2298.91" fill="none" stroke="#ff2d0f" stroke-width="3.2" stroke-linejoin="miter"/>
<path d="M1357.79 2298.91 V2234.93 H1400.03 V2298.91" fill="none" stroke="#8c8c0a" stroke-width="3.2" stroke-linejoin="miter"/>
<path d="M1423.91 2298.91 V2232.21 H1465.61 V2298.91" fill="none" stroke="#c77df0" stroke-width="3.2" stroke-linejoin="miter"/>
<line x1="1246.53" y1="2158.78" x2="1246.53" y2="2170.75" stroke="#0e9496" stroke-width="2.8" />
<line x1="1234.97" y1="2158.78" x2="1258.1" y2="2158.78" stroke="#0e9496" stroke-width="2.8" />
<line x1="1234.97" y1="2170.75" x2="1258.1" y2="2170.75" stroke="#0e9496" stroke-width="2.8" />
<circle cx="1230.48" cy="2151.16" r="5" fill="none" stroke="#0e9496" stroke-width="3.1" />
<circle cx="1241.36" cy="2152.52" r="5" fill="none" stroke="#0e9496" stroke-width="3.1" />
<circle cx="1252.24" cy="2151.7" r="5" fill="none" stroke="#0e9496" stroke-width="3.1" />
<circle cx="1263.67" cy="2150.34" r="5" fill="none" stroke="#0e9496" stroke-width="3.1" />
<circle cx="1230.48" cy="2167.48" r="5" fill="none" stroke="#0e9496" stroke-width="3.1" />
<circle cx="1263.67" cy="2165.31" r="5" fill="none" stroke="#0e9496" stroke-width="3.1" />
<circle cx="1263.67" cy="2187.35" r="5" fill="none" stroke="#0e9496" stroke-width="3.1" />
<circle cx="1230.48" cy="2195.51" r="5" fill="none" stroke="#0e9496" stroke-width="3.1" />
<line x1="1312.65" y1="2094.56" x2="1312.65" y2="2123.95" stroke="#ff2d0f" stroke-width="2.8" />
<line x1="1301.09" y1="2094.56" x2="1324.22" y2="2094.56" stroke="#ff2d0f" stroke-width="2.8" />
<line x1="1301.09" y1="2123.95" x2="1324.22" y2="2123.95" stroke="#ff2d0f" stroke-width="2.8" />
<circle cx="1312.65" cy="2037.41" r="5" fill="none" stroke="#ff2d0f" stroke-width="3.1" />
<circle cx="1328.98" cy="2072.24" r="5" fill="none" stroke="#ff2d0f" stroke-width="3.1" />
<circle cx="1296.33" cy="2081.77" r="5" fill="none" stroke="#ff2d0f" stroke-width="3.1" />
<circle cx="1296.33" cy="2117.96" r="5" fill="none" stroke="#ff2d0f" stroke-width="3.1" />
<circle cx="1328.98" cy="2115.78" r="5" fill="none" stroke="#ff2d0f" stroke-width="3.1" />
<circle cx="1312.65" cy="2138.91" r="5" fill="none" stroke="#ff2d0f" stroke-width="3.1" />
<circle cx="1328.98" cy="2152.52" r="5" fill="none" stroke="#ff2d0f" stroke-width="3.1" />
<circle cx="1296.33" cy="2159.32" r="5" fill="none" stroke="#ff2d0f" stroke-width="3.1" />
<line x1="1378.78" y1="2225.99" x2="1378.78" y2="2242.31" stroke="#8c8c0a" stroke-width="2.8" />
<line x1="1367.21" y1="2225.99" x2="1390.34" y2="2225.99" stroke="#8c8c0a" stroke-width="2.8" />
<line x1="1367.21" y1="2242.31" x2="1390.34" y2="2242.31" stroke="#8c8c0a" stroke-width="2.8" />
<circle cx="1378.78" cy="2197.41" r="5" fill="none" stroke="#8c8c0a" stroke-width="3.1" />
<circle cx="1378.78" cy="2216.46" r="5" fill="none" stroke="#8c8c0a" stroke-width="3.1" />
<circle cx="1395.1" cy="2226.53" r="5" fill="none" stroke="#8c8c0a" stroke-width="3.1" />
<circle cx="1362.45" cy="2230.61" r="5" fill="none" stroke="#8c8c0a" stroke-width="3.1" />
<circle cx="1383.95" cy="2234.15" r="5" fill="none" stroke="#8c8c0a" stroke-width="3.1" />
<circle cx="1372.52" cy="2239.59" r="5" fill="none" stroke="#8c8c0a" stroke-width="3.1" />
<circle cx="1362.45" cy="2264.63" r="5" fill="none" stroke="#8c8c0a" stroke-width="3.1" />
<circle cx="1395.1" cy="2261.36" r="5" fill="none" stroke="#8c8c0a" stroke-width="3.1" />
<line x1="1444.63" y1="2224.08" x2="1444.63" y2="2236.87" stroke="#c77df0" stroke-width="2.8" />
<line x1="1433.06" y1="2224.08" x2="1456.19" y2="2224.08" stroke="#c77df0" stroke-width="2.8" />
<line x1="1433.06" y1="2236.87" x2="1456.19" y2="2236.87" stroke="#c77df0" stroke-width="2.8" />
<circle cx="1428.3" cy="2205.58" r="5" fill="none" stroke="#c77df0" stroke-width="3.1" />
<circle cx="1460.95" cy="2200.95" r="5" fill="none" stroke="#c77df0" stroke-width="3.1" />
<circle cx="1428.3" cy="2230.07" r="5" fill="none" stroke="#c77df0" stroke-width="3.1" />
<circle cx="1460.95" cy="2233.33" r="5" fill="none" stroke="#c77df0" stroke-width="3.1" />
<circle cx="1436.46" cy="2238.23" r="5" fill="none" stroke="#c77df0" stroke-width="3.1" />
<circle cx="1452.79" cy="2240.95" r="5" fill="none" stroke="#c77df0" stroke-width="3.1" />
<circle cx="1444.63" cy="2244.22" r="5" fill="none" stroke="#c77df0" stroke-width="3.1" />
<circle cx="1444.63" cy="2258.64" r="5" fill="none" stroke="#c77df0" stroke-width="3.1" />
<text x="1143.63" y="2255.92" font-size="23.88" transform="rotate(-90 1143.63 2255.92)">Tumor weight (g)</text>
<text x="1225.58" y="2338.6" font-size="22.75" font-style="italic">Ctrl</text>
<text x="1283.54" y="2338.6" font-size="22.57"><tspan font-style="italic">Id1</tspan><tspan font-style="italic" font-size="18.96" dy="-9.03">OE</tspan></text>
<text x="1357.01" y="2338.6" font-size="23.1" font-style="italic">Ctrl</text>
<text x="1423.4" y="2338.6" font-size="22.57"><tspan font-style="italic">Id1</tspan><tspan font-style="italic" font-size="18.96" dy="-9.03">OE</tspan></text>
<line x1="1378.5" y1="2349.8" x2="1468.57" y2="2349.8" stroke="#231815" stroke-width="2.8" />
<text x="1402.45" y="2370.7" font-size="22.94">Y15</text>
</g>
<g id="p-s">
<text transform="translate(1560.86 1936.62) scale(1 1)" font-size="57" font-weight="bold">s</text>
<line x1="1660.47" y1="1930.4" x2="1689.15" y2="1930.4" stroke="#1a8fb5" stroke-width="2.8" />
<line x1="1660.47" y1="1955.18" x2="1689.15" y2="1955.18" stroke="#ff1010" stroke-width="2.8" />
<line x1="1660.47" y1="1980.47" x2="1689.15" y2="1980.47" stroke="#8c8c0a" stroke-width="2.8" />
<line x1="1660.47" y1="2005.24" x2="1689.15" y2="2005.24" stroke="#c066e6" stroke-width="2.8" />
<text x="1696.45" y="1935.02" font-size="22.97" font-style="italic">Ctrl</text>
<text x="1696.45" y="1961.87" font-size="22.69"><tspan font-style="italic">ID1</tspan><tspan font-style="italic" font-size="19.06" dy="-9.08">OE</tspan></text>
<text x="1696.45" y="1989.25" font-size="22.97" font-style="italic">Ctrl</text>
<text x="1696.45" y="2016.37" font-size="22.69"><tspan font-style="italic">ID1</tspan><tspan font-style="italic" font-size="19.06" dy="-9.08">OE</tspan></text>
<line x1="1761.12" y1="1965.61" x2="1761.12" y2="2020.89" stroke="#231815" stroke-width="3" />
<text x="1767.64" y="2002.81" font-size="23.3">Y15</text>
<text x="1827.61" y="1927.19" font-size="23.74">CM from</text>
<text x="1772.86" y="1955.88" font-size="24.03">M1-like THP-1 cells</text>
<text x="1634.39" y="2064.69" font-size="24" text-anchor="end">41</text>
<text x="1634.39" y="2128.05" font-size="24" text-anchor="end">30</text>
<text x="1634.39" y="2190.63" font-size="24" text-anchor="end">20</text>
<text x="1634.39" y="2253.22" font-size="24" text-anchor="end">10</text>
<text x="1634.39" y="2315.8" font-size="24" text-anchor="end">0</text>
<text x="1601.98" y="2212.54" font-size="24.33" transform="rotate(-90 1601.98 2212.54)">Count</text>
<text x="1755.12" y="2348.31" font-size="24">CD44 APC</text>
<line x1="1709.49" y1="2314.5" x2="1709.49" y2="2321.02" stroke="#10306f" stroke-width="1.6" />
<line x1="1782.5" y1="2314.5" x2="1782.5" y2="2321.02" stroke="#10306f" stroke-width="1.6" />
<line x1="1850.3" y1="2314.5" x2="1850.3" y2="2321.02" stroke="#10306f" stroke-width="1.6" />
<line x1="1919.4" y1="2314.5" x2="1919.4" y2="2321.02" stroke="#10306f" stroke-width="1.6" />
<line x1="1940.26" y1="2314.5" x2="1940.26" y2="2321.02" stroke="#10306f" stroke-width="1.6" />
<line x1="1654.73" y1="2314.5" x2="1654.73" y2="2318.93" stroke="#10306f" stroke-width="1.3" />
<line x1="1658.64" y1="2314.5" x2="1658.64" y2="2318.93" stroke="#10306f" stroke-width="1.3" />
<line x1="1662.56" y1="2314.5" x2="1662.56" y2="2318.93" stroke="#10306f" stroke-width="1.3" />
<line x1="1665.68" y1="2314.5" x2="1665.68" y2="2318.93" stroke="#10306f" stroke-width="1.3" />
<line x1="1669.07" y1="2314.5" x2="1669.07" y2="2318.93" stroke="#10306f" stroke-width="1.3" />
<line x1="1671.68" y1="2314.5" x2="1671.68" y2="2318.93" stroke="#10306f" stroke-width="1.3" />
<line x1="1674.29" y1="2314.5" x2="1674.29" y2="2318.93" stroke="#10306f" stroke-width="1.3" />
<line x1="1676.11" y1="2314.5" x2="1676.11" y2="2318.93" stroke="#10306f" stroke-width="1.3" />
<line x1="1678.2" y1="2314.5" x2="1678.2" y2="2318.93" stroke="#10306f" stroke-width="1.3" />
<path d="M1643.52 2290.25 C1648.43 2290.25 1667.21 2291.12 1672.99 2290.25 C1678.77 2289.38 1674.29 2286.12 1678.2 2285.03 C1682.11 2283.95 1691.24 2285.03 1696.45 2283.73 C1701.67 2282.43 1705.15 2282.64 1709.49 2277.21 C1713.84 2271.78 1718.62 2259.83 1722.53 2251.13 C1726.44 2242.44 1729.48 2235.92 1732.96 2225.06 C1736.44 2214.19 1739.91 2198.55 1743.39 2185.95 C1746.87 2173.34 1750.78 2157.04 1753.82 2149.44 C1756.86 2141.83 1759.47 2142.27 1761.64 2140.31 C1763.82 2138.36 1765.12 2136.62 1766.86 2137.71 C1768.6 2138.79 1769.9 2139.66 1772.07 2146.83 C1774.25 2154 1777.29 2167.26 1779.9 2180.73 C1782.5 2194.2 1785.11 2212.89 1787.72 2227.67 C1790.33 2242.44 1792.93 2257.65 1795.54 2269.39 C1798.15 2281.12 1800.32 2291.2 1803.36 2298.07 C1806.41 2304.94 1810.32 2308.11 1813.79 2310.59 C1817.27 2313.06 1822.49 2312.54 1824.22 2312.93" fill="none" stroke="#c99af2" stroke-width="3.4" stroke-linejoin="round"/>
<path d="M1643.52 2279.82 C1648.43 2279.82 1666.55 2280.69 1672.99 2279.82 C1679.42 2278.95 1678.2 2274.39 1682.11 2274.6 C1686.02 2274.82 1691.89 2281.56 1696.45 2281.12 C1701.02 2280.69 1705.15 2277.43 1709.49 2271.99 C1713.84 2266.56 1718.62 2256.78 1722.53 2248.53 C1726.44 2240.27 1729.48 2233.75 1732.96 2222.45 C1736.44 2211.15 1739.91 2194.2 1743.39 2180.73 C1746.87 2167.26 1750.78 2150.53 1753.82 2141.62 C1756.86 2132.71 1759.47 2130.32 1761.64 2127.28 C1763.82 2124.23 1765.12 2122.28 1766.86 2123.36 C1768.6 2124.45 1769.9 2125.54 1772.07 2133.79 C1774.25 2142.05 1777.29 2157.7 1779.9 2172.91 C1782.5 2188.12 1785.11 2209.41 1787.72 2225.06 C1790.33 2240.7 1792.93 2254.61 1795.54 2266.78 C1798.15 2278.95 1800.76 2290.9 1803.36 2298.07 C1805.97 2305.24 1808.58 2307.33 1811.19 2309.8 C1813.79 2312.28 1817.71 2312.41 1819.01 2312.93" fill="none" stroke="#8c8c0a" stroke-width="3.2" stroke-linejoin="round"/>
<path d="M1643.52 2311.63 C1648.43 2311.54 1665.47 2312.5 1672.99 2311.11 C1680.5 2309.72 1683.85 2305.37 1688.63 2303.29 C1693.41 2301.2 1694.28 2299.24 1701.67 2298.59 C1709.06 2297.94 1726.44 2300.33 1732.96 2299.37 C1739.48 2298.42 1738.17 2298.29 1740.78 2292.86 C1743.39 2287.42 1746 2278.95 1748.6 2266.78 C1751.21 2254.61 1753.82 2238.53 1756.43 2219.84 C1759.04 2201.16 1761.64 2177.69 1764.25 2154.65 C1766.86 2131.62 1769.9 2099.46 1772.07 2081.64 C1774.25 2063.82 1775.77 2054.7 1777.29 2047.74 C1778.81 2040.79 1779.9 2040.36 1781.2 2039.92 C1782.5 2039.49 1783.59 2039.05 1785.11 2045.14 C1786.63 2051.22 1788.15 2059.48 1790.33 2076.43 C1792.5 2093.38 1795.54 2122.93 1798.15 2146.83 C1800.76 2170.73 1803.36 2199.42 1805.97 2219.84 C1808.58 2240.27 1811.19 2256.78 1813.79 2269.39 C1816.4 2281.99 1819.01 2289.16 1821.62 2295.46 C1824.22 2301.76 1826.4 2304.37 1829.44 2307.2 C1832.48 2310.02 1838.13 2311.54 1839.87 2312.41" fill="none" stroke="#1787b8" stroke-width="4.3" stroke-linejoin="round"/>
<path d="M1680.81 2312.41 C1683.42 2311.33 1691.67 2307.85 1696.45 2305.89 C1701.23 2303.94 1702.54 2302.42 1709.49 2300.68 C1716.45 2298.94 1731.66 2296.55 1738.17 2295.46 C1744.69 2294.38 1744.69 2295.9 1748.6 2294.16 C1752.52 2292.42 1757.73 2290.47 1761.64 2285.03 C1765.55 2279.6 1769.03 2271.56 1772.07 2261.56 C1775.12 2251.57 1777.29 2242.01 1779.9 2225.06 C1782.5 2208.11 1785.11 2180.73 1787.72 2159.87 C1790.33 2139.01 1793.15 2115.54 1795.54 2099.9 C1797.93 2084.25 1800.1 2072.95 1802.06 2066 C1804.02 2059.04 1805.54 2058.39 1807.28 2058.17 C1809.01 2057.96 1810.53 2058.61 1812.49 2064.69 C1814.45 2070.78 1816.62 2078.82 1819.01 2094.68 C1821.4 2110.54 1824.22 2138.14 1826.83 2159.87 C1829.44 2181.6 1832.05 2206.37 1834.65 2225.06 C1837.26 2243.75 1839.87 2259.83 1842.48 2271.99 C1845.08 2284.16 1847.69 2291.99 1850.3 2298.07 C1852.91 2304.15 1854.21 2306.02 1858.12 2308.5 C1862.03 2310.98 1871.16 2312.19 1873.77 2312.93" fill="none" stroke="#ff1010" stroke-width="4.3" stroke-linejoin="round"/>
<line x1="1643.52" y1="2040.7" x2="1643.52" y2="2316.32" stroke="#231815" stroke-width="3.6" />
<line x1="1641.69" y1="2314.5" x2="1948.08" y2="2314.5" stroke="#231815" stroke-width="3.6" />
</g>
</svg>
</body></html>
